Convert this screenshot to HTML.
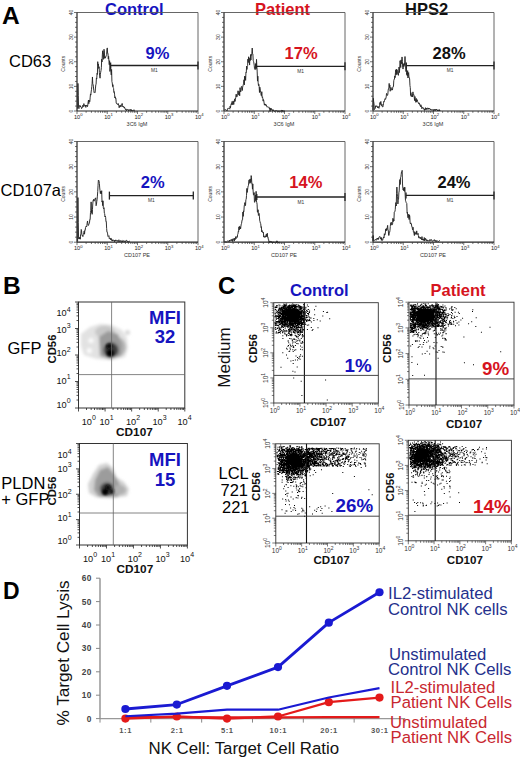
<!DOCTYPE html><html><head><meta charset="utf-8"><title>Figure</title><style>html,body{margin:0;padding:0;background:#fff;width:520px;height:758px;overflow:hidden}svg{display:block}</style></head><body><svg width="520" height="758" viewBox="0 0 520 758" font-family='"Liberation Sans", sans-serif'><defs><filter id="blur3" x="-50%" y="-50%" width="200%" height="200%"><feGaussianBlur stdDeviation="1.0"/></filter><filter id="blur15" x="-50%" y="-50%" width="200%" height="200%"><feGaussianBlur stdDeviation="1.5"/></filter></defs><rect width="520" height="758" fill="#fff"/><text x="2" y="24" font-size="24.5" font-weight="bold" fill="#000">A</text><text x="105" y="15" font-size="16.5" font-weight="bold" fill="#1614bf">Control</text><text x="255" y="15" font-size="16.5" font-weight="bold" fill="#d6141e">Patient</text><text x="405" y="15" font-size="16.5" font-weight="bold" fill="#111">HPS2</text><text x="9" y="66.5" font-size="16.5" fill="#000">CD63</text><text x="0.5" y="196" font-size="16.5" fill="#000">CD107a</text><line x1="77" y1="12.5" x2="198" y2="12.5" stroke="#555" stroke-width="0.9"/><line x1="198" y1="12.5" x2="198" y2="111" stroke="#555" stroke-width="0.9"/><line x1="77" y1="12.5" x2="77" y2="111" stroke="#222" stroke-width="1.2"/><line x1="77" y1="111" x2="198" y2="111" stroke="#222" stroke-width="1.2"/><path d="M74 111H77 M75 106.08H77 M75 101.15H77 M75 96.22H77 M75 91.3H77 M74 86.38H77 M75 81.45H77 M75 76.53H77 M75 71.6H77 M75 66.67H77 M74 61.75H77 M75 56.83H77 M75 51.9H77 M75 46.97H77 M75 42.05H77 M74 37.12H77 M75 32.2H77 M75 27.28H77 M75 22.35H77 M75 17.42H77 M74 12.5H77 M77 111v3 M86.11 111v1.8 M91.43 111v1.8 M95.21 111v1.8 M98.14 111v1.8 M100.54 111v1.8 M102.56 111v1.8 M104.32 111v1.8 M105.87 111v1.8 M107.25 111v3 M116.36 111v1.8 M121.68 111v1.8 M125.46 111v1.8 M128.39 111v1.8 M130.79 111v1.8 M132.81 111v1.8 M134.57 111v1.8 M136.12 111v1.8 M137.5 111v3 M146.61 111v1.8 M151.93 111v1.8 M155.71 111v1.8 M158.64 111v1.8 M161.04 111v1.8 M163.06 111v1.8 M164.82 111v1.8 M166.37 111v1.8 M167.75 111v3 M176.86 111v1.8 M182.18 111v1.8 M185.96 111v1.8 M188.89 111v1.8 M191.29 111v1.8 M193.31 111v1.8 M195.07 111v1.8 M196.62 111v1.8 M198 111v3" stroke="#333" stroke-width="0.7" fill="none"/><text x="71" y="111" font-size="5" fill="#333" text-anchor="middle" transform="rotate(-90 71 111)" dy="1.7">0</text><text x="71" y="86.38" font-size="5" fill="#333" text-anchor="middle" transform="rotate(-90 71 86.38)" dy="1.7">10</text><text x="71" y="61.75" font-size="5" fill="#333" text-anchor="middle" transform="rotate(-90 71 61.75)" dy="1.7">20</text><text x="71" y="37.12" font-size="5" fill="#333" text-anchor="middle" transform="rotate(-90 71 37.12)" dy="1.7">30</text><text x="71" y="12.5" font-size="5" fill="#333" text-anchor="middle" transform="rotate(-90 71 12.5)" dy="1.7">40</text><text x="74" y="119.2" font-size="5.6" fill="#222">10<tspan dy="-2.8" font-size="4.2">0</tspan></text><text x="104.25" y="119.2" font-size="5.6" fill="#222">10<tspan dy="-2.8" font-size="4.2">1</tspan></text><text x="134.5" y="119.2" font-size="5.6" fill="#222">10<tspan dy="-2.8" font-size="4.2">2</tspan></text><text x="164.75" y="119.2" font-size="5.6" fill="#222">10<tspan dy="-2.8" font-size="4.2">3</tspan></text><text x="195" y="119.2" font-size="5.6" fill="#222">10<tspan dy="-2.8" font-size="4.2">4</tspan></text><text x="137" y="125.5" font-size="5.5" fill="#333" text-anchor="middle">3C6 IgM</text><text x="65" y="63.75" font-size="5" fill="#333" text-anchor="middle" transform="rotate(-90 65 63.75)">Counts</text><polyline points="77.6,108.71 77.93,83.41 78.26,95.57 78.59,107.92 78.92,108.67 79.25,107.31 79.58,106.48 79.91,105.23 80.24,107.05 80.57,106.07 80.9,106.89 81.23,107.15 81.56,108.68 81.89,108.27 82.22,107.92 82.55,106.14 82.88,105.23 83.21,106.46 83.54,106.71 83.87,103.6 84.2,105.55 84.53,105.35 84.86,106.27 85.19,106.12 85.52,105.08 85.85,107.41 86.18,105.24 86.51,106 86.84,105.32 87.17,105.23 87.5,106.63 87.83,104.89 88.16,101.82 88.49,100 88.82,103.71 89.15,100.15 89.48,101.52 89.81,101.9 90.14,97.86 90.47,93.95 90.8,95.09 91.13,91.99 91.46,89.74 91.79,86.7 92.12,83.41 92.45,76.97 92.78,83.88 93.11,84.54 93.44,86.92 93.77,90.42 94.1,92.4 94.43,93.01 94.76,92.61 95.09,92.6 95.42,88.94 95.75,84.93 96.08,84.11 96.41,77.98 96.74,78.81 97.07,73.33 97.4,74.43 97.73,61.68 98.06,65.34 98.39,63.97 98.72,68.45 99.05,66.76 99.38,72.65 99.71,75.94 100.04,78.2 100.37,74.17 100.7,72.2 101.03,70.55 101.36,67.72 101.69,59.24 102.02,61.98 102.35,54.81 102.68,50.76 103.01,55.37 103.34,59.35 103.67,52.08 104,49.26 104.33,50.51 104.66,58.36 104.99,56.62 105.32,58.12 105.65,57.26 105.98,56.4 106.31,55.61 106.64,54.49 106.97,49.03 107.3,47.92 107.63,53.4 107.96,53.3 108.29,58.9 108.62,56.34 108.95,61.14 109.28,64.73 109.61,60.73 109.94,71.46 110.27,67.96 110.6,66.68 110.93,71.65 111.26,74.94 111.59,69.41 111.92,81.59 112.25,82.94 112.58,86.53 112.91,84.68 113.24,87.6 113.57,88.38 113.9,92.38 114.23,91.67 114.56,94.15 114.89,97.96 115.22,96.81 115.55,98.6 115.88,98.22 116.21,102.98 116.54,103.68 116.87,103.75 117.2,104.23 117.53,103.92 117.86,104.59 118.19,103.51 118.52,105 118.85,105.01 119.18,107.76 119.51,105.92 119.84,106.39 120.17,105.05 120.5,105.35 120.83,107.06 121.16,106.02 121.49,104.78 121.82,105.15 122.15,103.45 122.48,105.59 122.81,106.91 123.14,106.17 123.47,106.45 123.8,107.49 124.13,107.8 124.46,106.92 124.79,108.36 125.12,108.5 125.45,109.59 125.78,108.9 126.11,109.77 126.44,110.72 126.77,109.37 127.1,109.39 127.43,109.89 127.76,109.98 128.09,109.39 128.42,110.35 128.75,111 129.08,110.06 129.41,109.9 129.74,109.66 130.07,110.27 130.4,109.54 130.73,109.53 131.06,111 131.39,109.62 131.72,110.88 132.05,111 132.38,110.57 132.71,110.58 133.04,111 133.37,110.28 133.7,110.15 134.03,109.76 134.36,110.49 134.69,111" fill="none" stroke="#262626" stroke-width="0.95" stroke-linejoin="miter"/><line x1="110.6" y1="65.5" x2="198" y2="65.5" stroke="#222" stroke-width="1.3"/><line x1="198" y1="61.5" x2="198" y2="69.5" stroke="#222" stroke-width="1.3"/><line x1="110.6" y1="62.5" x2="110.6" y2="68.5" stroke="#222" stroke-width="1.3"/><text x="154.3" y="72" font-size="4.8" fill="#333" text-anchor="middle">M1</text><text x="145.5" y="59" font-size="16.5" font-weight="bold" fill="#1614bf">9%</text><line x1="224" y1="12.5" x2="345" y2="12.5" stroke="#555" stroke-width="0.9"/><line x1="345" y1="12.5" x2="345" y2="111" stroke="#555" stroke-width="0.9"/><line x1="224" y1="12.5" x2="224" y2="111" stroke="#222" stroke-width="1.2"/><line x1="224" y1="111" x2="345" y2="111" stroke="#222" stroke-width="1.2"/><path d="M221 111H224 M222 106.08H224 M222 101.15H224 M222 96.22H224 M222 91.3H224 M221 86.38H224 M222 81.45H224 M222 76.53H224 M222 71.6H224 M222 66.67H224 M221 61.75H224 M222 56.83H224 M222 51.9H224 M222 46.97H224 M222 42.05H224 M221 37.12H224 M222 32.2H224 M222 27.28H224 M222 22.35H224 M222 17.42H224 M221 12.5H224 M224 111v3 M233.11 111v1.8 M238.43 111v1.8 M242.21 111v1.8 M245.14 111v1.8 M247.54 111v1.8 M249.56 111v1.8 M251.32 111v1.8 M252.87 111v1.8 M254.25 111v3 M263.36 111v1.8 M268.68 111v1.8 M272.46 111v1.8 M275.39 111v1.8 M277.79 111v1.8 M279.81 111v1.8 M281.57 111v1.8 M283.12 111v1.8 M284.5 111v3 M293.61 111v1.8 M298.93 111v1.8 M302.71 111v1.8 M305.64 111v1.8 M308.04 111v1.8 M310.06 111v1.8 M311.82 111v1.8 M313.37 111v1.8 M314.75 111v3 M323.86 111v1.8 M329.18 111v1.8 M332.96 111v1.8 M335.89 111v1.8 M338.29 111v1.8 M340.31 111v1.8 M342.07 111v1.8 M343.62 111v1.8 M345 111v3" stroke="#333" stroke-width="0.7" fill="none"/><text x="218" y="111" font-size="5" fill="#333" text-anchor="middle" transform="rotate(-90 218 111)" dy="1.7">0</text><text x="218" y="86.38" font-size="5" fill="#333" text-anchor="middle" transform="rotate(-90 218 86.38)" dy="1.7">10</text><text x="218" y="61.75" font-size="5" fill="#333" text-anchor="middle" transform="rotate(-90 218 61.75)" dy="1.7">20</text><text x="218" y="37.12" font-size="5" fill="#333" text-anchor="middle" transform="rotate(-90 218 37.12)" dy="1.7">30</text><text x="218" y="12.5" font-size="5" fill="#333" text-anchor="middle" transform="rotate(-90 218 12.5)" dy="1.7">40</text><text x="221" y="119.2" font-size="5.6" fill="#222">10<tspan dy="-2.8" font-size="4.2">0</tspan></text><text x="251.25" y="119.2" font-size="5.6" fill="#222">10<tspan dy="-2.8" font-size="4.2">1</tspan></text><text x="281.5" y="119.2" font-size="5.6" fill="#222">10<tspan dy="-2.8" font-size="4.2">2</tspan></text><text x="311.75" y="119.2" font-size="5.6" fill="#222">10<tspan dy="-2.8" font-size="4.2">3</tspan></text><text x="342" y="119.2" font-size="5.6" fill="#222">10<tspan dy="-2.8" font-size="4.2">4</tspan></text><text x="284" y="125.5" font-size="5.5" fill="#333" text-anchor="middle">3C6 IgM</text><text x="212" y="63.75" font-size="5" fill="#333" text-anchor="middle" transform="rotate(-90 212 63.75)">Counts</text><polyline points="224.5,109.53 224.83,109.56 225.16,109.84 225.49,109.57 225.82,109.45 226.15,110.08 226.48,110.47 226.81,110.15 227.14,110.77 227.47,109.77 227.8,108.46 228.13,107.99 228.46,108.27 228.79,108.41 229.12,108.2 229.45,108.78 229.78,109.18 230.11,106.16 230.44,107.83 230.77,105.47 231.1,104.19 231.43,103.4 231.76,104.72 232.09,101.46 232.42,104.09 232.75,104.72 233.08,100.95 233.41,101.44 233.74,104.52 234.07,100.88 234.4,101.45 234.73,98.83 235.06,101.43 235.39,99.22 235.72,97.78 236.05,94.12 236.38,94.33 236.71,97.06 237.04,96.57 237.37,96.09 237.7,95.31 238.03,90.78 238.36,94.73 238.69,94.2 239.02,91.26 239.35,91.7 239.68,95.77 240.01,87.71 240.34,89.52 240.67,91.95 241,90.68 241.33,86.66 241.66,86.3 241.99,87.5 242.32,90.51 242.65,87.15 242.98,85.89 243.31,84.54 243.64,83.87 243.97,79.76 244.3,84.93 244.63,76.2 244.96,78.86 245.29,76.42 245.62,80.42 245.95,72.21 246.28,72.67 246.61,66.13 246.94,69.46 247.27,66.17 247.6,65.64 247.93,59.09 248.26,62.56 248.59,56.79 248.92,59.78 249.25,59.54 249.58,65.05 249.91,57.89 250.24,60.55 250.57,54.58 250.9,60 251.23,54.53 251.56,55.3 251.89,53.19 252.22,48.05 252.55,53.78 252.88,53.95 253.21,60.37 253.54,61.46 253.87,62.9 254.2,65.14 254.53,68.61 254.86,69.41 255.19,69.51 255.52,66.18 255.85,63.86 256.18,68.09 256.51,59.33 256.84,66.44 257.17,71.06 257.5,81.11 257.83,76.15 258.16,82.69 258.49,85.61 258.82,84.32 259.15,86.24 259.48,92.51 259.81,87.13 260.14,88.79 260.47,92.06 260.8,92.18 261.13,95.57 261.46,95.67 261.79,91.68 262.12,97.25 262.45,96.82 262.78,98.22 263.11,101.1 263.44,99.55 263.77,100.66 264.1,103.04 264.43,105.16 264.76,103.83 265.09,104.65 265.42,105.05 265.75,104.05 266.08,106.01 266.41,105.31 266.74,106.61 267.07,107.11 267.4,106.79 267.73,106.71 268.06,107.31 268.39,107.28 268.72,106.91 269.05,107.26 269.38,108.81 269.71,107.9 270.04,111.5 270.37,108.46 270.7,109.88 271.03,108.13 271.36,109.49 271.69,109.06 272.02,110.07 272.35,111.01 272.68,110.31 273.01,109.52 273.34,110.77 273.67,110.05 274,110.73 274.33,111.5 274.66,111.37 274.99,111.43 275.32,111.21 275.65,110.99 275.98,110.38 276.31,110.81 276.64,110.78 276.97,111.27 277.3,111.4 277.63,111.19 277.96,110.68 278.29,111.5 278.62,111.5 278.95,110.91 279.28,111.08 279.61,111.26 279.94,111.04 280.27,110.96 280.6,111.2 280.93,111 281.26,111.08 281.59,110.36 281.92,110.36 282.25,111.5 282.58,110.39 282.91,111.19 283.24,111.13 283.57,111.09 283.9,110.72 284.23,111.41 284.56,111.14 284.89,110.86" fill="none" stroke="#262626" stroke-width="0.95" stroke-linejoin="miter"/><line x1="256" y1="66.3" x2="345" y2="66.3" stroke="#222" stroke-width="1.3"/><line x1="345" y1="62.3" x2="345" y2="70.3" stroke="#222" stroke-width="1.3"/><line x1="256" y1="63.3" x2="256" y2="69.3" stroke="#222" stroke-width="1.3"/><text x="300.5" y="72.8" font-size="4.8" fill="#333" text-anchor="middle">M1</text><text x="284.6" y="58.8" font-size="16.5" font-weight="bold" fill="#d6141e">17%</text><line x1="373" y1="12.5" x2="494" y2="12.5" stroke="#555" stroke-width="0.9"/><line x1="494" y1="12.5" x2="494" y2="111" stroke="#555" stroke-width="0.9"/><line x1="373" y1="12.5" x2="373" y2="111" stroke="#222" stroke-width="1.2"/><line x1="373" y1="111" x2="494" y2="111" stroke="#222" stroke-width="1.2"/><path d="M370 111H373 M371 106.08H373 M371 101.15H373 M371 96.22H373 M371 91.3H373 M370 86.38H373 M371 81.45H373 M371 76.53H373 M371 71.6H373 M371 66.67H373 M370 61.75H373 M371 56.83H373 M371 51.9H373 M371 46.97H373 M371 42.05H373 M370 37.12H373 M371 32.2H373 M371 27.28H373 M371 22.35H373 M371 17.42H373 M370 12.5H373 M373 111v3 M382.11 111v1.8 M387.43 111v1.8 M391.21 111v1.8 M394.14 111v1.8 M396.54 111v1.8 M398.56 111v1.8 M400.32 111v1.8 M401.87 111v1.8 M403.25 111v3 M412.36 111v1.8 M417.68 111v1.8 M421.46 111v1.8 M424.39 111v1.8 M426.79 111v1.8 M428.81 111v1.8 M430.57 111v1.8 M432.12 111v1.8 M433.5 111v3 M442.61 111v1.8 M447.93 111v1.8 M451.71 111v1.8 M454.64 111v1.8 M457.04 111v1.8 M459.06 111v1.8 M460.82 111v1.8 M462.37 111v1.8 M463.75 111v3 M472.86 111v1.8 M478.18 111v1.8 M481.96 111v1.8 M484.89 111v1.8 M487.29 111v1.8 M489.31 111v1.8 M491.07 111v1.8 M492.62 111v1.8 M494 111v3" stroke="#333" stroke-width="0.7" fill="none"/><text x="367" y="111" font-size="5" fill="#333" text-anchor="middle" transform="rotate(-90 367 111)" dy="1.7">0</text><text x="367" y="86.38" font-size="5" fill="#333" text-anchor="middle" transform="rotate(-90 367 86.38)" dy="1.7">10</text><text x="367" y="61.75" font-size="5" fill="#333" text-anchor="middle" transform="rotate(-90 367 61.75)" dy="1.7">20</text><text x="367" y="37.12" font-size="5" fill="#333" text-anchor="middle" transform="rotate(-90 367 37.12)" dy="1.7">30</text><text x="367" y="12.5" font-size="5" fill="#333" text-anchor="middle" transform="rotate(-90 367 12.5)" dy="1.7">40</text><text x="370" y="119.2" font-size="5.6" fill="#222">10<tspan dy="-2.8" font-size="4.2">0</tspan></text><text x="400.25" y="119.2" font-size="5.6" fill="#222">10<tspan dy="-2.8" font-size="4.2">1</tspan></text><text x="430.5" y="119.2" font-size="5.6" fill="#222">10<tspan dy="-2.8" font-size="4.2">2</tspan></text><text x="460.75" y="119.2" font-size="5.6" fill="#222">10<tspan dy="-2.8" font-size="4.2">3</tspan></text><text x="491" y="119.2" font-size="5.6" fill="#222">10<tspan dy="-2.8" font-size="4.2">4</tspan></text><text x="433" y="125.5" font-size="5.5" fill="#333" text-anchor="middle">3C6 IgM</text><text x="361" y="63.75" font-size="5" fill="#333" text-anchor="middle" transform="rotate(-90 361 63.75)">Counts</text><polyline points="373,109.88 373.33,98.3 373.66,101.53 373.99,103.64 374.32,109.67 374.65,109.23 374.98,108.72 375.31,108.3 375.64,105.82 375.97,106.74 376.3,105.72 376.63,106.29 376.96,106.36 377.29,106.22 377.62,107.82 377.95,107 378.28,106.54 378.61,107.92 378.94,108.33 379.27,106.45 379.6,106.71 379.93,102.53 380.26,104.52 380.59,101.89 380.92,101.44 381.25,104.52 381.58,105.61 381.91,104.23 382.24,106.28 382.57,107.02 382.9,106.94 383.23,105.42 383.56,103.28 383.89,101.13 384.22,101.62 384.55,100.3 384.88,99.05 385.21,98.51 385.54,99.37 385.87,98.31 386.2,96.91 386.53,93.46 386.86,94.41 387.19,94.67 387.52,95.41 387.85,94.11 388.18,90.19 388.51,88.52 388.84,88.55 389.17,83.43 389.5,87.41 389.83,85.1 390.16,91.25 390.49,88.3 390.82,87.34 391.15,87.72 391.48,89.27 391.81,90.25 392.14,89.13 392.47,89.93 392.8,87.12 393.13,86.47 393.46,86.6 393.79,80.65 394.12,79.22 394.45,79.25 394.78,75.91 395.11,77.62 395.44,72.7 395.77,69.81 396.1,75.07 396.43,69.19 396.76,73.7 397.09,69.73 397.42,73.38 397.75,74.25 398.08,73.83 398.41,75.37 398.74,70.8 399.07,67 399.4,72.6 399.73,67.96 400.06,60.74 400.39,63.47 400.72,67.53 401.05,59.91 401.38,63.75 401.71,61.69 402.04,56.95 402.37,61.38 402.7,67.61 403.03,69.07 403.36,67.26 403.69,63.74 404.02,66.43 404.35,63.36 404.68,64.57 405.01,56.5 405.34,65.18 405.67,66.03 406,71.59 406.33,67.41 406.66,74.58 406.99,73.12 407.32,75.82 407.65,70.64 407.98,78.03 408.31,73.94 408.64,72.55 408.97,77.5 409.3,77.54 409.63,78.93 409.96,85.64 410.29,87.54 410.62,95.45 410.95,92.6 411.28,96.74 411.61,96.24 411.94,94.7 412.27,94.43 412.6,96.99 412.93,91.89 413.26,94.9 413.59,94.77 413.92,94.6 414.25,97.65 414.58,100.58 414.91,96.48 415.24,98.48 415.57,101.21 415.9,102.38 416.23,98.38 416.56,101.88 416.89,100.55 417.22,99.71 417.55,101.36 417.88,102.07 418.21,102.66 418.54,103.51 418.87,102.78 419.2,104.06 419.53,103.48 419.86,105.3 420.19,105.43 420.52,106.68 420.85,104.72 421.18,105.49 421.51,105.93 421.84,108.71 422.17,107.65 422.5,107.5 422.83,107.16 423.16,108 423.49,109.06 423.82,108.78 424.15,108.99 424.48,110.36 424.81,108.86 425.14,109.79 425.47,107.7 425.8,109.38 426.13,109.05 426.46,108.13 426.79,109.61 427.12,108.65 427.45,107.85 427.78,108.62 428.11,109.37 428.44,107.98 428.77,108.9 429.1,108.2 429.43,109.09 429.76,108.68 430.09,108.85 430.42,110.03 430.75,109.3 431.08,109.9 431.41,109.91 431.74,109.8 432.07,109.56 432.4,110 432.73,109.64 433.06,110.77 433.39,110.79 433.72,110.95 434.05,109.04 434.38,110.05 434.71,110.02 435.04,110.79 435.37,110.54 435.7,109.31 436.03,110.11 436.36,109.09 436.69,109.78 437.02,109.62 437.35,109.8 437.68,111 438.01,109.88 438.34,110.09 438.67,110.34 439,110.97 439.33,109.58 439.66,111 439.99,110.18" fill="none" stroke="#262626" stroke-width="0.95" stroke-linejoin="miter"/><line x1="406.3" y1="65.6" x2="494" y2="65.6" stroke="#222" stroke-width="1.3"/><line x1="494" y1="61.599999999999994" x2="494" y2="69.6" stroke="#222" stroke-width="1.3"/><line x1="406.3" y1="62.599999999999994" x2="406.3" y2="68.6" stroke="#222" stroke-width="1.3"/><text x="450.15" y="72.1" font-size="4.8" fill="#333" text-anchor="middle">M1</text><text x="432.6" y="58.8" font-size="16.5" font-weight="bold" fill="#111">28%</text><line x1="77" y1="141.5" x2="198" y2="141.5" stroke="#555" stroke-width="0.9"/><line x1="198" y1="141.5" x2="198" y2="242.2" stroke="#555" stroke-width="0.9"/><line x1="77" y1="141.5" x2="77" y2="242.2" stroke="#222" stroke-width="1.2"/><line x1="77" y1="242.2" x2="198" y2="242.2" stroke="#222" stroke-width="1.2"/><path d="M74 242.2H77 M75 237.16H77 M75 232.13H77 M75 227.09H77 M75 222.06H77 M74 217.02H77 M75 211.99H77 M75 206.95H77 M75 201.92H77 M75 196.88H77 M74 191.85H77 M75 186.81H77 M75 181.78H77 M75 176.75H77 M75 171.71H77 M74 166.68H77 M75 161.64H77 M75 156.6H77 M75 151.57H77 M75 146.53H77 M74 141.5H77 M77 242.2v3 M86.11 242.2v1.8 M91.43 242.2v1.8 M95.21 242.2v1.8 M98.14 242.2v1.8 M100.54 242.2v1.8 M102.56 242.2v1.8 M104.32 242.2v1.8 M105.87 242.2v1.8 M107.25 242.2v3 M116.36 242.2v1.8 M121.68 242.2v1.8 M125.46 242.2v1.8 M128.39 242.2v1.8 M130.79 242.2v1.8 M132.81 242.2v1.8 M134.57 242.2v1.8 M136.12 242.2v1.8 M137.5 242.2v3 M146.61 242.2v1.8 M151.93 242.2v1.8 M155.71 242.2v1.8 M158.64 242.2v1.8 M161.04 242.2v1.8 M163.06 242.2v1.8 M164.82 242.2v1.8 M166.37 242.2v1.8 M167.75 242.2v3 M176.86 242.2v1.8 M182.18 242.2v1.8 M185.96 242.2v1.8 M188.89 242.2v1.8 M191.29 242.2v1.8 M193.31 242.2v1.8 M195.07 242.2v1.8 M196.62 242.2v1.8 M198 242.2v3" stroke="#333" stroke-width="0.7" fill="none"/><text x="71" y="242.2" font-size="5" fill="#333" text-anchor="middle" transform="rotate(-90 71 242.2)" dy="1.7">0</text><text x="71" y="217.02" font-size="5" fill="#333" text-anchor="middle" transform="rotate(-90 71 217.02)" dy="1.7">10</text><text x="71" y="191.85" font-size="5" fill="#333" text-anchor="middle" transform="rotate(-90 71 191.85)" dy="1.7">20</text><text x="71" y="166.68" font-size="5" fill="#333" text-anchor="middle" transform="rotate(-90 71 166.68)" dy="1.7">30</text><text x="71" y="141.5" font-size="5" fill="#333" text-anchor="middle" transform="rotate(-90 71 141.5)" dy="1.7">40</text><text x="74" y="250.4" font-size="5.6" fill="#222">10<tspan dy="-2.8" font-size="4.2">0</tspan></text><text x="104.25" y="250.4" font-size="5.6" fill="#222">10<tspan dy="-2.8" font-size="4.2">1</tspan></text><text x="134.5" y="250.4" font-size="5.6" fill="#222">10<tspan dy="-2.8" font-size="4.2">2</tspan></text><text x="164.75" y="250.4" font-size="5.6" fill="#222">10<tspan dy="-2.8" font-size="4.2">3</tspan></text><text x="195" y="250.4" font-size="5.6" fill="#222">10<tspan dy="-2.8" font-size="4.2">4</tspan></text><text x="137" y="256.7" font-size="5.5" fill="#333" text-anchor="middle">CD107 PE</text><text x="65" y="193.85" font-size="5" fill="#333" text-anchor="middle" transform="rotate(-90 65 193.85)">Counts</text><polyline points="77.6,241.39 77.93,197.58 78.26,222.62 78.59,238.04 78.92,239.05 79.25,237.78 79.58,238.89 79.91,237.04 80.24,239.22 80.57,234.39 80.9,233.88 81.23,229.44 81.56,230.72 81.89,234.92 82.22,235.77 82.55,235.48 82.88,236.62 83.21,234.73 83.54,234.21 83.87,232.59 84.2,231.06 84.53,234.21 84.86,230.01 85.19,230.2 85.52,227.64 85.85,226.98 86.18,226.08 86.51,226.88 86.84,226.1 87.17,223.12 87.5,220.98 87.83,223.19 88.16,225.28 88.49,225.41 88.82,224.38 89.15,223.73 89.48,222.91 89.81,219.53 90.14,219.62 90.47,212.65 90.8,210.56 91.13,201.88 91.46,212.64 91.79,209.88 92.12,214.32 92.45,209.76 92.78,203.96 93.11,200.35 93.44,200.78 93.77,199.2 94.1,201.2 94.43,200.4 94.76,199.88 95.09,198.39 95.42,198.66 95.75,197.82 96.08,205.7 96.41,204.63 96.74,201.71 97.07,199.77 97.4,196.13 97.73,191.39 98.06,185.33 98.39,180.02 98.72,180.36 99.05,181.12 99.38,183.46 99.71,187.98 100.04,190.74 100.37,193.6 100.7,191.11 101.03,192.23 101.36,193.92 101.69,190.69 102.02,202.06 102.35,200.88 102.68,205.63 103.01,200.82 103.34,207.67 103.67,208.71 104,207.7 104.33,213.23 104.66,213.51 104.99,216.97 105.32,216.07 105.65,217.51 105.98,221.74 106.31,221.55 106.64,228.48 106.97,232.15 107.3,232.18 107.63,233.89 107.96,236.37 108.29,236 108.62,236.22 108.95,235.71 109.28,238.5 109.61,238 109.94,238.7 110.27,239.32 110.6,239.72 110.93,237.98 111.26,239.96 111.59,239.43 111.92,240.72 112.25,239.96 112.58,241.02 112.91,239.71 113.24,240.2 113.57,240.16 113.9,240.67 114.23,240.29 114.56,241.64 114.89,240.19 115.22,241.05 115.55,240.07 115.88,240.2 116.21,240.51 116.54,240.2 116.87,241.04 117.2,240.68 117.53,240.54 117.86,241.42 118.19,241.83 118.52,240.63 118.85,239.75 119.18,240.82 119.51,240.85 119.84,241.79 120.17,240.8 120.5,240.6 120.83,241.32 121.16,241.76 121.49,240.73 121.82,241.19 122.15,241.05 122.48,242 122.81,240.52 123.14,240.74 123.47,240.87 123.8,241.52 124.13,240.77 124.46,241.36 124.79,241.5 125.12,242 125.45,240.98 125.78,240.96 126.11,240.85 126.44,240.18 126.77,240.44 127.1,241.51 127.43,241.31 127.76,242 128.09,241.93 128.42,241.78 128.75,242 129.08,241.16 129.41,241.16 129.74,241.15" fill="none" stroke="#262626" stroke-width="0.95" stroke-linejoin="miter"/><line x1="109.4" y1="195.6" x2="193.3" y2="195.6" stroke="#222" stroke-width="1.3"/><line x1="193.3" y1="191.6" x2="193.3" y2="199.6" stroke="#222" stroke-width="1.3"/><line x1="109.4" y1="191.6" x2="109.4" y2="199.6" stroke="#222" stroke-width="1.3"/><text x="151.35" y="202.1" font-size="4.8" fill="#333" text-anchor="middle">M1</text><text x="140.8" y="188" font-size="16.5" font-weight="bold" fill="#1614bf">2%</text><line x1="224" y1="141.5" x2="345" y2="141.5" stroke="#555" stroke-width="0.9"/><line x1="345" y1="141.5" x2="345" y2="242.2" stroke="#555" stroke-width="0.9"/><line x1="224" y1="141.5" x2="224" y2="242.2" stroke="#222" stroke-width="1.2"/><line x1="224" y1="242.2" x2="345" y2="242.2" stroke="#222" stroke-width="1.2"/><path d="M221 242.2H224 M222 237.16H224 M222 232.13H224 M222 227.09H224 M222 222.06H224 M221 217.02H224 M222 211.99H224 M222 206.95H224 M222 201.92H224 M222 196.88H224 M221 191.85H224 M222 186.81H224 M222 181.78H224 M222 176.75H224 M222 171.71H224 M221 166.68H224 M222 161.64H224 M222 156.6H224 M222 151.57H224 M222 146.53H224 M221 141.5H224 M224 242.2v3 M233.11 242.2v1.8 M238.43 242.2v1.8 M242.21 242.2v1.8 M245.14 242.2v1.8 M247.54 242.2v1.8 M249.56 242.2v1.8 M251.32 242.2v1.8 M252.87 242.2v1.8 M254.25 242.2v3 M263.36 242.2v1.8 M268.68 242.2v1.8 M272.46 242.2v1.8 M275.39 242.2v1.8 M277.79 242.2v1.8 M279.81 242.2v1.8 M281.57 242.2v1.8 M283.12 242.2v1.8 M284.5 242.2v3 M293.61 242.2v1.8 M298.93 242.2v1.8 M302.71 242.2v1.8 M305.64 242.2v1.8 M308.04 242.2v1.8 M310.06 242.2v1.8 M311.82 242.2v1.8 M313.37 242.2v1.8 M314.75 242.2v3 M323.86 242.2v1.8 M329.18 242.2v1.8 M332.96 242.2v1.8 M335.89 242.2v1.8 M338.29 242.2v1.8 M340.31 242.2v1.8 M342.07 242.2v1.8 M343.62 242.2v1.8 M345 242.2v3" stroke="#333" stroke-width="0.7" fill="none"/><text x="218" y="242.2" font-size="5" fill="#333" text-anchor="middle" transform="rotate(-90 218 242.2)" dy="1.7">0</text><text x="218" y="217.02" font-size="5" fill="#333" text-anchor="middle" transform="rotate(-90 218 217.02)" dy="1.7">10</text><text x="218" y="191.85" font-size="5" fill="#333" text-anchor="middle" transform="rotate(-90 218 191.85)" dy="1.7">20</text><text x="218" y="166.68" font-size="5" fill="#333" text-anchor="middle" transform="rotate(-90 218 166.68)" dy="1.7">30</text><text x="218" y="141.5" font-size="5" fill="#333" text-anchor="middle" transform="rotate(-90 218 141.5)" dy="1.7">40</text><text x="221" y="250.4" font-size="5.6" fill="#222">10<tspan dy="-2.8" font-size="4.2">0</tspan></text><text x="251.25" y="250.4" font-size="5.6" fill="#222">10<tspan dy="-2.8" font-size="4.2">1</tspan></text><text x="281.5" y="250.4" font-size="5.6" fill="#222">10<tspan dy="-2.8" font-size="4.2">2</tspan></text><text x="311.75" y="250.4" font-size="5.6" fill="#222">10<tspan dy="-2.8" font-size="4.2">3</tspan></text><text x="342" y="250.4" font-size="5.6" fill="#222">10<tspan dy="-2.8" font-size="4.2">4</tspan></text><text x="284" y="256.7" font-size="5.5" fill="#333" text-anchor="middle">CD107 PE</text><text x="212" y="193.85" font-size="5" fill="#333" text-anchor="middle" transform="rotate(-90 212 193.85)">Counts</text><polyline points="224.75,241.47 225.08,241.78 225.41,241.63 225.74,242.06 226.07,242.23 226.4,241.75 226.73,241.84 227.06,241.55 227.39,241.24 227.72,241.01 228.05,241.22 228.38,241.53 228.71,241.3 229.04,241.48 229.37,240.03 229.7,241.45 230.03,240.3 230.36,240.01 230.69,240.39 231.02,239.8 231.35,240.73 231.68,239.37 232.01,239.25 232.34,239.09 232.67,241.5 233,239.66 233.33,238.82 233.66,239.37 233.99,238.55 234.32,241.13 234.65,238.25 234.98,239.5 235.31,239.45 235.64,236.68 235.97,238.41 236.3,238.42 236.63,237.74 236.96,236.53 237.29,237.27 237.62,234.52 237.95,233.86 238.28,231.53 238.61,231.93 238.94,226.84 239.27,229.86 239.6,226.33 239.93,226.3 240.26,226.91 240.59,228.91 240.92,226.29 241.25,224.04 241.58,223.38 241.91,221.03 242.24,219.58 242.57,219.69 242.9,211.97 243.23,216.37 243.56,210.86 243.89,211.52 244.22,205.96 244.55,204.32 244.88,202.58 245.21,205.8 245.54,205.39 245.87,199.73 246.2,199.22 246.53,195.39 246.86,188.44 247.19,192.44 247.52,190.15 247.85,187.69 248.18,185.76 248.51,185.53 248.84,180.18 249.17,180.31 249.5,179.75 249.83,183.41 250.16,178.95 250.49,182.59 250.82,182.25 251.15,175.6 251.48,177.3 251.81,183.71 252.14,183.44 252.47,189.17 252.8,183.9 253.13,191.09 253.46,194.62 253.79,195.19 254.12,192.58 254.45,202.18 254.78,202.32 255.11,200.57 255.44,194.98 255.77,200.71 256.1,191.34 256.43,200.9 256.76,202.54 257.09,204.17 257.42,211.98 257.75,212.38 258.08,209.72 258.41,215.46 258.74,214.52 259.07,213.39 259.4,216.14 259.73,220.76 260.06,221.7 260.39,223.3 260.72,223.5 261.05,227.46 261.38,226.68 261.71,231.82 262.04,230.49 262.37,232.2 262.7,232.41 263.03,232.41 263.36,231.97 263.69,237.1 264.02,235.82 264.35,236.4 264.68,237.41 265.01,236.81 265.34,237.1 265.67,235.89 266,236.15 266.33,234.07 266.66,236.82 266.99,234.81 267.32,233.22 267.65,237.11 267.98,237.02 268.31,239.54 268.64,239.43 268.97,242.09 269.3,242.75 269.63,241.33 269.96,242.1 270.29,241.91 270.62,242.12 270.95,241.13 271.28,241.42 271.61,242.37 271.94,242.05 272.27,242.75 272.6,241.84 272.93,242.3 273.26,242.75 273.59,241.94 273.92,241.84 274.25,242.21 274.58,242.15 274.91,242.62 275.24,242.22 275.57,241.83 275.9,242.17 276.23,242.75 276.56,242.68 276.89,240.81 277.22,241.99 277.55,241.66 277.88,242.38 278.21,242.01 278.54,242.75 278.87,242.56 279.2,242.5 279.53,242.23 279.86,241.97" fill="none" stroke="#262626" stroke-width="0.95" stroke-linejoin="miter"/><line x1="256.8" y1="197.0" x2="345" y2="197.0" stroke="#222" stroke-width="1.3"/><line x1="345" y1="193.0" x2="345" y2="201.0" stroke="#222" stroke-width="1.3"/><line x1="256.8" y1="194.0" x2="256.8" y2="200.0" stroke="#222" stroke-width="1.3"/><text x="300.9" y="203.5" font-size="4.8" fill="#333" text-anchor="middle">M1</text><text x="289.3" y="187.6" font-size="16.5" font-weight="bold" fill="#d6141e">14%</text><line x1="373" y1="141.5" x2="494" y2="141.5" stroke="#555" stroke-width="0.9"/><line x1="494" y1="141.5" x2="494" y2="242.2" stroke="#555" stroke-width="0.9"/><line x1="373" y1="141.5" x2="373" y2="242.2" stroke="#222" stroke-width="1.2"/><line x1="373" y1="242.2" x2="494" y2="242.2" stroke="#222" stroke-width="1.2"/><path d="M370 242.2H373 M371 237.16H373 M371 232.13H373 M371 227.09H373 M371 222.06H373 M370 217.02H373 M371 211.99H373 M371 206.95H373 M371 201.92H373 M371 196.88H373 M370 191.85H373 M371 186.81H373 M371 181.78H373 M371 176.75H373 M371 171.71H373 M370 166.68H373 M371 161.64H373 M371 156.6H373 M371 151.57H373 M371 146.53H373 M370 141.5H373 M373 242.2v3 M382.11 242.2v1.8 M387.43 242.2v1.8 M391.21 242.2v1.8 M394.14 242.2v1.8 M396.54 242.2v1.8 M398.56 242.2v1.8 M400.32 242.2v1.8 M401.87 242.2v1.8 M403.25 242.2v3 M412.36 242.2v1.8 M417.68 242.2v1.8 M421.46 242.2v1.8 M424.39 242.2v1.8 M426.79 242.2v1.8 M428.81 242.2v1.8 M430.57 242.2v1.8 M432.12 242.2v1.8 M433.5 242.2v3 M442.61 242.2v1.8 M447.93 242.2v1.8 M451.71 242.2v1.8 M454.64 242.2v1.8 M457.04 242.2v1.8 M459.06 242.2v1.8 M460.82 242.2v1.8 M462.37 242.2v1.8 M463.75 242.2v3 M472.86 242.2v1.8 M478.18 242.2v1.8 M481.96 242.2v1.8 M484.89 242.2v1.8 M487.29 242.2v1.8 M489.31 242.2v1.8 M491.07 242.2v1.8 M492.62 242.2v1.8 M494 242.2v3" stroke="#333" stroke-width="0.7" fill="none"/><text x="367" y="242.2" font-size="5" fill="#333" text-anchor="middle" transform="rotate(-90 367 242.2)" dy="1.7">0</text><text x="367" y="217.02" font-size="5" fill="#333" text-anchor="middle" transform="rotate(-90 367 217.02)" dy="1.7">10</text><text x="367" y="191.85" font-size="5" fill="#333" text-anchor="middle" transform="rotate(-90 367 191.85)" dy="1.7">20</text><text x="367" y="166.68" font-size="5" fill="#333" text-anchor="middle" transform="rotate(-90 367 166.68)" dy="1.7">30</text><text x="367" y="141.5" font-size="5" fill="#333" text-anchor="middle" transform="rotate(-90 367 141.5)" dy="1.7">40</text><text x="370" y="250.4" font-size="5.6" fill="#222">10<tspan dy="-2.8" font-size="4.2">0</tspan></text><text x="400.25" y="250.4" font-size="5.6" fill="#222">10<tspan dy="-2.8" font-size="4.2">1</tspan></text><text x="430.5" y="250.4" font-size="5.6" fill="#222">10<tspan dy="-2.8" font-size="4.2">2</tspan></text><text x="460.75" y="250.4" font-size="5.6" fill="#222">10<tspan dy="-2.8" font-size="4.2">3</tspan></text><text x="491" y="250.4" font-size="5.6" fill="#222">10<tspan dy="-2.8" font-size="4.2">4</tspan></text><text x="433" y="256.7" font-size="5.5" fill="#333" text-anchor="middle">CD107 PE</text><text x="361" y="193.85" font-size="5" fill="#333" text-anchor="middle" transform="rotate(-90 361 193.85)">Counts</text><polyline points="372.8,240.86 373.13,235.46 373.46,239.18 373.79,240.87 374.12,240.12 374.45,239.91 374.78,240.27 375.11,239.82 375.44,239.79 375.77,239.21 376.1,239.97 376.43,240.24 376.76,239.92 377.09,238.17 377.42,239.18 377.75,238.01 378.08,238.84 378.41,239.44 378.74,237.55 379.07,237.33 379.4,236.61 379.73,236.68 380.06,236.55 380.39,238.93 380.72,238.25 381.05,237.52 381.38,240.37 381.71,237.75 382.04,240.26 382.37,240.32 382.7,240.19 383.03,238.58 383.36,238.3 383.69,236.9 384.02,237.81 384.35,233.72 384.68,235.14 385.01,234.93 385.34,233 385.67,229.19 386,230.98 386.33,228.45 386.66,230.26 386.99,229.35 387.32,227.12 387.65,225.36 387.98,230.43 388.31,230.35 388.64,235.31 388.97,235.53 389.3,232.26 389.63,232.36 389.96,230.52 390.29,226.43 390.62,223.09 390.95,223.06 391.28,222.19 391.61,224.94 391.94,224.86 392.27,224.83 392.6,224.06 392.93,218.29 393.26,221.62 393.59,219.36 393.92,220.98 394.25,212.19 394.58,211.72 394.91,211.67 395.24,209.65 395.57,204.57 395.9,202.55 396.23,206.01 396.56,193.71 396.89,187.08 397.22,193.74 397.55,196.69 397.88,203.96 398.21,200.61 398.54,199.38 398.87,192.83 399.2,190.88 399.53,183.88 399.86,179.58 400.19,184.47 400.52,177.39 400.85,176.82 401.18,174.45 401.51,171.96 401.84,171.5 402.17,170.37 402.5,183.97 402.83,188.23 403.16,190.03 403.49,188.4 403.82,190.82 404.15,187.28 404.48,191.33 404.81,187.25 405.14,193.97 405.47,200.26 405.8,201.45 406.13,202.45 406.46,203.13 406.79,203.52 407.12,213.23 407.45,212.2 407.78,217.69 408.11,217.92 408.44,217.57 408.77,214.14 409.1,219.53 409.43,215.01 409.76,216.01 410.09,222.33 410.42,223.89 410.75,222.82 411.08,224.2 411.41,223.88 411.74,226.57 412.07,226.59 412.4,228.66 412.73,229.86 413.06,227.23 413.39,231.9 413.72,231.87 414.05,233.75 414.38,235.52 414.71,231.62 415.04,234.34 415.37,234.17 415.7,233.16 416.03,232.41 416.36,234.41 416.69,230.88 417.02,233.64 417.35,234.1 417.68,234.54 418.01,233.22 418.34,235.39 418.67,237.7 419,238.13 419.33,236.85 419.66,236.95 419.99,237.81 420.32,238.7 420.65,237.32 420.98,238.17 421.31,239.06 421.64,239.75 421.97,236.61 422.3,239.99 422.63,239.07 422.96,240.18 423.29,239.14 423.62,239.88 423.95,240.63 424.28,237.52 424.61,240.8 424.94,240.29 425.27,238.73 425.6,238.25 425.93,240.18 426.26,239.56 426.59,240.83 426.92,240.38 427.25,240.09 427.58,241.11 427.91,240.37 428.24,240.85 428.57,240.77 428.9,240.67 429.23,240.81 429.56,241.07 429.89,239.52 430.22,240.42 430.55,240.45 430.88,240.41 431.21,239.41 431.54,240.44 431.87,240.63 432.2,240.86 432.53,241.34 432.86,240.38 433.19,240.31 433.52,240.38 433.85,240.51 434.18,240.42 434.51,239.7 434.84,241.05 435.17,241.26 435.5,241.41 435.83,240.17 436.16,240.79 436.49,241.5 436.82,240.82 437.15,241.03 437.48,240.84 437.81,241.34 438.14,241.4 438.47,241.5 438.8,241.24 439.13,241.13 439.46,240.47 439.79,240.8" fill="none" stroke="#262626" stroke-width="0.95" stroke-linejoin="miter"/><line x1="406.0" y1="195.4" x2="494" y2="195.4" stroke="#222" stroke-width="1.3"/><line x1="494" y1="191.4" x2="494" y2="199.4" stroke="#222" stroke-width="1.3"/><line x1="406.0" y1="192.4" x2="406.0" y2="198.4" stroke="#222" stroke-width="1.3"/><text x="450" y="201.9" font-size="4.8" fill="#333" text-anchor="middle">M1</text><text x="437.5" y="187.6" font-size="16.5" font-weight="bold" fill="#111">24%</text><text x="3" y="294" font-size="24.5" font-weight="bold" fill="#000">B</text><text x="7.5" y="354.2" font-size="16.5" fill="#000">GFP</text><text x="1.3" y="489" font-size="16.5" fill="#000">PLDN</text><text x="1.3" y="505" font-size="16.5" fill="#000">+ GFP</text><g filter="url(#blur15)"><path d="M81 334 L90 327 L100 324 L112 325 L122 330 L127 338 L128 348 L125 357 L112 360 L97 359 L84 355 L81 346 Z" fill="#e2e2e2"/><ellipse cx="91" cy="340.5" rx="2.6" ry="2.6" fill="#fbfbfb"/><ellipse cx="89.3" cy="350.7" rx="2.6" ry="2.6" fill="#fbfbfb"/><ellipse cx="105" cy="332" rx="10" ry="6.5" fill="#c8c8c8"/><ellipse cx="117" cy="347" rx="9" ry="10" fill="#b4b4b4"/><path d="M99 337 L108 331 L118 334 L122 345 L121 356 L110 359 L100 356 Z" fill="#9a9a9a"/><ellipse cx="111" cy="350" rx="7.5" ry="7.5" fill="#3a3a3a"/><ellipse cx="127.5" cy="332.4" rx="2.5" ry="2.5" fill="#d8d8d8"/></g><g filter="url(#blur3)"><ellipse cx="110.3" cy="353" rx="3.4" ry="3.2" fill="#000"/><ellipse cx="109.2" cy="346.2" rx="3" ry="2.6" fill="#0a0a0a"/></g><rect x="78.5" y="302" width="106.3" height="106" fill="none" stroke="#333" stroke-width="1"/><line x1="111.6" y1="302" x2="111.6" y2="408" stroke="#666" stroke-width="0.8"/><line x1="78.5" y1="374.6" x2="184.8" y2="374.6" stroke="#666" stroke-width="0.8"/><path d="M78.5 408v3.5 M86.5 408v2 M91.18 408v2 M94.5 408v2 M97.08 408v2 M99.18 408v2 M100.96 408v2 M102.5 408v2 M103.86 408v2 M105.08 408v3.5 M113.07 408v2 M117.75 408v2 M121.07 408v2 M123.65 408v2 M125.75 408v2 M127.53 408v2 M129.07 408v2 M130.43 408v2 M131.65 408v3.5 M139.65 408v2 M144.33 408v2 M147.65 408v2 M150.23 408v2 M152.33 408v2 M154.11 408v2 M155.65 408v2 M157.01 408v2 M158.23 408v3.5 M166.22 408v2 M170.9 408v2 M174.22 408v2 M176.8 408v2 M178.9 408v2 M180.68 408v2 M182.22 408v2 M183.58 408v2 M184.8 408v3.5 M78.5 408h-3.5 M78.5 400.02h-2 M78.5 395.36h-2 M78.5 392.05h-2 M78.5 389.48h-2 M78.5 387.38h-2 M78.5 385.6h-2 M78.5 384.07h-2 M78.5 382.71h-2 M78.5 381.5h-3.5 M78.5 373.52h-2 M78.5 368.86h-2 M78.5 365.55h-2 M78.5 362.98h-2 M78.5 360.88h-2 M78.5 359.1h-2 M78.5 357.57h-2 M78.5 356.21h-2 M78.5 355h-3.5 M78.5 347.02h-2 M78.5 342.36h-2 M78.5 339.05h-2 M78.5 336.48h-2 M78.5 334.38h-2 M78.5 332.6h-2 M78.5 331.07h-2 M78.5 329.71h-2 M78.5 328.5h-3.5 M78.5 320.52h-2 M78.5 315.86h-2 M78.5 312.55h-2 M78.5 309.98h-2 M78.5 307.88h-2 M78.5 306.1h-2 M78.5 304.57h-2 M78.5 303.21h-2 M78.5 302h-3.5" stroke="#222" stroke-width="0.8" fill="none"/><text x="56.5" y="407.8" font-size="9.2" fill="#111">10<tspan dy="-4.8" font-size="7">0</tspan></text><text x="56.5" y="384.1" font-size="9.2" fill="#111">10<tspan dy="-4.8" font-size="7">1</tspan></text><text x="56.5" y="356.3" font-size="9.2" fill="#111">10<tspan dy="-4.8" font-size="7">2</tspan></text><text x="56.5" y="332.7" font-size="9.2" fill="#111">10<tspan dy="-4.8" font-size="7">3</tspan></text><text x="56.5" y="316.3" font-size="9.2" fill="#111">10<tspan dy="-4.8" font-size="7">4</tspan></text><text x="81.7" y="425" font-size="9.2" fill="#111">10<tspan dy="-4.8" font-size="7">0</tspan></text><text x="99.5" y="425" font-size="9.2" fill="#111">10<tspan dy="-4.8" font-size="7">1</tspan></text><text x="126" y="425" font-size="9.2" fill="#111">10<tspan dy="-4.8" font-size="7">2</tspan></text><text x="152.5" y="425" font-size="9.2" fill="#111">10<tspan dy="-4.8" font-size="7">3</tspan></text><text x="177.5" y="425" font-size="9.2" fill="#111">10<tspan dy="-4.8" font-size="7">4</tspan></text><text x="134.45" y="436.2" font-size="11.8" font-weight="bold" fill="#111" text-anchor="middle">CD107</text><text x="55.5" y="349" font-size="11.3" font-weight="bold" fill="#111" text-anchor="middle" transform="rotate(-90 55.5 349)">CD56</text><text x="165" y="323.5" font-size="18.5" font-weight="bold" fill="#1614bf" text-anchor="middle">MFI</text><text x="165" y="343.0" font-size="18.5" font-weight="bold" fill="#1614bf" text-anchor="middle">32</text><g filter="url(#blur15)"><path d="M99 465 L107 463 L113 468 L116 477 L124 482 L129 489 L127 496 L112 498 L96 497 L89 493 L88 484 L93 474 Z" fill="#d2d2d2"/><path d="M95 480 L100 470 L108 467 L114 474 L119 483 L123 491 L117 497 L99 497 L94 490 Z" fill="#9c9c9c"/><ellipse cx="119" cy="490" rx="7" ry="5" fill="#b0b0b0"/><ellipse cx="107" cy="489" rx="7" ry="6.5" fill="#404040"/></g><g filter="url(#blur3)"><ellipse cx="105.1" cy="492" rx="3" ry="3" fill="#000"/><ellipse cx="107.8" cy="487.5" rx="2.6" ry="2.6" fill="#0a0a0a"/><ellipse cx="111.6" cy="491.4" rx="2.5" ry="2.5" fill="#1a1a1a"/></g><rect x="79.5" y="443.5" width="107.9" height="101.5" fill="none" stroke="#333" stroke-width="1"/><line x1="113.3" y1="443.5" x2="113.3" y2="545" stroke="#666" stroke-width="0.8"/><line x1="79.5" y1="513" x2="187.4" y2="513" stroke="#666" stroke-width="0.8"/><path d="M79.5 545v3.5 M87.62 545v2 M92.37 545v2 M95.74 545v2 M98.35 545v2 M100.49 545v2 M102.3 545v2 M103.86 545v2 M105.24 545v2 M106.47 545v3.5 M114.6 545v2 M119.35 545v2 M122.72 545v2 M125.33 545v2 M127.47 545v2 M129.27 545v2 M130.84 545v2 M132.22 545v2 M133.45 545v3.5 M141.57 545v2 M146.32 545v2 M149.69 545v2 M152.3 545v2 M154.44 545v2 M156.25 545v2 M157.81 545v2 M159.19 545v2 M160.43 545v3.5 M168.55 545v2 M173.3 545v2 M176.67 545v2 M179.28 545v2 M181.42 545v2 M183.22 545v2 M184.79 545v2 M186.17 545v2 M187.4 545v3.5 M79.5 545h-3.5 M79.5 537.36h-2 M79.5 532.89h-2 M79.5 529.72h-2 M79.5 527.26h-2 M79.5 525.25h-2 M79.5 523.56h-2 M79.5 522.08h-2 M79.5 520.79h-2 M79.5 519.62h-3.5 M79.5 511.99h-2 M79.5 507.52h-2 M79.5 504.35h-2 M79.5 501.89h-2 M79.5 499.88h-2 M79.5 498.18h-2 M79.5 496.71h-2 M79.5 495.41h-2 M79.5 494.25h-3.5 M79.5 486.61h-2 M79.5 482.14h-2 M79.5 478.97h-2 M79.5 476.51h-2 M79.5 474.5h-2 M79.5 472.81h-2 M79.5 471.33h-2 M79.5 470.04h-2 M79.5 468.88h-3.5 M79.5 461.24h-2 M79.5 456.77h-2 M79.5 453.6h-2 M79.5 451.14h-2 M79.5 449.13h-2 M79.5 447.43h-2 M79.5 445.96h-2 M79.5 444.66h-2 M79.5 443.5h-3.5" stroke="#222" stroke-width="0.8" fill="none"/><text x="57.5" y="544.3" font-size="9.2" fill="#111">10<tspan dy="-4.8" font-size="7">0</tspan></text><text x="57.5" y="521.3" font-size="9.2" fill="#111">10<tspan dy="-4.8" font-size="7">1</tspan></text><text x="57.5" y="498.3" font-size="9.2" fill="#111">10<tspan dy="-4.8" font-size="7">2</tspan></text><text x="57.5" y="472.1" font-size="9.2" fill="#111">10<tspan dy="-4.8" font-size="7">3</tspan></text><text x="57.5" y="458.3" font-size="9.2" fill="#111">10<tspan dy="-4.8" font-size="7">4</tspan></text><text x="83" y="562" font-size="9.2" fill="#111">10<tspan dy="-4.8" font-size="7">0</tspan></text><text x="101" y="562" font-size="9.2" fill="#111">10<tspan dy="-4.8" font-size="7">1</tspan></text><text x="127.8" y="562" font-size="9.2" fill="#111">10<tspan dy="-4.8" font-size="7">2</tspan></text><text x="155.5" y="562" font-size="9.2" fill="#111">10<tspan dy="-4.8" font-size="7">3</tspan></text><text x="180" y="562" font-size="9.2" fill="#111">10<tspan dy="-4.8" font-size="7">4</tspan></text><text x="134.85" y="573.2" font-size="11.8" font-weight="bold" fill="#111" text-anchor="middle">CD107</text><text x="55.5" y="491" font-size="11.3" font-weight="bold" fill="#111" text-anchor="middle" transform="rotate(-90 55.5 491)">CD56</text><text x="165" y="466" font-size="18.5" font-weight="bold" fill="#1614bf" text-anchor="middle">MFI</text><text x="165" y="485.5" font-size="18.5" font-weight="bold" fill="#1614bf" text-anchor="middle">15</text><text x="218" y="293.5" font-size="24" font-weight="bold" fill="#000">C</text><text x="290" y="295.5" font-size="16.5" font-weight="bold" fill="#1614bf">Control</text><text x="430.5" y="296" font-size="16.5" font-weight="bold" fill="#d6141e">Patient</text><text x="230" y="357.5" font-size="17" fill="#111" text-anchor="middle" transform="rotate(-90 230 357.5)">Medium</text><text x="218.5" y="479" font-size="16.5" fill="#000">LCL</text><text x="220.5" y="496.3" font-size="16.5" fill="#000">721</text><text x="222" y="512.6" font-size="16.5" fill="#000">221</text><ellipse cx="293.5" cy="315.5" rx="6.5" ry="7" fill="#000"/><ellipse cx="289" cy="312" rx="4" ry="4" fill="#000"/><path d="M283.8 305.8h1v1h-1zM292.0 321.0h1v1h-1zM294.2 309.9h1v1h-1zM281.6 305.6h1v1h-1zM284.3 314.3h1v1h-1zM301.4 319.4h1v1h-1zM282.5 313.7h1v1h-1zM283.9 312.3h1v1h-1zM301.9 318.2h1v1h-1zM294.7 308.3h1v1h-1zM289.1 305.2h1v1h-1zM292.3 316.8h1v1h-1zM295.6 315.6h1v1h-1zM287.1 322.3h1v1h-1zM284.0 313.3h1v1h-1zM298.3 320.7h1v1h-1zM295.7 305.4h1v1h-1zM292.3 305.5h1v1h-1zM299.0 317.0h1v1h-1zM293.1 309.5h1v1h-1zM302.6 306.3h1v1h-1zM285.5 307.6h1v1h-1zM293.2 312.5h1v1h-1zM291.6 311.7h1v1h-1zM288.8 316.3h1v1h-1zM294.0 322.8h1v1h-1zM286.2 312.3h1v1h-1zM298.6 308.7h1v1h-1zM300.1 316.6h1v1h-1zM283.8 305.0h1v1h-1zM291.3 312.7h1v1h-1zM287.1 311.3h1v1h-1zM282.8 312.7h1v1h-1zM300.7 306.0h1v1h-1zM290.5 316.1h1v1h-1zM284.2 317.5h1v1h-1zM295.8 320.0h1v1h-1zM285.4 324.1h1v1h-1zM300.8 312.1h1v1h-1zM285.8 318.1h1v1h-1zM281.7 313.8h1v1h-1zM285.4 309.3h1v1h-1zM288.6 322.8h1v1h-1zM291.3 319.9h1v1h-1zM300.9 323.9h1v1h-1zM296.3 321.4h1v1h-1zM288.5 323.3h1v1h-1zM281.4 307.6h1v1h-1zM284.5 305.3h1v1h-1zM302.9 309.0h1v1h-1zM291.1 313.2h1v1h-1zM296.2 318.8h1v1h-1zM282.2 313.8h1v1h-1zM281.7 315.3h1v1h-1zM299.6 320.2h1v1h-1zM293.9 306.4h1v1h-1zM287.8 318.6h1v1h-1zM288.0 306.0h1v1h-1zM283.0 310.0h1v1h-1zM284.8 319.4h1v1h-1zM281.5 318.7h1v1h-1zM299.5 313.1h1v1h-1zM291.3 310.9h1v1h-1zM283.8 321.6h1v1h-1zM297.3 310.5h1v1h-1zM285.3 305.6h1v1h-1zM282.4 309.9h1v1h-1zM294.2 305.4h1v1h-1zM300.7 321.2h1v1h-1zM281.6 307.4h1v1h-1zM298.7 324.5h1v1h-1zM285.2 309.3h1v1h-1zM283.0 311.1h1v1h-1zM281.4 316.7h1v1h-1zM287.4 311.2h1v1h-1zM297.0 312.6h1v1h-1zM291.8 307.1h1v1h-1zM299.8 312.8h1v1h-1zM285.8 305.5h1v1h-1zM287.9 309.5h1v1h-1zM286.7 323.2h1v1h-1zM302.5 310.6h1v1h-1zM301.7 310.4h1v1h-1zM288.5 318.6h1v1h-1zM290.6 322.7h1v1h-1zM287.9 310.9h1v1h-1zM297.4 312.5h1v1h-1zM281.9 319.3h1v1h-1zM282.5 320.8h1v1h-1zM289.9 317.3h1v1h-1zM286.4 308.6h1v1h-1zM299.6 308.6h1v1h-1zM297.3 320.2h1v1h-1zM293.0 319.1h1v1h-1zM295.6 322.9h1v1h-1zM296.2 320.6h1v1h-1zM298.2 313.4h1v1h-1zM301.4 307.7h1v1h-1zM284.3 322.8h1v1h-1zM294.8 318.9h1v1h-1zM284.2 316.5h1v1h-1zM290.7 318.6h1v1h-1zM298.3 312.7h1v1h-1zM300.7 311.9h1v1h-1zM297.7 316.5h1v1h-1zM281.8 314.7h1v1h-1zM288.9 319.2h1v1h-1zM284.6 323.7h1v1h-1zM303.0 321.9h1v1h-1zM284.2 312.7h1v1h-1zM286.4 312.4h1v1h-1zM288.9 323.5h1v1h-1zM282.3 312.9h1v1h-1zM300.1 321.0h1v1h-1zM295.0 306.9h1v1h-1zM284.5 314.0h1v1h-1zM292.0 315.3h1v1h-1zM282.7 321.2h1v1h-1zM294.4 322.6h1v1h-1zM286.1 308.1h1v1h-1zM281.9 317.3h1v1h-1zM283.5 317.6h1v1h-1zM293.2 308.0h1v1h-1zM295.0 321.7h1v1h-1zM288.1 316.1h1v1h-1zM295.2 324.2h1v1h-1zM288.7 308.7h1v1h-1zM283.9 315.5h1v1h-1zM287.9 311.5h1v1h-1zM289.7 317.8h1v1h-1zM301.1 317.2h1v1h-1zM283.5 315.2h1v1h-1zM282.9 311.5h1v1h-1zM293.4 315.1h1v1h-1zM302.2 312.4h1v1h-1zM301.0 322.8h1v1h-1zM296.4 314.2h1v1h-1zM282.5 314.5h1v1h-1zM298.7 310.2h1v1h-1zM296.0 310.1h1v1h-1zM284.2 324.1h1v1h-1zM291.2 311.3h1v1h-1zM282.1 322.4h1v1h-1zM298.6 316.9h1v1h-1zM296.8 324.6h1v1h-1zM298.7 308.3h1v1h-1zM297.7 323.8h1v1h-1zM286.9 320.4h1v1h-1zM298.4 316.4h1v1h-1zM286.5 319.2h1v1h-1zM284.0 319.4h1v1h-1zM289.6 314.0h1v1h-1zM292.0 317.7h1v1h-1zM287.3 309.6h1v1h-1zM294.3 305.4h1v1h-1zM294.3 318.5h1v1h-1zM286.3 314.5h1v1h-1zM294.7 323.1h1v1h-1zM288.9 310.3h1v1h-1zM297.2 321.4h1v1h-1zM287.4 324.7h1v1h-1zM298.6 323.0h1v1h-1zM290.1 324.3h1v1h-1zM293.2 308.2h1v1h-1zM295.8 308.3h1v1h-1zM292.4 309.6h1v1h-1zM286.7 312.2h1v1h-1zM302.5 307.3h1v1h-1zM283.1 308.0h1v1h-1zM288.1 305.4h1v1h-1zM293.1 323.7h1v1h-1zM281.6 312.2h1v1h-1zM284.4 317.5h1v1h-1zM298.6 314.1h1v1h-1zM298.2 319.9h1v1h-1zM295.0 321.1h1v1h-1zM300.8 312.7h1v1h-1zM297.6 315.7h1v1h-1zM287.6 306.9h1v1h-1zM295.2 310.7h1v1h-1zM288.5 309.5h1v1h-1zM297.5 311.2h1v1h-1zM289.5 311.5h1v1h-1zM284.4 316.5h1v1h-1zM300.3 311.7h1v1h-1zM296.2 311.5h1v1h-1zM297.4 321.6h1v1h-1zM293.3 305.2h1v1h-1zM298.2 305.1h1v1h-1zM290.9 306.1h1v1h-1zM293.4 322.3h1v1h-1zM282.4 317.7h1v1h-1zM293.2 319.6h1v1h-1zM298.9 324.2h1v1h-1zM296.5 309.4h1v1h-1zM298.7 323.4h1v1h-1zM291.9 309.9h1v1h-1zM300.4 315.4h1v1h-1zM283.4 318.6h1v1h-1zM300.3 320.9h1v1h-1zM289.2 310.0h1v1h-1zM283.0 314.5h1v1h-1zM294.6 305.9h1v1h-1zM291.0 310.8h1v1h-1zM290.4 324.6h1v1h-1zM299.7 323.1h1v1h-1zM284.0 316.6h1v1h-1zM294.6 320.7h1v1h-1zM290.1 323.0h1v1h-1zM292.6 311.6h1v1h-1zM292.0 324.6h1v1h-1zM284.0 314.0h1v1h-1zM292.3 308.2h1v1h-1zM300.0 315.6h1v1h-1zM284.8 316.9h1v1h-1zM281.3 318.9h1v1h-1zM282.5 318.4h1v1h-1zM291.1 305.8h1v1h-1zM302.4 317.8h1v1h-1zM282.0 323.4h1v1h-1zM302.8 318.4h1v1h-1zM292.8 324.5h1v1h-1zM283.6 315.2h1v1h-1zM290.2 321.2h1v1h-1zM285.6 307.8h1v1h-1zM296.7 322.9h1v1h-1zM292.9 313.7h1v1h-1zM287.3 322.5h1v1h-1zM286.6 311.4h1v1h-1zM300.1 317.5h1v1h-1zM297.9 321.9h1v1h-1zM290.6 319.2h1v1h-1zM289.9 317.4h1v1h-1zM297.2 324.4h1v1h-1zM302.4 306.8h1v1h-1zM282.8 307.0h1v1h-1zM284.5 316.0h1v1h-1zM289.0 324.1h1v1h-1zM292.2 318.7h1v1h-1zM282.6 311.2h1v1h-1zM282.2 307.2h1v1h-1zM285.8 314.0h1v1h-1zM289.5 314.6h1v1h-1zM297.3 314.4h1v1h-1zM294.4 317.4h1v1h-1zM281.6 310.5h1v1h-1zM282.0 322.6h1v1h-1zM290.9 310.8h1v1h-1zM300.2 307.1h1v1h-1zM301.1 312.0h1v1h-1zM289.0 323.7h1v1h-1zM300.5 308.2h1v1h-1zM301.4 310.6h1v1h-1zM289.9 323.5h1v1h-1zM297.4 312.0h1v1h-1zM289.0 321.9h1v1h-1zM284.4 305.9h1v1h-1zM293.7 322.8h1v1h-1zM282.9 309.7h1v1h-1zM295.6 308.6h1v1h-1zM298.8 319.8h1v1h-1zM301.1 324.8h1v1h-1zM290.9 324.2h1v1h-1zM283.6 320.0h1v1h-1zM300.9 323.3h1v1h-1zM300.1 324.7h1v1h-1zM302.3 316.1h1v1h-1zM294.1 307.9h1v1h-1zM295.8 322.0h1v1h-1zM289.2 312.9h1v1h-1zM285.0 311.3h1v1h-1zM287.4 315.0h1v1h-1zM296.9 305.7h1v1h-1zM288.1 305.4h1v1h-1zM296.2 310.3h1v1h-1zM292.0 316.9h1v1h-1zM290.9 320.0h1v1h-1zM302.3 324.1h1v1h-1zM284.7 321.4h1v1h-1zM291.7 323.8h1v1h-1zM284.5 317.7h1v1h-1zM301.6 319.7h1v1h-1zM291.7 316.7h1v1h-1zM288.3 306.6h1v1h-1zM284.7 306.2h1v1h-1zM294.1 320.2h1v1h-1zM289.8 309.0h1v1h-1zM283.8 320.8h1v1h-1zM281.7 314.3h1v1h-1zM289.6 305.1h1v1h-1zM293.8 316.2h1v1h-1zM292.4 313.9h1v1h-1zM300.8 306.5h1v1h-1zM301.1 310.2h1v1h-1zM301.6 311.1h1v1h-1zM298.6 311.9h1v1h-1zM291.5 319.1h1v1h-1zM292.5 308.3h1v1h-1zM289.7 313.9h1v1h-1zM289.8 317.1h1v1h-1zM297.1 315.9h1v1h-1zM302.1 331.2h1v1h-1zM286.9 322.1h1v1h-1zM298.4 314.9h1v1h-1zM280.3 319.8h1v1h-1zM293.6 323.4h1v1h-1zM281.2 317.6h1v1h-1zM295.1 305.0h1v1h-1zM280.4 316.0h1v1h-1zM274.9 315.7h1v1h-1zM294.6 328.2h1v1h-1zM306.9 304.4h1v1h-1zM288.1 324.7h1v1h-1zM297.4 314.5h1v1h-1zM292.7 321.1h1v1h-1zM289.9 313.7h1v1h-1zM296.0 316.6h1v1h-1zM302.7 322.3h1v1h-1zM284.0 316.0h1v1h-1zM295.7 321.8h1v1h-1zM294.2 315.0h1v1h-1zM282.7 313.1h1v1h-1zM302.5 314.2h1v1h-1zM304.7 312.5h1v1h-1zM285.8 314.8h1v1h-1zM303.3 323.7h1v1h-1zM292.4 308.5h1v1h-1zM290.9 305.6h1v1h-1zM301.8 315.5h1v1h-1zM293.5 325.7h1v1h-1zM294.1 321.9h1v1h-1zM301.9 323.5h1v1h-1zM300.4 323.1h1v1h-1zM297.8 311.2h1v1h-1zM282.9 316.3h1v1h-1zM299.3 312.0h1v1h-1zM286.0 319.3h1v1h-1zM293.0 306.3h1v1h-1zM290.8 307.8h1v1h-1zM283.7 316.9h1v1h-1zM302.6 322.6h1v1h-1zM285.4 331.2h1v1h-1zM291.2 324.2h1v1h-1zM290.8 306.6h1v1h-1zM282.8 316.6h1v1h-1zM291.8 322.1h1v1h-1zM290.6 306.0h1v1h-1zM295.4 312.6h1v1h-1zM295.1 313.0h1v1h-1zM289.0 316.0h1v1h-1zM293.6 314.7h1v1h-1zM289.6 318.9h1v1h-1zM295.0 322.1h1v1h-1zM291.3 316.2h1v1h-1zM287.7 320.3h1v1h-1zM291.8 327.8h1v1h-1zM294.4 309.7h1v1h-1zM306.7 309.6h1v1h-1zM288.8 318.9h1v1h-1zM294.0 327.0h1v1h-1zM301.5 316.9h1v1h-1zM278.5 322.4h1v1h-1zM280.7 314.1h1v1h-1zM284.3 321.4h1v1h-1zM291.3 312.2h1v1h-1zM307.9 320.0h1v1h-1zM294.5 318.3h1v1h-1zM299.9 318.3h1v1h-1zM290.6 324.2h1v1h-1zM276.0 322.4h1v1h-1zM277.0 312.4h1v1h-1zM298.6 321.3h1v1h-1zM293.2 305.8h1v1h-1zM283.6 322.0h1v1h-1zM299.3 332.5h1v1h-1zM282.0 319.2h1v1h-1zM299.4 319.1h1v1h-1zM301.4 316.5h1v1h-1zM287.0 321.1h1v1h-1zM284.8 313.4h1v1h-1zM297.5 320.2h1v1h-1zM284.9 314.5h1v1h-1zM297.6 313.6h1v1h-1zM284.2 316.9h1v1h-1zM297.2 315.8h1v1h-1zM292.6 305.8h1v1h-1zM289.2 328.7h1v1h-1zM286.2 317.1h1v1h-1zM293.5 306.1h1v1h-1zM279.7 322.7h1v1h-1zM290.2 316.1h1v1h-1zM289.4 317.5h1v1h-1zM296.4 320.5h1v1h-1zM283.9 310.9h1v1h-1zM290.0 315.7h1v1h-1zM284.6 317.7h1v1h-1zM301.0 322.3h1v1h-1zM302.8 311.7h1v1h-1zM290.8 314.7h1v1h-1zM286.2 318.6h1v1h-1zM292.1 314.4h1v1h-1zM287.5 314.8h1v1h-1zM290.0 317.8h1v1h-1zM302.1 310.3h1v1h-1zM294.5 325.8h1v1h-1zM292.9 310.7h1v1h-1zM294.2 316.5h1v1h-1zM291.6 314.3h1v1h-1zM297.5 312.0h1v1h-1zM297.7 319.5h1v1h-1zM289.6 322.3h1v1h-1zM292.7 325.0h1v1h-1zM307.7 319.7h1v1h-1zM294.7 313.5h1v1h-1zM290.8 321.4h1v1h-1zM305.3 307.6h1v1h-1zM292.1 316.5h1v1h-1zM284.9 319.4h1v1h-1zM296.4 319.6h1v1h-1zM286.2 309.3h1v1h-1zM288.8 307.2h1v1h-1zM294.1 326.2h1v1h-1zM291.2 313.1h1v1h-1zM287.0 306.3h1v1h-1zM288.4 308.7h1v1h-1zM288.1 316.2h1v1h-1zM299.6 323.2h1v1h-1zM287.3 316.1h1v1h-1zM288.3 323.3h1v1h-1zM305.2 317.5h1v1h-1zM288.4 318.9h1v1h-1zM301.7 322.0h1v1h-1zM300.6 313.8h1v1h-1zM291.0 317.8h1v1h-1zM282.8 313.7h1v1h-1zM294.9 312.2h1v1h-1zM296.4 320.0h1v1h-1zM298.3 311.1h1v1h-1zM292.5 316.5h1v1h-1zM299.8 311.3h1v1h-1zM301.0 315.5h1v1h-1zM285.1 312.8h1v1h-1zM301.3 322.6h1v1h-1zM293.1 316.5h1v1h-1zM288.3 316.4h1v1h-1zM289.9 325.8h1v1h-1zM298.4 309.2h1v1h-1zM292.5 315.8h1v1h-1zM291.1 318.5h1v1h-1zM290.9 319.7h1v1h-1zM288.7 317.4h1v1h-1zM282.5 310.6h1v1h-1zM297.6 326.3h1v1h-1zM285.9 317.6h1v1h-1zM289.6 314.2h1v1h-1zM288.1 309.0h1v1h-1zM287.3 318.3h1v1h-1zM296.8 312.8h1v1h-1zM294.5 313.0h1v1h-1zM287.6 317.0h1v1h-1zM285.9 317.0h1v1h-1zM288.9 310.8h1v1h-1zM298.3 323.2h1v1h-1zM292.8 309.7h1v1h-1zM293.5 309.0h1v1h-1zM289.9 317.5h1v1h-1zM290.3 316.4h1v1h-1zM293.4 316.1h1v1h-1zM280.0 313.2h1v1h-1zM302.5 315.9h1v1h-1zM286.9 312.3h1v1h-1zM288.3 305.7h1v1h-1zM300.7 320.0h1v1h-1zM293.4 309.6h1v1h-1zM292.3 314.3h1v1h-1zM288.2 320.0h1v1h-1zM281.9 315.8h1v1h-1zM293.2 332.1h1v1h-1zM299.8 307.2h1v1h-1zM286.2 311.1h1v1h-1zM300.9 316.1h1v1h-1zM284.7 323.7h1v1h-1zM287.2 314.1h1v1h-1zM295.3 307.0h1v1h-1zM292.0 322.5h1v1h-1zM296.5 310.1h1v1h-1zM287.2 314.4h1v1h-1zM285.3 320.9h1v1h-1zM279.9 311.6h1v1h-1zM284.2 312.9h1v1h-1zM285.0 318.5h1v1h-1zM282.7 314.3h1v1h-1zM294.0 317.3h1v1h-1zM287.7 309.9h1v1h-1zM279.1 314.8h1v1h-1zM308.1 309.0h1v1h-1zM286.6 306.2h1v1h-1zM283.8 326.1h1v1h-1zM300.1 318.3h1v1h-1zM299.6 321.0h1v1h-1zM284.5 309.7h1v1h-1zM282.4 315.4h1v1h-1zM285.5 314.3h1v1h-1zM299.3 307.0h1v1h-1zM290.0 318.8h1v1h-1zM286.7 311.2h1v1h-1zM291.8 314.3h1v1h-1zM299.8 306.4h1v1h-1zM283.0 321.5h1v1h-1zM289.5 320.1h1v1h-1zM283.0 317.9h1v1h-1zM306.1 310.1h1v1h-1zM303.8 312.3h1v1h-1zM298.2 322.9h1v1h-1zM291.1 313.9h1v1h-1zM296.3 317.1h1v1h-1zM278.3 316.4h1v1h-1zM293.8 308.8h1v1h-1zM283.3 324.7h1v1h-1zM283.4 303.6h1v1h-1zM287.4 316.9h1v1h-1zM289.7 315.0h1v1h-1zM295.7 305.8h1v1h-1zM296.6 317.5h1v1h-1zM293.7 318.6h1v1h-1zM285.9 315.8h1v1h-1zM296.4 310.6h1v1h-1zM291.2 318.2h1v1h-1zM299.7 322.2h1v1h-1zM286.0 316.9h1v1h-1zM288.9 320.7h1v1h-1zM306.0 320.1h1v1h-1zM295.0 323.9h1v1h-1zM290.7 311.6h1v1h-1zM297.7 312.4h1v1h-1zM295.3 318.6h1v1h-1zM295.0 318.6h1v1h-1zM288.7 324.6h1v1h-1zM292.5 322.4h1v1h-1zM293.3 316.6h1v1h-1zM287.8 316.9h1v1h-1zM284.7 313.9h1v1h-1zM292.9 313.4h1v1h-1zM298.3 312.8h1v1h-1zM296.2 321.0h1v1h-1zM295.2 312.7h1v1h-1zM295.3 313.4h1v1h-1zM308.8 316.5h1v1h-1zM293.7 312.5h1v1h-1zM298.8 314.2h1v1h-1zM292.3 317.9h1v1h-1zM293.7 313.8h1v1h-1zM298.8 316.8h1v1h-1zM303.0 317.9h1v1h-1zM294.0 304.6h1v1h-1zM294.4 330.1h1v1h-1zM292.6 316.7h1v1h-1zM284.2 316.9h1v1h-1zM299.3 305.2h1v1h-1zM290.4 319.7h1v1h-1zM280.8 318.4h1v1h-1zM291.1 313.9h1v1h-1zM280.8 317.6h1v1h-1zM285.5 323.8h1v1h-1zM292.1 314.2h1v1h-1zM286.0 310.8h1v1h-1zM299.0 324.3h1v1h-1zM282.5 317.9h1v1h-1zM293.7 315.3h1v1h-1zM295.7 330.2h1v1h-1zM301.5 317.3h1v1h-1zM298.0 315.3h1v1h-1zM293.6 318.0h1v1h-1zM292.6 314.0h1v1h-1zM291.7 317.7h1v1h-1zM299.5 317.3h1v1h-1zM287.8 312.4h1v1h-1zM295.4 314.8h1v1h-1zM291.5 318.2h1v1h-1zM293.6 318.6h1v1h-1zM290.4 319.8h1v1h-1zM305.9 321.0h1v1h-1zM287.8 317.8h1v1h-1zM293.7 319.4h1v1h-1zM293.9 314.0h1v1h-1zM296.0 314.7h1v1h-1zM295.0 322.5h1v1h-1zM294.8 304.4h1v1h-1zM298.5 318.5h1v1h-1zM282.3 335.2h1v1h-1zM292.1 305.1h1v1h-1zM284.1 325.2h1v1h-1zM293.6 305.6h1v1h-1zM284.4 318.3h1v1h-1zM285.8 325.8h1v1h-1zM291.7 325.0h1v1h-1zM301.2 310.6h1v1h-1zM295.8 308.2h1v1h-1zM294.0 307.3h1v1h-1zM301.2 320.2h1v1h-1zM285.9 313.6h1v1h-1zM278.5 315.9h1v1h-1zM289.3 317.4h1v1h-1zM290.3 318.3h1v1h-1zM300.1 319.0h1v1h-1zM306.0 316.6h1v1h-1zM283.4 306.2h1v1h-1zM308.2 324.5h1v1h-1zM297.5 323.2h1v1h-1zM294.5 312.2h1v1h-1zM307.9 314.6h1v1h-1zM292.6 312.6h1v1h-1zM289.0 313.5h1v1h-1zM293.0 315.6h1v1h-1zM283.2 314.1h1v1h-1zM295.2 309.2h1v1h-1zM291.4 320.8h1v1h-1zM294.2 312.3h1v1h-1zM294.4 323.8h1v1h-1zM285.2 314.8h1v1h-1zM300.6 311.5h1v1h-1zM285.5 318.3h1v1h-1zM297.9 321.1h1v1h-1zM281.7 310.2h1v1h-1zM294.5 314.0h1v1h-1zM286.8 324.3h1v1h-1zM292.4 309.7h1v1h-1zM287.9 310.6h1v1h-1zM277.9 316.7h1v1h-1zM284.9 308.4h1v1h-1zM296.2 305.7h1v1h-1zM282.5 318.0h1v1h-1zM278.3 319.7h1v1h-1zM286.4 319.3h1v1h-1zM290.7 318.1h1v1h-1zM288.0 308.3h1v1h-1zM286.8 319.8h1v1h-1zM297.6 322.6h1v1h-1zM298.4 311.5h1v1h-1zM296.9 321.4h1v1h-1zM286.0 313.5h1v1h-1zM292.6 316.9h1v1h-1zM290.8 317.9h1v1h-1zM282.8 306.8h1v1h-1zM297.8 324.5h1v1h-1zM292.7 310.6h1v1h-1zM288.9 315.1h1v1h-1zM301.3 312.8h1v1h-1zM297.1 318.5h1v1h-1zM297.7 318.3h1v1h-1zM299.9 315.9h1v1h-1zM296.8 324.2h1v1h-1zM283.9 317.4h1v1h-1zM289.6 313.3h1v1h-1zM287.1 314.1h1v1h-1zM292.3 314.0h1v1h-1zM294.7 310.5h1v1h-1zM301.5 310.6h1v1h-1zM300.5 319.3h1v1h-1zM297.9 322.0h1v1h-1zM290.9 327.1h1v1h-1zM298.0 322.6h1v1h-1zM295.5 311.5h1v1h-1zM291.0 317.3h1v1h-1zM300.9 307.6h1v1h-1zM295.3 320.1h1v1h-1zM287.2 317.9h1v1h-1zM300.3 312.1h1v1h-1zM290.4 315.1h1v1h-1zM295.9 314.2h1v1h-1zM282.2 311.9h1v1h-1zM292.0 323.7h1v1h-1zM285.9 334.4h1v1h-1zM285.8 320.7h1v1h-1zM279.7 322.1h1v1h-1zM306.0 316.7h1v1h-1zM291.1 313.7h1v1h-1zM293.6 328.9h1v1h-1zM299.3 313.6h1v1h-1zM291.3 318.1h1v1h-1zM295.4 315.0h1v1h-1zM283.2 319.3h1v1h-1zM293.3 315.5h1v1h-1zM289.4 319.3h1v1h-1zM295.3 308.2h1v1h-1zM293.2 315.2h1v1h-1zM283.1 324.0h1v1h-1zM280.0 309.6h1v1h-1zM285.5 311.8h1v1h-1zM296.8 324.0h1v1h-1zM294.8 318.2h1v1h-1zM294.7 322.2h1v1h-1zM274.6 316.6h1v1h-1zM288.0 308.1h1v1h-1zM289.9 307.4h1v1h-1zM288.1 318.2h1v1h-1zM294.3 322.9h1v1h-1zM290.9 306.8h1v1h-1zM284.3 309.1h1v1h-1zM286.3 312.2h1v1h-1zM293.0 315.0h1v1h-1zM292.5 307.7h1v1h-1zM291.5 329.3h1v1h-1zM306.8 319.3h1v1h-1zM290.3 313.6h1v1h-1zM292.8 312.6h1v1h-1zM285.5 329.7h1v1h-1zM289.7 329.2h1v1h-1zM295.4 312.8h1v1h-1zM295.7 317.8h1v1h-1zM291.0 323.3h1v1h-1zM294.6 308.6h1v1h-1zM292.4 312.2h1v1h-1zM279.8 323.8h1v1h-1zM307.0 313.1h1v1h-1zM297.4 307.6h1v1h-1zM291.6 311.1h1v1h-1zM280.7 319.8h1v1h-1zM283.7 310.7h1v1h-1zM300.8 307.8h1v1h-1zM289.9 326.3h1v1h-1zM297.6 316.7h1v1h-1zM292.9 312.2h1v1h-1zM296.9 316.5h1v1h-1zM291.1 318.3h1v1h-1zM307.6 316.3h1v1h-1zM285.3 304.7h1v1h-1zM283.1 317.4h1v1h-1zM293.8 314.3h1v1h-1zM301.3 320.7h1v1h-1zM291.6 307.4h1v1h-1zM298.8 321.9h1v1h-1zM288.5 312.6h1v1h-1zM284.3 305.3h1v1h-1zM301.1 323.6h1v1h-1zM302.2 312.4h1v1h-1zM302.0 317.8h1v1h-1zM289.2 314.6h1v1h-1zM284.5 322.1h1v1h-1zM284.4 322.2h1v1h-1zM290.5 322.3h1v1h-1zM295.8 319.8h1v1h-1zM295.3 305.8h1v1h-1zM282.7 305.4h1v1h-1zM293.3 316.7h1v1h-1zM292.1 309.7h1v1h-1zM292.6 318.3h1v1h-1zM291.8 316.5h1v1h-1zM290.7 307.0h1v1h-1zM295.9 309.2h1v1h-1zM292.8 308.6h1v1h-1zM293.5 310.1h1v1h-1zM287.5 314.2h1v1h-1zM294.6 319.6h1v1h-1zM291.2 323.6h1v1h-1zM278.3 309.6h1v1h-1zM295.1 312.1h1v1h-1zM290.3 324.9h1v1h-1zM298.0 320.9h1v1h-1zM290.9 316.9h1v1h-1zM293.4 309.4h1v1h-1zM291.9 316.4h1v1h-1zM289.1 311.9h1v1h-1zM280.3 327.5h1v1h-1zM304.0 316.0h1v1h-1zM281.7 317.2h1v1h-1zM289.8 308.8h1v1h-1zM296.2 309.2h1v1h-1zM294.5 311.4h1v1h-1zM295.7 311.7h1v1h-1zM297.0 314.1h1v1h-1zM300.2 317.7h1v1h-1zM293.9 316.9h1v1h-1zM310.9 321.5h1v1h-1zM285.4 307.3h1v1h-1zM293.5 316.8h1v1h-1zM289.7 316.9h1v1h-1zM288.5 325.1h1v1h-1zM293.9 314.2h1v1h-1zM301.5 317.5h1v1h-1zM287.4 310.5h1v1h-1zM287.4 318.0h1v1h-1zM296.7 317.9h1v1h-1zM295.5 311.7h1v1h-1zM304.7 312.8h1v1h-1zM298.7 315.3h1v1h-1zM293.5 319.0h1v1h-1zM289.9 308.5h1v1h-1zM293.4 320.8h1v1h-1zM290.9 313.5h1v1h-1zM283.1 327.0h1v1h-1zM292.1 324.3h1v1h-1zM290.9 313.0h1v1h-1zM290.5 311.7h1v1h-1zM289.2 330.4h1v1h-1zM303.0 319.3h1v1h-1zM296.5 318.9h1v1h-1zM298.1 312.9h1v1h-1zM288.1 314.7h1v1h-1zM285.4 320.4h1v1h-1zM290.2 319.2h1v1h-1zM293.6 310.5h1v1h-1zM289.8 323.0h1v1h-1zM290.8 317.4h1v1h-1zM298.2 309.7h1v1h-1zM293.9 321.5h1v1h-1zM285.6 314.4h1v1h-1zM289.2 320.2h1v1h-1zM287.7 312.1h1v1h-1zM293.2 317.7h1v1h-1zM284.4 305.6h1v1h-1zM290.8 317.7h1v1h-1zM296.5 306.3h1v1h-1zM292.2 316.5h1v1h-1zM288.0 315.1h1v1h-1zM292.8 319.9h1v1h-1zM295.1 318.4h1v1h-1zM297.4 322.7h1v1h-1zM291.1 309.0h1v1h-1zM283.4 325.0h1v1h-1zM301.3 325.2h1v1h-1zM293.9 308.2h1v1h-1zM294.6 310.7h1v1h-1zM294.0 312.0h1v1h-1zM285.3 315.3h1v1h-1zM289.9 316.6h1v1h-1zM298.7 319.1h1v1h-1zM292.4 313.9h1v1h-1zM290.4 321.2h1v1h-1zM294.3 313.4h1v1h-1zM300.4 322.4h1v1h-1zM296.6 318.7h1v1h-1zM308.2 313.5h1v1h-1zM301.3 322.6h1v1h-1zM300.8 320.4h1v1h-1zM298.1 312.4h1v1h-1zM283.0 305.7h1v1h-1zM297.5 312.2h1v1h-1zM295.9 319.2h1v1h-1zM288.6 314.0h1v1h-1zM295.8 326.1h1v1h-1zM294.7 317.1h1v1h-1zM289.0 316.6h1v1h-1zM291.2 317.9h1v1h-1zM290.3 310.1h1v1h-1zM293.5 314.7h1v1h-1zM289.2 311.5h1v1h-1zM279.5 304.7h1v1h-1zM290.2 319.9h1v1h-1zM281.0 312.8h1v1h-1zM288.9 314.7h1v1h-1zM295.4 306.5h1v1h-1zM292.1 311.9h1v1h-1zM291.3 320.2h1v1h-1zM292.4 316.1h1v1h-1zM302.2 312.3h1v1h-1zM284.8 324.7h1v1h-1zM297.8 315.1h1v1h-1zM282.2 313.3h1v1h-1zM289.0 322.4h1v1h-1zM293.1 305.0h1v1h-1zM286.5 318.8h1v1h-1zM293.3 308.7h1v1h-1zM296.7 310.7h1v1h-1zM284.2 311.3h1v1h-1zM291.5 316.2h1v1h-1zM289.6 316.1h1v1h-1zM279.4 317.3h1v1h-1zM290.8 316.7h1v1h-1zM286.8 323.9h1v1h-1zM300.7 325.7h1v1h-1zM286.3 319.8h1v1h-1zM303.0 320.0h1v1h-1zM288.5 313.2h1v1h-1zM304.6 308.8h1v1h-1zM295.5 319.0h1v1h-1zM295.0 315.7h1v1h-1zM297.2 320.7h1v1h-1zM297.9 304.4h1v1h-1zM301.1 331.7h1v1h-1zM303.3 307.8h1v1h-1zM289.7 315.7h1v1h-1zM283.9 321.5h1v1h-1zM274.6 307.1h1v1h-1zM289.5 312.1h1v1h-1zM294.5 306.8h1v1h-1zM292.7 303.8h1v1h-1zM289.7 316.1h1v1h-1zM287.8 317.3h1v1h-1zM290.2 313.6h1v1h-1zM294.5 323.1h1v1h-1zM280.5 323.9h1v1h-1zM296.7 315.4h1v1h-1zM282.5 314.2h1v1h-1zM291.0 313.8h1v1h-1zM287.9 312.8h1v1h-1zM289.6 323.4h1v1h-1zM285.2 316.9h1v1h-1zM284.5 313.5h1v1h-1zM290.5 314.1h1v1h-1zM284.9 318.8h1v1h-1zM308.0 313.1h1v1h-1zM289.3 317.4h1v1h-1zM287.7 315.3h1v1h-1zM288.4 323.7h1v1h-1zM285.0 322.5h1v1h-1zM276.0 306.9h1v1h-1zM290.3 314.5h1v1h-1zM294.0 319.8h1v1h-1zM282.2 312.8h1v1h-1zM292.0 320.4h1v1h-1zM284.1 317.5h1v1h-1zM291.7 319.1h1v1h-1zM294.3 315.1h1v1h-1zM295.1 317.3h1v1h-1zM294.8 318.7h1v1h-1zM287.4 306.6h1v1h-1zM297.7 310.0h1v1h-1zM289.0 309.4h1v1h-1zM294.2 325.7h1v1h-1zM296.5 317.3h1v1h-1zM290.0 317.8h1v1h-1zM283.6 316.6h1v1h-1zM295.9 312.4h1v1h-1zM284.7 311.0h1v1h-1zM286.2 320.6h1v1h-1zM284.8 313.3h1v1h-1zM297.4 325.1h1v1h-1zM290.9 316.7h1v1h-1zM277.3 316.1h1v1h-1zM296.7 314.2h1v1h-1zM305.4 315.1h1v1h-1zM303.6 315.7h1v1h-1zM288.2 324.7h1v1h-1zM292.4 329.6h1v1h-1zM295.2 308.6h1v1h-1zM297.7 317.1h1v1h-1zM292.2 319.8h1v1h-1zM284.8 310.1h1v1h-1zM296.8 311.7h1v1h-1zM295.9 312.8h1v1h-1zM289.5 319.5h1v1h-1zM293.7 315.3h1v1h-1zM291.9 315.0h1v1h-1zM295.3 316.0h1v1h-1zM297.1 317.0h1v1h-1zM295.4 329.5h1v1h-1zM291.2 316.6h1v1h-1zM283.2 320.6h1v1h-1zM295.9 312.4h1v1h-1zM301.0 317.7h1v1h-1zM304.8 313.7h1v1h-1zM291.7 314.7h1v1h-1zM291.7 310.1h1v1h-1zM301.3 310.6h1v1h-1zM301.3 318.3h1v1h-1zM294.1 320.1h1v1h-1zM296.6 318.3h1v1h-1zM287.0 311.5h1v1h-1zM295.7 317.5h1v1h-1zM291.0 321.3h1v1h-1zM291.1 315.4h1v1h-1zM288.9 317.2h1v1h-1zM278.2 322.6h1v1h-1zM286.5 313.1h1v1h-1zM294.1 321.4h1v1h-1zM291.5 313.0h1v1h-1zM289.3 318.9h1v1h-1zM294.7 313.2h1v1h-1zM296.4 317.4h1v1h-1zM297.4 324.4h1v1h-1zM286.7 311.7h1v1h-1zM292.0 311.9h1v1h-1zM289.7 313.7h1v1h-1zM286.2 317.4h1v1h-1zM282.2 332.2h1v1h-1zM291.3 312.2h1v1h-1zM286.2 303.4h1v1h-1zM305.9 311.7h1v1h-1zM291.3 306.1h1v1h-1zM290.4 312.3h1v1h-1zM289.3 315.8h1v1h-1zM304.1 309.9h1v1h-1zM285.8 311.6h1v1h-1zM290.8 304.4h1v1h-1zM286.9 316.8h1v1h-1zM291.1 311.2h1v1h-1zM291.7 322.2h1v1h-1zM299.0 322.0h1v1h-1zM282.7 310.5h1v1h-1zM291.8 313.5h1v1h-1zM302.4 316.0h1v1h-1zM288.6 320.3h1v1h-1zM290.7 305.6h1v1h-1zM286.1 315.3h1v1h-1zM274.9 326.9h1v1h-1zM291.2 315.2h1v1h-1zM299.5 317.0h1v1h-1zM288.8 315.7h1v1h-1zM279.9 308.6h1v1h-1zM293.6 321.4h1v1h-1zM292.4 317.3h1v1h-1zM298.4 316.7h1v1h-1zM297.8 320.1h1v1h-1zM290.1 320.5h1v1h-1zM294.5 304.3h1v1h-1zM280.2 318.6h1v1h-1zM299.1 312.2h1v1h-1zM293.1 316.7h1v1h-1zM298.9 311.5h1v1h-1zM298.8 310.6h1v1h-1zM290.0 321.5h1v1h-1zM290.9 315.7h1v1h-1zM286.2 314.1h1v1h-1zM278.5 314.1h1v1h-1zM291.0 316.3h1v1h-1zM292.9 315.7h1v1h-1zM296.5 310.6h1v1h-1zM292.5 314.4h1v1h-1zM294.8 320.3h1v1h-1zM286.9 324.0h1v1h-1zM280.4 310.2h1v1h-1zM296.9 327.5h1v1h-1zM295.9 316.4h1v1h-1zM291.2 318.8h1v1h-1zM289.2 312.7h1v1h-1zM290.1 312.3h1v1h-1zM291.0 324.5h1v1h-1zM288.6 314.6h1v1h-1zM278.8 315.3h1v1h-1zM297.0 322.9h1v1h-1zM282.2 326.3h1v1h-1zM289.7 306.9h1v1h-1zM289.9 314.8h1v1h-1zM293.6 315.9h1v1h-1zM281.4 326.9h1v1h-1zM299.7 330.8h1v1h-1zM296.2 315.7h1v1h-1zM296.9 318.3h1v1h-1zM300.1 321.2h1v1h-1zM286.7 322.9h1v1h-1zM294.1 321.2h1v1h-1zM300.5 311.8h1v1h-1zM288.5 307.8h1v1h-1zM291.3 317.4h1v1h-1zM293.8 320.8h1v1h-1zM287.6 305.2h1v1h-1zM287.8 315.9h1v1h-1zM287.7 319.5h1v1h-1zM302.2 322.4h1v1h-1zM281.1 320.8h1v1h-1zM306.4 315.0h1v1h-1zM285.7 324.7h1v1h-1zM296.0 317.9h1v1h-1zM303.1 314.8h1v1h-1zM288.5 317.0h1v1h-1zM284.0 321.9h1v1h-1zM298.8 317.4h1v1h-1zM292.4 316.5h1v1h-1zM284.0 307.6h1v1h-1zM285.0 319.2h1v1h-1zM289.5 316.5h1v1h-1zM298.3 327.4h1v1h-1zM290.1 316.2h1v1h-1zM296.3 315.8h1v1h-1zM302.7 312.6h1v1h-1zM300.3 320.7h1v1h-1zM301.3 315.1h1v1h-1zM300.0 312.1h1v1h-1zM281.5 326.0h1v1h-1zM299.9 327.1h1v1h-1zM294.1 313.6h1v1h-1zM291.2 310.2h1v1h-1zM284.9 323.2h1v1h-1zM281.7 311.3h1v1h-1zM284.8 333.4h1v1h-1zM291.9 315.6h1v1h-1zM284.4 322.2h1v1h-1zM286.7 308.6h1v1h-1zM288.0 316.2h1v1h-1zM296.3 323.0h1v1h-1zM290.1 319.0h1v1h-1zM291.1 313.2h1v1h-1zM300.6 331.2h1v1h-1zM289.9 320.9h1v1h-1zM295.9 315.0h1v1h-1zM285.1 312.8h1v1h-1zM294.1 314.8h1v1h-1zM292.8 324.6h1v1h-1zM293.1 311.8h1v1h-1zM289.0 316.6h1v1h-1zM285.3 311.5h1v1h-1zM290.1 324.0h1v1h-1zM289.0 315.4h1v1h-1zM298.7 321.6h1v1h-1zM297.9 319.8h1v1h-1zM284.2 312.9h1v1h-1zM296.1 320.6h1v1h-1zM288.9 322.1h1v1h-1zM295.0 309.5h1v1h-1zM288.9 320.7h1v1h-1zM282.4 337.9h1v1h-1zM298.6 314.6h1v1h-1zM294.9 320.3h1v1h-1zM284.0 308.4h1v1h-1zM279.7 319.2h1v1h-1zM288.5 312.9h1v1h-1zM284.3 321.1h1v1h-1zM289.6 316.1h1v1h-1zM296.0 309.3h1v1h-1zM301.5 323.1h1v1h-1zM289.7 315.1h1v1h-1zM301.0 310.3h1v1h-1zM299.6 316.8h1v1h-1zM289.2 310.6h1v1h-1zM281.2 318.8h1v1h-1zM297.5 316.1h1v1h-1zM296.0 314.2h1v1h-1zM307.3 320.5h1v1h-1zM301.3 308.7h1v1h-1zM297.1 322.3h1v1h-1zM303.0 304.3h1v1h-1zM285.2 326.2h1v1h-1zM293.3 317.5h1v1h-1zM290.2 314.8h1v1h-1zM303.4 312.0h1v1h-1zM295.7 319.7h1v1h-1zM300.9 315.4h1v1h-1zM286.1 322.7h1v1h-1zM297.1 313.8h1v1h-1zM288.9 315.0h1v1h-1zM293.7 319.0h1v1h-1zM296.2 322.9h1v1h-1zM293.3 315.5h1v1h-1zM285.9 317.4h1v1h-1zM301.2 316.7h1v1h-1zM294.7 320.9h1v1h-1zM292.0 325.5h1v1h-1zM296.7 310.8h1v1h-1zM288.6 315.6h1v1h-1zM304.4 316.2h1v1h-1zM293.6 320.0h1v1h-1zM294.5 325.5h1v1h-1zM294.4 316.3h1v1h-1zM286.2 317.7h1v1h-1zM284.5 323.3h1v1h-1zM293.5 308.9h1v1h-1zM294.4 311.8h1v1h-1zM300.9 313.7h1v1h-1zM295.1 316.4h1v1h-1zM285.0 317.8h1v1h-1zM295.5 313.3h1v1h-1zM297.5 327.1h1v1h-1zM298.6 312.1h1v1h-1zM294.3 315.2h1v1h-1zM284.2 323.0h1v1h-1zM299.7 321.1h1v1h-1zM287.4 316.3h1v1h-1zM295.9 318.7h1v1h-1zM281.9 321.4h1v1h-1zM297.1 316.3h1v1h-1zM287.0 320.3h1v1h-1zM299.2 310.8h1v1h-1zM303.6 316.8h1v1h-1zM299.7 306.4h1v1h-1zM284.5 311.0h1v1h-1zM286.0 309.4h1v1h-1zM286.5 324.0h1v1h-1zM296.4 313.5h1v1h-1zM294.4 318.2h1v1h-1zM293.1 310.7h1v1h-1zM294.1 315.1h1v1h-1zM295.9 314.6h1v1h-1zM296.3 311.1h1v1h-1zM303.1 321.5h1v1h-1zM291.7 306.2h1v1h-1zM293.4 320.1h1v1h-1zM280.0 332.5h1v1h-1zM283.5 311.3h1v1h-1zM287.6 316.5h1v1h-1zM284.4 306.8h1v1h-1zM293.5 316.1h1v1h-1zM298.8 305.7h1v1h-1zM289.2 320.0h1v1h-1zM288.9 313.2h1v1h-1zM288.7 304.9h1v1h-1zM292.9 308.3h1v1h-1zM288.5 306.5h1v1h-1zM294.8 314.4h1v1h-1zM294.0 321.3h1v1h-1zM294.3 313.7h1v1h-1zM297.0 308.9h1v1h-1zM292.2 310.9h1v1h-1zM293.0 316.7h1v1h-1zM291.7 319.5h1v1h-1zM297.2 318.4h1v1h-1zM289.0 323.1h1v1h-1zM289.0 305.9h1v1h-1zM286.7 314.6h1v1h-1zM292.1 323.1h1v1h-1zM288.1 305.8h1v1h-1zM289.2 304.5h1v1h-1zM299.9 309.0h1v1h-1zM291.1 309.2h1v1h-1zM299.4 314.9h1v1h-1zM293.7 312.6h1v1h-1zM297.6 312.7h1v1h-1zM288.0 312.8h1v1h-1zM292.9 314.6h1v1h-1zM309.1 310.5h1v1h-1zM297.4 317.7h1v1h-1zM298.5 315.7h1v1h-1zM293.5 309.5h1v1h-1zM297.6 326.9h1v1h-1zM284.4 308.0h1v1h-1zM286.4 320.2h1v1h-1zM294.8 311.2h1v1h-1zM297.3 318.0h1v1h-1zM289.3 319.0h1v1h-1zM290.7 321.0h1v1h-1zM289.6 324.5h1v1h-1zM290.7 310.6h1v1h-1zM284.1 333.3h1v1h-1zM282.6 318.3h1v1h-1zM291.4 310.9h1v1h-1zM280.6 307.5h1v1h-1zM285.6 330.2h1v1h-1zM287.6 326.0h1v1h-1zM285.1 315.8h1v1h-1zM293.5 320.6h1v1h-1zM289.0 324.0h1v1h-1zM291.4 316.5h1v1h-1zM285.3 313.3h1v1h-1zM287.1 315.7h1v1h-1zM295.2 321.1h1v1h-1zM294.2 316.1h1v1h-1zM288.8 308.4h1v1h-1zM294.2 320.6h1v1h-1zM293.1 305.4h1v1h-1zM292.9 311.4h1v1h-1zM302.2 323.6h1v1h-1zM289.2 317.4h1v1h-1zM294.6 317.4h1v1h-1zM294.6 316.6h1v1h-1zM290.3 322.3h1v1h-1zM284.2 315.6h1v1h-1zM296.3 304.0h1v1h-1zM293.5 317.5h1v1h-1zM291.9 303.4h1v1h-1zM291.9 325.7h1v1h-1zM286.0 322.3h1v1h-1zM293.7 313.1h1v1h-1zM280.0 315.5h1v1h-1zM291.6 316.5h1v1h-1zM282.0 322.1h1v1h-1zM289.4 311.2h1v1h-1zM296.4 310.5h1v1h-1zM290.0 312.1h1v1h-1zM288.6 316.8h1v1h-1zM295.0 317.6h1v1h-1zM289.9 313.5h1v1h-1zM289.0 320.6h1v1h-1zM289.1 309.7h1v1h-1zM301.5 315.5h1v1h-1zM296.0 311.7h1v1h-1zM294.8 309.8h1v1h-1zM283.9 323.5h1v1h-1zM295.7 314.0h1v1h-1zM283.2 309.8h1v1h-1zM294.8 316.2h1v1h-1zM284.4 309.8h1v1h-1zM304.3 319.6h1v1h-1zM280.7 321.1h1v1h-1zM299.6 322.2h1v1h-1zM296.8 309.4h1v1h-1zM280.1 315.0h1v1h-1zM290.0 327.2h1v1h-1zM301.0 314.6h1v1h-1zM299.0 323.7h1v1h-1zM280.8 325.3h1v1h-1zM288.2 307.5h1v1h-1zM284.0 323.4h1v1h-1zM284.9 320.6h1v1h-1zM287.4 321.3h1v1h-1zM303.6 326.3h1v1h-1zM292.5 318.8h1v1h-1zM290.1 316.4h1v1h-1zM289.4 319.7h1v1h-1zM295.9 313.8h1v1h-1zM296.1 319.0h1v1h-1zM285.6 303.6h1v1h-1zM301.1 326.6h1v1h-1zM284.5 312.7h1v1h-1zM289.8 319.3h1v1h-1zM294.5 317.9h1v1h-1zM302.7 316.6h1v1h-1zM289.3 316.6h1v1h-1zM293.4 316.3h1v1h-1zM300.0 305.9h1v1h-1zM295.6 312.6h1v1h-1zM298.9 323.3h1v1h-1zM298.3 309.7h1v1h-1zM293.3 309.5h1v1h-1zM295.7 328.9h1v1h-1zM297.5 323.3h1v1h-1zM291.4 325.5h1v1h-1zM302.0 315.9h1v1h-1zM278.7 317.6h1v1h-1zM285.6 320.6h1v1h-1zM301.0 319.4h1v1h-1zM294.4 315.4h1v1h-1zM287.4 307.0h1v1h-1zM294.0 311.4h1v1h-1zM298.6 306.7h1v1h-1zM287.9 325.5h1v1h-1zM296.6 313.4h1v1h-1zM290.8 314.8h1v1h-1zM290.8 317.6h1v1h-1zM291.1 316.0h1v1h-1zM298.8 319.1h1v1h-1zM284.3 312.0h1v1h-1zM289.2 306.5h1v1h-1zM295.9 326.5h1v1h-1zM283.7 311.5h1v1h-1zM281.3 312.9h1v1h-1zM295.3 310.9h1v1h-1zM291.6 312.4h1v1h-1zM290.6 315.9h1v1h-1zM292.5 320.3h1v1h-1zM285.3 309.3h1v1h-1zM310.5 317.5h1v1h-1zM285.2 311.6h1v1h-1zM288.8 323.1h1v1h-1zM282.3 308.2h1v1h-1zM288.9 316.3h1v1h-1zM301.5 320.1h1v1h-1zM291.7 307.4h1v1h-1zM295.5 316.4h1v1h-1zM288.4 316.6h1v1h-1zM303.4 310.8h1v1h-1zM292.7 314.4h1v1h-1zM283.5 321.7h1v1h-1zM296.6 317.2h1v1h-1zM289.2 313.2h1v1h-1zM295.5 314.4h1v1h-1zM292.5 318.4h1v1h-1zM293.3 323.4h1v1h-1zM292.5 320.5h1v1h-1zM285.7 320.1h1v1h-1zM281.8 325.2h1v1h-1zM297.9 306.3h1v1h-1zM290.7 306.9h1v1h-1zM288.6 320.7h1v1h-1zM283.3 315.3h1v1h-1zM300.7 320.2h1v1h-1zM286.5 307.1h1v1h-1zM289.1 311.6h1v1h-1zM282.0 314.0h1v1h-1zM288.1 320.0h1v1h-1zM289.2 306.4h1v1h-1zM290.1 317.5h1v1h-1zM291.1 319.8h1v1h-1zM287.5 316.4h1v1h-1zM287.8 316.5h1v1h-1zM291.5 323.1h1v1h-1zM293.7 316.9h1v1h-1zM290.6 315.4h1v1h-1zM302.9 313.5h1v1h-1zM292.9 319.5h1v1h-1zM292.6 313.8h1v1h-1zM287.3 319.5h1v1h-1zM298.2 316.1h1v1h-1zM284.9 322.4h1v1h-1zM281.0 310.8h1v1h-1zM285.2 316.0h1v1h-1zM295.6 317.6h1v1h-1zM284.1 318.0h1v1h-1zM300.0 322.4h1v1h-1zM291.4 317.9h1v1h-1zM281.7 321.0h1v1h-1zM290.1 327.3h1v1h-1zM303.1 320.6h1v1h-1zM285.9 309.2h1v1h-1zM283.0 306.9h1v1h-1zM294.9 319.6h1v1h-1zM300.0 313.3h1v1h-1zM298.1 317.3h1v1h-1zM289.4 314.5h1v1h-1zM292.8 323.4h1v1h-1zM293.6 322.7h1v1h-1zM299.2 308.7h1v1h-1zM305.5 317.2h1v1h-1zM290.8 313.7h1v1h-1zM300.0 307.6h1v1h-1zM289.3 319.4h1v1h-1zM295.4 314.7h1v1h-1zM285.5 318.2h1v1h-1zM286.6 330.4h1v1h-1zM294.2 323.5h1v1h-1zM285.7 322.2h1v1h-1zM297.3 313.1h1v1h-1zM288.0 308.4h1v1h-1zM292.0 323.0h1v1h-1zM291.0 313.7h1v1h-1zM289.4 315.8h1v1h-1zM292.4 313.3h1v1h-1zM298.5 316.1h1v1h-1zM311.7 330.0h1v1h-1zM283.8 313.6h1v1h-1zM293.5 313.8h1v1h-1zM290.4 316.7h1v1h-1zM285.6 317.2h1v1h-1zM293.4 308.3h1v1h-1zM285.8 304.8h1v1h-1zM291.0 312.0h1v1h-1zM299.6 314.2h1v1h-1zM278.4 310.7h1v1h-1zM293.1 309.4h1v1h-1zM294.4 309.8h1v1h-1zM285.3 313.1h1v1h-1zM294.9 314.7h1v1h-1zM293.8 305.6h1v1h-1zM289.3 312.1h1v1h-1zM299.4 317.5h1v1h-1zM283.0 314.6h1v1h-1zM295.7 307.2h1v1h-1zM290.0 313.2h1v1h-1zM284.7 315.2h1v1h-1zM290.4 320.0h1v1h-1zM289.3 305.6h1v1h-1zM296.9 319.5h1v1h-1zM281.8 312.6h1v1h-1zM290.3 316.6h1v1h-1zM288.6 319.4h1v1h-1zM301.8 310.1h1v1h-1zM284.3 310.5h1v1h-1zM298.4 314.6h1v1h-1zM280.1 319.7h1v1h-1zM293.8 312.0h1v1h-1zM290.6 306.8h1v1h-1zM294.0 311.1h1v1h-1zM286.9 317.6h1v1h-1zM278.8 322.2h1v1h-1zM281.5 312.2h1v1h-1zM300.0 313.3h1v1h-1zM292.9 314.2h1v1h-1zM285.9 314.5h1v1h-1zM297.3 309.6h1v1h-1zM286.6 312.6h1v1h-1zM286.7 316.5h1v1h-1zM283.6 315.9h1v1h-1zM299.1 315.4h1v1h-1zM304.2 309.2h1v1h-1zM285.2 312.0h1v1h-1zM293.3 311.0h1v1h-1zM297.8 321.5h1v1h-1zM305.2 323.9h1v1h-1zM275.8 317.3h1v1h-1zM292.3 324.8h1v1h-1zM295.6 313.5h1v1h-1zM281.8 313.5h1v1h-1zM294.1 307.5h1v1h-1zM292.7 316.6h1v1h-1zM296.1 312.5h1v1h-1zM287.6 315.8h1v1h-1zM294.1 318.2h1v1h-1zM287.5 313.8h1v1h-1zM295.3 308.6h1v1h-1zM292.4 315.0h1v1h-1zM288.9 314.8h1v1h-1zM282.2 315.4h1v1h-1zM302.1 319.3h1v1h-1zM298.6 314.0h1v1h-1zM297.1 313.7h1v1h-1zM287.1 325.6h1v1h-1zM289.1 321.7h1v1h-1zM302.2 314.8h1v1h-1zM296.2 309.8h1v1h-1zM285.8 312.7h1v1h-1zM291.7 317.6h1v1h-1zM292.3 320.3h1v1h-1zM290.1 329.7h1v1h-1zM285.3 313.9h1v1h-1zM299.6 316.3h1v1h-1zM295.2 313.3h1v1h-1zM290.1 315.9h1v1h-1zM281.2 313.1h1v1h-1zM287.6 309.1h1v1h-1zM291.4 321.5h1v1h-1zM297.1 316.2h1v1h-1zM289.0 323.1h1v1h-1zM298.6 312.5h1v1h-1zM292.4 317.0h1v1h-1zM286.6 319.4h1v1h-1zM283.8 307.6h1v1h-1zM281.8 319.9h1v1h-1zM290.5 316.1h1v1h-1zM293.6 304.6h1v1h-1zM300.5 311.1h1v1h-1zM291.4 309.3h1v1h-1zM284.0 312.7h1v1h-1zM306.8 324.7h1v1h-1zM293.5 312.1h1v1h-1zM289.8 327.6h1v1h-1zM289.8 314.1h1v1h-1zM282.7 311.2h1v1h-1zM295.6 324.9h1v1h-1zM294.0 321.2h1v1h-1zM301.9 323.8h1v1h-1zM298.7 327.1h1v1h-1zM297.2 321.9h1v1h-1zM299.7 322.9h1v1h-1zM289.7 305.4h1v1h-1zM288.7 310.7h1v1h-1zM291.2 318.3h1v1h-1zM283.5 316.9h1v1h-1zM290.6 319.9h1v1h-1zM289.4 312.9h1v1h-1zM295.9 322.3h1v1h-1zM291.5 327.7h1v1h-1zM279.2 319.2h1v1h-1zM291.8 320.7h1v1h-1zM300.8 318.7h1v1h-1zM279.7 321.3h1v1h-1zM286.7 317.0h1v1h-1zM291.7 312.8h1v1h-1zM283.0 316.9h1v1h-1zM288.1 316.4h1v1h-1zM292.0 306.7h1v1h-1zM283.1 317.2h1v1h-1zM293.6 315.9h1v1h-1zM294.3 317.0h1v1h-1zM283.4 312.5h1v1h-1zM291.8 318.6h1v1h-1zM298.7 319.5h1v1h-1zM290.5 311.6h1v1h-1zM294.5 317.7h1v1h-1zM295.9 320.4h1v1h-1zM290.2 320.2h1v1h-1zM298.1 310.3h1v1h-1zM294.2 309.7h1v1h-1zM285.3 315.9h1v1h-1zM295.1 309.5h1v1h-1zM297.4 330.5h1v1h-1zM297.0 310.9h1v1h-1zM287.6 310.9h1v1h-1zM294.7 319.5h1v1h-1zM300.7 312.8h1v1h-1zM299.5 314.7h1v1h-1zM300.2 309.7h1v1h-1zM291.6 312.4h1v1h-1zM296.1 305.9h1v1h-1zM289.9 310.1h1v1h-1zM298.7 314.5h1v1h-1zM291.2 314.9h1v1h-1zM288.2 308.8h1v1h-1zM291.7 311.1h1v1h-1zM291.4 310.3h1v1h-1zM294.3 316.1h1v1h-1zM294.9 314.4h1v1h-1zM284.3 307.9h1v1h-1zM287.6 319.0h1v1h-1zM294.2 311.1h1v1h-1zM295.0 317.5h1v1h-1zM278.6 328.1h1v1h-1zM279.8 315.2h1v1h-1zM283.8 331.5h1v1h-1zM278.1 310.2h1v1h-1zM275.7 318.3h1v1h-1zM284.5 318.6h1v1h-1zM281.0 308.1h1v1h-1zM275.5 332.6h1v1h-1zM274.7 309.2h1v1h-1zM278.2 317.9h1v1h-1zM276.7 306.5h1v1h-1zM278.0 312.1h1v1h-1zM277.0 328.1h1v1h-1zM284.0 323.7h1v1h-1zM282.9 314.6h1v1h-1zM281.4 322.8h1v1h-1zM275.0 308.9h1v1h-1zM282.7 323.1h1v1h-1zM278.4 329.8h1v1h-1zM283.6 304.4h1v1h-1zM274.6 312.7h1v1h-1zM275.6 311.4h1v1h-1zM275.4 306.6h1v1h-1zM283.0 330.5h1v1h-1zM284.5 324.0h1v1h-1zM282.2 321.8h1v1h-1zM277.4 321.8h1v1h-1zM274.6 323.5h1v1h-1zM284.6 312.3h1v1h-1zM275.9 309.8h1v1h-1zM282.9 306.2h1v1h-1zM279.2 308.5h1v1h-1zM277.7 309.8h1v1h-1zM278.5 327.1h1v1h-1zM274.8 313.3h1v1h-1zM275.3 315.2h1v1h-1zM283.5 325.4h1v1h-1zM279.0 332.1h1v1h-1zM281.4 307.0h1v1h-1zM277.7 321.0h1v1h-1zM279.3 316.1h1v1h-1zM282.7 309.3h1v1h-1zM281.1 313.9h1v1h-1zM278.4 326.7h1v1h-1zM279.1 311.8h1v1h-1zM284.8 320.2h1v1h-1zM278.4 304.5h1v1h-1zM275.4 328.9h1v1h-1zM275.2 329.0h1v1h-1zM274.6 328.2h1v1h-1zM282.4 316.6h1v1h-1zM279.0 316.4h1v1h-1zM280.0 323.5h1v1h-1zM277.3 332.6h1v1h-1zM278.3 318.5h1v1h-1zM279.0 312.6h1v1h-1zM283.1 317.8h1v1h-1zM275.0 320.6h1v1h-1zM276.0 322.3h1v1h-1zM275.9 331.3h1v1h-1zM279.1 320.8h1v1h-1zM279.2 327.8h1v1h-1zM281.5 317.7h1v1h-1zM284.9 317.1h1v1h-1zM284.1 330.3h1v1h-1zM276.6 312.3h1v1h-1zM278.5 312.8h1v1h-1zM279.8 319.9h1v1h-1zM282.7 307.2h1v1h-1zM279.6 308.8h1v1h-1zM275.8 319.0h1v1h-1zM274.6 322.6h1v1h-1zM277.7 332.4h1v1h-1zM280.7 307.3h1v1h-1zM276.0 305.2h1v1h-1zM279.0 324.0h1v1h-1zM278.2 330.0h1v1h-1zM284.6 306.7h1v1h-1zM281.7 312.6h1v1h-1zM284.7 323.8h1v1h-1zM279.7 322.6h1v1h-1zM279.4 329.2h1v1h-1zM284.8 323.2h1v1h-1zM278.5 331.5h1v1h-1zM280.1 312.5h1v1h-1zM275.9 321.1h1v1h-1zM277.2 315.4h1v1h-1zM276.7 324.9h1v1h-1zM278.8 328.5h1v1h-1zM283.8 320.8h1v1h-1zM276.3 324.8h1v1h-1zM274.5 315.9h1v1h-1zM280.2 328.9h1v1h-1zM278.0 315.2h1v1h-1zM274.5 322.1h1v1h-1zM282.4 321.3h1v1h-1zM284.3 318.9h1v1h-1zM282.2 330.6h1v1h-1zM282.8 324.4h1v1h-1zM282.3 321.1h1v1h-1zM284.8 324.7h1v1h-1zM275.5 324.6h1v1h-1zM283.6 313.6h1v1h-1zM281.7 313.2h1v1h-1zM284.4 321.7h1v1h-1zM283.3 308.0h1v1h-1zM280.1 327.5h1v1h-1zM281.2 326.3h1v1h-1zM276.7 322.6h1v1h-1zM277.7 313.7h1v1h-1zM275.6 332.4h1v1h-1zM278.4 325.5h1v1h-1zM283.1 329.0h1v1h-1zM277.8 324.9h1v1h-1zM283.7 320.2h1v1h-1zM276.2 312.2h1v1h-1zM281.1 309.2h1v1h-1zM276.6 327.7h1v1h-1zM281.0 322.0h1v1h-1zM282.6 310.9h1v1h-1zM283.7 310.1h1v1h-1zM282.4 318.1h1v1h-1zM275.6 322.4h1v1h-1zM281.5 326.1h1v1h-1zM277.2 317.9h1v1h-1zM279.6 311.3h1v1h-1zM275.6 323.6h1v1h-1zM278.9 307.8h1v1h-1zM281.2 309.0h1v1h-1zM275.3 314.8h1v1h-1zM280.5 320.3h1v1h-1zM283.7 304.6h1v1h-1zM279.8 307.9h1v1h-1zM277.6 324.5h1v1h-1zM276.3 315.9h1v1h-1zM279.1 317.0h1v1h-1zM278.3 317.7h1v1h-1zM281.6 309.1h1v1h-1zM282.1 332.0h1v1h-1zM281.7 330.8h1v1h-1zM282.3 322.4h1v1h-1zM282.7 306.7h1v1h-1zM282.0 323.9h1v1h-1zM276.8 327.5h1v1h-1zM280.4 313.7h1v1h-1zM278.3 308.4h1v1h-1zM274.8 325.1h1v1h-1zM280.9 322.4h1v1h-1zM275.6 315.4h1v1h-1zM281.5 312.6h1v1h-1zM279.9 330.9h1v1h-1zM274.8 306.5h1v1h-1zM278.6 313.0h1v1h-1zM280.0 317.9h1v1h-1zM276.7 321.1h1v1h-1zM284.2 311.4h1v1h-1zM284.5 321.2h1v1h-1zM275.1 307.3h1v1h-1zM281.9 319.4h1v1h-1zM278.7 306.5h1v1h-1zM283.2 315.3h1v1h-1zM284.3 324.7h1v1h-1zM279.5 309.8h1v1h-1zM281.0 308.4h1v1h-1zM278.0 332.0h1v1h-1zM281.3 316.4h1v1h-1zM284.9 305.7h1v1h-1zM277.7 316.3h1v1h-1zM284.7 327.7h1v1h-1zM281.6 326.1h1v1h-1zM280.4 323.5h1v1h-1zM278.4 320.6h1v1h-1zM284.2 305.7h1v1h-1zM275.3 322.9h1v1h-1zM276.6 315.2h1v1h-1zM283.1 312.2h1v1h-1zM276.9 311.0h1v1h-1zM275.9 332.6h1v1h-1zM278.6 321.3h1v1h-1zM282.1 325.7h1v1h-1zM284.5 307.2h1v1h-1zM276.7 305.1h1v1h-1zM282.2 309.3h1v1h-1zM284.0 320.0h1v1h-1zM280.8 330.0h1v1h-1zM280.5 306.8h1v1h-1zM280.1 318.4h1v1h-1zM280.9 323.1h1v1h-1zM277.1 316.1h1v1h-1zM283.8 306.1h1v1h-1zM276.4 306.8h1v1h-1zM284.4 304.3h1v1h-1zM284.5 313.3h1v1h-1zM288.7 325.2h1v1h-1zM302.1 327.8h1v1h-1zM296.7 366.5h1v1h-1zM287.7 326.6h1v1h-1zM297.3 329.0h1v1h-1zM294.6 327.6h1v1h-1zM300.1 332.4h1v1h-1zM289.2 337.9h1v1h-1zM291.9 340.5h1v1h-1zM294.3 330.5h1v1h-1zM294.7 332.5h1v1h-1zM288.4 330.8h1v1h-1zM300.1 328.9h1v1h-1zM288.7 325.2h1v1h-1zM293.9 332.0h1v1h-1zM295.7 336.0h1v1h-1zM293.5 330.4h1v1h-1zM291.8 339.6h1v1h-1zM298.3 326.0h1v1h-1zM294.9 341.7h1v1h-1zM297.6 343.2h1v1h-1zM299.0 330.3h1v1h-1zM301.7 334.8h1v1h-1zM294.4 332.8h1v1h-1zM293.1 330.7h1v1h-1zM301.6 346.8h1v1h-1zM302.4 335.6h1v1h-1zM300.8 327.5h1v1h-1zM289.5 347.4h1v1h-1zM301.4 395.0h1v1h-1zM297.0 356.9h1v1h-1zM294.9 359.4h1v1h-1zM288.2 342.2h1v1h-1zM288.8 331.5h1v1h-1zM300.7 380.7h1v1h-1zM290.9 331.5h1v1h-1zM294.1 349.8h1v1h-1zM293.3 325.1h1v1h-1zM292.6 346.6h1v1h-1zM293.2 377.4h1v1h-1zM290.8 331.7h1v1h-1zM301.3 342.8h1v1h-1zM294.7 328.0h1v1h-1zM291.0 328.6h1v1h-1zM289.6 334.3h1v1h-1zM299.6 358.7h1v1h-1zM299.4 339.5h1v1h-1zM300.0 345.6h1v1h-1zM296.1 336.5h1v1h-1zM291.6 334.4h1v1h-1zM289.6 343.7h1v1h-1zM292.3 326.1h1v1h-1zM287.5 340.5h1v1h-1zM290.7 329.6h1v1h-1zM291.9 327.1h1v1h-1zM288.0 344.9h1v1h-1zM288.6 325.5h1v1h-1zM288.0 328.9h1v1h-1zM292.6 331.4h1v1h-1zM301.8 336.5h1v1h-1zM302.3 342.0h1v1h-1zM287.8 332.9h1v1h-1zM296.1 327.9h1v1h-1zM286.1 347.7h1v1h-1zM297.3 326.7h1v1h-1zM296.6 325.1h1v1h-1zM294.7 335.1h1v1h-1zM290.7 335.2h1v1h-1zM293.9 325.9h1v1h-1zM286.7 348.7h1v1h-1zM297.1 359.5h1v1h-1zM299.2 327.1h1v1h-1zM287.5 327.2h1v1h-1zM303.0 335.4h1v1h-1zM289.0 333.2h1v1h-1zM301.6 342.8h1v1h-1zM302.6 329.7h1v1h-1zM293.2 326.4h1v1h-1zM300.3 329.4h1v1h-1zM295.5 355.6h1v1h-1zM290.6 346.1h1v1h-1zM297.7 326.2h1v1h-1zM292.1 344.7h1v1h-1zM288.6 351.0h1v1h-1zM299.1 326.9h1v1h-1zM289.2 329.6h1v1h-1zM301.9 341.1h1v1h-1zM289.4 329.7h1v1h-1zM291.5 334.4h1v1h-1zM299.6 355.7h1v1h-1zM300.2 330.5h1v1h-1zM292.8 328.2h1v1h-1zM296.4 326.5h1v1h-1zM302.0 334.1h1v1h-1zM290.9 328.8h1v1h-1zM290.6 338.2h1v1h-1zM287.8 335.0h1v1h-1zM297.7 334.2h1v1h-1zM297.7 329.3h1v1h-1zM288.1 330.2h1v1h-1zM298.2 329.2h1v1h-1zM290.9 333.5h1v1h-1zM294.7 334.8h1v1h-1zM295.5 331.3h1v1h-1zM295.9 326.9h1v1h-1zM295.4 326.3h1v1h-1zM292.8 338.5h1v1h-1zM297.9 331.0h1v1h-1zM289.6 331.3h1v1h-1zM300.8 338.1h1v1h-1zM292.6 360.1h1v1h-1zM299.1 334.9h1v1h-1zM296.3 328.2h1v1h-1zM293.7 339.0h1v1h-1zM294.1 329.2h1v1h-1zM294.9 345.0h1v1h-1zM293.1 345.7h1v1h-1zM295.5 339.3h1v1h-1zM294.1 338.6h1v1h-1zM300.3 342.6h1v1h-1zM290.4 335.1h1v1h-1zM298.8 356.6h1v1h-1zM293.0 331.6h1v1h-1zM300.5 325.7h1v1h-1zM300.1 354.3h1v1h-1zM287.3 327.3h1v1h-1zM301.8 332.1h1v1h-1zM299.8 334.0h1v1h-1zM297.1 327.2h1v1h-1zM289.3 326.5h1v1h-1zM300.2 329.6h1v1h-1zM296.1 335.7h1v1h-1zM289.9 334.1h1v1h-1zM296.9 336.4h1v1h-1zM288.0 340.6h1v1h-1zM297.9 336.3h1v1h-1zM289.3 350.6h1v1h-1zM291.2 333.7h1v1h-1zM286.4 333.9h1v1h-1zM292.3 349.3h1v1h-1zM296.3 340.8h1v1h-1zM297.2 329.4h1v1h-1zM293.1 328.4h1v1h-1zM290.8 329.6h1v1h-1zM287.6 325.6h1v1h-1zM292.1 342.4h1v1h-1zM299.3 340.6h1v1h-1zM301.9 326.5h1v1h-1zM301.7 329.8h1v1h-1zM287.4 345.8h1v1h-1zM288.2 330.5h1v1h-1zM292.3 325.4h1v1h-1zM295.5 330.8h1v1h-1zM286.9 325.9h1v1h-1zM287.5 325.8h1v1h-1zM300.0 348.7h1v1h-1zM302.9 329.0h1v1h-1zM293.4 341.6h1v1h-1zM299.5 331.2h1v1h-1zM297.9 330.8h1v1h-1zM299.1 330.1h1v1h-1zM293.2 347.1h1v1h-1zM301.8 349.3h1v1h-1zM288.1 332.3h1v1h-1zM290.5 334.0h1v1h-1zM296.8 332.3h1v1h-1zM290.2 345.1h1v1h-1zM300.3 331.8h1v1h-1zM300.0 328.4h1v1h-1zM299.4 330.5h1v1h-1zM300.9 327.4h1v1h-1zM296.8 331.5h1v1h-1zM289.1 328.2h1v1h-1zM291.6 329.2h1v1h-1zM286.1 335.5h1v1h-1zM292.7 363.1h1v1h-1zM296.8 332.6h1v1h-1zM297.8 338.2h1v1h-1zM298.1 332.0h1v1h-1zM290.4 360.4h1v1h-1zM301.7 329.1h1v1h-1zM295.3 349.2h1v1h-1zM289.5 334.8h1v1h-1zM301.9 355.8h1v1h-1zM297.4 340.1h1v1h-1zM297.6 333.7h1v1h-1zM296.3 343.1h1v1h-1zM286.0 354.5h1v1h-1zM295.4 330.1h1v1h-1zM298.3 334.3h1v1h-1zM297.3 331.7h1v1h-1zM289.7 327.7h1v1h-1zM294.1 329.1h1v1h-1zM298.3 358.0h1v1h-1zM301.3 331.2h1v1h-1zM289.9 348.8h1v1h-1zM295.7 335.4h1v1h-1zM287.2 357.8h1v1h-1zM289.0 328.6h1v1h-1zM292.4 370.8h1v1h-1zM319.7 320.6h1v1h-1zM307.7 305.9h1v1h-1zM322.3 315.4h1v1h-1zM314.0 309.2h1v1h-1zM309.0 312.1h1v1h-1zM315.4 305.7h1v1h-1zM304.9 322.4h1v1h-1zM305.1 311.3h1v1h-1zM308.9 319.1h1v1h-1zM312.4 329.0h1v1h-1zM322.9 310.9h1v1h-1zM326.3 312.1h1v1h-1zM308.5 311.4h1v1h-1zM305.4 306.7h1v1h-1zM316.8 319.2h1v1h-1zM305.3 318.8h1v1h-1zM313.4 320.0h1v1h-1zM306.9 329.1h1v1h-1zM305.2 319.4h1v1h-1zM309.7 320.2h1v1h-1zM317.5 327.3h1v1h-1zM310.8 326.9h1v1h-1zM313.3 318.1h1v1h-1zM309.0 320.1h1v1h-1zM314.2 314.2h1v1h-1zM309.4 317.4h1v1h-1zM306.6 317.1h1v1h-1zM329.2 318.3h1v1h-1zM306.9 310.9h1v1h-1zM309.1 320.0h1v1h-1zM325.1 379.6h1v1h-1zM327.1 311.7h1v1h-1zM326.8 399.5h1v1h-1zM280.5 366.7h1v1h-1zM292.7 351.1h1v1h-1zM282.3 352.3h1v1h-1zM294.5 371.4h1v1h-1z" fill="#000"/><rect x="273.8" y="302.7" width="104.5" height="100.3" fill="none" stroke="#333" stroke-width="0.9"/><line x1="304.4" y1="302.7" x2="304.4" y2="403" stroke="#111" stroke-width="1.1"/><line x1="273.8" y1="375.4" x2="378.3" y2="375.4" stroke="#333" stroke-width="0.9"/><path d="M273.8 403v3.5 M281.66 403v2 M286.26 403v2 M289.53 403v2 M292.06 403v2 M294.13 403v2 M295.88 403v2 M297.39 403v2 M298.73 403v2 M299.93 403v3.5 M307.79 403v2 M312.39 403v2 M315.65 403v2 M318.19 403v2 M320.25 403v2 M322 403v2 M323.52 403v2 M324.85 403v2 M326.05 403v3.5 M333.91 403v2 M338.51 403v2 M341.78 403v2 M344.31 403v2 M346.38 403v2 M348.13 403v2 M349.64 403v2 M350.98 403v2 M352.18 403v3.5 M360.04 403v2 M364.64 403v2 M367.9 403v2 M370.44 403v2 M372.5 403v2 M374.25 403v2 M375.77 403v2 M377.1 403v2 M378.3 403v3.5 M273.8 403h-3.5 M273.8 395.45h-2 M273.8 391.04h-2 M273.8 387.9h-2 M273.8 385.47h-2 M273.8 383.49h-2 M273.8 381.81h-2 M273.8 380.36h-2 M273.8 379.07h-2 M273.8 377.93h-3.5 M273.8 370.38h-2 M273.8 365.96h-2 M273.8 362.83h-2 M273.8 360.4h-2 M273.8 358.41h-2 M273.8 356.73h-2 M273.8 355.28h-2 M273.8 354h-2 M273.8 352.85h-3.5 M273.8 345.3h-2 M273.8 340.89h-2 M273.8 337.75h-2 M273.8 335.32h-2 M273.8 333.34h-2 M273.8 331.66h-2 M273.8 330.21h-2 M273.8 328.92h-2 M273.8 327.77h-3.5 M273.8 320.23h-2 M273.8 315.81h-2 M273.8 312.68h-2 M273.8 310.25h-2 M273.8 308.26h-2 M273.8 306.58h-2 M273.8 305.13h-2 M273.8 303.85h-2 M273.8 302.7h-3.5" stroke="#222" stroke-width="0.6" fill="none"/><text x="268.3" y="403" font-size="6.5" fill="#333" text-anchor="middle" transform="rotate(-90 268.3 403)">10<tspan dy="-3" font-size="5">0</tspan></text><text x="268.3" y="377.93" font-size="6.5" fill="#333" text-anchor="middle" transform="rotate(-90 268.3 377.93)">10<tspan dy="-3" font-size="5">1</tspan></text><text x="268.3" y="352.85" font-size="6.5" fill="#333" text-anchor="middle" transform="rotate(-90 268.3 352.85)">10<tspan dy="-3" font-size="5">2</tspan></text><text x="268.3" y="327.77" font-size="6.5" fill="#333" text-anchor="middle" transform="rotate(-90 268.3 327.77)">10<tspan dy="-3" font-size="5">3</tspan></text><text x="268.3" y="302.7" font-size="6.5" fill="#333" text-anchor="middle" transform="rotate(-90 268.3 302.7)">10<tspan dy="-3" font-size="5">4</tspan></text><text x="269.8" y="413" font-size="6.5" fill="#333">10<tspan dy="-3" font-size="5">0</tspan></text><text x="295.93" y="413" font-size="6.5" fill="#333">10<tspan dy="-3" font-size="5">1</tspan></text><text x="322.05" y="413" font-size="6.5" fill="#333">10<tspan dy="-3" font-size="5">2</tspan></text><text x="348.18" y="413" font-size="6.5" fill="#333">10<tspan dy="-3" font-size="5">3</tspan></text><text x="374.3" y="413" font-size="6.5" fill="#333">10<tspan dy="-3" font-size="5">4</tspan></text><text x="344.5" y="371.8" font-size="18.8" font-weight="bold" fill="#1614bf">1%</text><text x="310.2" y="426.3" font-size="11.6" font-weight="bold" fill="#111">CD107</text><text x="256.5" y="348.5" font-size="11.3" font-weight="bold" fill="#111" text-anchor="middle" transform="rotate(-90 256.5 348.5)">CD56</text><ellipse cx="425.5" cy="315.5" rx="9" ry="7" fill="#000"/><path d="M418.5 321.0h1v1h-1zM436.6 306.2h1v1h-1zM416.9 318.1h1v1h-1zM416.7 307.9h1v1h-1zM421.1 313.2h1v1h-1zM418.0 325.2h1v1h-1zM429.4 310.8h1v1h-1zM415.0 307.2h1v1h-1zM435.3 324.5h1v1h-1zM434.3 309.5h1v1h-1zM412.1 317.4h1v1h-1zM426.1 310.5h1v1h-1zM414.8 324.8h1v1h-1zM418.7 320.8h1v1h-1zM422.8 321.8h1v1h-1zM423.8 307.1h1v1h-1zM424.2 312.6h1v1h-1zM436.1 323.0h1v1h-1zM418.7 311.2h1v1h-1zM416.9 307.3h1v1h-1zM429.4 323.0h1v1h-1zM436.6 310.7h1v1h-1zM436.0 317.4h1v1h-1zM434.9 309.0h1v1h-1zM413.7 307.5h1v1h-1zM436.4 315.3h1v1h-1zM428.9 318.4h1v1h-1zM434.7 321.2h1v1h-1zM422.6 324.6h1v1h-1zM417.7 315.9h1v1h-1zM432.6 319.4h1v1h-1zM429.2 311.6h1v1h-1zM432.2 323.7h1v1h-1zM417.2 312.2h1v1h-1zM415.5 305.8h1v1h-1zM431.9 309.4h1v1h-1zM412.5 308.0h1v1h-1zM436.6 318.4h1v1h-1zM415.5 308.3h1v1h-1zM427.6 314.6h1v1h-1zM422.9 311.9h1v1h-1zM420.4 321.7h1v1h-1zM416.4 311.1h1v1h-1zM432.3 310.0h1v1h-1zM435.8 311.1h1v1h-1zM431.0 309.0h1v1h-1zM427.6 318.8h1v1h-1zM430.5 316.0h1v1h-1zM425.9 319.6h1v1h-1zM426.5 307.4h1v1h-1zM435.6 321.8h1v1h-1zM419.3 316.4h1v1h-1zM417.8 325.5h1v1h-1zM436.6 325.8h1v1h-1zM436.5 305.3h1v1h-1zM424.4 317.6h1v1h-1zM432.8 310.3h1v1h-1zM431.3 319.6h1v1h-1zM436.7 307.9h1v1h-1zM414.1 316.9h1v1h-1zM435.4 321.0h1v1h-1zM425.0 317.0h1v1h-1zM423.7 311.3h1v1h-1zM429.9 320.6h1v1h-1zM428.0 324.6h1v1h-1zM423.3 310.8h1v1h-1zM419.6 307.3h1v1h-1zM435.9 313.3h1v1h-1zM433.3 313.6h1v1h-1zM414.7 313.2h1v1h-1zM422.5 324.9h1v1h-1zM431.8 310.1h1v1h-1zM434.9 306.2h1v1h-1zM437.0 305.3h1v1h-1zM418.3 315.1h1v1h-1zM435.2 310.7h1v1h-1zM430.1 315.3h1v1h-1zM413.8 319.5h1v1h-1zM417.5 311.8h1v1h-1zM416.9 307.7h1v1h-1zM414.0 324.2h1v1h-1zM429.9 308.9h1v1h-1zM420.1 311.5h1v1h-1zM430.0 305.5h1v1h-1zM414.1 317.8h1v1h-1zM434.7 310.0h1v1h-1zM430.1 320.7h1v1h-1zM432.3 314.0h1v1h-1zM427.8 322.4h1v1h-1zM423.9 312.0h1v1h-1zM417.0 321.4h1v1h-1zM436.5 306.5h1v1h-1zM415.8 312.4h1v1h-1zM425.6 311.8h1v1h-1zM415.2 313.6h1v1h-1zM414.8 309.6h1v1h-1zM430.1 311.2h1v1h-1zM435.1 325.4h1v1h-1zM424.0 306.7h1v1h-1zM432.7 315.4h1v1h-1zM434.3 324.0h1v1h-1zM425.9 314.7h1v1h-1zM432.2 314.4h1v1h-1zM419.6 316.0h1v1h-1zM415.9 307.8h1v1h-1zM416.9 309.2h1v1h-1zM412.2 319.7h1v1h-1zM413.9 317.6h1v1h-1zM431.5 309.8h1v1h-1zM435.5 315.1h1v1h-1zM413.5 325.7h1v1h-1zM430.7 309.3h1v1h-1zM432.2 321.8h1v1h-1zM429.7 324.7h1v1h-1zM425.0 316.4h1v1h-1zM424.6 308.4h1v1h-1zM430.1 314.9h1v1h-1zM418.4 321.5h1v1h-1zM431.6 318.9h1v1h-1zM417.0 322.7h1v1h-1zM412.9 315.6h1v1h-1zM436.3 305.1h1v1h-1zM414.4 305.7h1v1h-1zM417.1 321.8h1v1h-1zM413.5 316.3h1v1h-1zM412.3 324.1h1v1h-1zM415.2 322.8h1v1h-1zM436.0 318.5h1v1h-1zM430.1 317.5h1v1h-1zM422.5 321.3h1v1h-1zM412.2 308.6h1v1h-1zM433.5 312.8h1v1h-1zM424.6 318.5h1v1h-1zM434.2 316.0h1v1h-1zM425.1 308.5h1v1h-1zM414.0 311.8h1v1h-1zM413.9 307.9h1v1h-1zM432.5 322.5h1v1h-1zM417.8 308.8h1v1h-1zM415.9 318.6h1v1h-1zM422.6 308.6h1v1h-1zM418.8 307.7h1v1h-1zM419.2 305.9h1v1h-1zM432.6 312.6h1v1h-1zM424.2 322.6h1v1h-1zM437.9 324.1h1v1h-1zM414.6 316.3h1v1h-1zM419.7 323.1h1v1h-1zM434.9 318.7h1v1h-1zM423.3 325.1h1v1h-1zM432.0 309.4h1v1h-1zM423.3 310.4h1v1h-1zM422.6 310.7h1v1h-1zM435.0 322.2h1v1h-1zM420.2 324.7h1v1h-1zM426.2 321.3h1v1h-1zM426.7 325.2h1v1h-1zM413.1 305.1h1v1h-1zM414.6 308.4h1v1h-1zM418.1 308.2h1v1h-1zM412.1 311.9h1v1h-1zM429.8 312.7h1v1h-1zM427.0 313.4h1v1h-1zM420.9 308.3h1v1h-1zM422.9 316.0h1v1h-1zM413.1 318.8h1v1h-1zM422.4 322.1h1v1h-1zM433.9 308.2h1v1h-1zM413.0 325.7h1v1h-1zM429.0 310.4h1v1h-1zM430.0 313.8h1v1h-1zM417.7 323.9h1v1h-1zM419.7 308.1h1v1h-1zM416.7 313.9h1v1h-1zM426.7 312.4h1v1h-1zM421.6 306.9h1v1h-1zM415.4 305.9h1v1h-1zM419.5 309.4h1v1h-1zM418.4 315.8h1v1h-1zM437.7 306.0h1v1h-1zM427.9 309.2h1v1h-1zM424.4 324.8h1v1h-1zM424.7 315.2h1v1h-1zM427.0 310.8h1v1h-1zM437.5 325.6h1v1h-1zM422.0 320.0h1v1h-1zM413.5 312.3h1v1h-1zM416.8 322.8h1v1h-1zM412.2 305.8h1v1h-1zM417.2 311.7h1v1h-1zM427.7 325.0h1v1h-1zM418.7 316.1h1v1h-1zM433.7 307.0h1v1h-1zM436.7 306.8h1v1h-1zM415.2 324.8h1v1h-1zM433.0 313.0h1v1h-1zM429.2 323.6h1v1h-1zM437.8 310.3h1v1h-1zM416.9 317.3h1v1h-1zM431.9 310.0h1v1h-1zM420.6 322.8h1v1h-1zM417.2 321.7h1v1h-1zM418.7 325.4h1v1h-1zM436.4 315.3h1v1h-1zM424.5 321.0h1v1h-1zM423.3 306.9h1v1h-1zM434.7 317.9h1v1h-1zM434.3 320.6h1v1h-1zM435.3 320.7h1v1h-1zM412.6 310.8h1v1h-1zM437.9 305.4h1v1h-1zM429.8 317.9h1v1h-1zM435.5 320.9h1v1h-1zM432.9 316.3h1v1h-1zM435.4 308.8h1v1h-1zM435.0 313.5h1v1h-1zM428.8 309.7h1v1h-1zM415.3 323.4h1v1h-1zM429.7 319.3h1v1h-1zM412.9 317.8h1v1h-1zM421.1 320.1h1v1h-1zM419.4 325.7h1v1h-1zM419.7 325.2h1v1h-1zM433.0 305.3h1v1h-1zM434.9 306.0h1v1h-1zM435.4 325.9h1v1h-1zM428.1 312.8h1v1h-1zM432.1 320.4h1v1h-1zM415.3 313.0h1v1h-1zM421.0 321.7h1v1h-1zM432.5 320.8h1v1h-1zM423.8 311.2h1v1h-1zM424.9 320.2h1v1h-1zM432.4 305.5h1v1h-1zM417.8 306.0h1v1h-1zM434.5 315.8h1v1h-1zM431.2 324.3h1v1h-1zM414.0 325.9h1v1h-1zM423.0 306.0h1v1h-1zM435.8 311.9h1v1h-1zM419.0 307.8h1v1h-1zM412.3 323.6h1v1h-1zM416.4 313.3h1v1h-1zM426.1 311.6h1v1h-1zM414.6 314.2h1v1h-1zM413.4 313.1h1v1h-1zM415.6 316.0h1v1h-1zM433.4 306.7h1v1h-1zM437.2 307.0h1v1h-1zM415.5 310.6h1v1h-1zM426.5 307.6h1v1h-1zM429.7 325.3h1v1h-1zM413.8 308.2h1v1h-1zM434.9 323.7h1v1h-1zM431.4 311.3h1v1h-1zM429.7 325.8h1v1h-1zM424.5 308.1h1v1h-1zM432.5 317.1h1v1h-1zM433.4 319.8h1v1h-1zM419.4 305.6h1v1h-1zM418.2 316.5h1v1h-1zM437.6 315.5h1v1h-1zM424.6 321.9h1v1h-1zM422.7 312.7h1v1h-1zM436.3 315.4h1v1h-1zM430.8 305.5h1v1h-1zM431.4 319.5h1v1h-1zM432.9 325.3h1v1h-1zM433.7 321.4h1v1h-1zM429.8 321.8h1v1h-1zM437.9 320.8h1v1h-1zM432.6 309.8h1v1h-1zM433.5 324.8h1v1h-1zM433.6 306.7h1v1h-1zM413.2 315.0h1v1h-1zM437.7 322.2h1v1h-1zM431.9 320.4h1v1h-1zM414.2 310.1h1v1h-1zM430.7 311.2h1v1h-1zM430.4 316.4h1v1h-1zM425.0 313.0h1v1h-1zM419.9 308.0h1v1h-1zM426.0 310.8h1v1h-1zM416.2 320.6h1v1h-1zM422.2 314.6h1v1h-1zM428.2 315.7h1v1h-1zM430.6 307.5h1v1h-1zM426.1 305.5h1v1h-1zM435.1 324.1h1v1h-1zM435.2 322.7h1v1h-1zM435.7 315.3h1v1h-1zM427.4 318.7h1v1h-1zM418.5 319.1h1v1h-1zM413.2 314.4h1v1h-1zM427.1 307.1h1v1h-1zM425.4 305.5h1v1h-1zM412.0 320.6h1v1h-1zM415.7 322.2h1v1h-1zM437.2 306.4h1v1h-1zM431.5 322.1h1v1h-1zM435.5 305.4h1v1h-1zM420.4 323.5h1v1h-1zM423.2 315.6h1v1h-1zM427.2 315.4h1v1h-1zM422.5 325.9h1v1h-1zM412.8 320.5h1v1h-1zM424.2 316.1h1v1h-1zM429.3 322.8h1v1h-1zM421.3 314.4h1v1h-1zM436.0 311.0h1v1h-1zM436.3 321.9h1v1h-1zM412.8 322.2h1v1h-1zM422.8 317.9h1v1h-1zM427.7 310.8h1v1h-1zM422.6 325.7h1v1h-1zM437.4 322.0h1v1h-1zM419.8 308.5h1v1h-1zM435.3 318.7h1v1h-1zM421.0 317.2h1v1h-1zM435.1 305.9h1v1h-1zM414.6 319.3h1v1h-1zM434.1 306.8h1v1h-1zM433.9 319.2h1v1h-1zM426.7 318.4h1v1h-1zM419.9 323.5h1v1h-1zM422.1 311.1h1v1h-1zM415.3 317.1h1v1h-1zM419.3 320.3h1v1h-1zM425.4 306.0h1v1h-1zM425.6 309.1h1v1h-1zM424.2 317.6h1v1h-1zM434.7 323.0h1v1h-1zM417.6 313.9h1v1h-1zM432.4 325.1h1v1h-1zM434.4 325.9h1v1h-1zM421.2 313.3h1v1h-1zM413.5 312.7h1v1h-1zM433.3 318.8h1v1h-1zM431.0 318.7h1v1h-1zM424.6 324.2h1v1h-1zM436.1 309.2h1v1h-1zM418.8 324.4h1v1h-1zM430.9 314.9h1v1h-1zM428.9 311.3h1v1h-1zM422.1 313.1h1v1h-1zM432.2 309.5h1v1h-1zM414.8 311.2h1v1h-1zM420.0 321.1h1v1h-1zM424.8 312.6h1v1h-1zM437.1 323.7h1v1h-1zM419.4 311.8h1v1h-1zM425.9 314.0h1v1h-1zM423.4 315.6h1v1h-1zM419.2 316.9h1v1h-1zM435.4 321.6h1v1h-1zM435.3 310.4h1v1h-1zM422.1 315.4h1v1h-1zM430.5 315.8h1v1h-1zM435.5 307.2h1v1h-1zM427.6 322.3h1v1h-1zM426.4 325.4h1v1h-1zM429.5 315.3h1v1h-1zM411.3 304.9h1v1h-1zM413.2 310.5h1v1h-1zM429.8 320.9h1v1h-1zM427.7 303.2h1v1h-1zM437.0 303.4h1v1h-1zM421.2 312.2h1v1h-1zM434.7 318.0h1v1h-1zM434.4 320.2h1v1h-1zM442.1 321.3h1v1h-1zM422.4 311.7h1v1h-1zM427.8 309.4h1v1h-1zM427.7 309.3h1v1h-1zM417.0 319.8h1v1h-1zM420.6 317.7h1v1h-1zM414.4 310.8h1v1h-1zM445.0 316.5h1v1h-1zM424.9 316.5h1v1h-1zM425.4 322.8h1v1h-1zM420.2 312.0h1v1h-1zM425.7 319.0h1v1h-1zM432.1 311.0h1v1h-1zM422.6 317.9h1v1h-1zM425.2 315.1h1v1h-1zM443.9 316.9h1v1h-1zM433.3 315.3h1v1h-1zM427.5 324.3h1v1h-1zM421.9 311.3h1v1h-1zM425.2 310.0h1v1h-1zM419.1 312.2h1v1h-1zM427.7 318.3h1v1h-1zM419.7 319.8h1v1h-1zM419.2 315.3h1v1h-1zM421.9 311.8h1v1h-1zM416.2 313.3h1v1h-1zM426.9 311.7h1v1h-1zM446.6 318.6h1v1h-1zM419.9 315.7h1v1h-1zM411.1 317.1h1v1h-1zM433.3 316.2h1v1h-1zM424.2 316.2h1v1h-1zM441.9 322.4h1v1h-1zM428.3 313.0h1v1h-1zM432.9 318.2h1v1h-1zM418.4 318.4h1v1h-1zM411.4 311.6h1v1h-1zM423.3 325.1h1v1h-1zM430.5 317.0h1v1h-1zM417.5 309.2h1v1h-1zM411.3 321.2h1v1h-1zM419.7 318.9h1v1h-1zM420.9 319.7h1v1h-1zM421.9 314.5h1v1h-1zM424.3 313.6h1v1h-1zM444.9 316.5h1v1h-1zM424.8 307.9h1v1h-1zM420.3 316.5h1v1h-1zM415.3 316.0h1v1h-1zM431.3 320.7h1v1h-1zM411.1 314.4h1v1h-1zM436.8 319.0h1v1h-1zM424.4 307.5h1v1h-1zM411.7 311.2h1v1h-1zM426.0 320.0h1v1h-1zM423.5 323.8h1v1h-1zM434.8 320.6h1v1h-1zM411.7 307.0h1v1h-1zM426.1 309.6h1v1h-1zM424.3 312.0h1v1h-1zM432.2 322.5h1v1h-1zM414.8 312.1h1v1h-1zM417.8 316.8h1v1h-1zM441.1 318.1h1v1h-1zM429.1 318.1h1v1h-1zM411.9 314.7h1v1h-1zM427.1 317.4h1v1h-1zM417.7 320.3h1v1h-1zM418.5 316.4h1v1h-1zM414.0 315.2h1v1h-1zM432.7 320.0h1v1h-1zM419.8 324.1h1v1h-1zM426.0 329.5h1v1h-1zM425.0 309.1h1v1h-1zM411.5 317.1h1v1h-1zM418.0 316.2h1v1h-1zM430.8 309.3h1v1h-1zM411.1 313.9h1v1h-1zM426.4 311.7h1v1h-1zM423.5 310.0h1v1h-1zM429.8 312.1h1v1h-1zM430.2 319.1h1v1h-1zM431.3 309.7h1v1h-1zM424.9 312.5h1v1h-1zM426.6 314.7h1v1h-1zM418.4 309.8h1v1h-1zM419.8 308.5h1v1h-1zM432.0 306.4h1v1h-1zM419.3 311.1h1v1h-1zM433.1 323.3h1v1h-1zM432.9 305.8h1v1h-1zM417.7 320.1h1v1h-1zM429.2 310.1h1v1h-1zM417.6 310.0h1v1h-1zM427.3 319.7h1v1h-1zM417.9 318.5h1v1h-1zM427.3 319.0h1v1h-1zM425.9 315.3h1v1h-1zM415.7 320.2h1v1h-1zM441.9 311.7h1v1h-1zM432.7 317.3h1v1h-1zM410.9 320.8h1v1h-1zM427.5 315.1h1v1h-1zM420.9 310.5h1v1h-1zM441.9 324.8h1v1h-1zM424.1 314.1h1v1h-1zM427.9 309.8h1v1h-1zM423.1 318.9h1v1h-1zM430.0 322.6h1v1h-1zM420.1 318.6h1v1h-1zM417.0 308.6h1v1h-1zM420.4 315.7h1v1h-1zM421.0 317.1h1v1h-1zM429.9 319.0h1v1h-1zM425.4 307.3h1v1h-1zM420.9 308.2h1v1h-1zM421.2 316.5h1v1h-1zM416.9 315.5h1v1h-1zM425.8 318.0h1v1h-1zM422.8 307.7h1v1h-1zM434.7 308.9h1v1h-1zM421.6 312.0h1v1h-1zM419.1 324.0h1v1h-1zM425.1 314.2h1v1h-1zM416.8 320.9h1v1h-1zM430.5 316.6h1v1h-1zM419.3 320.6h1v1h-1zM441.3 323.4h1v1h-1zM429.3 311.4h1v1h-1zM423.8 326.9h1v1h-1zM419.5 310.8h1v1h-1zM422.5 323.9h1v1h-1zM426.8 315.1h1v1h-1zM432.3 307.9h1v1h-1zM429.6 328.2h1v1h-1zM421.1 317.8h1v1h-1zM429.9 308.8h1v1h-1zM430.1 318.5h1v1h-1zM423.6 309.6h1v1h-1zM427.7 316.6h1v1h-1zM433.5 309.3h1v1h-1zM421.5 319.4h1v1h-1zM424.8 311.5h1v1h-1zM426.0 314.7h1v1h-1zM411.1 316.1h1v1h-1zM425.8 314.5h1v1h-1zM423.7 311.4h1v1h-1zM410.2 318.9h1v1h-1zM440.0 316.8h1v1h-1zM425.6 313.5h1v1h-1zM436.2 315.7h1v1h-1zM421.6 324.2h1v1h-1zM437.8 322.5h1v1h-1zM429.6 314.2h1v1h-1zM419.0 319.2h1v1h-1zM427.1 319.1h1v1h-1zM438.1 319.2h1v1h-1zM445.1 316.2h1v1h-1zM429.2 318.8h1v1h-1zM421.0 314.1h1v1h-1zM417.5 320.0h1v1h-1zM430.7 319.1h1v1h-1zM434.2 319.9h1v1h-1zM426.1 319.9h1v1h-1zM424.0 319.3h1v1h-1zM431.9 311.6h1v1h-1zM429.1 309.3h1v1h-1zM428.3 316.9h1v1h-1zM412.0 313.8h1v1h-1zM422.2 320.2h1v1h-1zM441.0 312.3h1v1h-1zM424.9 313.3h1v1h-1zM445.6 308.3h1v1h-1zM428.3 315.3h1v1h-1zM422.6 313.7h1v1h-1zM427.4 322.5h1v1h-1zM430.1 316.3h1v1h-1zM418.9 323.9h1v1h-1zM427.1 311.6h1v1h-1zM421.5 306.8h1v1h-1zM437.4 322.1h1v1h-1zM421.2 318.8h1v1h-1zM426.0 325.0h1v1h-1zM412.3 312.2h1v1h-1zM413.4 306.1h1v1h-1zM424.2 325.1h1v1h-1zM417.2 317.8h1v1h-1zM422.5 312.9h1v1h-1zM427.0 328.6h1v1h-1zM429.8 316.7h1v1h-1zM413.0 311.7h1v1h-1zM423.4 318.6h1v1h-1zM430.6 313.5h1v1h-1zM419.3 311.7h1v1h-1zM413.9 318.8h1v1h-1zM419.1 316.7h1v1h-1zM438.8 315.4h1v1h-1zM425.2 315.9h1v1h-1zM438.2 308.8h1v1h-1zM422.4 320.6h1v1h-1zM435.1 327.4h1v1h-1zM412.7 318.1h1v1h-1zM422.9 323.8h1v1h-1zM425.8 327.8h1v1h-1zM439.9 315.2h1v1h-1zM429.0 312.6h1v1h-1zM434.5 311.0h1v1h-1zM421.4 313.8h1v1h-1zM421.5 320.9h1v1h-1zM435.8 315.6h1v1h-1zM437.2 323.2h1v1h-1zM435.5 312.8h1v1h-1zM435.2 325.9h1v1h-1zM420.6 314.6h1v1h-1zM443.4 316.0h1v1h-1zM426.5 316.8h1v1h-1zM435.9 315.1h1v1h-1zM431.4 315.8h1v1h-1zM410.1 319.8h1v1h-1zM411.4 318.9h1v1h-1zM424.6 311.9h1v1h-1zM434.6 311.9h1v1h-1zM423.0 308.3h1v1h-1zM432.2 320.4h1v1h-1zM414.6 311.5h1v1h-1zM419.8 318.8h1v1h-1zM417.4 316.9h1v1h-1zM425.3 317.0h1v1h-1zM415.3 315.0h1v1h-1zM424.2 319.5h1v1h-1zM430.1 319.1h1v1h-1zM421.1 325.7h1v1h-1zM417.4 315.0h1v1h-1zM421.2 314.2h1v1h-1zM414.7 309.5h1v1h-1zM416.2 328.7h1v1h-1zM431.9 312.3h1v1h-1zM427.9 321.0h1v1h-1zM412.8 320.7h1v1h-1zM422.6 309.4h1v1h-1zM428.9 312.7h1v1h-1zM431.9 320.5h1v1h-1zM430.5 316.2h1v1h-1zM433.4 309.0h1v1h-1zM424.7 317.0h1v1h-1zM424.9 324.8h1v1h-1zM423.0 318.2h1v1h-1zM434.4 319.3h1v1h-1zM432.3 323.5h1v1h-1zM440.2 328.5h1v1h-1zM434.6 316.4h1v1h-1zM418.2 312.7h1v1h-1zM412.5 315.7h1v1h-1zM413.2 313.4h1v1h-1zM417.4 308.3h1v1h-1zM430.3 315.2h1v1h-1zM413.1 310.6h1v1h-1zM423.5 315.3h1v1h-1zM431.6 310.0h1v1h-1zM439.2 318.0h1v1h-1zM424.7 312.5h1v1h-1zM420.2 311.1h1v1h-1zM422.3 312.5h1v1h-1zM413.5 310.8h1v1h-1zM419.2 319.0h1v1h-1zM435.8 312.8h1v1h-1zM442.7 310.2h1v1h-1zM435.7 320.2h1v1h-1zM427.4 308.6h1v1h-1zM422.8 316.6h1v1h-1zM426.9 309.6h1v1h-1zM429.7 312.4h1v1h-1zM431.5 308.8h1v1h-1zM423.6 311.9h1v1h-1zM424.9 323.7h1v1h-1zM410.3 308.8h1v1h-1zM431.5 326.7h1v1h-1zM431.5 320.0h1v1h-1zM419.8 312.4h1v1h-1zM427.7 321.5h1v1h-1zM439.0 316.4h1v1h-1zM417.4 327.0h1v1h-1zM424.4 312.8h1v1h-1zM437.3 322.4h1v1h-1zM428.8 311.9h1v1h-1zM422.9 323.4h1v1h-1zM421.0 313.2h1v1h-1zM425.0 308.8h1v1h-1zM418.0 307.4h1v1h-1zM433.5 311.9h1v1h-1zM417.4 324.1h1v1h-1zM429.7 307.6h1v1h-1zM432.9 310.8h1v1h-1zM435.3 314.5h1v1h-1zM426.1 315.4h1v1h-1zM425.4 316.5h1v1h-1zM428.2 324.4h1v1h-1zM426.2 314.0h1v1h-1zM434.9 306.8h1v1h-1zM424.7 319.5h1v1h-1zM442.0 312.8h1v1h-1zM449.5 313.9h1v1h-1zM420.1 316.0h1v1h-1zM429.1 324.4h1v1h-1zM415.8 322.4h1v1h-1zM432.0 315.6h1v1h-1zM429.2 313.3h1v1h-1zM423.8 317.9h1v1h-1zM416.7 310.9h1v1h-1zM425.8 305.1h1v1h-1zM442.7 311.5h1v1h-1zM439.2 321.0h1v1h-1zM428.8 311.4h1v1h-1zM420.3 312.4h1v1h-1zM425.3 323.8h1v1h-1zM418.6 323.8h1v1h-1zM413.9 324.0h1v1h-1zM417.3 310.9h1v1h-1zM430.6 318.3h1v1h-1zM428.0 323.3h1v1h-1zM426.9 321.4h1v1h-1zM415.9 313.3h1v1h-1zM413.3 314.2h1v1h-1zM434.0 311.1h1v1h-1zM422.2 312.4h1v1h-1zM435.4 317.6h1v1h-1zM418.9 317.6h1v1h-1zM433.6 310.4h1v1h-1zM427.4 319.3h1v1h-1zM421.6 316.6h1v1h-1zM421.6 322.9h1v1h-1zM441.7 312.4h1v1h-1zM433.2 316.8h1v1h-1zM426.7 319.9h1v1h-1zM412.0 318.8h1v1h-1zM440.0 320.5h1v1h-1zM437.2 315.7h1v1h-1zM421.8 315.7h1v1h-1zM429.2 315.2h1v1h-1zM433.6 310.0h1v1h-1zM429.3 315.1h1v1h-1zM427.5 319.1h1v1h-1zM432.3 313.5h1v1h-1zM427.8 310.3h1v1h-1zM416.9 313.9h1v1h-1zM419.2 317.4h1v1h-1zM423.6 324.7h1v1h-1zM432.8 312.6h1v1h-1zM425.3 303.2h1v1h-1zM419.3 321.5h1v1h-1zM428.1 315.6h1v1h-1zM414.5 319.1h1v1h-1zM442.8 315.0h1v1h-1zM427.6 315.4h1v1h-1zM416.6 304.5h1v1h-1zM426.4 318.8h1v1h-1zM434.2 309.2h1v1h-1zM429.6 319.2h1v1h-1zM442.4 304.5h1v1h-1zM412.8 322.2h1v1h-1zM438.6 314.4h1v1h-1zM432.5 316.0h1v1h-1zM439.7 315.9h1v1h-1zM414.7 315.9h1v1h-1zM412.9 308.9h1v1h-1zM421.7 328.1h1v1h-1zM410.8 312.4h1v1h-1zM434.9 318.8h1v1h-1zM420.9 318.1h1v1h-1zM429.3 315.1h1v1h-1zM456.5 322.4h1v1h-1zM427.9 311.8h1v1h-1zM422.4 317.8h1v1h-1zM423.6 314.9h1v1h-1zM428.7 316.8h1v1h-1zM422.6 309.6h1v1h-1zM431.0 318.9h1v1h-1zM426.9 318.4h1v1h-1zM432.9 317.0h1v1h-1zM426.4 317.1h1v1h-1zM424.4 313.0h1v1h-1zM417.1 311.8h1v1h-1zM413.3 314.0h1v1h-1zM422.7 317.5h1v1h-1zM421.8 308.4h1v1h-1zM427.5 314.8h1v1h-1zM424.5 324.3h1v1h-1zM421.8 319.5h1v1h-1zM444.4 310.0h1v1h-1zM427.8 322.5h1v1h-1zM435.5 305.8h1v1h-1zM416.3 314.3h1v1h-1zM433.7 321.8h1v1h-1zM435.1 319.3h1v1h-1zM429.0 317.5h1v1h-1zM417.5 309.6h1v1h-1zM435.8 306.1h1v1h-1zM418.9 318.5h1v1h-1zM411.8 317.0h1v1h-1zM411.2 325.1h1v1h-1zM425.6 312.1h1v1h-1zM420.9 309.1h1v1h-1zM432.0 312.2h1v1h-1zM430.8 304.9h1v1h-1zM436.8 313.2h1v1h-1zM428.0 314.9h1v1h-1zM426.1 314.2h1v1h-1zM425.2 325.5h1v1h-1zM418.3 325.9h1v1h-1zM418.0 313.3h1v1h-1zM418.8 312.0h1v1h-1zM427.1 322.5h1v1h-1zM417.8 321.4h1v1h-1zM424.3 308.1h1v1h-1zM434.3 311.0h1v1h-1zM417.5 307.9h1v1h-1zM416.5 312.0h1v1h-1zM424.9 308.0h1v1h-1zM412.2 319.6h1v1h-1zM419.2 318.0h1v1h-1zM444.5 305.4h1v1h-1zM413.2 311.6h1v1h-1zM424.1 311.9h1v1h-1zM426.6 323.3h1v1h-1zM422.3 311.6h1v1h-1zM414.5 320.3h1v1h-1zM433.3 324.6h1v1h-1zM416.5 318.4h1v1h-1zM422.7 316.0h1v1h-1zM419.3 320.5h1v1h-1zM434.6 307.5h1v1h-1zM421.9 313.3h1v1h-1zM440.8 305.9h1v1h-1zM424.4 319.6h1v1h-1zM437.6 304.1h1v1h-1zM428.0 315.9h1v1h-1zM422.2 306.4h1v1h-1zM421.8 311.1h1v1h-1zM433.0 310.7h1v1h-1zM419.6 315.9h1v1h-1zM423.9 318.6h1v1h-1zM417.4 322.1h1v1h-1zM428.8 315.7h1v1h-1zM429.6 309.1h1v1h-1zM413.9 322.7h1v1h-1zM428.2 308.4h1v1h-1zM422.1 315.6h1v1h-1zM416.2 312.0h1v1h-1zM429.9 316.7h1v1h-1zM433.1 309.0h1v1h-1zM427.6 315.0h1v1h-1zM448.1 315.0h1v1h-1zM427.3 321.7h1v1h-1zM417.9 322.1h1v1h-1zM411.7 320.1h1v1h-1zM437.1 315.9h1v1h-1zM420.3 325.6h1v1h-1zM421.2 321.3h1v1h-1zM417.4 308.3h1v1h-1zM417.5 317.4h1v1h-1zM421.4 318.4h1v1h-1zM428.5 310.8h1v1h-1zM429.2 317.1h1v1h-1zM427.6 313.8h1v1h-1zM432.7 310.5h1v1h-1zM420.5 316.0h1v1h-1zM415.9 312.1h1v1h-1zM424.3 308.6h1v1h-1zM432.1 304.9h1v1h-1zM429.2 322.3h1v1h-1zM429.4 313.7h1v1h-1zM415.6 316.2h1v1h-1zM420.6 321.3h1v1h-1zM425.1 321.1h1v1h-1zM416.2 313.9h1v1h-1zM415.5 317.6h1v1h-1zM423.1 321.3h1v1h-1zM426.1 323.9h1v1h-1zM419.2 311.1h1v1h-1zM433.7 317.4h1v1h-1zM443.8 309.3h1v1h-1zM429.8 310.4h1v1h-1zM423.3 315.1h1v1h-1zM422.1 314.3h1v1h-1zM438.7 309.2h1v1h-1zM427.5 310.3h1v1h-1zM430.1 315.0h1v1h-1zM426.8 307.1h1v1h-1zM420.1 316.4h1v1h-1zM437.9 308.5h1v1h-1zM422.9 323.6h1v1h-1zM426.2 316.4h1v1h-1zM443.4 313.2h1v1h-1zM431.4 321.8h1v1h-1zM424.1 318.3h1v1h-1zM418.1 319.7h1v1h-1zM419.7 316.0h1v1h-1zM410.3 319.0h1v1h-1zM428.9 314.8h1v1h-1zM417.4 318.9h1v1h-1zM428.5 313.6h1v1h-1zM428.8 313.6h1v1h-1zM441.3 316.3h1v1h-1zM426.8 316.0h1v1h-1zM427.5 315.1h1v1h-1zM429.2 310.9h1v1h-1zM419.7 313.9h1v1h-1zM422.9 320.9h1v1h-1zM427.8 316.2h1v1h-1zM434.9 317.4h1v1h-1zM431.4 312.4h1v1h-1zM422.8 323.5h1v1h-1zM435.6 314.2h1v1h-1zM422.0 318.6h1v1h-1zM412.2 315.3h1v1h-1zM438.6 322.4h1v1h-1zM425.5 306.3h1v1h-1zM421.4 303.4h1v1h-1zM415.1 313.4h1v1h-1zM439.8 310.7h1v1h-1zM425.0 311.0h1v1h-1zM444.5 313.7h1v1h-1zM425.8 319.0h1v1h-1zM435.2 307.3h1v1h-1zM425.9 318.3h1v1h-1zM421.7 322.5h1v1h-1zM422.0 324.7h1v1h-1zM423.4 308.8h1v1h-1zM415.3 313.2h1v1h-1zM415.1 326.5h1v1h-1zM428.7 309.5h1v1h-1zM436.3 322.0h1v1h-1zM427.0 317.6h1v1h-1zM426.1 318.7h1v1h-1zM417.9 305.7h1v1h-1zM435.4 307.2h1v1h-1zM434.7 310.3h1v1h-1zM415.8 319.1h1v1h-1zM426.4 320.2h1v1h-1zM422.9 310.8h1v1h-1zM413.0 317.2h1v1h-1zM439.5 316.3h1v1h-1zM435.9 309.8h1v1h-1zM428.5 309.0h1v1h-1zM437.9 304.0h1v1h-1zM421.5 308.6h1v1h-1zM428.2 310.4h1v1h-1zM437.3 322.3h1v1h-1zM423.3 320.0h1v1h-1zM428.4 313.9h1v1h-1zM417.5 316.9h1v1h-1zM431.3 310.1h1v1h-1zM417.4 316.4h1v1h-1zM419.0 318.2h1v1h-1zM425.1 310.3h1v1h-1zM437.6 321.9h1v1h-1zM421.3 321.0h1v1h-1zM418.5 319.6h1v1h-1zM424.7 303.9h1v1h-1zM435.3 315.1h1v1h-1zM412.5 318.6h1v1h-1zM424.1 309.8h1v1h-1zM436.7 311.9h1v1h-1zM425.2 319.9h1v1h-1zM423.1 327.0h1v1h-1zM432.7 319.7h1v1h-1zM415.1 316.4h1v1h-1zM442.9 312.1h1v1h-1zM429.5 308.7h1v1h-1zM422.1 310.1h1v1h-1zM426.1 317.3h1v1h-1zM424.8 312.2h1v1h-1zM422.8 323.0h1v1h-1zM414.8 307.3h1v1h-1zM423.1 308.4h1v1h-1zM410.5 314.9h1v1h-1zM436.9 316.5h1v1h-1zM415.5 315.9h1v1h-1zM418.8 309.0h1v1h-1zM418.3 311.0h1v1h-1zM431.2 320.9h1v1h-1zM423.3 313.2h1v1h-1zM437.2 312.6h1v1h-1zM421.1 319.2h1v1h-1zM426.3 317.8h1v1h-1zM424.5 315.6h1v1h-1zM422.1 325.3h1v1h-1zM434.5 307.6h1v1h-1zM435.5 317.7h1v1h-1zM436.2 312.0h1v1h-1zM413.2 321.4h1v1h-1zM428.0 309.9h1v1h-1zM415.4 319.4h1v1h-1zM415.2 313.2h1v1h-1zM409.6 330.3h1v1h-1zM417.0 316.9h1v1h-1zM430.1 328.4h1v1h-1zM436.8 311.6h1v1h-1zM439.8 312.0h1v1h-1zM417.3 317.6h1v1h-1zM419.7 305.6h1v1h-1zM427.0 310.1h1v1h-1zM426.2 324.3h1v1h-1zM426.8 322.0h1v1h-1zM410.1 314.3h1v1h-1zM423.4 322.1h1v1h-1zM429.9 318.2h1v1h-1zM427.2 318.3h1v1h-1zM424.0 310.0h1v1h-1zM418.8 321.2h1v1h-1zM424.2 312.3h1v1h-1zM438.6 324.2h1v1h-1zM429.3 309.6h1v1h-1zM433.9 330.1h1v1h-1zM439.1 311.7h1v1h-1zM415.7 307.7h1v1h-1zM430.7 309.0h1v1h-1zM428.9 317.8h1v1h-1zM436.2 317.2h1v1h-1zM422.9 311.6h1v1h-1zM423.1 320.0h1v1h-1zM419.3 326.9h1v1h-1zM426.4 316.3h1v1h-1zM422.5 320.1h1v1h-1zM423.5 320.8h1v1h-1zM427.6 320.6h1v1h-1zM421.6 305.6h1v1h-1zM416.9 324.5h1v1h-1zM421.3 315.5h1v1h-1zM420.1 316.6h1v1h-1zM428.4 322.8h1v1h-1zM421.8 320.5h1v1h-1zM429.7 325.6h1v1h-1zM424.2 318.1h1v1h-1zM416.7 323.8h1v1h-1zM422.6 322.2h1v1h-1zM440.5 309.0h1v1h-1zM412.0 315.6h1v1h-1zM414.8 311.7h1v1h-1zM424.1 315.5h1v1h-1zM420.7 307.1h1v1h-1zM432.9 315.1h1v1h-1zM429.3 314.0h1v1h-1zM427.8 318.6h1v1h-1zM421.8 325.4h1v1h-1zM423.3 313.7h1v1h-1zM448.0 314.5h1v1h-1zM426.6 322.9h1v1h-1zM436.1 321.4h1v1h-1zM414.0 306.5h1v1h-1zM426.7 315.6h1v1h-1zM427.7 306.8h1v1h-1zM426.0 310.6h1v1h-1zM421.1 314.5h1v1h-1zM437.0 313.7h1v1h-1zM429.4 316.5h1v1h-1zM418.0 317.2h1v1h-1zM432.1 324.5h1v1h-1zM429.6 309.1h1v1h-1zM427.6 323.2h1v1h-1zM419.4 317.2h1v1h-1zM416.0 308.5h1v1h-1zM410.5 309.6h1v1h-1zM422.7 315.6h1v1h-1zM439.4 315.8h1v1h-1zM432.0 317.3h1v1h-1zM428.1 306.4h1v1h-1zM432.5 313.3h1v1h-1zM419.6 327.3h1v1h-1zM429.1 305.2h1v1h-1zM420.4 315.4h1v1h-1zM420.5 316.9h1v1h-1zM424.0 311.8h1v1h-1zM423.1 316.0h1v1h-1zM429.5 314.5h1v1h-1zM419.2 310.2h1v1h-1zM432.4 314.9h1v1h-1zM422.4 313.3h1v1h-1zM431.9 317.1h1v1h-1zM425.5 319.1h1v1h-1zM431.7 309.9h1v1h-1zM428.4 314.5h1v1h-1zM419.3 309.0h1v1h-1zM426.0 313.0h1v1h-1zM413.4 315.8h1v1h-1zM424.8 319.2h1v1h-1zM427.6 310.5h1v1h-1zM422.1 318.7h1v1h-1zM423.0 314.5h1v1h-1zM432.8 313.6h1v1h-1zM434.7 313.7h1v1h-1zM436.5 311.6h1v1h-1zM419.6 317.1h1v1h-1zM420.8 307.9h1v1h-1zM431.1 317.7h1v1h-1zM432.0 312.0h1v1h-1zM441.2 312.2h1v1h-1zM434.2 316.9h1v1h-1zM413.9 319.2h1v1h-1zM434.3 319.6h1v1h-1zM420.9 324.1h1v1h-1zM423.5 324.7h1v1h-1zM416.2 314.4h1v1h-1zM417.6 312.6h1v1h-1zM421.3 323.5h1v1h-1zM425.3 317.8h1v1h-1zM415.2 314.8h1v1h-1zM424.0 315.7h1v1h-1zM418.6 320.5h1v1h-1zM420.1 320.2h1v1h-1zM417.1 303.3h1v1h-1zM419.3 311.1h1v1h-1zM438.2 312.4h1v1h-1zM410.9 309.7h1v1h-1zM413.4 322.1h1v1h-1zM424.0 322.7h1v1h-1zM420.4 314.9h1v1h-1zM415.7 323.9h1v1h-1zM428.0 314.0h1v1h-1zM414.6 323.8h1v1h-1zM424.5 320.5h1v1h-1zM432.6 317.3h1v1h-1zM429.4 319.2h1v1h-1zM422.1 313.4h1v1h-1zM424.6 322.8h1v1h-1zM426.0 314.2h1v1h-1zM429.7 319.6h1v1h-1zM416.4 311.8h1v1h-1zM435.3 312.0h1v1h-1zM430.9 317.2h1v1h-1zM440.4 317.4h1v1h-1zM431.7 323.9h1v1h-1zM433.3 315.5h1v1h-1zM420.8 318.7h1v1h-1zM440.4 328.0h1v1h-1zM427.8 317.4h1v1h-1zM420.7 310.0h1v1h-1zM430.5 308.0h1v1h-1zM425.3 314.0h1v1h-1zM428.0 316.5h1v1h-1zM418.4 309.2h1v1h-1zM429.0 309.1h1v1h-1zM437.5 310.2h1v1h-1zM426.6 315.4h1v1h-1zM428.3 318.9h1v1h-1zM418.6 311.3h1v1h-1zM428.7 310.6h1v1h-1zM421.1 322.6h1v1h-1zM413.0 325.4h1v1h-1zM421.0 318.4h1v1h-1zM422.5 311.9h1v1h-1zM429.3 311.8h1v1h-1zM432.6 319.2h1v1h-1zM422.8 305.2h1v1h-1zM421.4 305.9h1v1h-1zM430.0 320.4h1v1h-1zM416.8 306.7h1v1h-1zM421.6 310.5h1v1h-1zM422.5 326.8h1v1h-1zM423.1 312.1h1v1h-1zM419.4 322.7h1v1h-1zM438.4 313.3h1v1h-1zM432.7 308.7h1v1h-1zM423.1 317.5h1v1h-1zM412.3 314.4h1v1h-1zM420.2 319.8h1v1h-1zM429.5 306.6h1v1h-1zM445.7 316.4h1v1h-1zM423.9 319.8h1v1h-1zM424.1 316.8h1v1h-1zM429.9 309.6h1v1h-1zM412.4 322.9h1v1h-1zM425.1 320.5h1v1h-1zM424.5 320.6h1v1h-1zM430.6 318.9h1v1h-1zM415.9 317.4h1v1h-1zM429.9 312.1h1v1h-1zM434.7 305.1h1v1h-1zM427.1 306.3h1v1h-1zM419.9 314.4h1v1h-1zM419.7 320.1h1v1h-1zM428.9 309.8h1v1h-1zM437.4 326.0h1v1h-1zM433.4 305.5h1v1h-1zM434.8 319.0h1v1h-1zM420.6 303.9h1v1h-1zM420.9 317.0h1v1h-1zM411.5 324.6h1v1h-1zM418.9 313.2h1v1h-1zM414.9 307.9h1v1h-1zM422.5 308.5h1v1h-1zM430.3 318.8h1v1h-1zM423.6 320.0h1v1h-1zM421.8 317.3h1v1h-1zM430.5 312.1h1v1h-1zM437.5 308.7h1v1h-1zM433.8 310.1h1v1h-1zM410.2 308.9h1v1h-1zM439.5 305.7h1v1h-1zM420.9 321.0h1v1h-1zM412.3 322.2h1v1h-1zM421.6 322.4h1v1h-1zM433.2 324.8h1v1h-1zM435.8 304.2h1v1h-1zM426.5 316.1h1v1h-1zM429.4 313.2h1v1h-1zM413.0 308.3h1v1h-1zM419.9 317.3h1v1h-1zM415.0 312.2h1v1h-1zM434.7 318.6h1v1h-1zM418.0 317.1h1v1h-1zM427.8 309.8h1v1h-1zM419.0 314.7h1v1h-1zM410.5 311.6h1v1h-1zM432.2 316.6h1v1h-1zM434.8 314.3h1v1h-1zM437.5 309.0h1v1h-1zM419.9 317.1h1v1h-1zM425.0 313.3h1v1h-1zM430.6 313.7h1v1h-1zM427.5 315.3h1v1h-1zM426.4 327.4h1v1h-1zM444.6 316.8h1v1h-1zM421.1 313.5h1v1h-1zM432.2 310.9h1v1h-1zM420.1 305.0h1v1h-1zM436.8 314.5h1v1h-1zM422.4 314.7h1v1h-1zM416.2 311.5h1v1h-1zM431.1 318.9h1v1h-1zM425.1 317.0h1v1h-1zM421.4 318.5h1v1h-1zM422.8 313.3h1v1h-1zM419.4 323.4h1v1h-1zM429.1 318.2h1v1h-1zM427.5 311.2h1v1h-1zM438.9 314.9h1v1h-1zM418.9 320.6h1v1h-1zM436.9 311.2h1v1h-1zM429.4 322.2h1v1h-1zM412.6 312.5h1v1h-1zM437.5 304.5h1v1h-1zM429.0 312.0h1v1h-1zM427.1 314.0h1v1h-1zM421.6 321.0h1v1h-1zM422.4 314.8h1v1h-1zM418.2 309.9h1v1h-1zM434.9 315.2h1v1h-1zM430.2 311.4h1v1h-1zM424.3 314.8h1v1h-1zM423.8 327.3h1v1h-1zM419.4 310.4h1v1h-1zM437.4 317.0h1v1h-1zM424.8 312.8h1v1h-1zM434.4 317.2h1v1h-1zM412.5 309.9h1v1h-1zM411.9 311.6h1v1h-1zM436.9 304.9h1v1h-1zM417.7 321.8h1v1h-1zM423.6 315.0h1v1h-1zM429.4 316.1h1v1h-1zM433.2 307.2h1v1h-1zM430.8 323.2h1v1h-1zM430.1 321.0h1v1h-1zM439.3 312.6h1v1h-1zM427.6 316.3h1v1h-1zM433.2 313.1h1v1h-1zM425.8 320.1h1v1h-1zM441.7 315.8h1v1h-1zM423.3 316.2h1v1h-1zM426.1 308.9h1v1h-1zM427.1 310.5h1v1h-1zM441.1 308.7h1v1h-1zM422.2 320.1h1v1h-1zM415.5 317.2h1v1h-1zM426.4 321.0h1v1h-1zM441.2 319.6h1v1h-1zM422.4 318.7h1v1h-1zM436.2 308.4h1v1h-1zM429.6 313.9h1v1h-1zM430.8 322.7h1v1h-1zM418.0 317.1h1v1h-1zM425.8 309.7h1v1h-1zM418.2 310.4h1v1h-1zM425.2 312.7h1v1h-1zM419.1 313.9h1v1h-1zM434.5 316.0h1v1h-1zM420.4 315.4h1v1h-1zM422.9 318.0h1v1h-1zM416.4 319.0h1v1h-1zM445.7 309.6h1v1h-1zM421.4 327.1h1v1h-1zM410.9 314.2h1v1h-1zM424.5 311.7h1v1h-1zM422.6 321.7h1v1h-1zM420.3 323.4h1v1h-1zM422.0 318.3h1v1h-1zM420.5 323.0h1v1h-1zM432.6 314.7h1v1h-1zM414.3 314.8h1v1h-1zM426.4 309.4h1v1h-1zM431.8 321.6h1v1h-1zM416.9 316.8h1v1h-1zM444.0 325.1h1v1h-1zM425.1 314.0h1v1h-1zM423.7 322.3h1v1h-1zM419.8 316.5h1v1h-1zM431.3 325.6h1v1h-1zM410.9 316.1h1v1h-1zM429.6 324.1h1v1h-1zM443.6 310.3h1v1h-1zM427.6 313.7h1v1h-1zM431.9 313.1h1v1h-1zM416.9 322.0h1v1h-1zM431.5 304.2h1v1h-1zM418.2 309.5h1v1h-1zM421.1 317.3h1v1h-1zM424.9 315.7h1v1h-1zM441.3 315.8h1v1h-1zM419.9 318.4h1v1h-1zM426.1 319.7h1v1h-1zM431.7 323.3h1v1h-1zM430.8 310.7h1v1h-1zM427.1 323.0h1v1h-1zM437.0 311.5h1v1h-1zM432.8 308.4h1v1h-1zM432.5 315.3h1v1h-1zM421.6 315.0h1v1h-1zM412.8 317.2h1v1h-1zM439.2 309.1h1v1h-1zM417.9 314.9h1v1h-1zM436.4 312.1h1v1h-1zM435.5 321.5h1v1h-1zM415.4 315.7h1v1h-1zM419.9 311.9h1v1h-1zM429.1 309.5h1v1h-1zM433.8 315.2h1v1h-1zM417.3 326.3h1v1h-1zM423.0 305.6h1v1h-1zM416.6 311.5h1v1h-1zM415.0 322.2h1v1h-1zM426.2 321.0h1v1h-1zM421.3 314.1h1v1h-1zM428.8 312.9h1v1h-1zM422.0 310.3h1v1h-1zM421.9 313.7h1v1h-1zM413.9 318.3h1v1h-1zM431.5 317.4h1v1h-1zM427.9 307.0h1v1h-1zM427.9 314.3h1v1h-1zM424.7 311.7h1v1h-1zM428.3 322.3h1v1h-1zM438.9 307.7h1v1h-1zM426.8 308.9h1v1h-1zM427.3 307.8h1v1h-1zM421.4 335.6h1v1h-1zM430.9 325.4h1v1h-1zM423.2 314.3h1v1h-1zM419.1 321.1h1v1h-1zM435.0 305.8h1v1h-1zM423.9 314.3h1v1h-1zM417.8 328.7h1v1h-1zM419.2 314.7h1v1h-1zM420.8 308.1h1v1h-1zM416.0 312.0h1v1h-1zM437.7 312.2h1v1h-1zM430.4 314.6h1v1h-1zM413.6 314.7h1v1h-1zM435.4 312.7h1v1h-1zM422.1 307.0h1v1h-1zM427.5 315.3h1v1h-1zM422.0 315.3h1v1h-1zM428.9 306.4h1v1h-1zM428.6 318.7h1v1h-1zM431.8 314.5h1v1h-1zM432.4 325.4h1v1h-1zM420.8 311.8h1v1h-1zM424.7 310.5h1v1h-1zM423.1 325.8h1v1h-1zM412.4 322.3h1v1h-1zM421.5 318.8h1v1h-1zM423.0 320.6h1v1h-1zM417.1 322.4h1v1h-1zM430.7 315.0h1v1h-1zM418.0 315.6h1v1h-1zM422.8 321.8h1v1h-1zM424.3 319.1h1v1h-1zM428.6 307.2h1v1h-1zM430.6 319.8h1v1h-1zM433.4 315.0h1v1h-1zM425.4 322.8h1v1h-1zM426.2 317.2h1v1h-1zM423.4 319.7h1v1h-1zM426.3 310.7h1v1h-1zM423.6 311.5h1v1h-1zM431.1 309.9h1v1h-1zM430.7 318.3h1v1h-1zM412.9 311.1h1v1h-1zM428.4 329.0h1v1h-1zM420.2 322.1h1v1h-1zM411.5 331.0h1v1h-1zM432.8 313.2h1v1h-1zM437.5 312.4h1v1h-1zM414.9 315.0h1v1h-1zM416.5 321.3h1v1h-1zM418.8 312.9h1v1h-1zM417.8 329.2h1v1h-1zM423.5 312.5h1v1h-1zM414.9 325.6h1v1h-1zM424.4 311.8h1v1h-1zM421.1 312.7h1v1h-1zM433.4 319.6h1v1h-1zM423.6 317.3h1v1h-1zM432.1 315.4h1v1h-1zM437.3 314.6h1v1h-1zM428.9 318.8h1v1h-1zM430.0 313.9h1v1h-1zM420.3 327.8h1v1h-1zM424.5 321.6h1v1h-1zM444.0 319.9h1v1h-1zM436.2 311.3h1v1h-1zM424.8 333.3h1v1h-1zM421.1 318.6h1v1h-1zM423.1 312.9h1v1h-1zM433.8 311.3h1v1h-1zM426.6 312.7h1v1h-1zM413.1 304.5h1v1h-1zM436.6 307.6h1v1h-1zM412.2 323.7h1v1h-1zM432.2 313.9h1v1h-1zM421.9 311.0h1v1h-1zM424.6 325.6h1v1h-1zM438.6 311.9h1v1h-1zM424.4 327.6h1v1h-1zM430.3 314.1h1v1h-1zM427.8 318.0h1v1h-1zM414.6 313.6h1v1h-1zM424.1 312.5h1v1h-1zM432.9 317.0h1v1h-1zM427.5 323.7h1v1h-1zM426.2 316.4h1v1h-1zM418.4 310.0h1v1h-1zM437.8 305.7h1v1h-1zM419.8 322.8h1v1h-1zM440.0 311.7h1v1h-1zM426.2 309.6h1v1h-1zM430.6 318.6h1v1h-1zM412.5 318.7h1v1h-1zM425.6 319.3h1v1h-1zM416.5 312.3h1v1h-1zM425.4 304.8h1v1h-1zM435.0 319.1h1v1h-1zM427.7 315.6h1v1h-1zM426.9 315.5h1v1h-1zM433.1 310.6h1v1h-1zM414.5 318.9h1v1h-1zM425.7 316.2h1v1h-1zM419.6 317.5h1v1h-1zM434.3 322.9h1v1h-1zM418.8 314.4h1v1h-1zM438.8 313.8h1v1h-1zM442.4 313.9h1v1h-1zM423.6 313.4h1v1h-1zM411.3 321.3h1v1h-1zM435.6 320.1h1v1h-1zM417.6 312.2h1v1h-1zM430.4 308.4h1v1h-1zM427.7 318.0h1v1h-1zM417.1 315.6h1v1h-1zM412.0 316.3h1v1h-1zM434.7 323.9h1v1h-1zM419.9 314.1h1v1h-1zM427.4 321.8h1v1h-1zM437.3 317.1h1v1h-1zM424.8 320.3h1v1h-1zM422.5 311.3h1v1h-1zM416.3 314.9h1v1h-1zM429.1 317.1h1v1h-1zM418.0 314.4h1v1h-1zM410.6 315.7h1v1h-1zM420.0 313.7h1v1h-1zM419.7 325.8h1v1h-1zM422.9 320.0h1v1h-1zM432.0 315.9h1v1h-1zM430.0 308.8h1v1h-1zM442.5 311.7h1v1h-1zM434.8 306.7h1v1h-1zM427.3 318.8h1v1h-1zM427.0 317.8h1v1h-1zM435.6 324.9h1v1h-1zM422.8 305.6h1v1h-1zM437.5 307.9h1v1h-1zM417.2 312.8h1v1h-1zM427.4 319.5h1v1h-1zM432.3 318.1h1v1h-1zM439.8 309.2h1v1h-1zM424.8 315.5h1v1h-1zM442.1 319.8h1v1h-1zM422.1 306.8h1v1h-1zM409.7 318.5h1v1h-1zM424.2 320.6h1v1h-1zM437.1 321.5h1v1h-1zM422.2 321.4h1v1h-1zM439.4 313.4h1v1h-1zM423.4 302.9h1v1h-1zM441.6 307.1h1v1h-1zM445.1 313.7h1v1h-1zM424.6 315.3h1v1h-1zM414.8 316.9h1v1h-1zM427.9 323.2h1v1h-1zM423.2 306.0h1v1h-1zM422.5 316.6h1v1h-1zM430.6 319.0h1v1h-1zM433.5 322.7h1v1h-1zM422.2 328.0h1v1h-1zM435.9 321.3h1v1h-1zM409.9 309.1h1v1h-1zM415.8 318.7h1v1h-1zM413.1 310.3h1v1h-1zM429.3 317.7h1v1h-1zM433.0 311.7h1v1h-1zM421.3 312.2h1v1h-1zM419.4 316.9h1v1h-1zM414.5 311.7h1v1h-1zM431.0 315.8h1v1h-1zM435.0 315.0h1v1h-1zM420.1 318.4h1v1h-1zM423.4 311.9h1v1h-1zM421.5 308.6h1v1h-1zM424.8 305.0h1v1h-1zM429.1 318.0h1v1h-1zM420.3 309.2h1v1h-1zM432.1 304.4h1v1h-1zM417.0 319.3h1v1h-1zM436.2 315.5h1v1h-1zM437.4 319.9h1v1h-1zM416.8 315.5h1v1h-1zM418.1 322.7h1v1h-1zM436.6 317.6h1v1h-1zM410.7 314.9h1v1h-1zM415.8 321.1h1v1h-1zM410.8 308.9h1v1h-1zM425.3 315.1h1v1h-1zM428.2 316.1h1v1h-1zM429.3 313.6h1v1h-1zM427.5 317.3h1v1h-1zM412.7 313.1h1v1h-1zM435.4 305.7h1v1h-1zM424.5 326.6h1v1h-1zM421.6 315.3h1v1h-1zM440.1 313.8h1v1h-1zM426.1 307.2h1v1h-1zM428.1 315.6h1v1h-1zM432.4 314.2h1v1h-1zM442.8 307.2h1v1h-1zM424.9 322.2h1v1h-1zM431.1 320.9h1v1h-1zM416.4 319.9h1v1h-1zM443.1 311.1h1v1h-1zM442.5 320.0h1v1h-1zM423.6 318.5h1v1h-1zM417.1 321.4h1v1h-1zM412.9 318.8h1v1h-1zM414.4 324.1h1v1h-1zM419.9 313.7h1v1h-1zM409.7 313.7h1v1h-1zM424.0 313.8h1v1h-1zM423.4 313.1h1v1h-1zM414.0 328.2h1v1h-1zM413.5 316.7h1v1h-1zM414.6 323.1h1v1h-1zM420.6 317.2h1v1h-1zM423.0 315.2h1v1h-1zM429.9 321.2h1v1h-1zM421.8 319.7h1v1h-1zM425.2 323.2h1v1h-1zM427.7 316.4h1v1h-1zM432.4 316.8h1v1h-1zM421.3 313.5h1v1h-1zM435.8 319.8h1v1h-1zM445.1 321.3h1v1h-1zM428.9 322.0h1v1h-1zM438.6 313.5h1v1h-1zM433.6 316.0h1v1h-1zM429.0 311.0h1v1h-1zM423.2 318.1h1v1h-1zM427.4 319.8h1v1h-1zM443.2 316.5h1v1h-1zM425.8 315.2h1v1h-1zM418.4 318.0h1v1h-1zM420.9 317.3h1v1h-1zM432.1 318.4h1v1h-1zM419.6 311.6h1v1h-1zM433.3 310.8h1v1h-1zM431.7 312.8h1v1h-1zM427.3 310.4h1v1h-1zM439.8 317.3h1v1h-1zM413.9 327.0h1v1h-1zM420.5 316.1h1v1h-1zM423.8 306.2h1v1h-1zM428.7 311.0h1v1h-1zM413.5 309.8h1v1h-1zM420.3 318.3h1v1h-1zM436.6 316.8h1v1h-1zM421.7 325.6h1v1h-1zM433.2 316.1h1v1h-1zM423.1 314.6h1v1h-1zM418.5 322.7h1v1h-1zM429.6 310.0h1v1h-1zM436.5 315.4h1v1h-1zM424.6 322.0h1v1h-1zM413.5 316.9h1v1h-1zM418.2 317.9h1v1h-1zM421.0 310.2h1v1h-1zM422.6 306.7h1v1h-1zM416.7 313.7h1v1h-1zM430.9 321.2h1v1h-1zM415.6 312.3h1v1h-1zM433.5 309.3h1v1h-1zM415.6 306.6h1v1h-1zM416.3 326.3h1v1h-1zM434.7 306.5h1v1h-1zM431.1 311.9h1v1h-1zM421.9 308.8h1v1h-1zM438.9 315.1h1v1h-1zM447.2 316.5h1v1h-1zM450.2 323.6h1v1h-1zM449.0 308.4h1v1h-1zM450.6 307.7h1v1h-1zM440.5 326.0h1v1h-1zM456.5 316.1h1v1h-1zM437.7 306.5h1v1h-1zM458.4 324.4h1v1h-1zM472.0 311.1h1v1h-1zM472.3 309.3h1v1h-1zM439.8 315.8h1v1h-1zM442.7 323.7h1v1h-1zM441.5 317.8h1v1h-1zM443.4 323.2h1v1h-1zM462.1 317.8h1v1h-1zM450.6 324.1h1v1h-1zM441.1 313.7h1v1h-1zM447.5 313.1h1v1h-1zM452.0 313.3h1v1h-1zM438.6 307.2h1v1h-1zM441.5 308.7h1v1h-1zM441.8 313.0h1v1h-1zM438.1 311.3h1v1h-1zM450.9 311.9h1v1h-1zM442.0 309.1h1v1h-1zM438.8 307.3h1v1h-1zM442.2 318.5h1v1h-1zM438.3 312.2h1v1h-1zM444.5 311.7h1v1h-1zM455.0 325.2h1v1h-1zM454.4 316.9h1v1h-1zM439.6 310.4h1v1h-1zM438.2 317.0h1v1h-1zM445.1 324.4h1v1h-1zM439.3 308.0h1v1h-1zM437.3 306.9h1v1h-1zM445.7 322.2h1v1h-1zM443.3 306.4h1v1h-1zM440.4 320.3h1v1h-1zM439.9 316.1h1v1h-1zM451.0 317.0h1v1h-1zM440.7 314.8h1v1h-1zM450.7 317.6h1v1h-1zM439.2 322.8h1v1h-1zM451.3 314.9h1v1h-1zM440.7 322.3h1v1h-1zM440.8 314.8h1v1h-1zM451.3 308.8h1v1h-1zM453.1 320.8h1v1h-1zM444.3 318.4h1v1h-1zM451.5 323.8h1v1h-1zM437.6 314.6h1v1h-1zM446.7 317.3h1v1h-1zM437.0 311.3h1v1h-1zM440.1 314.1h1v1h-1zM452.4 317.9h1v1h-1zM443.9 317.9h1v1h-1zM450.6 321.7h1v1h-1zM453.8 315.7h1v1h-1zM475.3 326.0h1v1h-1zM438.5 318.2h1v1h-1zM444.4 317.3h1v1h-1zM438.1 311.7h1v1h-1zM442.1 309.7h1v1h-1zM444.5 314.3h1v1h-1zM442.3 309.7h1v1h-1zM458.8 313.1h1v1h-1zM438.0 324.8h1v1h-1zM443.3 319.1h1v1h-1zM445.3 309.6h1v1h-1zM446.0 320.0h1v1h-1zM440.3 320.5h1v1h-1zM441.6 306.0h1v1h-1zM451.5 306.1h1v1h-1zM438.8 314.6h1v1h-1zM443.8 312.3h1v1h-1zM438.2 322.6h1v1h-1zM454.3 306.9h1v1h-1zM439.6 306.5h1v1h-1zM447.4 323.4h1v1h-1zM452.0 309.8h1v1h-1zM455.4 320.1h1v1h-1zM445.7 314.0h1v1h-1zM475.7 317.2h1v1h-1zM441.0 322.2h1v1h-1zM439.7 316.4h1v1h-1zM438.7 324.4h1v1h-1zM445.4 313.2h1v1h-1zM452.6 309.3h1v1h-1zM453.1 321.5h1v1h-1zM441.3 307.0h1v1h-1zM440.0 325.8h1v1h-1zM442.8 307.4h1v1h-1zM448.3 323.9h1v1h-1zM439.9 321.3h1v1h-1zM444.0 319.9h1v1h-1zM438.1 325.9h1v1h-1zM445.4 320.4h1v1h-1zM451.2 306.7h1v1h-1zM442.6 322.5h1v1h-1zM440.3 311.4h1v1h-1zM437.2 320.2h1v1h-1zM456.7 322.7h1v1h-1zM439.4 321.8h1v1h-1zM445.2 322.1h1v1h-1zM439.8 321.9h1v1h-1zM437.2 325.1h1v1h-1zM442.6 323.6h1v1h-1zM443.2 320.7h1v1h-1zM441.6 323.6h1v1h-1zM440.5 315.4h1v1h-1zM468.1 323.2h1v1h-1zM453.2 323.8h1v1h-1zM449.2 321.7h1v1h-1zM446.7 314.9h1v1h-1zM441.6 316.6h1v1h-1zM447.9 325.5h1v1h-1zM439.0 314.2h1v1h-1zM449.0 320.7h1v1h-1zM440.8 315.8h1v1h-1zM437.8 322.3h1v1h-1zM443.1 318.6h1v1h-1zM451.4 306.4h1v1h-1zM451.0 311.9h1v1h-1zM445.4 307.0h1v1h-1zM442.6 321.5h1v1h-1zM445.8 322.0h1v1h-1zM441.2 322.8h1v1h-1zM457.9 311.8h1v1h-1zM451.9 313.2h1v1h-1zM451.1 315.4h1v1h-1zM450.7 322.9h1v1h-1zM449.6 322.0h1v1h-1zM443.9 320.9h1v1h-1zM442.5 319.5h1v1h-1zM449.8 320.1h1v1h-1zM445.4 315.4h1v1h-1zM444.8 316.6h1v1h-1zM439.7 307.7h1v1h-1zM437.9 316.9h1v1h-1zM454.6 311.8h1v1h-1zM448.9 322.7h1v1h-1zM441.2 325.1h1v1h-1zM458.4 321.4h1v1h-1zM438.3 317.3h1v1h-1zM438.4 310.6h1v1h-1zM460.4 319.5h1v1h-1zM437.4 317.0h1v1h-1zM438.1 325.2h1v1h-1zM437.0 323.3h1v1h-1zM455.7 308.2h1v1h-1zM471.2 321.2h1v1h-1zM454.0 317.3h1v1h-1zM439.3 325.3h1v1h-1zM438.3 307.6h1v1h-1zM443.0 316.1h1v1h-1zM451.4 309.7h1v1h-1zM442.3 312.4h1v1h-1zM442.9 314.2h1v1h-1zM441.5 329.3h1v1h-1zM414.4 328.6h1v1h-1zM445.3 327.7h1v1h-1zM417.3 333.3h1v1h-1zM422.5 333.0h1v1h-1zM433.8 333.3h1v1h-1zM421.4 325.1h1v1h-1zM419.4 337.2h1v1h-1zM445.8 333.3h1v1h-1zM414.6 333.8h1v1h-1zM412.2 375.0h1v1h-1zM427.6 331.6h1v1h-1zM417.0 363.7h1v1h-1zM426.6 350.7h1v1h-1zM424.9 330.5h1v1h-1zM411.5 356.2h1v1h-1zM427.9 325.6h1v1h-1zM424.5 326.1h1v1h-1zM438.2 332.8h1v1h-1zM411.4 362.1h1v1h-1zM427.2 325.9h1v1h-1zM434.1 325.9h1v1h-1zM434.5 329.5h1v1h-1zM441.6 325.7h1v1h-1zM421.8 333.7h1v1h-1zM423.5 332.7h1v1h-1zM435.7 351.6h1v1h-1zM427.0 336.9h1v1h-1zM427.7 333.3h1v1h-1zM429.1 353.4h1v1h-1zM436.9 325.8h1v1h-1zM420.5 330.1h1v1h-1zM442.4 346.7h1v1h-1zM429.8 325.5h1v1h-1zM428.1 334.4h1v1h-1zM444.7 339.4h1v1h-1zM438.7 334.1h1v1h-1zM433.4 348.2h1v1h-1zM423.4 329.5h1v1h-1zM445.7 327.2h1v1h-1zM433.5 342.1h1v1h-1zM420.3 337.8h1v1h-1zM437.0 326.0h1v1h-1zM418.1 328.6h1v1h-1zM417.4 336.2h1v1h-1zM412.0 327.3h1v1h-1zM415.2 340.9h1v1h-1zM428.8 329.2h1v1h-1zM423.3 326.7h1v1h-1zM410.2 345.4h1v1h-1zM434.6 345.5h1v1h-1zM437.6 357.7h1v1h-1zM425.0 327.3h1v1h-1zM437.9 325.7h1v1h-1zM410.2 327.3h1v1h-1zM436.4 342.3h1v1h-1zM443.7 351.8h1v1h-1zM442.4 351.5h1v1h-1zM442.1 346.6h1v1h-1zM437.2 351.7h1v1h-1zM417.5 334.1h1v1h-1zM442.4 330.0h1v1h-1zM445.4 333.2h1v1h-1zM416.6 340.7h1v1h-1zM443.6 337.7h1v1h-1zM425.0 327.5h1v1h-1zM421.7 329.0h1v1h-1zM427.9 340.5h1v1h-1zM423.9 332.6h1v1h-1zM444.9 338.4h1v1h-1zM418.6 346.0h1v1h-1zM417.7 347.0h1v1h-1zM440.4 329.9h1v1h-1zM425.5 332.5h1v1h-1zM442.3 334.6h1v1h-1zM434.6 326.9h1v1h-1zM421.8 353.5h1v1h-1zM444.3 331.2h1v1h-1zM440.5 326.0h1v1h-1zM428.1 327.3h1v1h-1zM424.3 333.3h1v1h-1zM436.0 332.5h1v1h-1zM410.2 325.2h1v1h-1zM413.9 325.7h1v1h-1zM417.4 333.8h1v1h-1zM444.6 339.6h1v1h-1zM443.0 331.5h1v1h-1zM417.7 334.9h1v1h-1zM419.6 344.1h1v1h-1zM412.7 325.3h1v1h-1zM416.0 330.4h1v1h-1zM434.8 337.0h1v1h-1zM424.6 353.0h1v1h-1zM445.4 329.5h1v1h-1zM440.0 332.4h1v1h-1zM415.9 332.0h1v1h-1zM422.9 328.4h1v1h-1zM426.3 326.5h1v1h-1zM436.5 334.8h1v1h-1zM419.9 328.2h1v1h-1zM431.5 327.1h1v1h-1zM429.4 345.8h1v1h-1zM445.9 339.6h1v1h-1zM422.0 325.0h1v1h-1zM422.7 344.1h1v1h-1zM425.3 330.4h1v1h-1zM432.6 347.3h1v1h-1zM423.5 326.0h1v1h-1zM444.4 327.7h1v1h-1zM424.7 332.0h1v1h-1zM412.4 335.5h1v1h-1zM425.6 330.7h1v1h-1zM415.3 328.4h1v1h-1zM411.0 329.4h1v1h-1zM425.3 326.9h1v1h-1zM413.5 334.3h1v1h-1zM410.5 329.8h1v1h-1zM443.7 329.7h1v1h-1zM432.9 326.2h1v1h-1zM439.4 325.7h1v1h-1zM413.5 325.8h1v1h-1zM434.2 325.7h1v1h-1zM428.4 327.4h1v1h-1zM442.2 327.5h1v1h-1zM436.8 333.9h1v1h-1zM414.9 340.2h1v1h-1zM414.5 330.8h1v1h-1zM440.7 345.9h1v1h-1zM443.1 326.8h1v1h-1zM424.0 340.0h1v1h-1zM436.9 325.1h1v1h-1zM442.7 326.0h1v1h-1zM441.6 329.0h1v1h-1zM432.2 325.6h1v1h-1zM425.4 325.3h1v1h-1zM442.9 325.2h1v1h-1zM413.4 327.9h1v1h-1zM435.3 327.5h1v1h-1zM420.7 327.6h1v1h-1zM413.7 329.9h1v1h-1zM442.2 332.2h1v1h-1zM426.2 341.8h1v1h-1zM410.1 326.2h1v1h-1zM432.8 330.6h1v1h-1zM442.1 337.8h1v1h-1zM444.8 338.1h1v1h-1zM412.1 328.4h1v1h-1zM435.6 333.6h1v1h-1zM429.2 347.4h1v1h-1zM421.5 326.4h1v1h-1zM416.3 334.1h1v1h-1zM434.7 328.3h1v1h-1zM442.6 332.3h1v1h-1zM416.5 340.0h1v1h-1zM418.8 340.4h1v1h-1zM438.5 349.9h1v1h-1zM423.2 342.0h1v1h-1zM421.5 346.6h1v1h-1zM420.2 335.2h1v1h-1zM423.0 337.7h1v1h-1zM442.8 326.0h1v1h-1zM444.3 328.5h1v1h-1zM428.6 325.9h1v1h-1zM441.4 335.5h1v1h-1zM414.0 326.9h1v1h-1zM418.3 331.9h1v1h-1zM410.8 331.4h1v1h-1zM427.3 327.5h1v1h-1zM424.0 374.8h1v1h-1zM411.9 344.0h1v1h-1zM500.2 351.3h1v1h-1zM489.5 326.7h1v1h-1zM473.0 364.3h1v1h-1zM463.9 362.2h1v1h-1zM463.4 336.5h1v1h-1zM480.9 331.7h1v1h-1zM410.9 306.3h1v1h-1zM413.6 309.9h1v1h-1zM412.5 318.7h1v1h-1zM414.3 315.1h1v1h-1zM411.8 308.8h1v1h-1zM413.6 312.9h1v1h-1zM412.7 308.6h1v1h-1zM412.5 326.5h1v1h-1zM413.3 305.1h1v1h-1zM413.8 311.1h1v1h-1zM413.2 312.4h1v1h-1zM414.9 327.0h1v1h-1zM413.0 331.9h1v1h-1zM409.7 311.7h1v1h-1zM411.0 308.2h1v1h-1zM413.0 327.9h1v1h-1zM410.4 327.8h1v1h-1zM413.5 310.2h1v1h-1zM411.4 309.2h1v1h-1zM414.1 325.4h1v1h-1zM410.4 329.0h1v1h-1zM410.0 305.2h1v1h-1zM414.8 304.1h1v1h-1zM412.7 324.3h1v1h-1zM412.2 314.2h1v1h-1zM412.2 312.1h1v1h-1zM410.9 323.4h1v1h-1zM412.7 330.9h1v1h-1zM412.4 331.6h1v1h-1zM411.5 311.7h1v1h-1zM411.3 326.6h1v1h-1zM411.2 307.5h1v1h-1zM412.3 320.4h1v1h-1zM410.7 305.8h1v1h-1zM411.1 305.4h1v1h-1zM414.0 317.0h1v1h-1zM413.7 319.6h1v1h-1zM410.3 313.9h1v1h-1zM410.2 311.5h1v1h-1zM410.2 311.4h1v1h-1zM409.7 312.7h1v1h-1zM409.6 316.0h1v1h-1zM410.8 330.9h1v1h-1zM414.7 324.9h1v1h-1zM409.9 311.5h1v1h-1zM413.3 319.8h1v1h-1zM411.5 311.4h1v1h-1zM409.8 331.9h1v1h-1zM412.2 307.4h1v1h-1zM412.3 315.1h1v1h-1zM412.6 309.3h1v1h-1zM412.2 310.3h1v1h-1zM410.8 323.1h1v1h-1zM415.0 305.6h1v1h-1zM412.2 328.1h1v1h-1zM413.9 317.9h1v1h-1zM412.1 320.5h1v1h-1zM414.3 328.3h1v1h-1zM413.0 316.5h1v1h-1zM410.1 322.8h1v1h-1zM414.1 326.3h1v1h-1zM414.8 313.9h1v1h-1zM412.8 326.5h1v1h-1zM410.5 327.7h1v1h-1zM412.7 324.9h1v1h-1zM413.5 317.9h1v1h-1zM414.8 313.5h1v1h-1zM410.2 311.4h1v1h-1zM410.4 327.3h1v1h-1zM410.1 315.2h1v1h-1zM409.8 326.9h1v1h-1zM412.0 306.8h1v1h-1zM414.5 310.5h1v1h-1zM410.2 313.2h1v1h-1zM411.0 325.2h1v1h-1zM414.4 318.8h1v1h-1zM414.6 318.5h1v1h-1zM413.1 315.7h1v1h-1zM410.5 331.4h1v1h-1zM412.8 307.9h1v1h-1zM413.4 322.3h1v1h-1zM410.5 304.3h1v1h-1zM411.1 307.5h1v1h-1zM409.7 308.8h1v1h-1zM412.7 331.0h1v1h-1zM412.1 305.7h1v1h-1zM412.4 327.1h1v1h-1zM413.9 306.6h1v1h-1zM414.8 326.3h1v1h-1zM414.9 329.9h1v1h-1zM411.8 328.9h1v1h-1zM414.6 314.5h1v1h-1zM412.5 323.2h1v1h-1zM411.8 309.1h1v1h-1zM413.7 311.4h1v1h-1zM412.9 325.7h1v1h-1zM410.6 331.6h1v1h-1zM413.3 306.3h1v1h-1zM413.0 323.7h1v1h-1zM411.0 327.1h1v1h-1zM414.0 325.4h1v1h-1zM413.7 325.8h1v1h-1zM413.2 314.5h1v1h-1zM410.8 312.9h1v1h-1zM412.4 316.6h1v1h-1zM412.1 321.5h1v1h-1zM410.6 313.4h1v1h-1zM412.5 313.8h1v1h-1zM410.3 314.9h1v1h-1zM414.0 308.8h1v1h-1zM410.8 309.2h1v1h-1zM413.1 324.2h1v1h-1zM413.7 314.1h1v1h-1zM410.0 317.7h1v1h-1zM412.8 324.3h1v1h-1zM412.7 330.0h1v1h-1zM413.3 331.9h1v1h-1zM411.5 331.8h1v1h-1zM409.9 323.6h1v1h-1zM412.3 319.0h1v1h-1zM414.4 324.7h1v1h-1zM414.4 330.2h1v1h-1zM411.9 317.5h1v1h-1zM414.9 312.5h1v1h-1zM412.6 304.4h1v1h-1zM414.9 316.6h1v1h-1zM412.6 315.6h1v1h-1zM414.4 304.1h1v1h-1zM411.5 319.8h1v1h-1zM412.0 331.1h1v1h-1zM412.3 331.7h1v1h-1zM409.9 317.1h1v1h-1zM411.9 314.9h1v1h-1zM410.0 324.7h1v1h-1zM413.2 325.4h1v1h-1zM411.2 328.3h1v1h-1zM413.1 330.9h1v1h-1zM411.3 329.4h1v1h-1zM410.9 327.1h1v1h-1zM414.4 312.2h1v1h-1zM413.2 307.8h1v1h-1zM410.5 330.4h1v1h-1zM412.3 329.7h1v1h-1zM413.5 315.5h1v1h-1zM411.6 314.4h1v1h-1zM411.0 327.6h1v1h-1zM414.1 324.8h1v1h-1z" fill="#000"/><rect x="409" y="302.2" width="105" height="102.8" fill="none" stroke="#333" stroke-width="0.9"/><line x1="436" y1="302.2" x2="436" y2="405" stroke="#111" stroke-width="1.1"/><line x1="409" y1="378.9" x2="514" y2="378.9" stroke="#333" stroke-width="0.9"/><path d="M409 405v3.5 M416.9 405v2 M421.52 405v2 M424.8 405v2 M427.35 405v2 M429.43 405v2 M431.18 405v2 M432.71 405v2 M434.05 405v2 M435.25 405v3.5 M443.15 405v2 M447.77 405v2 M451.05 405v2 M453.6 405v2 M455.68 405v2 M457.43 405v2 M458.96 405v2 M460.3 405v2 M461.5 405v3.5 M469.4 405v2 M474.02 405v2 M477.3 405v2 M479.85 405v2 M481.93 405v2 M483.68 405v2 M485.21 405v2 M486.55 405v2 M487.75 405v3.5 M495.65 405v2 M500.27 405v2 M503.55 405v2 M506.1 405v2 M508.18 405v2 M509.93 405v2 M511.46 405v2 M512.8 405v2 M514 405v3.5 M409 405h-3.5 M409 397.26h-2 M409 392.74h-2 M409 389.53h-2 M409 387.04h-2 M409 385h-2 M409 383.28h-2 M409 381.79h-2 M409 380.48h-2 M409 379.3h-3.5 M409 371.56h-2 M409 367.04h-2 M409 363.83h-2 M409 361.34h-2 M409 359.3h-2 M409 357.58h-2 M409 356.09h-2 M409 354.78h-2 M409 353.6h-3.5 M409 345.86h-2 M409 341.34h-2 M409 338.13h-2 M409 335.64h-2 M409 333.6h-2 M409 331.88h-2 M409 330.39h-2 M409 329.08h-2 M409 327.9h-3.5 M409 320.16h-2 M409 315.64h-2 M409 312.43h-2 M409 309.94h-2 M409 307.9h-2 M409 306.18h-2 M409 304.69h-2 M409 303.38h-2 M409 302.2h-3.5" stroke="#222" stroke-width="0.6" fill="none"/><text x="403.5" y="405" font-size="6.5" fill="#333" text-anchor="middle" transform="rotate(-90 403.5 405)">10<tspan dy="-3" font-size="5">0</tspan></text><text x="403.5" y="379.3" font-size="6.5" fill="#333" text-anchor="middle" transform="rotate(-90 403.5 379.3)">10<tspan dy="-3" font-size="5">1</tspan></text><text x="403.5" y="353.6" font-size="6.5" fill="#333" text-anchor="middle" transform="rotate(-90 403.5 353.6)">10<tspan dy="-3" font-size="5">2</tspan></text><text x="403.5" y="327.9" font-size="6.5" fill="#333" text-anchor="middle" transform="rotate(-90 403.5 327.9)">10<tspan dy="-3" font-size="5">3</tspan></text><text x="403.5" y="302.2" font-size="6.5" fill="#333" text-anchor="middle" transform="rotate(-90 403.5 302.2)">10<tspan dy="-3" font-size="5">4</tspan></text><text x="405" y="414.5" font-size="6.5" fill="#333">10<tspan dy="-3" font-size="5">0</tspan></text><text x="431.25" y="414.5" font-size="6.5" fill="#333">10<tspan dy="-3" font-size="5">1</tspan></text><text x="457.5" y="414.5" font-size="6.5" fill="#333">10<tspan dy="-3" font-size="5">2</tspan></text><text x="483.75" y="414.5" font-size="6.5" fill="#333">10<tspan dy="-3" font-size="5">3</tspan></text><text x="510" y="414.5" font-size="6.5" fill="#333">10<tspan dy="-3" font-size="5">4</tspan></text><text x="482" y="375.4" font-size="18.8" font-weight="bold" fill="#d6141e">9%</text><text x="446" y="428.4" font-size="11.6" font-weight="bold" fill="#111">CD107</text><text x="390.5" y="348.5" font-size="11.3" font-weight="bold" fill="#111" text-anchor="middle" transform="rotate(-90 390.5 348.5)">CD56</text><ellipse cx="294" cy="459" rx="6.5" ry="6" fill="#000"/><path d="M304.9 457.7h1v1h-1zM304.7 453.6h1v1h-1zM303.3 467.5h1v1h-1zM286.8 450.2h1v1h-1zM281.3 463.5h1v1h-1zM307.4 462.3h1v1h-1zM297.4 461.3h1v1h-1zM279.1 452.9h1v1h-1zM306.3 464.4h1v1h-1zM308.5 466.1h1v1h-1zM287.6 462.4h1v1h-1zM303.4 462.7h1v1h-1zM281.5 461.9h1v1h-1zM292.1 459.1h1v1h-1zM303.5 462.6h1v1h-1zM291.3 461.1h1v1h-1zM294.5 455.5h1v1h-1zM282.5 469.2h1v1h-1zM303.4 456.9h1v1h-1zM293.9 451.0h1v1h-1zM286.4 463.8h1v1h-1zM302.3 469.5h1v1h-1zM308.4 451.3h1v1h-1zM295.2 449.2h1v1h-1zM301.1 456.3h1v1h-1zM308.8 455.2h1v1h-1zM279.9 452.3h1v1h-1zM297.0 455.3h1v1h-1zM308.0 458.9h1v1h-1zM282.5 453.9h1v1h-1zM285.7 461.5h1v1h-1zM295.5 458.5h1v1h-1zM300.7 458.2h1v1h-1zM295.6 451.2h1v1h-1zM295.4 467.0h1v1h-1zM280.5 463.7h1v1h-1zM301.2 462.1h1v1h-1zM288.6 456.1h1v1h-1zM281.2 472.9h1v1h-1zM307.8 466.4h1v1h-1zM298.8 468.9h1v1h-1zM292.7 462.2h1v1h-1zM301.0 463.6h1v1h-1zM293.3 465.4h1v1h-1zM282.7 455.4h1v1h-1zM297.1 454.8h1v1h-1zM301.4 467.3h1v1h-1zM301.3 456.2h1v1h-1zM295.5 449.2h1v1h-1zM306.9 459.8h1v1h-1zM307.4 469.6h1v1h-1zM305.2 458.9h1v1h-1zM290.1 462.3h1v1h-1zM287.0 470.6h1v1h-1zM294.9 452.2h1v1h-1zM298.6 453.0h1v1h-1zM283.8 448.9h1v1h-1zM295.8 457.2h1v1h-1zM292.2 451.7h1v1h-1zM279.0 462.5h1v1h-1zM291.6 456.7h1v1h-1zM291.0 450.7h1v1h-1zM307.9 466.3h1v1h-1zM280.6 467.0h1v1h-1zM306.9 470.8h1v1h-1zM306.2 457.2h1v1h-1zM297.0 461.8h1v1h-1zM284.6 464.2h1v1h-1zM302.7 470.0h1v1h-1zM283.8 471.6h1v1h-1zM288.6 456.7h1v1h-1zM299.0 453.8h1v1h-1zM291.8 455.3h1v1h-1zM292.8 454.9h1v1h-1zM288.1 467.5h1v1h-1zM280.1 463.7h1v1h-1zM289.8 451.4h1v1h-1zM303.8 463.8h1v1h-1zM303.9 464.7h1v1h-1zM281.4 460.6h1v1h-1zM295.6 466.5h1v1h-1zM289.6 450.2h1v1h-1zM291.0 465.4h1v1h-1zM308.6 449.9h1v1h-1zM303.3 469.5h1v1h-1zM294.2 461.6h1v1h-1zM294.2 469.1h1v1h-1zM306.5 452.1h1v1h-1zM290.3 453.4h1v1h-1zM302.5 469.0h1v1h-1zM300.9 450.7h1v1h-1zM301.1 456.4h1v1h-1zM292.7 467.6h1v1h-1zM299.6 469.4h1v1h-1zM304.1 451.9h1v1h-1zM287.9 450.1h1v1h-1zM301.9 463.9h1v1h-1zM293.5 453.9h1v1h-1zM295.0 455.7h1v1h-1zM292.9 449.8h1v1h-1zM290.2 457.2h1v1h-1zM301.6 468.4h1v1h-1zM290.8 462.6h1v1h-1zM284.4 449.2h1v1h-1zM302.6 450.3h1v1h-1zM291.0 470.3h1v1h-1zM296.4 464.0h1v1h-1zM308.5 452.8h1v1h-1zM298.4 463.7h1v1h-1zM294.7 468.0h1v1h-1zM287.5 468.7h1v1h-1zM300.3 464.4h1v1h-1zM307.8 452.0h1v1h-1zM300.2 469.3h1v1h-1zM302.1 465.0h1v1h-1zM288.5 468.7h1v1h-1zM288.4 460.1h1v1h-1zM289.7 469.8h1v1h-1zM293.4 468.2h1v1h-1zM305.8 456.6h1v1h-1zM293.0 452.3h1v1h-1zM284.3 463.7h1v1h-1zM295.0 453.5h1v1h-1zM286.8 456.9h1v1h-1zM298.1 454.1h1v1h-1zM289.2 458.1h1v1h-1zM307.5 457.1h1v1h-1zM292.1 465.7h1v1h-1zM296.5 463.4h1v1h-1zM296.5 452.7h1v1h-1zM291.4 464.5h1v1h-1zM308.3 467.0h1v1h-1zM280.3 459.6h1v1h-1zM301.3 449.4h1v1h-1zM286.9 467.9h1v1h-1zM280.8 466.2h1v1h-1zM284.4 450.1h1v1h-1zM301.5 455.3h1v1h-1zM306.3 467.1h1v1h-1zM302.3 464.0h1v1h-1zM287.5 452.0h1v1h-1zM293.9 456.9h1v1h-1zM282.6 449.6h1v1h-1zM291.6 470.4h1v1h-1zM286.7 467.7h1v1h-1zM279.9 454.6h1v1h-1zM287.7 458.7h1v1h-1zM306.9 466.7h1v1h-1zM294.9 461.5h1v1h-1zM287.2 450.9h1v1h-1zM282.4 467.7h1v1h-1zM305.9 466.0h1v1h-1zM281.7 449.0h1v1h-1zM280.1 469.5h1v1h-1zM282.4 460.2h1v1h-1zM301.6 462.8h1v1h-1zM307.0 465.1h1v1h-1zM281.9 470.3h1v1h-1zM298.1 460.7h1v1h-1zM298.6 454.7h1v1h-1zM294.8 458.4h1v1h-1zM279.1 469.9h1v1h-1zM299.8 464.0h1v1h-1zM291.9 461.9h1v1h-1zM307.0 462.0h1v1h-1zM308.9 460.5h1v1h-1zM298.1 471.4h1v1h-1zM282.5 471.8h1v1h-1zM288.5 456.9h1v1h-1zM297.9 448.6h1v1h-1zM305.1 452.4h1v1h-1zM291.6 454.7h1v1h-1zM289.8 458.6h1v1h-1zM297.2 465.1h1v1h-1zM304.7 464.8h1v1h-1zM284.9 460.2h1v1h-1zM296.9 471.2h1v1h-1zM297.5 451.1h1v1h-1zM293.3 458.6h1v1h-1zM289.8 468.3h1v1h-1zM307.4 465.2h1v1h-1zM303.5 461.8h1v1h-1zM283.7 465.5h1v1h-1zM279.0 448.7h1v1h-1zM286.7 465.9h1v1h-1zM291.7 461.1h1v1h-1zM283.9 469.3h1v1h-1zM289.1 452.8h1v1h-1zM299.4 458.3h1v1h-1zM301.2 472.3h1v1h-1zM303.6 456.2h1v1h-1zM303.4 465.3h1v1h-1zM288.7 471.0h1v1h-1zM295.0 461.7h1v1h-1zM301.1 461.1h1v1h-1zM297.4 461.2h1v1h-1zM296.4 454.7h1v1h-1zM303.4 461.1h1v1h-1zM307.4 466.1h1v1h-1zM305.9 460.7h1v1h-1zM287.1 456.4h1v1h-1zM282.6 458.2h1v1h-1zM287.7 450.8h1v1h-1zM303.0 448.6h1v1h-1zM288.5 471.3h1v1h-1zM301.3 457.8h1v1h-1zM296.8 466.2h1v1h-1zM308.8 464.8h1v1h-1zM282.6 455.2h1v1h-1zM303.9 456.0h1v1h-1zM280.4 464.4h1v1h-1zM298.2 460.6h1v1h-1zM295.1 464.5h1v1h-1zM286.3 462.6h1v1h-1zM286.9 460.0h1v1h-1zM290.6 464.0h1v1h-1zM293.5 459.6h1v1h-1zM283.7 450.0h1v1h-1zM292.2 461.5h1v1h-1zM281.7 471.7h1v1h-1zM294.0 466.7h1v1h-1zM295.2 455.0h1v1h-1zM290.6 460.9h1v1h-1zM293.8 451.0h1v1h-1zM296.1 465.0h1v1h-1zM294.6 457.7h1v1h-1zM284.4 462.9h1v1h-1zM285.6 472.3h1v1h-1zM287.0 463.4h1v1h-1zM309.0 468.1h1v1h-1zM294.0 448.6h1v1h-1zM300.2 456.3h1v1h-1zM285.1 462.7h1v1h-1zM294.6 453.1h1v1h-1zM292.1 461.9h1v1h-1zM285.1 456.9h1v1h-1zM285.6 460.0h1v1h-1zM286.2 450.6h1v1h-1zM301.2 466.1h1v1h-1zM301.3 454.8h1v1h-1zM305.0 456.6h1v1h-1zM289.1 452.5h1v1h-1zM294.6 454.6h1v1h-1zM300.8 452.1h1v1h-1zM295.8 472.8h1v1h-1zM304.8 468.3h1v1h-1zM279.7 466.9h1v1h-1zM299.9 450.6h1v1h-1zM282.9 454.7h1v1h-1zM294.5 471.0h1v1h-1zM290.8 470.4h1v1h-1zM292.6 452.9h1v1h-1zM302.0 463.0h1v1h-1zM281.7 465.0h1v1h-1zM280.5 458.7h1v1h-1zM307.1 456.6h1v1h-1zM293.6 454.8h1v1h-1zM291.3 465.9h1v1h-1zM283.6 456.5h1v1h-1zM294.1 466.2h1v1h-1zM299.0 449.1h1v1h-1zM305.8 461.6h1v1h-1zM290.7 470.1h1v1h-1zM282.9 451.6h1v1h-1zM301.7 448.6h1v1h-1zM288.1 466.3h1v1h-1zM300.4 453.2h1v1h-1zM303.0 462.3h1v1h-1zM307.9 448.7h1v1h-1zM284.1 460.6h1v1h-1zM286.9 458.6h1v1h-1zM290.6 448.9h1v1h-1zM303.5 455.7h1v1h-1zM292.1 459.6h1v1h-1zM292.0 461.1h1v1h-1zM304.2 456.3h1v1h-1zM282.6 464.6h1v1h-1zM282.3 466.8h1v1h-1zM281.7 451.1h1v1h-1zM294.3 470.9h1v1h-1zM285.3 457.3h1v1h-1zM289.8 463.3h1v1h-1zM293.8 471.0h1v1h-1zM294.9 465.3h1v1h-1zM290.8 458.9h1v1h-1zM283.1 467.0h1v1h-1zM303.5 456.5h1v1h-1zM305.0 449.2h1v1h-1zM295.9 465.0h1v1h-1zM287.7 458.0h1v1h-1zM309.0 469.3h1v1h-1zM282.6 449.2h1v1h-1zM305.4 466.1h1v1h-1zM297.8 459.5h1v1h-1zM286.8 449.4h1v1h-1zM296.7 458.4h1v1h-1zM295.6 468.3h1v1h-1zM279.3 470.2h1v1h-1zM293.0 464.1h1v1h-1zM302.3 465.9h1v1h-1zM298.1 470.2h1v1h-1zM282.9 471.5h1v1h-1zM285.3 461.1h1v1h-1zM299.9 449.3h1v1h-1zM279.8 464.5h1v1h-1zM299.7 449.7h1v1h-1zM295.0 450.1h1v1h-1zM290.5 460.8h1v1h-1zM291.6 463.4h1v1h-1zM293.4 450.8h1v1h-1zM282.0 464.3h1v1h-1zM306.8 466.7h1v1h-1zM291.6 471.1h1v1h-1zM298.9 459.5h1v1h-1zM282.1 472.2h1v1h-1zM305.4 453.5h1v1h-1zM299.9 462.5h1v1h-1zM286.6 454.3h1v1h-1zM306.1 457.4h1v1h-1zM305.3 454.7h1v1h-1zM292.9 472.7h1v1h-1zM287.4 471.8h1v1h-1zM303.8 462.5h1v1h-1zM279.1 450.4h1v1h-1zM307.5 453.8h1v1h-1zM307.9 452.6h1v1h-1zM281.4 455.7h1v1h-1zM307.3 459.4h1v1h-1zM287.5 458.1h1v1h-1zM303.4 459.5h1v1h-1zM304.9 468.1h1v1h-1zM284.3 458.9h1v1h-1zM289.3 461.2h1v1h-1zM307.7 460.2h1v1h-1zM302.5 454.8h1v1h-1zM300.1 463.0h1v1h-1zM286.0 452.7h1v1h-1zM301.0 451.1h1v1h-1zM280.2 462.7h1v1h-1zM286.9 465.5h1v1h-1zM286.5 451.1h1v1h-1zM280.7 460.7h1v1h-1zM293.1 451.4h1v1h-1zM280.0 456.8h1v1h-1zM308.5 464.6h1v1h-1zM293.6 464.8h1v1h-1zM302.2 458.8h1v1h-1zM294.9 468.8h1v1h-1zM282.7 469.5h1v1h-1zM292.5 453.5h1v1h-1zM279.2 471.5h1v1h-1zM288.0 454.4h1v1h-1zM298.1 470.9h1v1h-1zM284.4 463.2h1v1h-1zM306.5 471.6h1v1h-1zM298.0 456.7h1v1h-1zM279.8 469.1h1v1h-1zM291.9 456.9h1v1h-1zM305.9 465.6h1v1h-1zM286.7 466.7h1v1h-1zM282.6 468.7h1v1h-1zM287.3 463.9h1v1h-1zM293.5 459.2h1v1h-1zM290.8 448.5h1v1h-1zM286.3 466.2h1v1h-1zM293.0 462.6h1v1h-1zM293.5 451.2h1v1h-1zM300.0 465.5h1v1h-1zM308.9 457.8h1v1h-1zM298.0 464.6h1v1h-1zM281.4 459.6h1v1h-1zM283.5 468.0h1v1h-1zM288.0 466.3h1v1h-1zM307.2 470.2h1v1h-1zM280.9 470.1h1v1h-1zM298.5 448.5h1v1h-1zM291.2 463.5h1v1h-1zM286.4 472.6h1v1h-1zM298.3 449.0h1v1h-1zM301.7 467.1h1v1h-1zM302.1 455.3h1v1h-1zM285.5 462.2h1v1h-1zM284.8 450.5h1v1h-1zM284.7 464.4h1v1h-1zM285.7 469.4h1v1h-1zM285.5 466.8h1v1h-1zM294.7 465.9h1v1h-1zM288.5 470.3h1v1h-1zM297.6 462.4h1v1h-1zM308.1 453.9h1v1h-1zM302.8 461.4h1v1h-1zM281.7 468.6h1v1h-1zM307.3 456.1h1v1h-1zM290.6 458.6h1v1h-1zM284.3 468.5h1v1h-1zM286.3 449.9h1v1h-1zM280.7 449.8h1v1h-1zM287.5 456.9h1v1h-1zM293.1 469.3h1v1h-1zM282.2 451.3h1v1h-1zM308.0 461.9h1v1h-1zM291.8 465.0h1v1h-1zM295.1 449.8h1v1h-1zM288.5 469.2h1v1h-1zM306.1 467.7h1v1h-1zM304.7 449.1h1v1h-1zM293.5 459.9h1v1h-1zM279.0 458.7h1v1h-1zM298.8 466.7h1v1h-1zM289.1 449.2h1v1h-1zM283.2 456.9h1v1h-1zM292.9 449.7h1v1h-1zM300.9 461.1h1v1h-1zM298.8 450.2h1v1h-1zM281.9 468.2h1v1h-1zM306.4 456.5h1v1h-1zM293.4 448.6h1v1h-1zM306.2 455.8h1v1h-1zM291.6 461.6h1v1h-1zM306.2 453.6h1v1h-1zM304.3 451.9h1v1h-1zM280.1 467.5h1v1h-1zM305.6 462.4h1v1h-1zM299.4 449.3h1v1h-1zM296.4 465.4h1v1h-1zM279.1 450.5h1v1h-1zM298.0 467.9h1v1h-1zM298.3 468.7h1v1h-1zM305.0 455.3h1v1h-1zM290.8 448.7h1v1h-1zM280.9 461.7h1v1h-1zM301.1 462.2h1v1h-1zM290.0 456.4h1v1h-1zM288.8 458.1h1v1h-1zM299.2 449.1h1v1h-1zM280.2 471.7h1v1h-1zM279.9 450.9h1v1h-1zM308.2 459.6h1v1h-1zM305.1 454.7h1v1h-1zM303.0 463.6h1v1h-1zM293.5 454.0h1v1h-1zM290.7 449.9h1v1h-1zM284.5 460.9h1v1h-1zM280.0 454.6h1v1h-1zM302.8 464.5h1v1h-1zM286.6 455.6h1v1h-1zM301.5 470.5h1v1h-1zM280.8 462.6h1v1h-1zM286.3 460.7h1v1h-1zM291.9 460.2h1v1h-1zM289.5 467.8h1v1h-1zM297.2 452.4h1v1h-1zM291.6 448.4h1v1h-1zM286.7 455.3h1v1h-1zM292.8 455.9h1v1h-1zM294.4 463.1h1v1h-1zM314.6 461.0h1v1h-1zM303.5 468.3h1v1h-1zM295.3 458.8h1v1h-1zM283.0 463.1h1v1h-1zM292.6 463.5h1v1h-1zM291.7 466.9h1v1h-1zM298.1 452.2h1v1h-1zM309.9 458.0h1v1h-1zM279.2 455.0h1v1h-1zM293.1 452.2h1v1h-1zM281.4 454.4h1v1h-1zM300.2 470.4h1v1h-1zM302.2 466.9h1v1h-1zM296.5 450.2h1v1h-1zM282.8 472.0h1v1h-1zM292.6 468.5h1v1h-1zM303.1 461.4h1v1h-1zM286.4 459.5h1v1h-1zM289.5 459.2h1v1h-1zM295.9 459.9h1v1h-1zM297.7 464.4h1v1h-1zM294.6 458.3h1v1h-1zM296.5 466.6h1v1h-1zM295.5 457.9h1v1h-1zM289.6 455.6h1v1h-1zM293.4 459.1h1v1h-1zM296.1 462.2h1v1h-1zM285.8 462.8h1v1h-1zM295.5 459.9h1v1h-1zM294.7 450.1h1v1h-1zM297.5 451.2h1v1h-1zM296.6 448.8h1v1h-1zM286.1 458.2h1v1h-1zM284.6 464.5h1v1h-1zM295.9 460.2h1v1h-1zM292.9 459.7h1v1h-1zM294.8 456.8h1v1h-1zM289.8 457.8h1v1h-1zM284.4 455.6h1v1h-1zM296.0 467.0h1v1h-1zM293.0 451.9h1v1h-1zM298.6 454.2h1v1h-1zM302.2 463.2h1v1h-1zM302.2 457.6h1v1h-1zM301.4 464.3h1v1h-1zM286.8 457.0h1v1h-1zM278.2 462.8h1v1h-1zM289.4 461.5h1v1h-1zM284.9 451.6h1v1h-1zM284.1 463.7h1v1h-1zM298.9 468.3h1v1h-1zM281.9 455.7h1v1h-1zM300.8 459.2h1v1h-1zM302.2 464.2h1v1h-1zM313.9 470.1h1v1h-1zM301.7 462.4h1v1h-1zM309.7 475.3h1v1h-1zM289.1 457.5h1v1h-1zM288.8 472.7h1v1h-1zM301.3 455.3h1v1h-1zM284.1 460.0h1v1h-1zM302.5 454.2h1v1h-1zM291.9 466.6h1v1h-1zM279.2 464.3h1v1h-1zM307.8 448.8h1v1h-1zM312.7 474.2h1v1h-1zM282.9 458.2h1v1h-1zM287.6 449.3h1v1h-1zM295.5 454.3h1v1h-1zM294.0 457.1h1v1h-1zM282.1 470.4h1v1h-1zM294.8 463.0h1v1h-1zM295.3 460.4h1v1h-1zM297.4 453.9h1v1h-1zM281.9 464.5h1v1h-1zM289.4 448.7h1v1h-1zM293.2 467.4h1v1h-1zM300.0 466.5h1v1h-1zM295.2 457.1h1v1h-1zM291.4 450.3h1v1h-1zM290.8 456.1h1v1h-1zM304.9 459.3h1v1h-1zM287.8 473.2h1v1h-1zM296.2 471.2h1v1h-1zM277.7 455.9h1v1h-1zM306.7 455.1h1v1h-1zM297.4 451.2h1v1h-1zM280.8 462.6h1v1h-1zM298.5 456.5h1v1h-1zM304.4 464.7h1v1h-1zM300.1 460.5h1v1h-1zM294.5 456.6h1v1h-1zM300.3 453.6h1v1h-1zM288.4 449.7h1v1h-1zM292.1 463.9h1v1h-1zM291.3 451.5h1v1h-1zM294.5 464.7h1v1h-1zM286.1 449.3h1v1h-1zM293.0 460.2h1v1h-1zM285.9 456.2h1v1h-1zM292.3 466.0h1v1h-1zM296.7 460.1h1v1h-1zM294.3 459.6h1v1h-1zM302.2 465.7h1v1h-1zM291.3 455.8h1v1h-1zM288.2 464.2h1v1h-1zM297.7 476.1h1v1h-1zM303.6 461.6h1v1h-1zM286.7 454.1h1v1h-1zM282.1 459.9h1v1h-1zM289.1 454.9h1v1h-1zM293.4 458.0h1v1h-1zM286.2 471.0h1v1h-1zM295.2 453.8h1v1h-1zM287.5 452.2h1v1h-1zM300.6 463.5h1v1h-1zM285.0 457.5h1v1h-1zM287.1 459.1h1v1h-1zM294.5 456.1h1v1h-1zM299.0 461.8h1v1h-1zM300.8 469.8h1v1h-1zM288.7 464.4h1v1h-1zM294.0 457.5h1v1h-1zM297.9 457.9h1v1h-1zM304.6 454.3h1v1h-1zM287.2 454.5h1v1h-1zM284.5 466.3h1v1h-1zM297.5 463.7h1v1h-1zM292.0 463.3h1v1h-1zM304.0 463.5h1v1h-1zM294.1 456.2h1v1h-1zM296.3 460.2h1v1h-1zM288.0 463.6h1v1h-1zM296.0 470.7h1v1h-1zM303.0 462.0h1v1h-1zM292.0 460.8h1v1h-1zM284.9 455.2h1v1h-1zM300.5 467.0h1v1h-1zM291.5 458.7h1v1h-1zM294.3 462.0h1v1h-1zM288.5 462.9h1v1h-1zM300.9 455.3h1v1h-1zM288.3 462.3h1v1h-1zM290.2 467.7h1v1h-1zM293.9 454.7h1v1h-1zM292.3 457.0h1v1h-1zM277.0 455.1h1v1h-1zM297.4 461.0h1v1h-1zM285.1 473.9h1v1h-1zM295.8 462.5h1v1h-1zM290.9 468.4h1v1h-1zM292.9 462.0h1v1h-1zM288.3 457.7h1v1h-1zM285.9 460.5h1v1h-1zM294.9 461.9h1v1h-1zM295.5 459.2h1v1h-1zM301.4 460.0h1v1h-1zM297.9 461.0h1v1h-1zM288.6 456.3h1v1h-1zM302.6 470.2h1v1h-1zM310.4 463.2h1v1h-1zM299.2 459.6h1v1h-1zM292.4 456.7h1v1h-1zM286.6 462.8h1v1h-1zM294.5 455.4h1v1h-1zM283.0 452.3h1v1h-1zM299.8 458.0h1v1h-1zM291.0 468.4h1v1h-1zM289.5 459.1h1v1h-1zM295.7 461.5h1v1h-1zM284.5 454.2h1v1h-1zM280.7 463.7h1v1h-1zM290.5 456.8h1v1h-1zM302.9 456.7h1v1h-1zM287.4 455.3h1v1h-1zM300.3 459.5h1v1h-1zM280.0 453.5h1v1h-1zM293.3 457.7h1v1h-1zM297.6 459.1h1v1h-1zM307.2 454.1h1v1h-1zM280.6 447.7h1v1h-1zM293.3 463.1h1v1h-1zM287.0 452.3h1v1h-1zM296.1 447.7h1v1h-1zM289.6 460.3h1v1h-1zM294.5 460.0h1v1h-1zM288.1 467.4h1v1h-1zM289.6 468.5h1v1h-1zM296.8 446.1h1v1h-1zM304.9 456.6h1v1h-1zM295.3 462.0h1v1h-1zM294.7 451.6h1v1h-1zM290.3 467.6h1v1h-1zM305.6 462.5h1v1h-1zM279.2 455.9h1v1h-1zM278.8 456.9h1v1h-1zM287.9 462.3h1v1h-1zM297.1 473.8h1v1h-1zM300.8 472.6h1v1h-1zM298.0 451.0h1v1h-1zM299.4 464.1h1v1h-1zM295.0 450.8h1v1h-1zM290.2 459.4h1v1h-1zM285.8 453.9h1v1h-1zM297.1 458.4h1v1h-1zM286.7 457.4h1v1h-1zM296.9 462.6h1v1h-1zM299.3 455.4h1v1h-1zM289.1 464.7h1v1h-1zM290.4 459.5h1v1h-1zM289.6 454.3h1v1h-1zM298.9 469.6h1v1h-1zM294.9 462.4h1v1h-1zM288.8 458.9h1v1h-1zM295.7 460.8h1v1h-1zM305.0 464.8h1v1h-1zM295.9 459.4h1v1h-1zM294.7 456.3h1v1h-1zM290.8 459.3h1v1h-1zM286.8 456.7h1v1h-1zM293.8 456.8h1v1h-1zM294.3 470.6h1v1h-1zM291.5 465.3h1v1h-1zM302.6 468.8h1v1h-1zM292.0 457.0h1v1h-1zM292.6 448.9h1v1h-1zM295.2 457.8h1v1h-1zM297.7 463.6h1v1h-1zM280.4 457.0h1v1h-1zM295.7 461.4h1v1h-1zM303.1 454.1h1v1h-1zM285.5 463.4h1v1h-1zM296.7 457.4h1v1h-1zM290.0 460.2h1v1h-1zM286.4 464.5h1v1h-1zM295.8 455.5h1v1h-1zM293.0 453.4h1v1h-1zM278.3 455.0h1v1h-1zM289.4 463.9h1v1h-1zM299.8 458.1h1v1h-1zM289.4 467.0h1v1h-1zM288.3 463.6h1v1h-1zM291.0 467.3h1v1h-1zM290.5 461.4h1v1h-1zM299.3 467.9h1v1h-1zM287.5 464.9h1v1h-1zM285.1 447.8h1v1h-1zM297.0 469.4h1v1h-1zM301.2 465.8h1v1h-1zM299.0 457.6h1v1h-1zM300.1 452.5h1v1h-1zM289.0 448.3h1v1h-1zM282.9 461.2h1v1h-1zM288.6 454.8h1v1h-1zM293.7 452.8h1v1h-1zM281.2 453.9h1v1h-1zM291.6 449.8h1v1h-1zM298.2 466.3h1v1h-1zM288.7 454.6h1v1h-1zM308.6 460.1h1v1h-1zM299.4 461.3h1v1h-1zM284.8 462.7h1v1h-1zM285.4 459.2h1v1h-1zM288.6 465.6h1v1h-1zM299.1 456.4h1v1h-1zM297.3 474.0h1v1h-1zM289.7 450.0h1v1h-1zM295.1 464.8h1v1h-1zM299.8 474.4h1v1h-1zM297.7 454.1h1v1h-1zM281.9 469.5h1v1h-1zM285.8 473.5h1v1h-1zM287.1 457.3h1v1h-1zM281.0 470.2h1v1h-1zM300.2 456.6h1v1h-1zM289.1 462.3h1v1h-1zM289.0 458.9h1v1h-1zM287.7 454.0h1v1h-1zM296.1 453.2h1v1h-1zM298.1 456.6h1v1h-1zM298.9 450.6h1v1h-1zM303.0 461.5h1v1h-1zM287.0 461.1h1v1h-1zM305.9 467.4h1v1h-1zM312.3 463.0h1v1h-1zM289.9 459.2h1v1h-1zM291.2 458.2h1v1h-1zM298.4 476.2h1v1h-1zM303.1 450.3h1v1h-1zM291.9 451.7h1v1h-1zM287.9 474.8h1v1h-1zM309.3 467.3h1v1h-1zM290.2 461.5h1v1h-1zM297.9 466.8h1v1h-1zM301.3 450.9h1v1h-1zM306.6 458.3h1v1h-1zM307.1 465.0h1v1h-1zM317.0 464.7h1v1h-1zM289.8 467.6h1v1h-1zM286.6 462.0h1v1h-1zM283.1 458.1h1v1h-1zM306.7 456.5h1v1h-1zM290.7 464.5h1v1h-1zM281.4 460.4h1v1h-1zM278.6 463.6h1v1h-1zM294.9 469.6h1v1h-1zM290.7 468.5h1v1h-1zM296.3 452.4h1v1h-1zM287.5 468.1h1v1h-1zM288.4 454.3h1v1h-1zM297.4 450.0h1v1h-1zM292.4 474.3h1v1h-1zM298.3 462.5h1v1h-1zM293.0 456.8h1v1h-1zM291.8 457.9h1v1h-1zM296.6 466.5h1v1h-1zM291.5 473.7h1v1h-1zM295.3 469.3h1v1h-1zM297.3 459.3h1v1h-1zM290.1 453.2h1v1h-1zM293.1 460.0h1v1h-1zM294.7 467.3h1v1h-1zM299.0 464.0h1v1h-1zM295.7 452.2h1v1h-1zM295.8 461.6h1v1h-1zM297.4 464.8h1v1h-1zM291.6 454.8h1v1h-1zM296.6 466.5h1v1h-1zM288.4 470.3h1v1h-1zM280.3 466.7h1v1h-1zM297.0 455.3h1v1h-1zM279.3 459.0h1v1h-1zM292.8 460.3h1v1h-1zM305.4 458.5h1v1h-1zM299.3 466.4h1v1h-1zM286.3 461.4h1v1h-1zM299.4 460.8h1v1h-1zM295.7 462.9h1v1h-1zM287.7 457.9h1v1h-1zM293.2 452.1h1v1h-1zM289.9 461.5h1v1h-1zM291.6 458.6h1v1h-1zM296.4 465.1h1v1h-1zM282.3 462.2h1v1h-1zM300.2 459.1h1v1h-1zM308.9 467.8h1v1h-1zM292.7 460.6h1v1h-1zM286.7 452.5h1v1h-1zM290.9 470.8h1v1h-1zM303.1 468.2h1v1h-1zM290.2 460.6h1v1h-1zM297.5 450.6h1v1h-1zM311.0 454.2h1v1h-1zM288.6 467.0h1v1h-1zM294.7 460.2h1v1h-1zM289.7 458.4h1v1h-1zM291.2 463.6h1v1h-1zM294.9 456.9h1v1h-1zM288.4 457.4h1v1h-1zM297.4 468.5h1v1h-1zM295.3 464.1h1v1h-1zM302.7 465.6h1v1h-1zM299.1 464.6h1v1h-1zM296.9 467.5h1v1h-1zM305.2 466.1h1v1h-1zM292.6 455.6h1v1h-1zM298.8 459.5h1v1h-1zM289.3 471.4h1v1h-1zM304.8 461.9h1v1h-1zM288.7 471.9h1v1h-1zM301.4 458.8h1v1h-1zM288.8 451.9h1v1h-1zM295.8 461.4h1v1h-1zM286.3 457.6h1v1h-1zM288.5 456.4h1v1h-1zM287.2 456.0h1v1h-1zM297.6 447.8h1v1h-1zM298.3 464.2h1v1h-1zM300.0 459.8h1v1h-1zM297.4 454.8h1v1h-1zM292.9 450.3h1v1h-1zM299.4 465.0h1v1h-1zM306.1 460.9h1v1h-1zM291.7 465.1h1v1h-1zM289.0 463.1h1v1h-1zM298.8 465.5h1v1h-1zM309.8 460.5h1v1h-1zM294.0 451.3h1v1h-1zM292.2 461.7h1v1h-1zM287.2 466.4h1v1h-1zM289.3 451.6h1v1h-1zM287.7 457.8h1v1h-1zM287.5 469.9h1v1h-1zM302.6 452.7h1v1h-1zM304.2 469.2h1v1h-1zM295.5 454.6h1v1h-1zM295.6 450.0h1v1h-1zM300.9 457.2h1v1h-1zM295.0 456.5h1v1h-1zM295.7 466.4h1v1h-1zM299.3 446.9h1v1h-1zM294.6 454.2h1v1h-1zM304.5 454.2h1v1h-1zM319.1 453.2h1v1h-1zM294.9 460.6h1v1h-1zM297.0 456.4h1v1h-1zM288.8 459.8h1v1h-1zM291.6 458.2h1v1h-1zM295.6 466.7h1v1h-1zM298.1 455.6h1v1h-1zM293.6 460.0h1v1h-1zM286.1 465.2h1v1h-1zM297.9 463.1h1v1h-1zM291.0 459.9h1v1h-1zM298.0 465.1h1v1h-1zM293.4 462.6h1v1h-1zM294.0 462.8h1v1h-1zM294.4 460.5h1v1h-1zM279.2 466.4h1v1h-1zM304.2 467.0h1v1h-1zM288.2 456.5h1v1h-1zM297.7 463.8h1v1h-1zM299.1 463.1h1v1h-1zM290.8 464.7h1v1h-1zM284.9 455.8h1v1h-1zM299.3 452.8h1v1h-1zM287.9 459.2h1v1h-1zM294.4 467.5h1v1h-1zM298.4 454.1h1v1h-1zM291.4 466.8h1v1h-1zM282.2 460.8h1v1h-1zM289.9 461.8h1v1h-1zM298.6 461.9h1v1h-1zM288.8 458.4h1v1h-1zM301.4 459.1h1v1h-1zM283.4 464.7h1v1h-1zM287.7 470.4h1v1h-1zM281.7 461.8h1v1h-1zM287.7 463.4h1v1h-1zM306.0 455.3h1v1h-1zM298.9 459.9h1v1h-1zM292.6 467.5h1v1h-1zM289.9 467.7h1v1h-1zM303.1 458.9h1v1h-1zM293.6 460.3h1v1h-1zM287.1 457.9h1v1h-1zM306.1 455.2h1v1h-1zM284.7 463.9h1v1h-1zM295.9 457.9h1v1h-1zM299.3 470.2h1v1h-1zM301.6 446.6h1v1h-1zM309.1 449.0h1v1h-1zM300.7 452.2h1v1h-1zM289.2 460.5h1v1h-1zM303.0 459.0h1v1h-1zM296.6 455.0h1v1h-1zM286.3 461.2h1v1h-1zM288.3 449.6h1v1h-1zM278.2 469.0h1v1h-1zM297.5 460.9h1v1h-1zM298.5 455.3h1v1h-1zM297.9 458.3h1v1h-1zM288.1 470.3h1v1h-1zM293.8 457.8h1v1h-1zM303.1 452.7h1v1h-1zM293.1 458.9h1v1h-1zM288.6 455.0h1v1h-1zM293.9 467.3h1v1h-1zM303.7 460.9h1v1h-1zM294.4 466.9h1v1h-1zM311.3 457.2h1v1h-1zM312.3 454.5h1v1h-1zM299.5 466.1h1v1h-1zM282.0 458.9h1v1h-1zM292.2 455.3h1v1h-1zM303.7 459.3h1v1h-1zM290.0 466.5h1v1h-1zM289.0 455.9h1v1h-1zM294.3 472.5h1v1h-1zM314.2 463.3h1v1h-1zM290.6 452.3h1v1h-1zM279.6 453.0h1v1h-1zM296.3 459.6h1v1h-1zM297.1 457.8h1v1h-1zM299.7 457.6h1v1h-1zM294.7 459.1h1v1h-1zM296.7 461.7h1v1h-1zM290.6 458.4h1v1h-1zM301.3 456.6h1v1h-1zM293.9 447.9h1v1h-1zM298.0 470.6h1v1h-1zM288.6 460.8h1v1h-1zM304.5 463.6h1v1h-1zM295.9 461.2h1v1h-1zM290.9 468.2h1v1h-1zM294.4 460.2h1v1h-1zM285.8 468.0h1v1h-1zM289.6 456.4h1v1h-1zM300.3 458.5h1v1h-1zM298.6 463.5h1v1h-1zM300.3 463.8h1v1h-1zM299.4 467.7h1v1h-1zM292.0 456.3h1v1h-1zM294.8 463.0h1v1h-1zM308.2 456.7h1v1h-1zM293.2 450.9h1v1h-1zM282.5 466.3h1v1h-1zM293.9 459.6h1v1h-1zM290.9 453.7h1v1h-1zM293.2 455.1h1v1h-1zM294.1 463.4h1v1h-1zM286.2 460.0h1v1h-1zM297.0 459.3h1v1h-1zM292.6 464.2h1v1h-1zM298.3 459.8h1v1h-1zM288.6 448.4h1v1h-1zM286.4 465.3h1v1h-1zM290.6 456.9h1v1h-1zM306.1 457.6h1v1h-1zM280.2 444.5h1v1h-1zM293.3 460.2h1v1h-1zM302.3 456.9h1v1h-1zM290.7 459.9h1v1h-1zM296.6 461.7h1v1h-1zM296.4 465.6h1v1h-1zM309.5 468.4h1v1h-1zM292.7 467.7h1v1h-1zM295.4 453.6h1v1h-1zM287.9 454.9h1v1h-1zM295.8 460.7h1v1h-1zM288.0 469.0h1v1h-1zM292.7 467.2h1v1h-1zM296.4 456.7h1v1h-1zM297.8 452.3h1v1h-1zM286.8 461.9h1v1h-1zM286.9 458.8h1v1h-1zM302.3 464.4h1v1h-1zM289.6 465.2h1v1h-1zM294.9 462.1h1v1h-1zM291.5 454.4h1v1h-1zM281.8 452.3h1v1h-1zM292.8 458.3h1v1h-1zM292.7 463.2h1v1h-1zM306.8 459.7h1v1h-1zM279.4 464.6h1v1h-1zM289.6 457.5h1v1h-1zM298.2 467.1h1v1h-1zM289.6 462.3h1v1h-1zM277.5 458.1h1v1h-1zM298.2 455.5h1v1h-1zM294.8 459.3h1v1h-1zM287.2 460.7h1v1h-1zM286.1 470.3h1v1h-1zM288.5 460.8h1v1h-1zM295.0 464.5h1v1h-1zM292.2 447.0h1v1h-1zM288.6 466.5h1v1h-1zM296.1 459.7h1v1h-1zM301.3 454.3h1v1h-1zM289.0 445.6h1v1h-1zM305.2 454.7h1v1h-1zM293.7 470.6h1v1h-1zM298.0 465.5h1v1h-1zM296.6 465.3h1v1h-1zM297.2 457.1h1v1h-1zM295.2 464.1h1v1h-1zM276.6 464.1h1v1h-1zM286.3 462.3h1v1h-1zM300.0 454.2h1v1h-1zM285.6 456.3h1v1h-1zM294.2 458.2h1v1h-1zM281.7 479.6h1v1h-1zM288.8 447.4h1v1h-1zM304.8 470.7h1v1h-1zM295.1 469.1h1v1h-1zM286.9 461.5h1v1h-1zM288.5 465.4h1v1h-1zM280.6 462.5h1v1h-1zM296.7 463.7h1v1h-1zM291.4 456.3h1v1h-1zM298.6 447.4h1v1h-1zM299.1 477.4h1v1h-1zM290.9 471.4h1v1h-1zM286.0 451.1h1v1h-1zM284.1 467.4h1v1h-1zM290.1 457.5h1v1h-1zM293.2 463.1h1v1h-1zM303.3 453.4h1v1h-1zM285.9 453.2h1v1h-1zM296.4 472.1h1v1h-1zM285.2 457.1h1v1h-1zM288.7 459.5h1v1h-1zM298.7 464.6h1v1h-1zM296.8 469.6h1v1h-1zM289.0 457.0h1v1h-1zM288.1 464.1h1v1h-1zM301.1 465.0h1v1h-1zM291.6 456.2h1v1h-1zM290.6 456.3h1v1h-1zM285.0 464.0h1v1h-1zM311.6 459.3h1v1h-1zM306.7 470.2h1v1h-1zM296.9 448.5h1v1h-1zM309.6 463.4h1v1h-1zM296.7 459.1h1v1h-1zM290.6 451.1h1v1h-1zM297.2 459.4h1v1h-1zM303.8 450.9h1v1h-1zM285.0 457.9h1v1h-1zM302.6 467.1h1v1h-1zM302.2 455.5h1v1h-1zM304.6 464.0h1v1h-1zM297.1 462.0h1v1h-1zM301.8 456.9h1v1h-1zM280.7 458.3h1v1h-1zM293.2 461.5h1v1h-1zM301.3 462.2h1v1h-1zM297.8 456.8h1v1h-1zM295.7 459.1h1v1h-1zM284.4 465.1h1v1h-1zM292.4 453.7h1v1h-1zM280.8 452.5h1v1h-1zM291.9 462.1h1v1h-1zM296.2 463.1h1v1h-1zM289.9 445.2h1v1h-1zM297.3 460.8h1v1h-1zM293.8 469.0h1v1h-1zM300.4 465.5h1v1h-1zM291.2 457.8h1v1h-1zM281.8 462.5h1v1h-1zM284.4 449.6h1v1h-1zM288.1 464.2h1v1h-1zM293.8 462.0h1v1h-1zM294.5 465.7h1v1h-1zM288.3 459.1h1v1h-1zM294.7 464.4h1v1h-1zM289.0 457.3h1v1h-1zM298.7 467.1h1v1h-1zM284.0 463.1h1v1h-1zM302.6 448.6h1v1h-1zM296.1 449.5h1v1h-1zM291.0 463.6h1v1h-1zM286.0 466.5h1v1h-1zM298.2 468.4h1v1h-1zM289.6 456.9h1v1h-1zM299.0 461.5h1v1h-1zM307.9 458.2h1v1h-1zM295.5 456.0h1v1h-1zM296.1 458.7h1v1h-1zM298.4 468.2h1v1h-1zM290.4 457.3h1v1h-1zM308.9 471.8h1v1h-1zM292.9 451.8h1v1h-1zM299.8 458.1h1v1h-1zM297.2 463.7h1v1h-1zM290.4 463.6h1v1h-1zM305.0 461.1h1v1h-1zM297.6 449.5h1v1h-1zM290.0 458.6h1v1h-1zM290.1 469.4h1v1h-1zM280.7 464.6h1v1h-1zM287.1 463.7h1v1h-1zM301.3 463.1h1v1h-1zM301.5 459.7h1v1h-1zM288.2 460.1h1v1h-1zM299.9 456.6h1v1h-1zM302.5 469.1h1v1h-1zM301.0 463.2h1v1h-1zM304.6 462.8h1v1h-1zM281.1 461.3h1v1h-1zM296.8 458.7h1v1h-1zM288.2 451.0h1v1h-1zM300.3 460.1h1v1h-1zM289.8 455.9h1v1h-1zM296.0 456.7h1v1h-1zM301.8 461.5h1v1h-1zM283.5 468.8h1v1h-1zM290.4 453.6h1v1h-1zM289.9 460.3h1v1h-1zM294.9 470.6h1v1h-1zM283.4 452.2h1v1h-1zM300.9 463.7h1v1h-1zM309.4 457.4h1v1h-1zM292.8 465.1h1v1h-1zM298.8 470.5h1v1h-1zM285.8 466.7h1v1h-1zM299.7 462.4h1v1h-1zM296.9 472.7h1v1h-1zM304.6 454.5h1v1h-1zM295.3 459.6h1v1h-1zM292.7 461.0h1v1h-1zM291.0 471.2h1v1h-1zM295.3 467.7h1v1h-1zM278.6 458.0h1v1h-1zM305.5 451.1h1v1h-1zM278.2 467.9h1v1h-1zM282.5 462.1h1v1h-1zM294.8 458.7h1v1h-1zM301.3 466.0h1v1h-1zM298.3 472.0h1v1h-1zM305.4 462.7h1v1h-1zM290.9 469.7h1v1h-1zM289.3 448.8h1v1h-1zM298.3 466.1h1v1h-1zM285.7 475.7h1v1h-1zM295.7 468.4h1v1h-1zM297.9 456.7h1v1h-1zM296.3 453.2h1v1h-1zM278.8 463.0h1v1h-1zM292.3 455.0h1v1h-1zM278.7 457.1h1v1h-1zM300.4 449.2h1v1h-1zM290.7 454.0h1v1h-1zM301.4 464.1h1v1h-1zM303.8 455.4h1v1h-1zM283.9 454.9h1v1h-1zM300.8 451.7h1v1h-1zM296.9 459.3h1v1h-1zM305.2 462.5h1v1h-1zM284.5 460.9h1v1h-1zM288.1 460.2h1v1h-1zM280.2 454.0h1v1h-1zM294.9 459.4h1v1h-1zM288.6 453.0h1v1h-1zM295.4 467.4h1v1h-1zM296.5 472.5h1v1h-1zM300.2 466.1h1v1h-1zM284.0 471.5h1v1h-1zM299.4 461.7h1v1h-1zM299.3 458.4h1v1h-1zM286.5 446.9h1v1h-1zM289.3 456.0h1v1h-1zM283.0 457.3h1v1h-1zM303.0 470.3h1v1h-1zM303.9 454.0h1v1h-1zM287.5 460.6h1v1h-1zM293.0 464.3h1v1h-1zM296.8 460.6h1v1h-1zM299.0 460.1h1v1h-1zM293.3 467.0h1v1h-1zM306.1 454.6h1v1h-1zM286.8 460.4h1v1h-1zM300.2 461.7h1v1h-1zM294.5 470.6h1v1h-1zM296.0 469.1h1v1h-1zM288.3 463.9h1v1h-1zM280.9 465.8h1v1h-1zM289.9 446.6h1v1h-1zM297.3 462.1h1v1h-1zM287.5 456.7h1v1h-1zM281.1 450.2h1v1h-1zM292.5 464.4h1v1h-1zM293.6 457.5h1v1h-1zM286.3 455.6h1v1h-1zM292.9 448.8h1v1h-1zM296.8 461.1h1v1h-1zM295.3 468.0h1v1h-1zM300.6 461.1h1v1h-1zM302.6 464.8h1v1h-1zM293.5 466.4h1v1h-1zM287.7 459.9h1v1h-1zM280.7 457.5h1v1h-1zM301.2 456.0h1v1h-1zM296.3 458.0h1v1h-1zM301.3 456.4h1v1h-1zM287.6 460.4h1v1h-1zM294.7 456.8h1v1h-1zM287.7 467.1h1v1h-1zM287.0 454.2h1v1h-1zM282.9 470.3h1v1h-1zM292.0 456.9h1v1h-1zM297.3 456.9h1v1h-1zM299.5 464.3h1v1h-1zM295.5 455.2h1v1h-1zM291.6 447.8h1v1h-1zM308.8 465.3h1v1h-1zM305.3 469.2h1v1h-1zM301.3 447.4h1v1h-1zM294.9 463.3h1v1h-1zM303.2 456.3h1v1h-1zM288.1 458.5h1v1h-1zM284.2 470.1h1v1h-1zM298.4 451.1h1v1h-1zM295.0 456.5h1v1h-1zM301.6 468.0h1v1h-1zM287.9 461.5h1v1h-1zM295.9 462.9h1v1h-1zM286.0 455.6h1v1h-1zM291.2 454.7h1v1h-1zM297.2 454.9h1v1h-1zM293.2 461.3h1v1h-1zM286.7 457.1h1v1h-1zM282.9 462.7h1v1h-1zM290.9 476.9h1v1h-1zM286.9 448.4h1v1h-1zM283.0 461.6h1v1h-1zM294.4 459.2h1v1h-1zM286.9 453.0h1v1h-1zM303.3 461.0h1v1h-1zM309.2 454.0h1v1h-1zM302.1 451.0h1v1h-1zM314.6 459.8h1v1h-1zM284.7 470.0h1v1h-1zM280.9 458.4h1v1h-1zM292.7 462.5h1v1h-1zM280.6 455.5h1v1h-1zM294.9 454.9h1v1h-1zM300.4 450.3h1v1h-1zM299.6 459.6h1v1h-1zM301.1 462.8h1v1h-1zM292.2 448.4h1v1h-1zM293.3 447.3h1v1h-1zM295.6 462.9h1v1h-1zM293.4 455.2h1v1h-1zM300.7 449.3h1v1h-1zM290.8 463.8h1v1h-1zM293.5 458.1h1v1h-1zM288.6 456.8h1v1h-1zM301.0 459.4h1v1h-1zM294.7 455.2h1v1h-1zM294.8 477.8h1v1h-1zM290.1 445.5h1v1h-1zM280.5 456.2h1v1h-1zM290.4 463.2h1v1h-1zM277.6 462.0h1v1h-1zM293.3 451.8h1v1h-1zM284.5 457.3h1v1h-1zM303.3 458.9h1v1h-1zM289.0 468.4h1v1h-1zM293.2 470.1h1v1h-1zM290.1 470.3h1v1h-1zM285.2 460.9h1v1h-1zM282.2 468.7h1v1h-1zM288.9 458.4h1v1h-1zM278.5 457.9h1v1h-1zM302.1 464.5h1v1h-1zM284.0 462.2h1v1h-1zM289.2 456.6h1v1h-1zM293.5 454.0h1v1h-1zM292.5 453.8h1v1h-1zM302.4 469.1h1v1h-1zM293.2 458.4h1v1h-1zM290.0 460.8h1v1h-1zM292.8 469.6h1v1h-1zM305.1 470.1h1v1h-1zM299.5 465.8h1v1h-1zM279.1 463.0h1v1h-1zM292.2 457.2h1v1h-1zM286.9 460.5h1v1h-1zM293.8 461.8h1v1h-1zM298.4 464.6h1v1h-1zM293.8 456.2h1v1h-1zM298.2 465.4h1v1h-1zM306.3 466.8h1v1h-1zM280.7 462.5h1v1h-1zM293.4 451.2h1v1h-1zM294.2 448.1h1v1h-1zM297.1 464.6h1v1h-1zM294.5 448.9h1v1h-1zM300.6 461.3h1v1h-1zM293.6 478.5h1v1h-1zM297.0 459.2h1v1h-1zM282.2 451.3h1v1h-1zM295.2 465.8h1v1h-1zM284.8 457.2h1v1h-1zM298.1 459.5h1v1h-1zM307.0 448.9h1v1h-1zM293.4 455.8h1v1h-1zM297.1 468.8h1v1h-1zM299.4 458.3h1v1h-1zM304.2 455.4h1v1h-1zM299.8 459.7h1v1h-1zM303.1 461.2h1v1h-1zM290.0 466.1h1v1h-1zM293.4 464.2h1v1h-1zM283.1 466.1h1v1h-1zM310.5 451.6h1v1h-1zM285.2 457.6h1v1h-1zM300.9 447.4h1v1h-1zM295.2 469.7h1v1h-1zM294.9 456.0h1v1h-1zM285.3 457.4h1v1h-1zM293.8 471.5h1v1h-1zM294.7 465.5h1v1h-1zM297.1 457.8h1v1h-1zM291.6 458.2h1v1h-1zM295.9 457.2h1v1h-1zM286.9 465.4h1v1h-1zM303.1 479.3h1v1h-1zM289.2 450.9h1v1h-1zM321.0 469.3h1v1h-1zM291.8 468.0h1v1h-1zM289.3 456.9h1v1h-1zM295.5 462.0h1v1h-1zM293.2 461.7h1v1h-1zM302.3 455.3h1v1h-1zM303.3 456.0h1v1h-1zM289.6 469.4h1v1h-1zM289.3 463.0h1v1h-1zM288.7 457.6h1v1h-1zM297.9 454.4h1v1h-1zM301.7 459.5h1v1h-1zM299.3 460.5h1v1h-1zM293.3 465.5h1v1h-1zM294.7 470.2h1v1h-1zM299.4 460.5h1v1h-1zM303.7 454.4h1v1h-1zM294.2 462.7h1v1h-1zM303.2 461.3h1v1h-1zM292.0 456.7h1v1h-1zM295.9 464.9h1v1h-1zM302.9 459.7h1v1h-1zM288.0 462.5h1v1h-1zM281.6 460.3h1v1h-1zM286.2 463.2h1v1h-1zM293.4 464.1h1v1h-1zM286.7 453.9h1v1h-1zM293.5 466.2h1v1h-1zM304.6 460.5h1v1h-1zM291.8 449.5h1v1h-1zM304.3 458.2h1v1h-1zM300.9 468.3h1v1h-1zM286.5 469.6h1v1h-1zM301.6 456.3h1v1h-1zM300.8 462.2h1v1h-1zM301.7 452.1h1v1h-1zM296.0 463.4h1v1h-1zM296.4 445.9h1v1h-1zM290.3 449.3h1v1h-1zM287.9 463.0h1v1h-1zM294.0 463.5h1v1h-1zM299.7 456.1h1v1h-1zM290.0 463.5h1v1h-1zM306.6 470.4h1v1h-1zM291.2 459.4h1v1h-1zM297.0 464.2h1v1h-1zM284.5 455.1h1v1h-1zM306.2 451.9h1v1h-1zM300.0 471.8h1v1h-1zM304.3 461.2h1v1h-1zM285.7 456.2h1v1h-1zM305.5 449.1h1v1h-1zM298.3 464.2h1v1h-1zM290.2 466.0h1v1h-1zM291.8 469.3h1v1h-1zM283.6 458.9h1v1h-1zM293.5 466.2h1v1h-1zM301.5 460.6h1v1h-1zM288.5 454.4h1v1h-1zM297.7 460.0h1v1h-1zM285.9 456.5h1v1h-1zM293.5 456.2h1v1h-1zM305.8 465.9h1v1h-1zM303.8 460.6h1v1h-1zM289.8 455.4h1v1h-1zM304.2 459.3h1v1h-1zM302.5 459.3h1v1h-1zM297.5 459.5h1v1h-1zM292.0 461.4h1v1h-1zM302.0 455.4h1v1h-1zM293.9 469.4h1v1h-1zM291.6 452.9h1v1h-1zM302.4 456.4h1v1h-1zM289.4 451.3h1v1h-1zM299.6 457.7h1v1h-1zM305.6 456.8h1v1h-1zM289.4 461.7h1v1h-1zM295.7 450.7h1v1h-1zM298.4 461.7h1v1h-1zM281.2 449.5h1v1h-1zM290.7 468.5h1v1h-1zM290.2 456.8h1v1h-1zM290.3 468.3h1v1h-1zM287.8 470.3h1v1h-1zM303.9 452.9h1v1h-1zM287.4 473.5h1v1h-1zM293.4 460.7h1v1h-1zM298.6 446.0h1v1h-1zM305.9 461.9h1v1h-1zM282.2 461.7h1v1h-1zM284.4 471.7h1v1h-1zM286.2 448.0h1v1h-1zM301.1 459.6h1v1h-1zM293.1 456.8h1v1h-1zM295.2 453.8h1v1h-1zM305.6 460.0h1v1h-1zM291.7 471.7h1v1h-1zM295.4 459.7h1v1h-1zM308.9 466.1h1v1h-1zM300.0 455.3h1v1h-1zM289.6 451.3h1v1h-1zM289.3 457.0h1v1h-1zM302.5 472.2h1v1h-1zM285.6 469.0h1v1h-1zM287.6 465.3h1v1h-1zM300.2 458.0h1v1h-1zM304.2 462.5h1v1h-1zM306.8 464.2h1v1h-1zM286.9 450.1h1v1h-1zM298.1 458.2h1v1h-1zM287.9 451.2h1v1h-1zM316.3 461.6h1v1h-1zM306.0 456.9h1v1h-1zM299.7 457.8h1v1h-1zM287.4 466.5h1v1h-1zM285.0 454.8h1v1h-1zM302.7 465.2h1v1h-1zM293.3 459.9h1v1h-1zM288.4 467.3h1v1h-1zM299.9 454.5h1v1h-1zM299.6 467.9h1v1h-1zM289.2 459.9h1v1h-1zM291.2 456.5h1v1h-1zM311.1 455.2h1v1h-1zM287.2 446.8h1v1h-1zM302.1 466.5h1v1h-1zM289.2 454.9h1v1h-1zM288.1 467.9h1v1h-1zM286.7 475.4h1v1h-1zM293.6 449.2h1v1h-1zM294.4 461.8h1v1h-1zM300.1 455.2h1v1h-1zM289.0 460.6h1v1h-1zM297.6 462.8h1v1h-1zM290.3 451.6h1v1h-1zM289.0 466.7h1v1h-1zM299.3 458.6h1v1h-1zM297.9 470.7h1v1h-1zM283.1 460.0h1v1h-1zM295.6 461.2h1v1h-1zM280.7 460.1h1v1h-1zM286.4 478.6h1v1h-1zM306.5 456.8h1v1h-1zM292.9 466.3h1v1h-1zM298.8 460.5h1v1h-1zM303.8 465.7h1v1h-1zM307.2 467.9h1v1h-1zM307.1 470.0h1v1h-1zM288.5 461.6h1v1h-1zM293.8 463.1h1v1h-1zM295.0 467.4h1v1h-1zM288.5 451.0h1v1h-1zM297.1 472.6h1v1h-1zM292.5 452.7h1v1h-1zM289.5 461.5h1v1h-1zM285.3 467.8h1v1h-1zM289.7 456.7h1v1h-1zM293.8 456.7h1v1h-1zM291.6 470.1h1v1h-1zM302.5 469.9h1v1h-1zM300.1 450.7h1v1h-1zM284.3 459.7h1v1h-1zM301.0 462.7h1v1h-1zM294.2 469.7h1v1h-1zM299.7 462.9h1v1h-1zM289.1 466.3h1v1h-1zM300.7 463.1h1v1h-1zM288.6 465.5h1v1h-1zM301.6 477.5h1v1h-1zM293.8 464.6h1v1h-1zM292.1 463.5h1v1h-1zM284.1 450.3h1v1h-1zM281.9 453.4h1v1h-1zM300.5 451.0h1v1h-1zM285.6 459.8h1v1h-1zM285.2 458.0h1v1h-1zM297.0 455.2h1v1h-1zM294.1 464.6h1v1h-1zM298.4 449.9h1v1h-1zM284.2 461.3h1v1h-1zM278.1 459.0h1v1h-1zM287.2 454.6h1v1h-1zM301.5 454.1h1v1h-1zM293.7 456.7h1v1h-1zM297.3 465.2h1v1h-1zM297.9 466.1h1v1h-1zM295.2 450.0h1v1h-1zM295.3 460.4h1v1h-1zM292.4 455.5h1v1h-1zM295.6 466.3h1v1h-1zM296.4 468.1h1v1h-1zM289.1 465.8h1v1h-1zM298.5 463.6h1v1h-1zM294.0 464.6h1v1h-1zM293.4 448.5h1v1h-1zM292.8 463.1h1v1h-1zM300.6 462.1h1v1h-1zM292.9 459.0h1v1h-1zM302.9 455.3h1v1h-1zM286.5 452.1h1v1h-1zM298.3 454.6h1v1h-1zM282.5 456.0h1v1h-1zM290.2 459.4h1v1h-1zM290.6 461.5h1v1h-1zM286.2 470.6h1v1h-1zM293.8 470.8h1v1h-1zM298.1 463.4h1v1h-1zM280.3 460.7h1v1h-1zM293.0 460.4h1v1h-1zM295.4 466.0h1v1h-1zM298.5 467.1h1v1h-1zM296.6 450.0h1v1h-1zM285.9 465.3h1v1h-1zM301.4 457.1h1v1h-1zM287.5 460.2h1v1h-1zM297.7 457.9h1v1h-1zM295.4 462.6h1v1h-1zM289.6 453.6h1v1h-1zM287.2 460.5h1v1h-1zM292.4 450.4h1v1h-1zM304.7 466.9h1v1h-1zM298.7 465.7h1v1h-1zM289.6 457.7h1v1h-1zM299.4 459.5h1v1h-1zM306.4 456.1h1v1h-1zM310.1 464.8h1v1h-1zM281.2 463.8h1v1h-1zM299.4 457.4h1v1h-1zM300.2 459.0h1v1h-1zM288.0 461.9h1v1h-1zM280.1 455.3h1v1h-1zM303.4 462.1h1v1h-1zM290.5 463.6h1v1h-1zM281.9 476.2h1v1h-1zM286.0 462.6h1v1h-1zM299.5 456.0h1v1h-1zM310.3 468.6h1v1h-1zM301.0 462.6h1v1h-1zM287.6 457.7h1v1h-1zM303.5 466.0h1v1h-1zM280.0 456.8h1v1h-1zM301.4 469.9h1v1h-1zM300.9 465.5h1v1h-1zM307.4 458.5h1v1h-1zM301.4 460.4h1v1h-1zM302.6 474.1h1v1h-1zM294.9 458.8h1v1h-1zM291.6 458.1h1v1h-1zM294.3 465.2h1v1h-1zM308.5 461.8h1v1h-1zM289.9 459.5h1v1h-1zM293.7 465.0h1v1h-1zM290.7 447.6h1v1h-1zM299.2 461.2h1v1h-1zM297.8 469.9h1v1h-1zM309.4 469.4h1v1h-1zM310.5 455.7h1v1h-1zM302.7 460.6h1v1h-1zM300.9 465.8h1v1h-1zM293.2 458.9h1v1h-1zM283.1 463.9h1v1h-1zM295.5 463.7h1v1h-1zM294.5 449.0h1v1h-1zM285.7 465.3h1v1h-1zM295.9 460.8h1v1h-1zM301.5 459.6h1v1h-1zM287.6 458.5h1v1h-1zM300.9 446.3h1v1h-1zM297.3 459.7h1v1h-1zM290.2 466.7h1v1h-1zM295.1 469.1h1v1h-1zM299.9 461.5h1v1h-1zM292.9 459.3h1v1h-1zM293.8 457.9h1v1h-1zM304.1 468.8h1v1h-1zM298.4 474.1h1v1h-1zM298.3 460.7h1v1h-1zM299.5 462.1h1v1h-1zM305.5 470.5h1v1h-1zM287.2 451.7h1v1h-1zM281.8 455.1h1v1h-1zM288.2 450.3h1v1h-1zM293.2 461.8h1v1h-1zM286.7 475.5h1v1h-1zM281.5 467.1h1v1h-1zM306.6 449.8h1v1h-1zM291.1 451.7h1v1h-1zM288.1 463.8h1v1h-1zM301.0 449.1h1v1h-1zM282.5 462.3h1v1h-1zM304.1 454.6h1v1h-1zM298.4 463.2h1v1h-1zM295.8 463.8h1v1h-1zM292.6 462.2h1v1h-1zM301.4 453.2h1v1h-1zM289.9 454.6h1v1h-1zM297.0 458.9h1v1h-1zM290.4 456.1h1v1h-1zM291.8 466.8h1v1h-1zM306.0 467.6h1v1h-1zM302.6 461.3h1v1h-1zM287.1 465.9h1v1h-1zM287.6 469.9h1v1h-1zM294.5 453.9h1v1h-1zM293.2 457.5h1v1h-1zM297.9 472.6h1v1h-1zM291.3 459.0h1v1h-1zM286.3 456.6h1v1h-1zM300.4 460.4h1v1h-1zM292.5 463.2h1v1h-1zM299.3 450.4h1v1h-1zM287.3 460.2h1v1h-1zM305.6 466.4h1v1h-1zM296.2 457.3h1v1h-1zM296.1 456.9h1v1h-1zM297.0 466.2h1v1h-1zM282.2 454.8h1v1h-1zM299.5 451.8h1v1h-1zM290.2 458.8h1v1h-1zM285.6 464.5h1v1h-1zM297.1 458.0h1v1h-1zM288.8 455.0h1v1h-1zM305.9 462.3h1v1h-1zM277.4 470.9h1v1h-1zM296.4 459.2h1v1h-1zM289.6 476.1h1v1h-1zM296.0 453.2h1v1h-1zM310.4 456.2h1v1h-1zM299.3 460.5h1v1h-1zM282.8 465.0h1v1h-1zM305.2 457.9h1v1h-1zM286.1 464.2h1v1h-1zM289.8 458.0h1v1h-1zM287.2 463.1h1v1h-1zM295.1 463.6h1v1h-1zM293.3 461.0h1v1h-1zM306.5 461.3h1v1h-1zM296.8 458.4h1v1h-1zM299.4 455.5h1v1h-1zM293.0 479.3h1v1h-1zM302.7 454.3h1v1h-1zM286.2 469.2h1v1h-1zM283.2 467.1h1v1h-1zM301.0 460.4h1v1h-1zM299.9 460.0h1v1h-1zM294.6 455.5h1v1h-1zM311.3 461.6h1v1h-1zM287.4 453.0h1v1h-1zM305.1 460.3h1v1h-1zM305.9 473.4h1v1h-1zM284.8 468.1h1v1h-1zM298.5 451.4h1v1h-1zM300.3 461.4h1v1h-1zM293.3 457.8h1v1h-1zM293.3 451.4h1v1h-1zM293.9 467.7h1v1h-1zM287.7 448.7h1v1h-1zM283.8 463.5h1v1h-1zM300.3 472.5h1v1h-1zM296.0 470.8h1v1h-1zM294.6 452.4h1v1h-1zM298.3 458.9h1v1h-1zM288.2 459.3h1v1h-1zM289.4 460.1h1v1h-1zM300.5 466.5h1v1h-1zM294.3 464.8h1v1h-1zM298.0 472.2h1v1h-1zM302.5 456.6h1v1h-1zM307.6 463.4h1v1h-1zM287.4 468.8h1v1h-1zM290.0 464.0h1v1h-1zM283.4 448.8h1v1h-1zM289.0 461.6h1v1h-1zM298.1 462.2h1v1h-1zM290.2 461.2h1v1h-1zM310.8 454.7h1v1h-1zM291.0 465.6h1v1h-1zM280.7 461.3h1v1h-1zM287.5 455.5h1v1h-1zM310.1 463.9h1v1h-1zM287.5 460.0h1v1h-1zM293.7 457.2h1v1h-1zM288.0 456.3h1v1h-1zM285.9 453.7h1v1h-1zM364.6 463.8h1v1h-1zM315.3 463.1h1v1h-1zM362.0 454.6h1v1h-1zM315.5 457.0h1v1h-1zM330.9 447.9h1v1h-1zM313.9 457.7h1v1h-1zM315.4 452.4h1v1h-1zM337.2 465.3h1v1h-1zM345.0 460.9h1v1h-1zM336.5 450.1h1v1h-1zM306.2 464.2h1v1h-1zM338.4 459.5h1v1h-1zM342.0 461.4h1v1h-1zM334.8 450.7h1v1h-1zM345.5 458.1h1v1h-1zM348.8 454.1h1v1h-1zM351.2 450.5h1v1h-1zM314.2 451.5h1v1h-1zM364.0 451.8h1v1h-1zM319.5 460.9h1v1h-1zM328.1 456.3h1v1h-1zM354.0 462.0h1v1h-1zM343.9 461.4h1v1h-1zM330.4 460.6h1v1h-1zM317.2 456.0h1v1h-1zM312.8 453.4h1v1h-1zM309.1 449.3h1v1h-1zM342.8 466.0h1v1h-1zM358.9 462.8h1v1h-1zM319.0 456.7h1v1h-1zM313.2 457.4h1v1h-1zM318.4 465.1h1v1h-1zM325.8 452.0h1v1h-1zM337.6 461.6h1v1h-1zM342.2 448.1h1v1h-1zM350.1 458.3h1v1h-1zM355.4 466.0h1v1h-1zM333.5 456.7h1v1h-1zM322.9 449.9h1v1h-1zM307.5 461.8h1v1h-1zM354.0 464.0h1v1h-1zM306.5 455.9h1v1h-1zM346.7 455.9h1v1h-1zM314.5 464.4h1v1h-1zM311.3 452.6h1v1h-1zM312.9 451.1h1v1h-1zM316.3 465.6h1v1h-1zM320.3 464.0h1v1h-1zM365.9 449.5h1v1h-1zM351.7 451.5h1v1h-1zM364.4 462.6h1v1h-1zM311.4 452.8h1v1h-1zM315.3 456.1h1v1h-1zM314.2 454.4h1v1h-1zM311.9 462.4h1v1h-1zM325.2 452.8h1v1h-1zM335.7 460.1h1v1h-1zM311.8 461.2h1v1h-1zM349.3 452.3h1v1h-1zM333.3 461.0h1v1h-1zM311.1 452.5h1v1h-1zM328.5 465.5h1v1h-1zM306.5 465.0h1v1h-1zM319.3 453.9h1v1h-1zM323.6 448.8h1v1h-1zM336.3 447.5h1v1h-1zM326.5 456.4h1v1h-1zM334.1 457.6h1v1h-1zM362.8 455.2h1v1h-1zM338.0 447.7h1v1h-1zM332.0 463.7h1v1h-1zM309.3 463.2h1v1h-1zM354.3 464.1h1v1h-1zM324.6 453.0h1v1h-1zM322.6 456.3h1v1h-1zM337.8 459.6h1v1h-1zM313.7 464.4h1v1h-1zM308.0 461.5h1v1h-1zM334.7 448.7h1v1h-1zM312.7 452.8h1v1h-1zM307.7 460.4h1v1h-1zM326.5 463.5h1v1h-1zM363.2 454.1h1v1h-1zM340.8 448.2h1v1h-1zM314.2 455.5h1v1h-1zM356.4 457.3h1v1h-1zM338.6 463.7h1v1h-1zM346.1 449.4h1v1h-1zM345.5 453.7h1v1h-1zM341.7 450.4h1v1h-1zM326.3 452.3h1v1h-1zM337.4 457.6h1v1h-1zM330.5 462.8h1v1h-1zM315.6 461.9h1v1h-1zM322.4 463.6h1v1h-1zM325.9 463.0h1v1h-1zM315.3 459.3h1v1h-1zM348.2 460.7h1v1h-1zM330.9 448.4h1v1h-1zM319.2 458.6h1v1h-1zM331.1 452.8h1v1h-1zM339.6 456.1h1v1h-1zM306.4 452.8h1v1h-1zM346.7 449.7h1v1h-1zM328.2 457.8h1v1h-1zM321.2 452.1h1v1h-1zM306.6 457.0h1v1h-1zM326.2 457.3h1v1h-1zM330.3 451.1h1v1h-1zM343.2 449.6h1v1h-1zM350.9 453.4h1v1h-1zM317.0 457.5h1v1h-1zM311.7 459.0h1v1h-1zM308.8 453.8h1v1h-1zM309.1 459.2h1v1h-1zM315.8 455.3h1v1h-1zM347.5 449.2h1v1h-1zM340.1 449.4h1v1h-1zM323.9 456.3h1v1h-1zM324.5 450.3h1v1h-1zM312.2 457.0h1v1h-1zM330.0 460.2h1v1h-1zM345.2 449.5h1v1h-1zM317.4 456.1h1v1h-1zM306.1 461.0h1v1h-1zM341.4 455.4h1v1h-1zM315.0 458.2h1v1h-1zM313.9 451.7h1v1h-1zM307.5 451.6h1v1h-1zM324.1 451.0h1v1h-1zM361.1 457.5h1v1h-1zM318.5 463.7h1v1h-1zM339.3 465.3h1v1h-1zM322.9 452.8h1v1h-1zM307.5 464.9h1v1h-1zM352.6 464.2h1v1h-1zM340.9 462.3h1v1h-1zM341.3 449.0h1v1h-1zM361.4 459.3h1v1h-1zM321.0 461.3h1v1h-1zM306.9 464.1h1v1h-1zM310.3 456.1h1v1h-1zM321.0 450.6h1v1h-1zM321.9 459.5h1v1h-1zM316.0 452.6h1v1h-1zM314.3 458.5h1v1h-1zM318.6 453.3h1v1h-1zM310.5 451.1h1v1h-1zM344.7 448.0h1v1h-1zM365.2 465.3h1v1h-1zM314.8 454.6h1v1h-1zM322.5 454.9h1v1h-1zM309.9 462.3h1v1h-1zM326.7 449.4h1v1h-1zM313.7 456.7h1v1h-1zM314.9 455.7h1v1h-1zM362.8 458.9h1v1h-1zM362.5 452.7h1v1h-1zM314.6 448.5h1v1h-1zM312.8 455.6h1v1h-1zM365.8 454.6h1v1h-1zM313.8 465.2h1v1h-1zM306.9 451.5h1v1h-1zM314.3 461.8h1v1h-1zM320.9 453.5h1v1h-1zM307.2 455.8h1v1h-1zM316.9 451.1h1v1h-1zM311.3 464.4h1v1h-1zM324.9 448.9h1v1h-1zM334.3 462.1h1v1h-1zM311.1 453.7h1v1h-1zM345.3 457.1h1v1h-1zM313.6 455.6h1v1h-1zM363.7 453.4h1v1h-1zM310.4 455.1h1v1h-1zM355.7 449.5h1v1h-1zM336.1 452.9h1v1h-1zM310.9 454.6h1v1h-1zM317.4 459.1h1v1h-1zM313.1 449.4h1v1h-1zM341.1 454.8h1v1h-1zM324.7 448.4h1v1h-1zM350.9 464.8h1v1h-1zM350.6 449.4h1v1h-1zM313.2 463.9h1v1h-1zM339.4 460.5h1v1h-1zM312.6 460.0h1v1h-1zM315.2 458.3h1v1h-1zM317.9 453.9h1v1h-1zM326.7 465.4h1v1h-1zM311.7 449.3h1v1h-1zM306.5 465.4h1v1h-1zM323.3 458.5h1v1h-1zM326.1 465.8h1v1h-1zM308.3 448.0h1v1h-1zM311.0 456.1h1v1h-1zM307.1 452.5h1v1h-1zM312.5 455.8h1v1h-1zM365.2 453.3h1v1h-1zM332.8 464.9h1v1h-1zM346.3 455.8h1v1h-1zM316.3 453.7h1v1h-1zM323.2 465.5h1v1h-1zM340.7 449.2h1v1h-1zM352.1 452.4h1v1h-1zM320.4 456.2h1v1h-1zM329.9 461.4h1v1h-1zM309.9 457.4h1v1h-1zM333.7 463.3h1v1h-1zM307.4 458.7h1v1h-1zM310.9 457.4h1v1h-1zM314.4 449.1h1v1h-1zM321.4 448.5h1v1h-1zM364.4 449.0h1v1h-1zM335.0 460.4h1v1h-1zM321.1 454.1h1v1h-1zM325.7 465.6h1v1h-1zM311.7 450.9h1v1h-1zM362.8 448.8h1v1h-1zM325.8 447.9h1v1h-1zM323.2 456.7h1v1h-1zM320.3 455.2h1v1h-1zM321.8 450.7h1v1h-1zM323.7 465.4h1v1h-1zM333.6 455.5h1v1h-1zM332.3 462.7h1v1h-1zM326.6 450.5h1v1h-1zM309.7 452.3h1v1h-1zM311.1 454.3h1v1h-1zM337.2 460.6h1v1h-1zM306.2 451.8h1v1h-1zM332.1 456.4h1v1h-1zM319.6 460.4h1v1h-1zM307.4 458.7h1v1h-1zM345.4 453.2h1v1h-1zM325.8 452.8h1v1h-1zM337.6 450.5h1v1h-1zM313.6 463.5h1v1h-1zM353.7 453.6h1v1h-1zM347.9 456.0h1v1h-1zM353.3 455.4h1v1h-1zM311.1 448.0h1v1h-1zM365.1 450.5h1v1h-1zM345.0 454.5h1v1h-1zM342.9 458.0h1v1h-1zM318.8 450.9h1v1h-1zM320.9 455.5h1v1h-1zM316.6 452.3h1v1h-1zM319.3 451.6h1v1h-1zM317.3 460.1h1v1h-1zM312.6 457.0h1v1h-1zM311.8 452.4h1v1h-1zM308.0 456.0h1v1h-1zM323.0 464.4h1v1h-1zM346.3 452.4h1v1h-1zM316.4 450.3h1v1h-1zM310.4 459.9h1v1h-1zM312.5 460.5h1v1h-1zM317.8 449.9h1v1h-1zM335.8 454.6h1v1h-1zM314.0 461.7h1v1h-1zM312.9 456.2h1v1h-1zM321.5 447.7h1v1h-1zM323.7 458.2h1v1h-1zM320.9 450.9h1v1h-1zM316.9 448.3h1v1h-1zM336.3 459.4h1v1h-1zM313.7 462.3h1v1h-1zM327.0 449.7h1v1h-1zM328.0 458.5h1v1h-1zM315.7 465.0h1v1h-1zM320.7 459.1h1v1h-1zM328.8 463.8h1v1h-1zM308.9 456.3h1v1h-1zM335.9 464.5h1v1h-1zM326.2 455.9h1v1h-1zM319.8 465.3h1v1h-1zM328.2 450.0h1v1h-1zM339.4 459.7h1v1h-1zM344.5 462.5h1v1h-1zM327.6 458.9h1v1h-1zM307.8 463.9h1v1h-1zM357.5 464.4h1v1h-1zM308.8 465.3h1v1h-1zM307.6 456.0h1v1h-1zM319.9 453.8h1v1h-1zM307.9 456.3h1v1h-1zM324.3 458.0h1v1h-1zM344.6 460.5h1v1h-1zM315.3 455.5h1v1h-1zM320.0 462.0h1v1h-1zM314.1 453.4h1v1h-1zM311.4 464.7h1v1h-1zM311.2 457.1h1v1h-1zM318.3 453.8h1v1h-1zM324.8 451.7h1v1h-1zM355.6 450.9h1v1h-1zM358.9 448.4h1v1h-1zM315.1 464.8h1v1h-1zM310.1 452.4h1v1h-1zM315.8 447.8h1v1h-1zM306.5 461.1h1v1h-1zM310.5 451.8h1v1h-1zM353.5 448.5h1v1h-1zM335.4 460.0h1v1h-1zM364.9 458.4h1v1h-1zM355.2 461.9h1v1h-1zM329.5 447.9h1v1h-1zM326.1 455.5h1v1h-1zM316.0 461.4h1v1h-1zM332.1 454.4h1v1h-1zM346.8 457.5h1v1h-1zM320.3 456.0h1v1h-1zM356.3 456.9h1v1h-1zM334.3 463.9h1v1h-1zM306.1 454.0h1v1h-1zM319.1 456.0h1v1h-1zM345.3 456.6h1v1h-1zM335.0 448.5h1v1h-1zM349.9 465.9h1v1h-1zM342.8 452.6h1v1h-1zM313.4 459.5h1v1h-1zM317.6 458.4h1v1h-1zM349.0 459.3h1v1h-1zM307.2 457.3h1v1h-1zM338.8 463.5h1v1h-1zM320.4 455.2h1v1h-1zM331.3 453.3h1v1h-1zM336.9 453.5h1v1h-1zM309.0 448.9h1v1h-1zM340.3 455.6h1v1h-1zM319.6 451.3h1v1h-1zM316.9 453.2h1v1h-1zM330.3 448.4h1v1h-1zM309.7 460.7h1v1h-1zM330.5 463.6h1v1h-1zM307.3 464.3h1v1h-1zM309.2 447.8h1v1h-1zM321.1 459.0h1v1h-1zM363.2 448.0h1v1h-1zM316.0 460.4h1v1h-1zM320.1 459.8h1v1h-1zM325.2 453.6h1v1h-1zM311.6 447.6h1v1h-1zM339.9 459.6h1v1h-1zM365.8 448.1h1v1h-1zM309.8 455.3h1v1h-1zM337.2 464.1h1v1h-1zM332.2 465.7h1v1h-1zM315.3 455.3h1v1h-1zM337.8 462.7h1v1h-1zM331.1 448.0h1v1h-1zM315.5 455.6h1v1h-1zM308.5 460.4h1v1h-1zM321.8 457.6h1v1h-1zM314.2 455.4h1v1h-1zM348.1 459.4h1v1h-1zM317.2 454.5h1v1h-1zM315.7 461.0h1v1h-1zM308.9 461.4h1v1h-1zM333.0 449.5h1v1h-1zM341.6 459.0h1v1h-1zM335.6 464.6h1v1h-1zM329.0 463.8h1v1h-1zM335.0 454.3h1v1h-1zM334.3 450.5h1v1h-1zM343.0 458.5h1v1h-1zM337.7 462.7h1v1h-1zM307.5 463.1h1v1h-1zM334.4 455.0h1v1h-1zM312.0 448.2h1v1h-1zM347.7 461.3h1v1h-1zM319.7 459.1h1v1h-1zM356.4 460.2h1v1h-1zM312.0 453.5h1v1h-1zM306.5 449.3h1v1h-1zM341.4 454.3h1v1h-1zM312.2 448.1h1v1h-1zM307.9 463.3h1v1h-1zM311.1 459.0h1v1h-1zM315.8 461.8h1v1h-1zM308.9 451.9h1v1h-1zM313.6 464.5h1v1h-1zM329.6 453.9h1v1h-1zM306.4 461.1h1v1h-1zM343.9 454.1h1v1h-1zM313.6 456.3h1v1h-1zM307.1 451.2h1v1h-1zM308.2 459.7h1v1h-1zM336.8 461.3h1v1h-1zM329.7 454.7h1v1h-1zM325.0 448.6h1v1h-1zM322.6 461.8h1v1h-1zM317.5 463.2h1v1h-1zM311.6 456.5h1v1h-1zM313.5 448.0h1v1h-1zM351.2 448.1h1v1h-1zM323.3 464.5h1v1h-1zM315.5 454.6h1v1h-1zM313.6 450.1h1v1h-1zM314.2 463.8h1v1h-1zM321.9 453.9h1v1h-1zM309.8 454.9h1v1h-1zM335.0 464.5h1v1h-1zM311.5 448.2h1v1h-1zM361.1 450.7h1v1h-1zM312.7 450.5h1v1h-1zM332.3 457.9h1v1h-1zM312.6 448.3h1v1h-1zM333.0 451.3h1v1h-1zM322.7 450.0h1v1h-1zM334.1 452.5h1v1h-1zM307.8 463.9h1v1h-1zM312.9 452.0h1v1h-1zM330.1 448.6h1v1h-1zM329.2 452.5h1v1h-1zM307.9 458.7h1v1h-1zM310.6 448.2h1v1h-1zM339.8 463.6h1v1h-1zM328.4 464.6h1v1h-1zM327.1 464.1h1v1h-1zM321.0 450.4h1v1h-1zM329.8 460.4h1v1h-1zM322.8 451.2h1v1h-1zM313.0 462.6h1v1h-1zM354.1 455.5h1v1h-1zM311.8 453.1h1v1h-1zM324.1 465.3h1v1h-1zM306.5 461.8h1v1h-1zM326.2 451.1h1v1h-1zM318.9 454.9h1v1h-1zM306.5 461.7h1v1h-1zM312.1 454.9h1v1h-1zM313.0 451.0h1v1h-1zM307.4 447.7h1v1h-1zM313.2 463.1h1v1h-1zM310.6 456.0h1v1h-1zM318.6 458.4h1v1h-1zM312.5 461.5h1v1h-1zM312.8 452.0h1v1h-1zM332.7 461.0h1v1h-1zM337.1 453.7h1v1h-1zM333.3 448.4h1v1h-1zM323.7 447.8h1v1h-1zM324.1 449.0h1v1h-1zM313.9 460.8h1v1h-1zM307.7 453.0h1v1h-1zM319.0 448.0h1v1h-1zM317.0 462.6h1v1h-1zM319.6 452.6h1v1h-1zM365.2 456.3h1v1h-1zM324.8 454.7h1v1h-1zM306.0 449.8h1v1h-1zM328.6 459.7h1v1h-1zM316.4 458.2h1v1h-1zM332.8 465.4h1v1h-1zM335.7 460.2h1v1h-1zM330.8 448.0h1v1h-1zM327.8 450.0h1v1h-1zM354.9 464.9h1v1h-1zM310.2 464.8h1v1h-1zM336.6 451.3h1v1h-1zM344.9 459.1h1v1h-1zM331.2 454.5h1v1h-1zM354.2 459.5h1v1h-1zM342.3 458.2h1v1h-1zM318.5 450.1h1v1h-1zM363.7 455.4h1v1h-1zM337.2 451.8h1v1h-1zM330.2 458.6h1v1h-1zM318.3 458.9h1v1h-1zM311.5 463.8h1v1h-1zM317.5 458.7h1v1h-1zM317.1 464.8h1v1h-1zM307.7 452.9h1v1h-1zM315.2 451.2h1v1h-1zM337.0 459.4h1v1h-1zM315.9 457.1h1v1h-1zM324.4 457.1h1v1h-1zM307.5 453.0h1v1h-1zM315.7 456.3h1v1h-1zM309.8 459.3h1v1h-1zM330.4 450.1h1v1h-1zM349.8 463.9h1v1h-1zM307.9 459.3h1v1h-1zM332.3 457.6h1v1h-1zM332.7 453.4h1v1h-1zM310.8 464.2h1v1h-1zM324.4 451.5h1v1h-1zM331.1 463.3h1v1h-1zM337.1 465.9h1v1h-1zM338.8 457.6h1v1h-1zM317.6 458.2h1v1h-1zM307.2 460.5h1v1h-1zM316.4 458.4h1v1h-1zM306.1 450.1h1v1h-1zM317.4 457.8h1v1h-1zM306.9 456.7h1v1h-1zM314.9 458.5h1v1h-1zM308.7 457.1h1v1h-1zM307.9 456.7h1v1h-1zM306.7 463.5h1v1h-1zM336.2 450.8h1v1h-1zM365.6 450.0h1v1h-1zM315.8 453.5h1v1h-1zM314.6 461.6h1v1h-1zM313.0 463.2h1v1h-1zM314.0 465.2h1v1h-1zM339.9 447.8h1v1h-1zM333.0 449.2h1v1h-1zM306.7 452.8h1v1h-1zM309.3 456.7h1v1h-1zM318.8 455.7h1v1h-1zM329.9 453.6h1v1h-1zM346.5 451.7h1v1h-1zM328.7 448.3h1v1h-1zM318.7 449.8h1v1h-1zM307.1 456.3h1v1h-1zM319.1 449.4h1v1h-1zM310.3 459.2h1v1h-1zM328.7 452.2h1v1h-1zM309.9 453.9h1v1h-1zM315.2 455.6h1v1h-1zM314.4 464.2h1v1h-1zM332.1 459.0h1v1h-1zM343.2 462.7h1v1h-1zM316.4 447.8h1v1h-1zM339.8 447.7h1v1h-1zM309.7 448.6h1v1h-1zM359.5 457.1h1v1h-1zM320.7 457.1h1v1h-1zM316.2 448.6h1v1h-1zM318.1 448.0h1v1h-1zM318.6 453.5h1v1h-1zM343.3 454.1h1v1h-1zM350.3 448.2h1v1h-1zM325.6 450.9h1v1h-1zM333.5 451.4h1v1h-1zM311.9 449.2h1v1h-1zM324.2 461.7h1v1h-1zM336.0 453.9h1v1h-1zM351.2 461.5h1v1h-1zM343.8 452.7h1v1h-1zM331.9 463.1h1v1h-1zM334.4 463.6h1v1h-1zM327.5 450.1h1v1h-1zM308.4 451.5h1v1h-1zM347.6 459.0h1v1h-1zM335.5 449.8h1v1h-1zM359.1 448.7h1v1h-1zM346.6 456.8h1v1h-1zM312.8 466.0h1v1h-1zM333.6 460.5h1v1h-1zM328.9 456.7h1v1h-1zM321.0 453.3h1v1h-1zM316.9 448.5h1v1h-1zM336.2 464.8h1v1h-1zM353.9 463.2h1v1h-1zM315.4 465.4h1v1h-1zM315.4 462.5h1v1h-1zM332.8 455.1h1v1h-1zM322.6 460.4h1v1h-1zM341.7 447.9h1v1h-1zM341.2 462.2h1v1h-1zM308.6 456.4h1v1h-1zM339.8 455.7h1v1h-1zM347.5 454.8h1v1h-1zM308.5 465.1h1v1h-1zM360.3 464.0h1v1h-1zM325.7 464.6h1v1h-1zM337.6 453.4h1v1h-1zM320.4 447.8h1v1h-1zM363.8 458.2h1v1h-1zM329.1 454.6h1v1h-1zM341.8 455.3h1v1h-1zM351.5 448.2h1v1h-1zM365.1 465.7h1v1h-1zM327.5 453.5h1v1h-1zM340.9 465.1h1v1h-1zM342.3 452.5h1v1h-1zM360.0 463.0h1v1h-1zM327.0 464.9h1v1h-1zM358.8 451.9h1v1h-1zM322.9 464.7h1v1h-1zM331.8 465.0h1v1h-1zM321.9 464.1h1v1h-1zM340.1 465.5h1v1h-1zM317.5 456.6h1v1h-1zM313.0 457.6h1v1h-1zM324.2 459.6h1v1h-1zM317.8 448.0h1v1h-1zM306.1 455.3h1v1h-1zM332.6 465.4h1v1h-1zM350.5 456.9h1v1h-1zM320.2 462.6h1v1h-1zM312.2 461.8h1v1h-1zM308.9 454.9h1v1h-1zM311.8 452.4h1v1h-1zM317.3 454.7h1v1h-1zM309.4 461.0h1v1h-1zM309.2 457.5h1v1h-1zM306.8 464.3h1v1h-1zM343.7 464.0h1v1h-1zM322.4 453.1h1v1h-1zM316.3 452.0h1v1h-1zM322.6 462.7h1v1h-1zM318.8 448.9h1v1h-1zM338.4 450.7h1v1h-1zM306.8 454.2h1v1h-1zM307.9 456.2h1v1h-1zM337.0 457.4h1v1h-1zM315.6 462.9h1v1h-1zM333.6 455.5h1v1h-1zM320.2 453.9h1v1h-1zM332.6 457.1h1v1h-1zM308.4 457.7h1v1h-1zM309.7 455.9h1v1h-1zM313.9 452.4h1v1h-1zM355.4 455.6h1v1h-1zM311.8 459.8h1v1h-1zM313.0 452.0h1v1h-1zM312.9 457.9h1v1h-1zM308.5 465.7h1v1h-1zM316.5 448.9h1v1h-1zM306.1 464.0h1v1h-1zM332.6 452.7h1v1h-1zM343.0 453.1h1v1h-1zM308.0 447.9h1v1h-1zM309.6 460.1h1v1h-1zM315.0 461.3h1v1h-1zM308.0 450.4h1v1h-1zM318.3 456.4h1v1h-1zM306.4 455.3h1v1h-1zM325.3 458.5h1v1h-1zM312.5 465.5h1v1h-1zM318.4 461.7h1v1h-1zM316.4 464.6h1v1h-1zM338.6 453.9h1v1h-1zM325.7 457.6h1v1h-1zM349.9 465.5h1v1h-1zM334.3 448.3h1v1h-1zM348.9 465.5h1v1h-1zM321.2 456.9h1v1h-1zM308.4 451.3h1v1h-1zM360.2 452.5h1v1h-1zM347.1 450.8h1v1h-1zM317.9 452.9h1v1h-1zM358.5 454.0h1v1h-1zM321.8 462.7h1v1h-1zM313.9 452.1h1v1h-1zM328.8 455.0h1v1h-1zM316.1 450.8h1v1h-1zM332.7 447.9h1v1h-1zM337.6 463.6h1v1h-1zM306.2 459.1h1v1h-1zM306.5 455.5h1v1h-1zM317.7 450.3h1v1h-1zM325.5 464.7h1v1h-1zM321.8 454.0h1v1h-1zM352.6 456.9h1v1h-1zM322.2 458.7h1v1h-1zM311.4 463.6h1v1h-1zM321.1 456.6h1v1h-1zM332.0 452.2h1v1h-1zM326.2 448.1h1v1h-1zM314.9 455.9h1v1h-1zM346.1 458.0h1v1h-1zM333.1 455.4h1v1h-1zM353.9 447.6h1v1h-1zM354.9 451.5h1v1h-1zM319.6 461.9h1v1h-1zM314.6 463.0h1v1h-1zM325.0 463.7h1v1h-1zM319.9 465.0h1v1h-1zM330.3 463.0h1v1h-1zM321.8 449.1h1v1h-1zM326.3 455.9h1v1h-1zM321.1 457.6h1v1h-1zM312.2 447.8h1v1h-1zM322.7 459.6h1v1h-1zM332.0 447.9h1v1h-1zM315.1 458.5h1v1h-1zM314.3 457.8h1v1h-1zM348.1 457.1h1v1h-1zM342.3 453.6h1v1h-1zM326.1 448.3h1v1h-1zM311.9 455.6h1v1h-1zM311.4 464.2h1v1h-1zM307.1 450.6h1v1h-1zM309.4 452.4h1v1h-1zM307.0 462.4h1v1h-1zM336.9 460.2h1v1h-1zM319.8 448.0h1v1h-1zM310.0 455.9h1v1h-1zM363.8 451.2h1v1h-1zM316.3 463.0h1v1h-1zM314.4 458.8h1v1h-1zM320.1 457.0h1v1h-1zM356.9 455.5h1v1h-1zM365.2 459.4h1v1h-1zM307.4 463.1h1v1h-1zM306.5 465.8h1v1h-1zM348.7 455.8h1v1h-1zM313.9 462.8h1v1h-1zM319.0 464.6h1v1h-1zM345.6 450.3h1v1h-1zM310.0 453.4h1v1h-1zM313.7 459.5h1v1h-1zM316.0 461.6h1v1h-1zM334.8 462.5h1v1h-1zM314.0 452.2h1v1h-1zM337.9 458.8h1v1h-1zM331.3 453.6h1v1h-1zM325.3 462.8h1v1h-1zM344.7 457.8h1v1h-1zM364.8 463.3h1v1h-1zM320.8 453.1h1v1h-1zM306.6 460.7h1v1h-1zM307.1 448.9h1v1h-1zM323.1 464.2h1v1h-1zM306.7 450.0h1v1h-1zM309.1 465.2h1v1h-1zM314.4 462.8h1v1h-1zM333.3 456.4h1v1h-1zM313.7 454.0h1v1h-1zM318.2 452.6h1v1h-1zM332.3 454.5h1v1h-1zM324.4 462.2h1v1h-1zM325.8 459.0h1v1h-1zM345.5 456.5h1v1h-1zM307.6 460.6h1v1h-1zM346.5 458.4h1v1h-1zM310.4 461.5h1v1h-1zM338.2 455.8h1v1h-1zM339.5 454.1h1v1h-1zM337.4 457.0h1v1h-1zM313.3 448.3h1v1h-1zM346.3 457.2h1v1h-1zM329.6 450.6h1v1h-1zM317.8 464.1h1v1h-1zM308.1 462.6h1v1h-1zM314.9 450.8h1v1h-1zM317.0 455.4h1v1h-1zM317.3 449.0h1v1h-1zM309.2 453.2h1v1h-1zM363.8 453.4h1v1h-1zM320.3 465.3h1v1h-1zM339.3 452.5h1v1h-1zM308.1 463.2h1v1h-1zM316.8 453.7h1v1h-1zM326.0 450.9h1v1h-1zM313.7 463.2h1v1h-1zM307.6 447.7h1v1h-1zM362.1 454.4h1v1h-1zM335.7 465.2h1v1h-1zM323.3 461.5h1v1h-1zM311.1 460.6h1v1h-1zM307.9 465.1h1v1h-1zM311.9 452.9h1v1h-1zM318.0 448.9h1v1h-1zM331.2 453.7h1v1h-1zM325.5 448.5h1v1h-1zM330.5 463.9h1v1h-1zM330.6 461.7h1v1h-1zM356.2 448.0h1v1h-1zM342.4 459.1h1v1h-1zM338.5 463.1h1v1h-1zM320.2 459.0h1v1h-1zM339.6 465.1h1v1h-1zM333.8 453.0h1v1h-1zM347.2 463.9h1v1h-1zM363.8 462.5h1v1h-1zM337.6 462.0h1v1h-1zM311.1 453.6h1v1h-1zM356.2 453.5h1v1h-1zM358.0 462.6h1v1h-1zM318.3 465.5h1v1h-1zM311.9 461.1h1v1h-1zM341.2 448.7h1v1h-1zM319.8 465.4h1v1h-1zM309.9 458.0h1v1h-1zM343.7 454.0h1v1h-1zM317.6 465.2h1v1h-1zM315.6 458.8h1v1h-1zM313.0 453.1h1v1h-1zM318.0 463.1h1v1h-1zM309.0 455.5h1v1h-1zM307.2 458.6h1v1h-1zM338.9 452.3h1v1h-1zM313.0 458.9h1v1h-1zM363.6 455.2h1v1h-1zM335.4 452.2h1v1h-1zM350.0 462.0h1v1h-1zM312.7 455.4h1v1h-1zM315.6 448.5h1v1h-1zM321.6 465.4h1v1h-1zM329.5 450.1h1v1h-1zM320.4 453.2h1v1h-1zM339.0 452.6h1v1h-1zM314.1 459.0h1v1h-1zM292.9 477.3h1v1h-1zM304.2 498.0h1v1h-1zM293.4 473.8h1v1h-1zM301.5 496.8h1v1h-1zM286.3 470.4h1v1h-1zM290.7 476.8h1v1h-1zM305.5 487.2h1v1h-1zM296.4 489.4h1v1h-1zM294.5 477.0h1v1h-1zM285.3 490.5h1v1h-1zM302.6 491.1h1v1h-1zM304.9 483.2h1v1h-1zM285.3 470.4h1v1h-1zM298.6 489.3h1v1h-1zM291.7 491.5h1v1h-1zM304.3 473.1h1v1h-1zM305.6 477.7h1v1h-1zM302.0 473.7h1v1h-1zM297.0 492.0h1v1h-1zM287.5 474.4h1v1h-1zM290.8 478.9h1v1h-1zM299.8 476.6h1v1h-1zM285.9 477.2h1v1h-1zM287.6 481.9h1v1h-1zM296.7 471.3h1v1h-1zM300.8 470.8h1v1h-1zM287.6 475.2h1v1h-1zM290.3 482.0h1v1h-1zM291.8 472.8h1v1h-1zM289.0 477.0h1v1h-1zM301.7 473.1h1v1h-1zM292.6 471.6h1v1h-1zM298.0 490.3h1v1h-1zM295.7 497.3h1v1h-1zM295.3 473.1h1v1h-1zM296.3 485.2h1v1h-1zM290.5 496.6h1v1h-1zM293.3 485.8h1v1h-1zM292.7 498.4h1v1h-1zM293.7 470.5h1v1h-1zM298.2 472.0h1v1h-1zM294.0 505.1h1v1h-1zM289.3 474.0h1v1h-1zM295.0 472.1h1v1h-1zM305.9 491.3h1v1h-1zM288.2 475.4h1v1h-1zM289.9 479.6h1v1h-1zM294.0 474.2h1v1h-1zM286.1 479.0h1v1h-1zM299.2 487.9h1v1h-1zM290.8 472.9h1v1h-1zM285.6 484.1h1v1h-1zM288.4 479.8h1v1h-1zM297.4 494.9h1v1h-1zM288.9 476.2h1v1h-1zM285.6 473.2h1v1h-1zM294.5 472.9h1v1h-1zM299.7 485.3h1v1h-1zM297.7 474.0h1v1h-1zM286.3 493.3h1v1h-1zM292.6 481.2h1v1h-1zM286.5 473.0h1v1h-1zM303.1 480.8h1v1h-1zM306.0 471.1h1v1h-1zM286.5 476.4h1v1h-1zM301.7 477.0h1v1h-1zM286.7 477.7h1v1h-1zM295.2 481.5h1v1h-1zM301.0 497.7h1v1h-1zM299.6 473.4h1v1h-1zM287.2 472.1h1v1h-1zM305.6 473.9h1v1h-1zM299.9 482.6h1v1h-1zM300.8 470.3h1v1h-1zM304.3 474.8h1v1h-1zM288.2 477.6h1v1h-1zM301.5 511.3h1v1h-1zM287.8 477.0h1v1h-1zM305.9 471.9h1v1h-1zM301.2 482.1h1v1h-1zM302.3 471.3h1v1h-1zM297.8 476.0h1v1h-1zM294.4 476.6h1v1h-1zM292.2 475.4h1v1h-1zM287.5 492.8h1v1h-1zM288.0 478.6h1v1h-1zM295.8 487.5h1v1h-1zM302.3 486.2h1v1h-1zM299.7 483.2h1v1h-1zM291.6 478.2h1v1h-1zM298.7 470.7h1v1h-1zM286.9 480.1h1v1h-1zM286.6 481.3h1v1h-1zM303.7 481.7h1v1h-1zM294.7 472.4h1v1h-1zM299.3 491.0h1v1h-1zM305.2 474.7h1v1h-1zM287.2 470.5h1v1h-1zM286.0 471.3h1v1h-1zM304.7 473.5h1v1h-1zM295.9 485.9h1v1h-1zM289.8 477.1h1v1h-1zM300.5 473.7h1v1h-1zM287.9 499.4h1v1h-1zM292.1 481.7h1v1h-1zM288.6 470.7h1v1h-1zM300.7 485.7h1v1h-1zM288.9 504.2h1v1h-1zM305.8 471.8h1v1h-1zM292.2 472.6h1v1h-1zM285.8 484.2h1v1h-1zM285.2 475.9h1v1h-1zM304.1 515.7h1v1h-1zM288.4 470.6h1v1h-1zM297.8 486.3h1v1h-1zM292.0 470.7h1v1h-1zM295.1 510.1h1v1h-1zM305.0 471.8h1v1h-1zM296.6 478.6h1v1h-1zM302.3 508.8h1v1h-1zM293.1 473.1h1v1h-1zM297.4 497.6h1v1h-1zM290.9 475.1h1v1h-1zM288.9 472.9h1v1h-1zM297.7 476.7h1v1h-1zM291.2 481.9h1v1h-1zM289.7 478.2h1v1h-1zM294.6 478.9h1v1h-1zM302.3 484.3h1v1h-1zM298.5 491.3h1v1h-1zM304.2 483.5h1v1h-1zM305.1 470.8h1v1h-1zM298.4 475.0h1v1h-1zM296.7 473.7h1v1h-1zM296.5 477.1h1v1h-1zM302.6 470.1h1v1h-1zM289.3 472.3h1v1h-1zM286.7 473.4h1v1h-1zM295.6 472.0h1v1h-1zM291.1 479.9h1v1h-1zM288.0 471.8h1v1h-1zM296.5 474.6h1v1h-1zM295.7 484.3h1v1h-1zM293.2 473.9h1v1h-1zM296.4 474.8h1v1h-1zM295.8 473.6h1v1h-1zM286.8 495.6h1v1h-1zM291.7 471.2h1v1h-1zM301.5 475.5h1v1h-1zM290.8 474.3h1v1h-1zM293.6 476.4h1v1h-1zM305.5 475.6h1v1h-1zM295.7 496.9h1v1h-1zM295.8 472.0h1v1h-1zM286.7 478.9h1v1h-1zM290.5 470.4h1v1h-1zM290.4 485.3h1v1h-1zM294.3 479.1h1v1h-1zM293.7 472.1h1v1h-1zM298.0 472.5h1v1h-1zM290.1 507.6h1v1h-1zM287.6 487.0h1v1h-1zM286.4 510.4h1v1h-1zM300.9 477.5h1v1h-1zM298.0 495.2h1v1h-1zM292.5 470.2h1v1h-1zM292.5 509.4h1v1h-1zM295.2 477.1h1v1h-1zM288.7 472.8h1v1h-1zM304.8 475.6h1v1h-1zM286.5 470.8h1v1h-1zM297.4 470.6h1v1h-1zM288.7 500.7h1v1h-1zM288.9 470.4h1v1h-1zM286.1 471.2h1v1h-1zM292.7 480.9h1v1h-1zM290.0 482.0h1v1h-1zM285.9 471.4h1v1h-1zM287.1 471.5h1v1h-1zM300.4 471.0h1v1h-1zM309.2 506.2h1v1h-1zM297.3 513.8h1v1h-1zM320.2 506.3h1v1h-1zM317.8 507.0h1v1h-1zM324.6 505.4h1v1h-1zM290.7 511.0h1v1h-1zM294.6 508.2h1v1h-1zM304.7 512.6h1v1h-1zM312.0 513.5h1v1h-1zM302.3 510.1h1v1h-1zM298.6 513.2h1v1h-1zM321.4 508.0h1v1h-1zM293.5 507.0h1v1h-1zM303.4 510.6h1v1h-1zM316.5 508.5h1v1h-1zM320.3 509.9h1v1h-1zM314.2 509.7h1v1h-1zM301.3 507.8h1v1h-1zM321.7 512.8h1v1h-1zM284.6 512.7h1v1h-1zM332.2 493.0h1v1h-1zM371.7 494.3h1v1h-1zM357.5 504.7h1v1h-1zM342.3 472.1h1v1h-1zM353.9 476.1h1v1h-1zM368.4 489.3h1v1h-1zM315.9 511.0h1v1h-1zM360.7 467.1h1v1h-1zM331.4 511.0h1v1h-1zM368.9 506.7h1v1h-1zM315.2 471.9h1v1h-1zM328.4 507.5h1v1h-1zM281.6 481.8h1v1h-1zM283.2 488.2h1v1h-1zM285.5 510.5h1v1h-1zM282.2 498.5h1v1h-1zM285.6 500.5h1v1h-1zM284.0 485.8h1v1h-1zM285.0 503.9h1v1h-1zM285.0 494.0h1v1h-1zM281.5 509.3h1v1h-1zM285.2 499.0h1v1h-1zM283.9 453.0h1v1h-1zM280.9 448.0h1v1h-1zM283.2 463.5h1v1h-1zM279.0 450.1h1v1h-1zM276.6 454.9h1v1h-1zM276.9 471.0h1v1h-1zM276.4 452.0h1v1h-1zM277.6 473.1h1v1h-1zM280.6 466.4h1v1h-1zM278.7 465.2h1v1h-1zM279.9 468.2h1v1h-1zM279.2 450.1h1v1h-1zM279.1 455.4h1v1h-1zM282.3 459.1h1v1h-1zM283.5 449.6h1v1h-1zM281.1 465.3h1v1h-1zM282.1 449.6h1v1h-1zM279.9 453.3h1v1h-1zM279.3 468.1h1v1h-1zM282.0 464.8h1v1h-1zM283.0 470.6h1v1h-1zM283.7 464.0h1v1h-1zM282.1 448.4h1v1h-1zM280.7 446.3h1v1h-1zM283.2 459.8h1v1h-1zM278.4 465.4h1v1h-1zM281.0 464.4h1v1h-1zM282.3 456.5h1v1h-1zM279.9 466.2h1v1h-1zM277.2 473.6h1v1h-1zM278.3 458.1h1v1h-1zM282.2 450.5h1v1h-1zM279.9 464.3h1v1h-1zM282.3 463.9h1v1h-1zM279.0 471.9h1v1h-1zM279.4 446.0h1v1h-1zM281.5 448.8h1v1h-1zM280.7 462.2h1v1h-1zM281.1 447.1h1v1h-1zM279.4 468.2h1v1h-1zM281.2 457.0h1v1h-1zM280.7 449.4h1v1h-1zM281.6 457.1h1v1h-1zM277.1 448.8h1v1h-1zM279.7 461.4h1v1h-1zM278.8 449.2h1v1h-1zM279.0 465.0h1v1h-1zM279.7 456.7h1v1h-1zM283.1 453.9h1v1h-1zM281.6 454.7h1v1h-1zM276.6 452.1h1v1h-1zM278.7 450.0h1v1h-1zM278.8 469.4h1v1h-1zM279.1 459.0h1v1h-1zM278.3 454.0h1v1h-1zM277.6 455.8h1v1h-1zM278.0 471.0h1v1h-1zM278.2 449.8h1v1h-1zM283.1 470.1h1v1h-1zM280.1 460.7h1v1h-1zM280.5 470.2h1v1h-1zM281.1 465.7h1v1h-1zM277.7 467.2h1v1h-1zM283.7 446.1h1v1h-1zM283.3 452.4h1v1h-1zM282.0 446.6h1v1h-1zM280.3 460.0h1v1h-1zM280.9 462.0h1v1h-1zM276.8 455.9h1v1h-1zM276.6 456.2h1v1h-1zM283.0 446.2h1v1h-1zM278.3 466.8h1v1h-1zM279.9 461.3h1v1h-1zM277.9 458.8h1v1h-1zM277.7 450.9h1v1h-1zM279.0 460.0h1v1h-1zM278.3 473.9h1v1h-1zM277.4 468.6h1v1h-1zM283.7 466.4h1v1h-1zM279.4 446.3h1v1h-1zM279.2 447.3h1v1h-1zM276.5 453.4h1v1h-1zM283.8 454.0h1v1h-1zM283.4 465.5h1v1h-1zM278.3 460.0h1v1h-1zM277.1 456.4h1v1h-1zM282.4 467.4h1v1h-1zM284.0 453.4h1v1h-1zM278.1 473.5h1v1h-1zM281.7 455.8h1v1h-1zM281.1 454.8h1v1h-1zM282.8 449.1h1v1h-1zM281.1 469.5h1v1h-1zM277.5 446.8h1v1h-1zM281.6 469.5h1v1h-1zM281.4 469.8h1v1h-1zM284.0 472.0h1v1h-1z" fill="#000"/><rect x="275.8" y="443.8" width="103.4" height="99.2" fill="none" stroke="#333" stroke-width="0.9"/><line x1="306.5" y1="443.8" x2="306.5" y2="543" stroke="#111" stroke-width="1.1"/><line x1="275.8" y1="516.2" x2="379.2" y2="516.2" stroke="#333" stroke-width="0.9"/><path d="M275.8 543v3.5 M283.58 543v2 M288.13 543v2 M291.36 543v2 M293.87 543v2 M295.92 543v2 M297.65 543v2 M299.14 543v2 M300.47 543v2 M301.65 543v3.5 M309.43 543v2 M313.98 543v2 M317.21 543v2 M319.72 543v2 M321.77 543v2 M323.5 543v2 M324.99 543v2 M326.32 543v2 M327.5 543v3.5 M335.28 543v2 M339.83 543v2 M343.06 543v2 M345.57 543v2 M347.62 543v2 M349.35 543v2 M350.84 543v2 M352.17 543v2 M353.35 543v3.5 M361.13 543v2 M365.68 543v2 M368.91 543v2 M371.42 543v2 M373.47 543v2 M375.2 543v2 M376.69 543v2 M378.02 543v2 M379.2 543v3.5 M275.8 543h-3.5 M275.8 535.53h-2 M275.8 531.17h-2 M275.8 528.07h-2 M275.8 525.67h-2 M275.8 523.7h-2 M275.8 522.04h-2 M275.8 520.6h-2 M275.8 519.33h-2 M275.8 518.2h-3.5 M275.8 510.73h-2 M275.8 506.37h-2 M275.8 503.27h-2 M275.8 500.87h-2 M275.8 498.9h-2 M275.8 497.24h-2 M275.8 495.8h-2 M275.8 494.53h-2 M275.8 493.4h-3.5 M275.8 485.93h-2 M275.8 481.57h-2 M275.8 478.47h-2 M275.8 476.07h-2 M275.8 474.1h-2 M275.8 472.44h-2 M275.8 471h-2 M275.8 469.73h-2 M275.8 468.6h-3.5 M275.8 461.13h-2 M275.8 456.77h-2 M275.8 453.67h-2 M275.8 451.27h-2 M275.8 449.3h-2 M275.8 447.64h-2 M275.8 446.2h-2 M275.8 444.93h-2 M275.8 443.8h-3.5" stroke="#222" stroke-width="0.6" fill="none"/><text x="270.3" y="543" font-size="6.5" fill="#333" text-anchor="middle" transform="rotate(-90 270.3 543)">10<tspan dy="-3" font-size="5">0</tspan></text><text x="270.3" y="518.2" font-size="6.5" fill="#333" text-anchor="middle" transform="rotate(-90 270.3 518.2)">10<tspan dy="-3" font-size="5">1</tspan></text><text x="270.3" y="493.4" font-size="6.5" fill="#333" text-anchor="middle" transform="rotate(-90 270.3 493.4)">10<tspan dy="-3" font-size="5">2</tspan></text><text x="270.3" y="468.6" font-size="6.5" fill="#333" text-anchor="middle" transform="rotate(-90 270.3 468.6)">10<tspan dy="-3" font-size="5">3</tspan></text><text x="270.3" y="443.8" font-size="6.5" fill="#333" text-anchor="middle" transform="rotate(-90 270.3 443.8)">10<tspan dy="-3" font-size="5">4</tspan></text><text x="271.8" y="553" font-size="6.5" fill="#333">10<tspan dy="-3" font-size="5">0</tspan></text><text x="297.65" y="553" font-size="6.5" fill="#333">10<tspan dy="-3" font-size="5">1</tspan></text><text x="323.5" y="553" font-size="6.5" fill="#333">10<tspan dy="-3" font-size="5">2</tspan></text><text x="349.35" y="553" font-size="6.5" fill="#333">10<tspan dy="-3" font-size="5">3</tspan></text><text x="375.2" y="553" font-size="6.5" fill="#333">10<tspan dy="-3" font-size="5">4</tspan></text><text x="335.5" y="512.3" font-size="18.8" font-weight="bold" fill="#1614bf">26%</text><text x="313.5" y="563.8" font-size="11.6" font-weight="bold" fill="#111">CD107</text><text x="260" y="486.5" font-size="11.3" font-weight="bold" fill="#111" text-anchor="middle" transform="rotate(-90 260 486.5)">CD56</text><ellipse cx="422" cy="454" rx="7" ry="6" fill="#000"/><path d="M434.8 447.2h1v1h-1zM420.5 450.1h1v1h-1zM430.9 459.5h1v1h-1zM435.7 451.8h1v1h-1zM429.1 462.2h1v1h-1zM426.2 450.2h1v1h-1zM432.8 463.6h1v1h-1zM431.3 449.7h1v1h-1zM423.7 454.9h1v1h-1zM427.0 453.6h1v1h-1zM432.3 463.3h1v1h-1zM411.4 459.6h1v1h-1zM429.2 451.6h1v1h-1zM431.9 460.3h1v1h-1zM421.7 444.6h1v1h-1zM425.0 459.0h1v1h-1zM416.5 464.8h1v1h-1zM429.3 460.9h1v1h-1zM439.1 460.5h1v1h-1zM418.6 446.1h1v1h-1zM423.6 449.7h1v1h-1zM436.7 466.1h1v1h-1zM426.3 446.2h1v1h-1zM422.4 449.6h1v1h-1zM429.9 460.4h1v1h-1zM410.4 453.4h1v1h-1zM414.2 465.9h1v1h-1zM436.1 460.9h1v1h-1zM414.3 462.3h1v1h-1zM410.4 452.5h1v1h-1zM437.8 465.3h1v1h-1zM432.5 463.1h1v1h-1zM439.3 462.1h1v1h-1zM432.7 465.9h1v1h-1zM437.6 464.2h1v1h-1zM420.0 452.5h1v1h-1zM432.5 463.2h1v1h-1zM414.5 456.5h1v1h-1zM434.6 445.2h1v1h-1zM431.8 447.7h1v1h-1zM415.3 461.4h1v1h-1zM415.1 459.0h1v1h-1zM414.6 443.6h1v1h-1zM434.5 452.8h1v1h-1zM429.8 464.6h1v1h-1zM418.1 460.5h1v1h-1zM429.5 451.9h1v1h-1zM430.4 464.8h1v1h-1zM430.5 455.3h1v1h-1zM439.9 464.9h1v1h-1zM435.3 455.7h1v1h-1zM422.6 444.9h1v1h-1zM410.9 452.2h1v1h-1zM416.5 461.0h1v1h-1zM411.8 452.3h1v1h-1zM433.4 460.8h1v1h-1zM433.7 448.7h1v1h-1zM416.0 464.2h1v1h-1zM438.4 457.0h1v1h-1zM419.4 450.3h1v1h-1zM423.7 459.3h1v1h-1zM427.2 466.7h1v1h-1zM439.9 457.7h1v1h-1zM436.9 444.6h1v1h-1zM413.9 444.3h1v1h-1zM436.8 453.3h1v1h-1zM415.7 443.8h1v1h-1zM434.0 466.1h1v1h-1zM430.0 450.7h1v1h-1zM414.1 461.0h1v1h-1zM411.1 447.7h1v1h-1zM437.8 454.8h1v1h-1zM409.6 457.1h1v1h-1zM414.0 465.6h1v1h-1zM439.2 459.7h1v1h-1zM430.8 453.8h1v1h-1zM426.7 443.6h1v1h-1zM423.3 445.8h1v1h-1zM427.0 450.8h1v1h-1zM423.6 446.1h1v1h-1zM411.5 465.8h1v1h-1zM416.5 456.1h1v1h-1zM419.1 447.7h1v1h-1zM424.6 465.3h1v1h-1zM421.5 459.9h1v1h-1zM431.5 455.8h1v1h-1zM434.0 462.7h1v1h-1zM432.9 461.7h1v1h-1zM423.6 452.8h1v1h-1zM421.5 457.0h1v1h-1zM410.2 448.2h1v1h-1zM420.3 456.7h1v1h-1zM433.5 451.0h1v1h-1zM420.2 465.6h1v1h-1zM418.2 453.9h1v1h-1zM414.5 448.0h1v1h-1zM428.8 459.9h1v1h-1zM424.8 463.7h1v1h-1zM410.9 449.4h1v1h-1zM416.9 444.1h1v1h-1zM411.8 455.4h1v1h-1zM414.2 445.7h1v1h-1zM417.4 461.3h1v1h-1zM411.8 463.9h1v1h-1zM439.7 450.1h1v1h-1zM428.8 466.2h1v1h-1zM413.1 460.8h1v1h-1zM425.5 449.9h1v1h-1zM421.6 451.1h1v1h-1zM415.4 446.8h1v1h-1zM422.1 449.5h1v1h-1zM426.8 466.0h1v1h-1zM412.5 453.7h1v1h-1zM438.6 461.1h1v1h-1zM424.6 446.0h1v1h-1zM411.9 461.9h1v1h-1zM430.4 445.6h1v1h-1zM438.4 450.9h1v1h-1zM410.0 460.8h1v1h-1zM430.3 465.2h1v1h-1zM435.1 450.7h1v1h-1zM423.1 446.4h1v1h-1zM411.8 465.7h1v1h-1zM432.6 447.4h1v1h-1zM419.7 443.6h1v1h-1zM418.7 448.0h1v1h-1zM433.0 458.8h1v1h-1zM409.6 452.1h1v1h-1zM417.0 464.0h1v1h-1zM437.2 462.1h1v1h-1zM414.3 457.1h1v1h-1zM411.7 451.6h1v1h-1zM412.3 460.2h1v1h-1zM425.3 464.5h1v1h-1zM420.9 454.2h1v1h-1zM425.1 464.5h1v1h-1zM437.4 460.6h1v1h-1zM416.9 462.9h1v1h-1zM432.9 449.0h1v1h-1zM427.2 456.1h1v1h-1zM428.6 455.1h1v1h-1zM410.3 449.9h1v1h-1zM411.0 464.7h1v1h-1zM414.1 458.8h1v1h-1zM423.0 462.3h1v1h-1zM420.7 455.7h1v1h-1zM418.6 459.4h1v1h-1zM435.9 455.4h1v1h-1zM426.8 465.0h1v1h-1zM419.8 459.6h1v1h-1zM428.1 454.8h1v1h-1zM436.0 461.5h1v1h-1zM415.4 462.1h1v1h-1zM421.7 463.9h1v1h-1zM416.0 458.5h1v1h-1zM425.1 458.9h1v1h-1zM413.5 463.6h1v1h-1zM419.9 464.4h1v1h-1zM439.9 451.7h1v1h-1zM437.5 464.2h1v1h-1zM409.9 463.9h1v1h-1zM420.1 463.3h1v1h-1zM434.3 465.1h1v1h-1zM435.1 455.5h1v1h-1zM419.1 460.5h1v1h-1zM429.6 447.8h1v1h-1zM432.8 457.9h1v1h-1zM421.8 446.6h1v1h-1zM413.0 450.0h1v1h-1zM433.5 446.2h1v1h-1zM431.9 451.6h1v1h-1zM426.6 463.7h1v1h-1zM433.3 453.4h1v1h-1zM439.7 464.5h1v1h-1zM416.2 452.4h1v1h-1zM409.7 444.2h1v1h-1zM428.6 463.8h1v1h-1zM415.3 456.6h1v1h-1zM436.0 449.8h1v1h-1zM432.7 451.8h1v1h-1zM423.9 458.6h1v1h-1zM433.4 461.3h1v1h-1zM438.3 454.0h1v1h-1zM431.6 453.8h1v1h-1zM417.7 466.8h1v1h-1zM423.5 465.9h1v1h-1zM412.0 460.1h1v1h-1zM428.7 445.7h1v1h-1zM419.6 462.1h1v1h-1zM413.7 458.2h1v1h-1zM416.7 445.1h1v1h-1zM419.1 458.5h1v1h-1zM434.2 463.1h1v1h-1zM410.1 463.7h1v1h-1zM414.6 455.4h1v1h-1zM417.6 465.2h1v1h-1zM434.8 463.4h1v1h-1zM412.8 455.0h1v1h-1zM439.5 454.1h1v1h-1zM433.4 453.2h1v1h-1zM422.2 466.2h1v1h-1zM428.5 461.1h1v1h-1zM430.3 466.0h1v1h-1zM433.5 453.6h1v1h-1zM416.9 464.7h1v1h-1zM436.3 451.3h1v1h-1zM431.4 461.5h1v1h-1zM412.5 461.7h1v1h-1zM409.9 450.4h1v1h-1zM429.1 444.6h1v1h-1zM434.4 463.5h1v1h-1zM429.9 452.7h1v1h-1zM434.1 444.8h1v1h-1zM409.6 452.5h1v1h-1zM437.7 446.5h1v1h-1zM420.7 444.9h1v1h-1zM422.1 459.9h1v1h-1zM433.5 464.7h1v1h-1zM426.8 461.1h1v1h-1zM422.9 450.5h1v1h-1zM412.3 464.1h1v1h-1zM437.3 458.5h1v1h-1zM427.4 451.0h1v1h-1zM410.2 447.2h1v1h-1zM425.6 464.8h1v1h-1zM430.0 464.2h1v1h-1zM423.7 449.6h1v1h-1zM428.0 451.2h1v1h-1zM415.1 463.0h1v1h-1zM440.0 443.8h1v1h-1zM424.4 459.9h1v1h-1zM411.0 459.2h1v1h-1zM417.2 454.3h1v1h-1zM435.4 459.2h1v1h-1zM432.0 452.8h1v1h-1zM426.5 463.5h1v1h-1zM417.3 446.2h1v1h-1zM431.7 465.4h1v1h-1zM434.5 460.0h1v1h-1zM413.0 450.2h1v1h-1zM411.7 446.5h1v1h-1zM432.6 451.7h1v1h-1zM429.0 465.3h1v1h-1zM432.4 443.9h1v1h-1zM415.2 456.0h1v1h-1zM437.0 455.5h1v1h-1zM423.2 464.8h1v1h-1zM433.0 464.3h1v1h-1zM416.2 461.6h1v1h-1zM420.9 451.2h1v1h-1zM420.6 449.7h1v1h-1zM422.1 452.0h1v1h-1zM436.0 465.9h1v1h-1zM426.6 465.2h1v1h-1zM433.8 451.7h1v1h-1zM428.6 466.9h1v1h-1zM433.1 450.0h1v1h-1zM424.3 451.3h1v1h-1zM410.4 444.1h1v1h-1zM425.2 457.2h1v1h-1zM413.2 457.7h1v1h-1zM410.0 446.9h1v1h-1zM435.3 448.1h1v1h-1zM426.5 444.5h1v1h-1zM426.5 444.9h1v1h-1zM426.8 458.7h1v1h-1zM423.2 457.3h1v1h-1zM417.1 463.2h1v1h-1zM423.6 443.5h1v1h-1zM425.1 444.8h1v1h-1zM431.1 464.1h1v1h-1zM422.2 449.9h1v1h-1zM417.3 458.1h1v1h-1zM428.9 453.0h1v1h-1zM430.8 463.7h1v1h-1zM415.1 466.3h1v1h-1zM437.4 445.9h1v1h-1zM433.5 446.7h1v1h-1zM418.2 459.0h1v1h-1zM435.8 451.3h1v1h-1zM431.3 450.8h1v1h-1zM417.0 450.0h1v1h-1zM415.8 451.9h1v1h-1zM439.3 447.3h1v1h-1zM435.9 447.0h1v1h-1zM411.9 453.7h1v1h-1zM414.2 464.6h1v1h-1zM438.4 446.1h1v1h-1zM429.9 458.2h1v1h-1zM428.3 460.3h1v1h-1zM411.3 462.1h1v1h-1zM431.5 449.8h1v1h-1zM425.9 447.7h1v1h-1zM430.3 461.7h1v1h-1zM432.7 450.2h1v1h-1zM429.4 444.2h1v1h-1zM429.5 462.4h1v1h-1zM437.8 454.2h1v1h-1zM431.8 464.2h1v1h-1zM423.3 446.7h1v1h-1zM435.4 450.9h1v1h-1zM431.7 465.6h1v1h-1zM427.7 458.9h1v1h-1zM420.5 450.0h1v1h-1zM420.6 463.6h1v1h-1zM438.1 445.2h1v1h-1zM429.7 452.1h1v1h-1zM429.2 460.1h1v1h-1zM424.2 451.6h1v1h-1zM431.8 451.6h1v1h-1zM439.2 461.2h1v1h-1zM414.9 466.6h1v1h-1zM425.5 459.9h1v1h-1zM429.5 456.0h1v1h-1zM416.6 450.0h1v1h-1zM420.2 446.1h1v1h-1zM414.6 456.1h1v1h-1zM412.9 450.3h1v1h-1zM425.5 448.4h1v1h-1zM421.6 459.0h1v1h-1zM433.5 446.1h1v1h-1zM430.1 446.0h1v1h-1zM433.7 458.9h1v1h-1zM421.6 445.0h1v1h-1zM439.9 466.9h1v1h-1zM428.6 451.4h1v1h-1zM419.5 453.4h1v1h-1zM436.4 446.2h1v1h-1zM430.5 461.3h1v1h-1zM438.1 461.6h1v1h-1zM418.7 454.2h1v1h-1zM437.5 463.3h1v1h-1zM421.5 466.6h1v1h-1zM412.2 452.3h1v1h-1zM410.3 458.6h1v1h-1zM423.7 443.7h1v1h-1zM428.1 465.9h1v1h-1zM417.3 463.7h1v1h-1zM413.6 449.8h1v1h-1zM415.4 453.0h1v1h-1zM415.1 447.3h1v1h-1zM411.0 461.4h1v1h-1zM414.0 454.0h1v1h-1zM413.5 450.8h1v1h-1zM421.9 462.4h1v1h-1zM427.2 450.1h1v1h-1zM428.2 451.7h1v1h-1zM420.3 456.7h1v1h-1zM419.7 466.2h1v1h-1zM417.5 445.8h1v1h-1zM434.9 452.2h1v1h-1zM434.7 462.6h1v1h-1zM423.4 445.4h1v1h-1zM426.9 447.5h1v1h-1zM418.8 466.0h1v1h-1zM427.9 443.8h1v1h-1zM436.9 447.3h1v1h-1zM437.8 460.2h1v1h-1zM427.8 457.3h1v1h-1zM418.5 464.7h1v1h-1zM433.4 455.4h1v1h-1zM416.6 462.6h1v1h-1zM417.0 454.2h1v1h-1zM420.7 453.2h1v1h-1zM426.2 449.7h1v1h-1zM425.5 455.2h1v1h-1zM425.2 449.4h1v1h-1zM426.9 464.0h1v1h-1zM410.0 463.3h1v1h-1zM436.4 449.5h1v1h-1zM439.0 443.8h1v1h-1zM409.6 457.6h1v1h-1zM415.9 460.6h1v1h-1zM423.5 448.0h1v1h-1zM434.7 460.9h1v1h-1zM414.1 451.3h1v1h-1zM425.7 463.7h1v1h-1zM424.2 463.8h1v1h-1zM432.7 444.8h1v1h-1zM425.1 443.7h1v1h-1zM420.2 457.7h1v1h-1zM421.2 465.0h1v1h-1zM432.0 445.9h1v1h-1zM422.1 448.3h1v1h-1zM437.2 461.8h1v1h-1zM428.9 451.2h1v1h-1zM418.8 446.8h1v1h-1zM424.5 456.6h1v1h-1zM412.0 447.2h1v1h-1zM434.7 453.2h1v1h-1zM434.8 460.8h1v1h-1zM419.3 455.0h1v1h-1zM419.2 461.0h1v1h-1zM420.3 464.5h1v1h-1zM422.6 456.9h1v1h-1zM432.8 465.8h1v1h-1zM428.2 444.8h1v1h-1zM436.1 444.5h1v1h-1zM425.7 459.3h1v1h-1zM433.1 461.6h1v1h-1zM432.6 447.4h1v1h-1zM415.8 451.1h1v1h-1zM413.6 459.2h1v1h-1zM417.0 452.6h1v1h-1zM422.6 464.8h1v1h-1zM410.3 460.7h1v1h-1zM413.8 459.2h1v1h-1zM428.7 451.0h1v1h-1zM421.5 456.3h1v1h-1zM425.1 457.1h1v1h-1zM426.4 448.1h1v1h-1zM424.3 458.8h1v1h-1zM413.4 447.7h1v1h-1zM437.9 463.1h1v1h-1zM437.8 457.8h1v1h-1zM416.6 449.4h1v1h-1zM422.8 444.3h1v1h-1zM426.5 459.7h1v1h-1zM431.2 460.3h1v1h-1zM427.2 461.4h1v1h-1zM433.5 445.5h1v1h-1zM431.0 446.6h1v1h-1zM415.1 462.4h1v1h-1zM418.0 452.7h1v1h-1zM424.6 459.3h1v1h-1zM419.7 447.2h1v1h-1zM421.5 463.2h1v1h-1zM419.7 462.9h1v1h-1zM438.2 444.6h1v1h-1zM418.0 462.0h1v1h-1zM426.9 455.1h1v1h-1zM421.5 458.3h1v1h-1zM415.4 446.4h1v1h-1zM428.2 449.8h1v1h-1zM411.7 456.5h1v1h-1zM432.7 456.3h1v1h-1zM419.8 454.1h1v1h-1zM430.4 450.1h1v1h-1zM412.2 460.4h1v1h-1zM419.1 447.2h1v1h-1zM435.0 464.7h1v1h-1zM414.9 451.0h1v1h-1zM432.3 455.0h1v1h-1zM422.5 455.4h1v1h-1zM432.3 454.2h1v1h-1zM415.2 460.6h1v1h-1zM436.8 460.4h1v1h-1zM421.2 449.2h1v1h-1zM414.5 457.9h1v1h-1zM437.0 449.4h1v1h-1zM429.1 447.6h1v1h-1zM422.5 466.4h1v1h-1zM438.8 462.8h1v1h-1zM413.5 457.7h1v1h-1zM424.2 449.4h1v1h-1zM429.8 464.0h1v1h-1zM428.8 455.1h1v1h-1zM438.6 452.3h1v1h-1zM414.5 463.0h1v1h-1zM430.8 462.7h1v1h-1zM413.6 462.5h1v1h-1zM417.0 461.0h1v1h-1zM435.8 462.2h1v1h-1zM416.6 446.5h1v1h-1zM414.5 451.0h1v1h-1zM409.6 448.3h1v1h-1zM424.5 461.8h1v1h-1zM434.4 466.5h1v1h-1zM416.0 446.8h1v1h-1zM410.1 453.4h1v1h-1zM418.5 448.8h1v1h-1zM415.5 459.5h1v1h-1zM410.7 447.0h1v1h-1zM410.4 466.3h1v1h-1zM424.1 456.4h1v1h-1zM421.5 447.7h1v1h-1zM415.7 444.2h1v1h-1zM430.9 446.6h1v1h-1zM434.9 447.6h1v1h-1zM427.3 459.3h1v1h-1zM411.8 454.5h1v1h-1zM436.7 456.8h1v1h-1zM432.3 446.0h1v1h-1zM420.6 463.8h1v1h-1zM431.1 451.2h1v1h-1zM417.2 457.3h1v1h-1zM414.4 455.8h1v1h-1zM437.2 448.0h1v1h-1zM436.2 446.5h1v1h-1zM419.4 445.5h1v1h-1zM432.6 450.7h1v1h-1zM412.2 445.3h1v1h-1zM419.4 453.4h1v1h-1zM432.6 450.6h1v1h-1zM415.8 454.0h1v1h-1zM410.6 454.5h1v1h-1zM429.1 449.0h1v1h-1zM436.1 449.6h1v1h-1zM429.5 458.3h1v1h-1zM439.9 458.5h1v1h-1zM434.0 463.9h1v1h-1zM431.6 459.6h1v1h-1zM421.5 456.0h1v1h-1zM423.1 448.7h1v1h-1zM430.5 454.0h1v1h-1zM433.9 449.4h1v1h-1zM424.1 456.4h1v1h-1zM423.8 466.1h1v1h-1zM421.6 456.6h1v1h-1zM424.6 457.4h1v1h-1zM436.8 456.8h1v1h-1zM416.3 453.1h1v1h-1zM427.3 452.7h1v1h-1zM412.2 461.4h1v1h-1zM412.8 465.3h1v1h-1zM416.8 455.1h1v1h-1zM434.3 459.6h1v1h-1zM435.6 461.0h1v1h-1zM428.5 456.0h1v1h-1zM421.6 449.6h1v1h-1zM430.8 460.0h1v1h-1zM412.9 445.9h1v1h-1zM409.8 458.9h1v1h-1zM414.4 448.6h1v1h-1zM419.9 448.1h1v1h-1zM415.0 448.9h1v1h-1zM435.9 454.5h1v1h-1zM419.9 456.5h1v1h-1zM418.3 453.2h1v1h-1zM416.1 457.1h1v1h-1zM427.6 463.2h1v1h-1zM427.1 455.0h1v1h-1zM422.3 452.5h1v1h-1zM420.1 457.4h1v1h-1zM409.0 444.9h1v1h-1zM417.9 453.6h1v1h-1zM416.5 447.3h1v1h-1zM418.6 463.9h1v1h-1zM417.2 447.3h1v1h-1zM436.2 450.5h1v1h-1zM430.7 455.1h1v1h-1zM427.5 441.2h1v1h-1zM424.4 450.0h1v1h-1zM420.8 452.3h1v1h-1zM419.0 444.1h1v1h-1zM424.2 453.8h1v1h-1zM436.8 457.0h1v1h-1zM416.6 457.2h1v1h-1zM419.8 464.5h1v1h-1zM420.2 458.5h1v1h-1zM421.3 463.1h1v1h-1zM414.3 461.8h1v1h-1zM423.4 452.1h1v1h-1zM424.7 449.2h1v1h-1zM436.5 458.0h1v1h-1zM419.5 457.9h1v1h-1zM419.1 465.2h1v1h-1zM427.6 456.8h1v1h-1zM438.2 462.5h1v1h-1zM423.1 463.8h1v1h-1zM425.8 457.6h1v1h-1zM426.5 460.9h1v1h-1zM425.9 446.0h1v1h-1zM417.5 449.1h1v1h-1zM415.3 455.7h1v1h-1zM416.0 453.3h1v1h-1zM418.7 454.5h1v1h-1zM424.3 456.7h1v1h-1zM414.5 446.6h1v1h-1zM415.3 463.8h1v1h-1zM421.8 458.5h1v1h-1zM420.6 460.9h1v1h-1zM422.6 442.3h1v1h-1zM411.3 448.2h1v1h-1zM437.5 443.3h1v1h-1zM420.0 447.3h1v1h-1zM419.7 455.9h1v1h-1zM414.6 456.9h1v1h-1zM425.5 461.8h1v1h-1zM430.2 449.4h1v1h-1zM421.4 461.1h1v1h-1zM420.8 449.0h1v1h-1zM419.6 458.5h1v1h-1zM440.2 461.8h1v1h-1zM426.5 447.3h1v1h-1zM418.2 452.2h1v1h-1zM423.0 458.3h1v1h-1zM430.5 459.0h1v1h-1zM423.1 446.5h1v1h-1zM424.3 443.5h1v1h-1zM423.3 445.7h1v1h-1zM420.3 458.2h1v1h-1zM426.5 459.2h1v1h-1zM435.4 456.3h1v1h-1zM425.9 459.9h1v1h-1zM419.5 459.8h1v1h-1zM415.1 456.4h1v1h-1zM421.4 464.1h1v1h-1zM417.5 440.9h1v1h-1zM415.0 444.8h1v1h-1zM427.4 446.2h1v1h-1zM424.6 456.3h1v1h-1zM426.1 466.6h1v1h-1zM418.9 465.2h1v1h-1zM429.9 465.6h1v1h-1zM425.5 442.0h1v1h-1zM433.8 458.2h1v1h-1zM414.1 455.3h1v1h-1zM419.4 464.1h1v1h-1zM422.9 453.2h1v1h-1zM435.2 456.0h1v1h-1zM426.2 444.7h1v1h-1zM413.0 461.1h1v1h-1zM414.9 465.8h1v1h-1zM426.8 455.4h1v1h-1zM416.8 449.9h1v1h-1zM421.3 445.9h1v1h-1zM419.5 456.9h1v1h-1zM424.7 452.4h1v1h-1zM428.9 459.2h1v1h-1zM424.5 458.2h1v1h-1zM411.8 457.7h1v1h-1zM433.1 462.8h1v1h-1zM430.9 447.3h1v1h-1zM415.6 463.1h1v1h-1zM419.5 452.3h1v1h-1zM411.3 448.4h1v1h-1zM433.8 461.4h1v1h-1zM418.5 459.2h1v1h-1zM425.8 462.9h1v1h-1zM426.3 464.4h1v1h-1zM432.8 453.3h1v1h-1zM423.3 461.6h1v1h-1zM419.6 446.6h1v1h-1zM427.4 456.3h1v1h-1zM430.4 453.2h1v1h-1zM418.1 448.9h1v1h-1zM421.8 444.2h1v1h-1zM410.0 458.1h1v1h-1zM434.0 443.0h1v1h-1zM417.1 451.3h1v1h-1zM430.5 466.9h1v1h-1zM429.6 466.7h1v1h-1zM428.9 458.9h1v1h-1zM430.3 452.9h1v1h-1zM416.1 466.8h1v1h-1zM424.3 454.2h1v1h-1zM416.9 456.8h1v1h-1zM421.6 460.0h1v1h-1zM416.6 447.7h1v1h-1zM442.1 443.2h1v1h-1zM424.6 441.1h1v1h-1zM431.0 444.5h1v1h-1zM417.5 446.2h1v1h-1zM437.6 451.7h1v1h-1zM422.2 459.8h1v1h-1zM421.6 452.5h1v1h-1zM420.7 449.4h1v1h-1zM410.5 459.1h1v1h-1zM424.8 462.8h1v1h-1zM414.4 457.8h1v1h-1zM421.1 464.8h1v1h-1zM439.5 458.2h1v1h-1zM420.6 456.4h1v1h-1zM439.7 459.0h1v1h-1zM425.7 458.7h1v1h-1zM414.1 459.9h1v1h-1zM427.8 457.3h1v1h-1zM432.2 461.9h1v1h-1zM429.5 450.1h1v1h-1zM417.4 464.4h1v1h-1zM414.2 452.3h1v1h-1zM430.1 470.6h1v1h-1zM438.5 449.9h1v1h-1zM437.4 455.5h1v1h-1zM420.1 471.0h1v1h-1zM421.2 463.3h1v1h-1zM425.4 449.8h1v1h-1zM432.2 463.4h1v1h-1zM426.8 455.6h1v1h-1zM426.8 448.6h1v1h-1zM423.3 467.4h1v1h-1zM413.2 471.1h1v1h-1zM424.6 455.2h1v1h-1zM410.5 457.5h1v1h-1zM440.2 464.3h1v1h-1zM416.8 451.4h1v1h-1zM428.9 456.2h1v1h-1zM431.1 442.4h1v1h-1zM432.8 463.0h1v1h-1zM413.9 466.2h1v1h-1zM421.9 464.1h1v1h-1zM436.1 457.1h1v1h-1zM424.0 447.8h1v1h-1zM430.3 467.2h1v1h-1zM426.7 455.4h1v1h-1zM424.7 467.6h1v1h-1zM422.3 461.1h1v1h-1zM417.2 472.1h1v1h-1zM421.1 454.4h1v1h-1zM420.2 463.0h1v1h-1zM414.2 448.0h1v1h-1zM432.3 454.7h1v1h-1zM431.2 454.9h1v1h-1zM420.4 456.8h1v1h-1zM435.4 456.4h1v1h-1zM413.5 443.8h1v1h-1zM425.9 449.5h1v1h-1zM436.9 460.1h1v1h-1zM428.1 446.0h1v1h-1zM422.1 463.2h1v1h-1zM427.5 465.4h1v1h-1zM422.4 444.5h1v1h-1zM418.9 445.5h1v1h-1zM416.9 468.4h1v1h-1zM423.5 462.3h1v1h-1zM422.1 450.4h1v1h-1zM425.9 451.0h1v1h-1zM416.4 452.4h1v1h-1zM425.5 457.3h1v1h-1zM431.1 446.2h1v1h-1zM418.2 465.2h1v1h-1zM436.4 449.1h1v1h-1zM417.0 450.7h1v1h-1zM417.0 456.8h1v1h-1zM418.0 461.7h1v1h-1zM412.8 455.4h1v1h-1zM410.0 457.0h1v1h-1zM413.1 466.5h1v1h-1zM420.8 455.8h1v1h-1zM416.0 455.0h1v1h-1zM435.1 462.4h1v1h-1zM421.1 460.0h1v1h-1zM419.3 455.3h1v1h-1zM418.0 451.9h1v1h-1zM426.5 460.1h1v1h-1zM423.6 459.9h1v1h-1zM425.5 461.2h1v1h-1zM429.7 451.9h1v1h-1zM435.6 444.9h1v1h-1zM415.6 447.1h1v1h-1zM428.8 472.2h1v1h-1zM423.5 452.3h1v1h-1zM425.3 450.9h1v1h-1zM418.3 452.4h1v1h-1zM428.3 445.8h1v1h-1zM428.2 448.5h1v1h-1zM426.2 460.7h1v1h-1zM416.8 462.6h1v1h-1zM428.9 448.8h1v1h-1zM415.3 454.3h1v1h-1zM410.7 453.4h1v1h-1zM429.8 457.7h1v1h-1zM422.2 452.8h1v1h-1zM410.1 453.0h1v1h-1zM417.4 451.7h1v1h-1zM423.3 451.2h1v1h-1zM431.1 447.5h1v1h-1zM421.3 457.2h1v1h-1zM416.5 459.9h1v1h-1zM414.5 444.5h1v1h-1zM412.1 459.6h1v1h-1zM422.2 449.3h1v1h-1zM416.8 460.7h1v1h-1zM428.3 458.0h1v1h-1zM431.9 442.3h1v1h-1zM421.4 455.5h1v1h-1zM423.4 457.6h1v1h-1zM422.2 455.7h1v1h-1zM422.0 449.0h1v1h-1zM436.4 457.2h1v1h-1zM419.0 461.3h1v1h-1zM421.2 457.6h1v1h-1zM428.5 451.5h1v1h-1zM415.1 460.2h1v1h-1zM435.0 445.4h1v1h-1zM415.3 458.1h1v1h-1zM418.6 459.1h1v1h-1zM423.9 453.7h1v1h-1zM424.5 459.0h1v1h-1zM415.6 451.9h1v1h-1zM430.3 467.8h1v1h-1zM423.0 454.0h1v1h-1zM429.3 458.1h1v1h-1zM429.2 461.5h1v1h-1zM444.4 466.8h1v1h-1zM425.1 455.0h1v1h-1zM427.0 450.5h1v1h-1zM421.2 456.2h1v1h-1zM426.4 451.9h1v1h-1zM421.3 456.0h1v1h-1zM420.6 451.3h1v1h-1zM421.6 442.8h1v1h-1zM430.9 463.7h1v1h-1zM420.9 447.6h1v1h-1zM430.5 460.1h1v1h-1zM422.3 461.8h1v1h-1zM433.1 453.3h1v1h-1zM413.7 463.5h1v1h-1zM414.2 446.4h1v1h-1zM428.4 450.0h1v1h-1zM435.7 455.9h1v1h-1zM419.6 462.3h1v1h-1zM432.5 448.0h1v1h-1zM427.3 458.1h1v1h-1zM417.4 459.8h1v1h-1zM434.9 446.7h1v1h-1zM434.5 462.1h1v1h-1zM418.4 467.4h1v1h-1zM420.2 460.3h1v1h-1zM428.8 461.8h1v1h-1zM428.9 465.0h1v1h-1zM434.6 449.9h1v1h-1zM427.4 459.4h1v1h-1zM439.4 450.5h1v1h-1zM420.2 457.0h1v1h-1zM415.9 455.9h1v1h-1zM418.1 452.7h1v1h-1zM416.9 446.1h1v1h-1zM422.0 447.7h1v1h-1zM416.3 442.7h1v1h-1zM429.5 447.7h1v1h-1zM432.8 449.6h1v1h-1zM436.3 462.0h1v1h-1zM418.8 458.6h1v1h-1zM412.5 458.0h1v1h-1zM419.7 448.2h1v1h-1zM423.2 448.8h1v1h-1zM418.9 452.9h1v1h-1zM426.6 461.4h1v1h-1zM426.8 443.4h1v1h-1zM425.5 447.8h1v1h-1zM415.5 457.3h1v1h-1zM429.4 452.7h1v1h-1zM415.4 461.7h1v1h-1zM420.8 449.8h1v1h-1zM431.5 450.6h1v1h-1zM421.6 450.3h1v1h-1zM418.4 461.6h1v1h-1zM430.6 452.8h1v1h-1zM422.4 451.8h1v1h-1zM420.0 462.3h1v1h-1zM411.0 456.8h1v1h-1zM420.3 467.3h1v1h-1zM415.3 458.6h1v1h-1zM432.9 451.3h1v1h-1zM423.3 461.8h1v1h-1zM427.5 453.4h1v1h-1zM420.7 458.1h1v1h-1zM427.4 465.6h1v1h-1zM434.7 465.3h1v1h-1zM431.4 456.3h1v1h-1zM414.4 457.7h1v1h-1zM444.4 450.2h1v1h-1zM419.6 450.5h1v1h-1zM418.5 457.2h1v1h-1zM418.4 457.4h1v1h-1zM411.9 447.6h1v1h-1zM418.2 457.6h1v1h-1zM415.5 452.2h1v1h-1zM417.2 461.7h1v1h-1zM415.3 446.9h1v1h-1zM418.8 461.2h1v1h-1zM426.5 455.0h1v1h-1zM415.2 448.7h1v1h-1zM411.3 455.5h1v1h-1zM425.5 451.8h1v1h-1zM420.5 445.0h1v1h-1zM426.4 444.8h1v1h-1zM413.4 461.3h1v1h-1zM419.9 453.9h1v1h-1zM414.1 460.7h1v1h-1zM410.0 466.0h1v1h-1zM416.8 452.8h1v1h-1zM419.7 452.1h1v1h-1zM423.2 443.9h1v1h-1zM411.1 456.6h1v1h-1zM426.8 447.9h1v1h-1zM429.4 445.0h1v1h-1zM423.4 453.8h1v1h-1zM417.3 460.8h1v1h-1zM413.9 456.8h1v1h-1zM428.7 443.3h1v1h-1zM414.1 469.7h1v1h-1zM431.2 463.2h1v1h-1zM424.3 453.2h1v1h-1zM410.5 458.4h1v1h-1zM428.9 461.7h1v1h-1zM417.2 455.7h1v1h-1zM416.6 465.1h1v1h-1zM423.4 451.1h1v1h-1zM429.7 457.5h1v1h-1zM427.7 456.6h1v1h-1zM419.5 446.4h1v1h-1zM418.3 448.2h1v1h-1zM427.6 446.3h1v1h-1zM414.8 465.4h1v1h-1zM413.5 456.7h1v1h-1zM413.9 445.3h1v1h-1zM447.7 451.6h1v1h-1zM433.5 448.0h1v1h-1zM425.8 464.8h1v1h-1zM419.1 445.1h1v1h-1zM426.3 464.5h1v1h-1zM420.0 458.0h1v1h-1zM429.6 450.4h1v1h-1zM412.9 462.4h1v1h-1zM421.8 459.6h1v1h-1zM420.8 458.4h1v1h-1zM433.6 458.8h1v1h-1zM429.2 463.2h1v1h-1zM423.9 447.5h1v1h-1zM440.5 450.9h1v1h-1zM418.9 457.7h1v1h-1zM432.5 447.4h1v1h-1zM426.9 450.2h1v1h-1zM422.4 446.5h1v1h-1zM419.2 461.1h1v1h-1zM427.5 448.5h1v1h-1zM435.6 461.1h1v1h-1zM410.1 458.5h1v1h-1zM424.2 457.5h1v1h-1zM430.9 452.0h1v1h-1zM416.9 459.9h1v1h-1zM417.5 444.6h1v1h-1zM434.9 460.4h1v1h-1zM421.5 443.2h1v1h-1zM420.3 460.4h1v1h-1zM427.0 454.6h1v1h-1zM425.9 452.9h1v1h-1zM428.2 459.1h1v1h-1zM428.3 457.2h1v1h-1zM435.4 453.5h1v1h-1zM426.8 455.5h1v1h-1zM417.3 459.5h1v1h-1zM425.6 449.7h1v1h-1zM419.5 459.8h1v1h-1zM435.5 453.5h1v1h-1zM426.3 461.2h1v1h-1zM433.6 449.4h1v1h-1zM422.1 449.2h1v1h-1zM416.3 457.3h1v1h-1zM430.1 453.2h1v1h-1zM422.5 448.4h1v1h-1zM411.8 457.1h1v1h-1zM421.3 447.0h1v1h-1zM417.4 448.4h1v1h-1zM435.1 455.3h1v1h-1zM423.1 453.3h1v1h-1zM429.4 453.3h1v1h-1zM428.0 455.6h1v1h-1zM433.7 447.0h1v1h-1zM427.6 455.5h1v1h-1zM428.1 453.8h1v1h-1zM427.2 454.3h1v1h-1zM413.0 452.2h1v1h-1zM423.8 441.6h1v1h-1zM413.8 461.1h1v1h-1zM413.9 441.5h1v1h-1zM423.9 450.5h1v1h-1zM421.1 465.8h1v1h-1zM430.7 445.0h1v1h-1zM422.0 456.3h1v1h-1zM428.5 454.9h1v1h-1zM413.7 456.2h1v1h-1zM421.8 447.8h1v1h-1zM412.7 449.1h1v1h-1zM416.0 450.4h1v1h-1zM435.9 451.9h1v1h-1zM437.7 457.0h1v1h-1zM418.2 454.1h1v1h-1zM415.5 453.3h1v1h-1zM434.6 451.5h1v1h-1zM428.6 444.1h1v1h-1zM418.8 453.8h1v1h-1zM428.3 456.6h1v1h-1zM431.5 454.8h1v1h-1zM416.5 461.6h1v1h-1zM429.9 453.4h1v1h-1zM426.5 461.2h1v1h-1zM428.2 456.1h1v1h-1zM421.4 463.1h1v1h-1zM424.7 449.6h1v1h-1zM415.7 460.5h1v1h-1zM433.1 457.2h1v1h-1zM434.0 447.6h1v1h-1zM434.9 457.2h1v1h-1zM418.7 460.0h1v1h-1zM430.5 452.0h1v1h-1zM423.7 459.8h1v1h-1zM419.6 451.2h1v1h-1zM420.5 462.7h1v1h-1zM434.3 459.7h1v1h-1zM423.2 459.5h1v1h-1zM414.3 455.7h1v1h-1zM428.0 446.0h1v1h-1zM418.6 453.6h1v1h-1zM426.8 444.7h1v1h-1zM416.2 461.0h1v1h-1zM425.4 442.2h1v1h-1zM414.9 455.1h1v1h-1zM416.0 448.4h1v1h-1zM429.8 454.6h1v1h-1zM424.0 467.0h1v1h-1zM422.0 463.3h1v1h-1zM444.2 450.2h1v1h-1zM421.8 455.0h1v1h-1zM427.6 463.9h1v1h-1zM418.1 455.2h1v1h-1zM410.4 465.7h1v1h-1zM431.3 454.3h1v1h-1zM429.6 457.6h1v1h-1zM419.6 455.2h1v1h-1zM418.6 454.4h1v1h-1zM422.6 456.8h1v1h-1zM431.2 454.4h1v1h-1zM415.0 470.4h1v1h-1zM433.8 442.9h1v1h-1zM424.9 468.0h1v1h-1zM426.3 462.5h1v1h-1zM435.7 458.4h1v1h-1zM420.7 465.0h1v1h-1zM428.3 464.9h1v1h-1zM423.4 450.9h1v1h-1zM421.5 474.7h1v1h-1zM423.1 462.8h1v1h-1zM421.4 459.8h1v1h-1zM432.8 475.0h1v1h-1zM418.5 454.7h1v1h-1zM426.7 452.5h1v1h-1zM425.4 464.1h1v1h-1zM426.2 458.0h1v1h-1zM418.6 451.5h1v1h-1zM418.4 457.8h1v1h-1zM435.6 448.3h1v1h-1zM419.4 466.1h1v1h-1zM427.4 448.2h1v1h-1zM424.3 451.1h1v1h-1zM410.7 453.7h1v1h-1zM412.8 447.4h1v1h-1zM424.3 468.4h1v1h-1zM428.2 450.8h1v1h-1zM435.2 461.6h1v1h-1zM419.9 447.9h1v1h-1zM411.4 475.9h1v1h-1zM421.4 460.2h1v1h-1zM410.6 463.1h1v1h-1zM433.2 455.9h1v1h-1zM419.2 460.5h1v1h-1zM421.5 450.3h1v1h-1zM437.3 454.8h1v1h-1zM425.4 459.9h1v1h-1zM411.2 446.5h1v1h-1zM425.5 451.3h1v1h-1zM416.3 466.5h1v1h-1zM411.4 463.3h1v1h-1zM414.7 456.7h1v1h-1zM410.0 463.8h1v1h-1zM426.0 457.7h1v1h-1zM414.5 466.6h1v1h-1zM418.3 453.2h1v1h-1zM430.2 446.8h1v1h-1zM420.0 452.6h1v1h-1zM417.7 469.2h1v1h-1zM422.8 446.9h1v1h-1zM417.0 454.9h1v1h-1zM422.3 457.5h1v1h-1zM420.1 449.1h1v1h-1zM429.1 458.8h1v1h-1zM418.9 452.7h1v1h-1zM414.6 459.6h1v1h-1zM418.6 453.8h1v1h-1zM420.6 451.4h1v1h-1zM428.5 441.7h1v1h-1zM438.1 471.6h1v1h-1zM425.0 466.5h1v1h-1zM432.4 455.0h1v1h-1zM433.2 450.2h1v1h-1zM425.7 469.4h1v1h-1zM432.1 448.7h1v1h-1zM418.0 462.3h1v1h-1zM425.6 460.5h1v1h-1zM423.6 451.1h1v1h-1zM418.5 467.5h1v1h-1zM421.2 447.1h1v1h-1zM434.4 459.9h1v1h-1zM409.5 455.3h1v1h-1zM419.3 458.2h1v1h-1zM425.9 442.2h1v1h-1zM433.6 453.7h1v1h-1zM413.0 459.9h1v1h-1zM411.0 445.4h1v1h-1zM424.4 463.5h1v1h-1zM420.4 462.3h1v1h-1zM421.6 446.5h1v1h-1zM421.1 463.3h1v1h-1zM430.9 460.7h1v1h-1zM429.6 441.5h1v1h-1zM410.9 450.5h1v1h-1zM416.0 442.9h1v1h-1zM413.9 467.3h1v1h-1zM415.4 460.3h1v1h-1zM437.1 445.3h1v1h-1zM429.9 446.8h1v1h-1zM413.2 460.2h1v1h-1zM438.7 457.1h1v1h-1zM426.0 452.1h1v1h-1zM423.7 454.6h1v1h-1zM415.6 457.0h1v1h-1zM416.1 451.3h1v1h-1zM421.0 441.3h1v1h-1zM446.2 447.4h1v1h-1zM413.7 457.6h1v1h-1zM416.4 458.9h1v1h-1zM429.8 461.5h1v1h-1zM424.0 460.9h1v1h-1zM415.9 454.3h1v1h-1zM445.1 453.2h1v1h-1zM420.5 465.5h1v1h-1zM417.5 446.6h1v1h-1zM420.9 450.0h1v1h-1zM427.3 465.0h1v1h-1zM428.2 460.7h1v1h-1zM430.7 448.6h1v1h-1zM425.2 441.8h1v1h-1zM419.2 443.9h1v1h-1zM434.6 458.2h1v1h-1zM421.5 450.3h1v1h-1zM418.2 458.7h1v1h-1zM429.0 441.8h1v1h-1zM432.9 460.2h1v1h-1zM419.0 449.5h1v1h-1zM418.9 456.0h1v1h-1zM421.4 469.0h1v1h-1zM416.6 458.1h1v1h-1zM419.8 461.4h1v1h-1zM429.2 446.6h1v1h-1zM428.3 448.6h1v1h-1zM435.2 462.2h1v1h-1zM434.4 448.2h1v1h-1zM413.7 457.4h1v1h-1zM434.9 467.0h1v1h-1zM411.9 446.8h1v1h-1zM435.0 454.6h1v1h-1zM418.6 443.9h1v1h-1zM427.3 458.5h1v1h-1zM424.9 453.6h1v1h-1zM428.3 461.6h1v1h-1zM412.2 457.5h1v1h-1zM435.9 462.9h1v1h-1zM429.5 443.6h1v1h-1zM424.7 446.7h1v1h-1zM433.7 460.6h1v1h-1zM422.8 457.6h1v1h-1zM440.4 452.8h1v1h-1zM434.9 449.0h1v1h-1zM440.3 450.9h1v1h-1zM417.2 446.8h1v1h-1zM425.3 457.6h1v1h-1zM425.1 454.1h1v1h-1zM416.9 444.0h1v1h-1zM416.3 464.0h1v1h-1zM430.5 455.3h1v1h-1zM422.1 451.8h1v1h-1zM432.0 450.0h1v1h-1zM413.6 443.9h1v1h-1zM416.3 456.7h1v1h-1zM425.1 459.6h1v1h-1zM413.3 453.9h1v1h-1zM421.8 445.0h1v1h-1zM425.3 455.9h1v1h-1zM413.1 448.6h1v1h-1zM428.2 442.8h1v1h-1zM415.7 463.9h1v1h-1zM434.0 449.3h1v1h-1zM431.7 468.8h1v1h-1zM409.1 446.9h1v1h-1zM433.3 458.5h1v1h-1zM421.3 460.6h1v1h-1zM427.0 451.7h1v1h-1zM417.1 451.5h1v1h-1zM420.4 455.6h1v1h-1zM421.5 448.7h1v1h-1zM428.9 463.5h1v1h-1zM418.6 467.3h1v1h-1zM413.4 459.6h1v1h-1zM417.5 454.1h1v1h-1zM426.3 455.5h1v1h-1zM432.9 457.3h1v1h-1zM422.6 453.8h1v1h-1zM420.3 456.8h1v1h-1zM426.2 448.0h1v1h-1zM427.2 460.7h1v1h-1zM415.0 462.1h1v1h-1zM447.6 458.7h1v1h-1zM419.2 463.5h1v1h-1zM412.1 450.8h1v1h-1zM422.6 460.7h1v1h-1zM426.4 463.6h1v1h-1zM422.4 450.9h1v1h-1zM417.6 456.5h1v1h-1zM422.4 452.0h1v1h-1zM427.3 451.1h1v1h-1zM417.4 468.2h1v1h-1zM415.4 455.6h1v1h-1zM424.1 450.9h1v1h-1zM424.0 455.0h1v1h-1zM413.2 456.9h1v1h-1zM443.0 476.3h1v1h-1zM431.1 464.3h1v1h-1zM437.0 452.1h1v1h-1zM432.0 457.6h1v1h-1zM410.8 456.7h1v1h-1zM440.4 452.9h1v1h-1zM409.4 454.6h1v1h-1zM415.0 453.9h1v1h-1zM425.5 458.7h1v1h-1zM417.8 463.9h1v1h-1zM429.1 447.9h1v1h-1zM430.8 450.9h1v1h-1zM422.5 452.3h1v1h-1zM437.8 461.3h1v1h-1zM410.5 448.2h1v1h-1zM427.8 449.7h1v1h-1zM429.7 460.2h1v1h-1zM439.7 448.1h1v1h-1zM431.0 441.7h1v1h-1zM410.0 461.7h1v1h-1zM428.5 451.7h1v1h-1zM420.5 459.1h1v1h-1zM424.9 449.4h1v1h-1zM427.9 444.2h1v1h-1zM433.8 443.8h1v1h-1zM419.9 470.7h1v1h-1zM427.8 470.3h1v1h-1zM432.6 465.8h1v1h-1zM431.0 469.0h1v1h-1zM431.2 453.4h1v1h-1zM410.8 457.1h1v1h-1zM432.8 453.6h1v1h-1zM420.2 460.4h1v1h-1zM427.3 454.1h1v1h-1zM420.5 471.8h1v1h-1zM429.4 448.2h1v1h-1zM426.3 456.8h1v1h-1zM416.3 450.1h1v1h-1zM428.1 451.9h1v1h-1zM427.5 449.6h1v1h-1zM412.6 454.4h1v1h-1zM421.4 442.0h1v1h-1zM420.6 460.4h1v1h-1zM412.8 453.0h1v1h-1zM432.2 447.8h1v1h-1zM417.3 444.0h1v1h-1zM423.9 455.1h1v1h-1zM421.7 453.7h1v1h-1zM411.8 450.2h1v1h-1zM426.1 461.7h1v1h-1zM420.5 463.3h1v1h-1zM430.8 449.0h1v1h-1zM436.9 466.1h1v1h-1zM423.6 454.9h1v1h-1zM421.5 460.0h1v1h-1zM418.0 451.0h1v1h-1zM415.9 458.3h1v1h-1zM421.9 454.4h1v1h-1zM427.5 463.0h1v1h-1zM428.2 451.6h1v1h-1zM432.0 455.7h1v1h-1zM422.8 459.9h1v1h-1zM431.8 461.1h1v1h-1zM429.0 444.5h1v1h-1zM432.1 467.5h1v1h-1zM431.7 452.7h1v1h-1zM428.9 451.0h1v1h-1zM431.4 457.0h1v1h-1zM418.0 443.6h1v1h-1zM413.1 451.3h1v1h-1zM427.4 444.7h1v1h-1zM423.6 465.4h1v1h-1zM419.2 454.0h1v1h-1zM434.6 454.6h1v1h-1zM429.8 456.4h1v1h-1zM437.3 460.6h1v1h-1zM414.2 460.0h1v1h-1zM419.5 450.6h1v1h-1zM427.2 463.9h1v1h-1zM431.3 463.1h1v1h-1zM435.9 470.4h1v1h-1zM426.8 456.8h1v1h-1zM436.7 455.5h1v1h-1zM434.6 452.1h1v1h-1zM425.4 446.6h1v1h-1zM435.8 453.9h1v1h-1zM427.5 445.8h1v1h-1zM428.1 453.8h1v1h-1zM414.9 465.4h1v1h-1zM417.0 463.2h1v1h-1zM417.7 467.1h1v1h-1zM426.3 445.3h1v1h-1zM414.0 462.2h1v1h-1zM422.0 457.6h1v1h-1zM445.2 462.5h1v1h-1zM424.1 457.4h1v1h-1zM414.8 457.0h1v1h-1zM420.1 449.7h1v1h-1zM427.7 469.4h1v1h-1zM432.3 453.4h1v1h-1zM426.7 461.8h1v1h-1zM438.3 451.0h1v1h-1zM430.3 449.9h1v1h-1zM415.1 459.3h1v1h-1zM433.2 453.7h1v1h-1zM418.3 462.3h1v1h-1zM433.5 456.5h1v1h-1zM425.3 460.2h1v1h-1zM421.8 460.2h1v1h-1zM433.0 450.5h1v1h-1zM428.4 451.0h1v1h-1zM436.1 446.2h1v1h-1zM429.9 455.3h1v1h-1zM424.1 451.9h1v1h-1zM414.8 447.4h1v1h-1zM435.4 466.9h1v1h-1zM432.5 452.6h1v1h-1zM431.9 453.1h1v1h-1zM416.8 451.3h1v1h-1zM432.6 460.1h1v1h-1zM428.0 452.0h1v1h-1zM423.3 472.4h1v1h-1zM423.1 463.6h1v1h-1zM440.0 441.5h1v1h-1zM413.4 456.8h1v1h-1zM415.8 453.8h1v1h-1zM419.0 451.4h1v1h-1zM417.2 448.0h1v1h-1zM428.3 463.4h1v1h-1zM420.6 451.8h1v1h-1zM424.1 444.1h1v1h-1zM409.0 445.0h1v1h-1zM425.5 453.5h1v1h-1zM422.8 448.2h1v1h-1zM434.8 452.8h1v1h-1zM416.8 460.6h1v1h-1zM423.3 454.0h1v1h-1zM426.0 445.1h1v1h-1zM432.7 460.4h1v1h-1zM429.3 458.5h1v1h-1zM415.6 448.4h1v1h-1zM423.6 457.1h1v1h-1zM413.3 461.0h1v1h-1zM427.7 468.9h1v1h-1zM446.3 457.3h1v1h-1zM413.8 461.4h1v1h-1zM410.4 453.9h1v1h-1zM410.5 459.4h1v1h-1zM419.7 456.8h1v1h-1zM426.1 462.4h1v1h-1zM419.8 447.1h1v1h-1zM427.0 446.8h1v1h-1zM433.7 449.7h1v1h-1zM426.0 448.6h1v1h-1zM429.4 457.8h1v1h-1zM418.1 462.4h1v1h-1zM408.9 457.5h1v1h-1zM420.2 457.5h1v1h-1zM422.1 457.5h1v1h-1zM423.6 463.4h1v1h-1zM413.7 453.4h1v1h-1zM416.9 472.8h1v1h-1zM421.1 462.9h1v1h-1zM423.9 454.8h1v1h-1zM409.9 452.9h1v1h-1zM429.8 453.6h1v1h-1zM409.2 457.8h1v1h-1zM424.1 457.9h1v1h-1zM420.8 468.8h1v1h-1zM414.0 455.1h1v1h-1zM420.2 459.8h1v1h-1zM423.5 463.2h1v1h-1zM419.3 446.7h1v1h-1zM424.9 465.8h1v1h-1zM420.3 451.6h1v1h-1zM418.6 451.0h1v1h-1zM428.6 457.2h1v1h-1zM454.3 461.5h1v1h-1zM417.7 458.5h1v1h-1zM418.8 460.0h1v1h-1zM425.9 456.8h1v1h-1zM415.0 461.6h1v1h-1zM429.1 451.9h1v1h-1zM421.3 456.0h1v1h-1zM437.7 458.1h1v1h-1zM412.5 456.1h1v1h-1zM422.8 460.8h1v1h-1zM413.6 450.5h1v1h-1zM425.3 451.0h1v1h-1zM415.8 462.9h1v1h-1zM411.0 456.1h1v1h-1zM414.1 458.1h1v1h-1zM415.9 459.8h1v1h-1zM422.7 462.7h1v1h-1zM413.5 448.4h1v1h-1zM427.4 465.1h1v1h-1zM419.9 446.9h1v1h-1zM420.0 460.2h1v1h-1zM418.9 445.2h1v1h-1zM422.2 452.9h1v1h-1zM436.7 452.6h1v1h-1zM414.1 457.0h1v1h-1zM422.0 457.2h1v1h-1zM423.7 446.7h1v1h-1zM425.9 453.3h1v1h-1zM417.4 452.1h1v1h-1zM427.9 450.7h1v1h-1zM427.7 447.9h1v1h-1zM430.2 455.2h1v1h-1zM427.2 460.2h1v1h-1zM434.1 461.3h1v1h-1zM420.0 455.2h1v1h-1zM426.5 460.3h1v1h-1zM440.5 451.6h1v1h-1zM433.4 449.2h1v1h-1zM416.0 460.2h1v1h-1zM424.0 452.9h1v1h-1zM435.4 450.1h1v1h-1zM431.2 454.4h1v1h-1zM422.3 462.6h1v1h-1zM411.6 462.3h1v1h-1zM415.5 464.7h1v1h-1zM420.1 454.6h1v1h-1zM424.6 443.8h1v1h-1zM433.8 464.6h1v1h-1zM432.6 455.6h1v1h-1zM418.7 450.3h1v1h-1zM415.0 451.1h1v1h-1zM416.7 445.8h1v1h-1zM427.2 455.6h1v1h-1zM421.8 456.9h1v1h-1zM413.0 457.9h1v1h-1zM435.4 459.5h1v1h-1zM416.3 457.0h1v1h-1zM412.9 443.8h1v1h-1zM418.0 449.9h1v1h-1zM438.1 458.5h1v1h-1zM429.0 453.8h1v1h-1zM416.9 454.1h1v1h-1zM425.1 449.1h1v1h-1zM414.4 457.3h1v1h-1zM430.6 452.7h1v1h-1zM425.6 456.3h1v1h-1zM424.0 466.6h1v1h-1zM432.5 459.3h1v1h-1zM410.1 452.3h1v1h-1zM422.6 445.8h1v1h-1zM418.4 467.4h1v1h-1zM426.5 462.4h1v1h-1zM409.9 442.8h1v1h-1zM430.3 455.8h1v1h-1zM420.1 461.5h1v1h-1zM434.7 452.4h1v1h-1zM429.5 456.1h1v1h-1zM419.9 449.1h1v1h-1zM412.7 460.9h1v1h-1zM417.2 459.0h1v1h-1zM434.3 448.2h1v1h-1zM431.2 455.7h1v1h-1zM425.9 446.7h1v1h-1zM426.6 459.5h1v1h-1zM421.9 446.0h1v1h-1zM417.4 459.0h1v1h-1zM420.4 449.4h1v1h-1zM419.8 448.4h1v1h-1zM416.3 461.6h1v1h-1zM424.8 454.8h1v1h-1zM440.8 455.0h1v1h-1zM427.7 445.1h1v1h-1zM423.0 457.5h1v1h-1zM412.7 449.5h1v1h-1zM425.8 459.6h1v1h-1zM441.9 464.2h1v1h-1zM410.8 461.9h1v1h-1zM424.0 453.0h1v1h-1zM412.4 448.0h1v1h-1zM432.2 466.8h1v1h-1zM427.6 453.6h1v1h-1zM423.9 458.2h1v1h-1zM421.2 442.7h1v1h-1zM430.7 449.0h1v1h-1zM431.8 453.7h1v1h-1zM414.4 446.6h1v1h-1zM409.6 456.5h1v1h-1zM421.2 450.0h1v1h-1zM430.5 455.2h1v1h-1zM421.5 443.9h1v1h-1zM437.4 459.2h1v1h-1zM423.2 460.2h1v1h-1zM419.6 456.7h1v1h-1zM426.3 447.8h1v1h-1zM412.0 442.4h1v1h-1zM415.4 447.2h1v1h-1zM419.7 452.6h1v1h-1zM417.9 448.7h1v1h-1zM437.5 451.9h1v1h-1zM431.7 464.3h1v1h-1zM425.7 450.5h1v1h-1zM420.1 442.8h1v1h-1zM432.6 463.0h1v1h-1zM433.8 459.3h1v1h-1zM420.9 466.8h1v1h-1zM411.4 458.2h1v1h-1zM426.5 456.5h1v1h-1zM421.2 460.2h1v1h-1zM419.3 459.5h1v1h-1zM422.9 471.4h1v1h-1zM431.4 447.5h1v1h-1zM421.1 453.0h1v1h-1zM422.0 453.1h1v1h-1zM418.4 447.5h1v1h-1zM416.4 473.8h1v1h-1zM414.3 458.9h1v1h-1zM428.6 460.2h1v1h-1zM423.5 462.9h1v1h-1zM419.1 449.2h1v1h-1zM420.2 458.8h1v1h-1zM426.2 462.2h1v1h-1zM428.2 451.5h1v1h-1zM423.5 469.0h1v1h-1zM424.3 461.5h1v1h-1zM427.1 464.7h1v1h-1zM416.1 458.0h1v1h-1zM410.0 449.6h1v1h-1zM440.4 444.4h1v1h-1zM427.9 459.9h1v1h-1zM434.9 458.6h1v1h-1zM414.4 460.3h1v1h-1zM424.4 445.2h1v1h-1zM435.1 472.1h1v1h-1zM436.9 450.1h1v1h-1zM426.6 449.5h1v1h-1zM432.6 462.9h1v1h-1zM425.2 451.0h1v1h-1zM415.0 465.5h1v1h-1zM413.1 460.5h1v1h-1zM410.3 449.7h1v1h-1zM417.6 441.3h1v1h-1zM432.3 456.0h1v1h-1zM420.3 459.8h1v1h-1zM439.5 449.0h1v1h-1zM432.5 460.2h1v1h-1zM430.3 455.7h1v1h-1zM415.3 453.4h1v1h-1zM421.9 459.0h1v1h-1zM429.9 456.1h1v1h-1zM416.1 460.5h1v1h-1zM433.0 445.4h1v1h-1zM427.9 460.6h1v1h-1zM411.2 462.8h1v1h-1zM426.0 468.8h1v1h-1zM413.0 462.7h1v1h-1zM436.1 464.4h1v1h-1zM418.1 459.5h1v1h-1zM418.5 450.1h1v1h-1zM423.8 452.9h1v1h-1zM418.5 459.9h1v1h-1zM430.6 453.8h1v1h-1zM425.9 450.1h1v1h-1zM439.2 467.4h1v1h-1zM410.3 451.0h1v1h-1zM423.3 458.0h1v1h-1zM426.0 446.6h1v1h-1zM421.6 458.5h1v1h-1zM412.5 453.5h1v1h-1zM412.5 446.1h1v1h-1zM426.3 469.3h1v1h-1zM416.7 454.0h1v1h-1zM411.9 457.5h1v1h-1zM424.7 463.0h1v1h-1zM427.2 450.3h1v1h-1zM422.0 460.4h1v1h-1zM428.5 456.6h1v1h-1zM425.0 454.8h1v1h-1zM416.5 453.4h1v1h-1zM429.7 445.7h1v1h-1zM425.2 450.9h1v1h-1zM427.9 455.0h1v1h-1zM431.6 451.2h1v1h-1zM428.3 456.3h1v1h-1zM429.0 464.1h1v1h-1zM424.0 447.8h1v1h-1zM425.4 452.9h1v1h-1zM412.9 452.2h1v1h-1zM428.1 446.0h1v1h-1zM427.3 455.4h1v1h-1zM424.9 461.2h1v1h-1zM429.5 458.7h1v1h-1zM435.8 459.4h1v1h-1zM424.8 455.8h1v1h-1zM419.6 452.2h1v1h-1zM424.0 447.6h1v1h-1zM434.6 452.7h1v1h-1zM430.1 451.0h1v1h-1zM422.7 456.2h1v1h-1zM423.1 458.3h1v1h-1zM426.4 455.6h1v1h-1zM413.3 463.4h1v1h-1zM415.6 457.7h1v1h-1zM427.2 451.2h1v1h-1zM426.2 452.6h1v1h-1zM419.2 465.1h1v1h-1zM421.9 451.7h1v1h-1zM420.3 457.5h1v1h-1zM433.9 453.9h1v1h-1zM420.8 463.9h1v1h-1zM423.8 446.2h1v1h-1zM420.5 469.9h1v1h-1zM413.1 455.5h1v1h-1zM416.3 465.3h1v1h-1zM444.2 455.2h1v1h-1zM417.2 456.2h1v1h-1zM427.0 446.4h1v1h-1zM423.7 459.5h1v1h-1zM434.5 456.7h1v1h-1zM417.0 448.7h1v1h-1zM437.0 463.6h1v1h-1zM441.2 447.3h1v1h-1zM449.1 451.5h1v1h-1zM454.9 461.9h1v1h-1zM448.4 452.4h1v1h-1zM440.7 464.6h1v1h-1zM474.6 464.4h1v1h-1zM439.9 451.3h1v1h-1zM440.3 448.1h1v1h-1zM439.3 460.9h1v1h-1zM441.6 454.0h1v1h-1zM439.0 451.3h1v1h-1zM443.5 454.7h1v1h-1zM464.9 458.8h1v1h-1zM460.8 451.5h1v1h-1zM445.9 450.4h1v1h-1zM456.5 449.6h1v1h-1zM448.3 449.8h1v1h-1zM440.7 451.6h1v1h-1zM448.9 450.0h1v1h-1zM446.2 455.4h1v1h-1zM439.3 457.3h1v1h-1zM464.8 464.6h1v1h-1zM442.7 462.2h1v1h-1zM436.7 458.3h1v1h-1zM441.8 459.2h1v1h-1zM457.2 462.3h1v1h-1zM451.2 450.2h1v1h-1zM442.1 453.0h1v1h-1zM467.7 455.6h1v1h-1zM440.6 458.8h1v1h-1zM442.6 456.2h1v1h-1zM445.6 458.5h1v1h-1zM444.3 450.1h1v1h-1zM444.9 452.2h1v1h-1zM486.7 463.2h1v1h-1zM485.5 456.9h1v1h-1zM444.5 462.7h1v1h-1zM450.3 448.1h1v1h-1zM473.0 449.0h1v1h-1zM481.6 462.2h1v1h-1zM448.1 456.6h1v1h-1zM448.0 446.6h1v1h-1zM454.0 455.4h1v1h-1zM438.2 463.6h1v1h-1zM436.8 450.3h1v1h-1zM438.0 449.5h1v1h-1zM450.1 462.1h1v1h-1zM443.9 449.6h1v1h-1zM442.1 459.9h1v1h-1zM454.1 454.0h1v1h-1zM446.3 448.6h1v1h-1zM437.3 448.1h1v1h-1zM436.2 456.2h1v1h-1zM437.0 460.1h1v1h-1zM457.8 454.1h1v1h-1zM451.3 459.4h1v1h-1zM450.3 449.1h1v1h-1zM457.7 455.8h1v1h-1zM440.9 459.1h1v1h-1zM439.0 453.9h1v1h-1zM462.4 462.1h1v1h-1zM437.3 448.8h1v1h-1zM471.5 449.5h1v1h-1zM448.8 449.2h1v1h-1zM452.3 456.3h1v1h-1zM462.4 452.2h1v1h-1zM438.0 446.8h1v1h-1zM446.8 459.7h1v1h-1zM444.6 452.3h1v1h-1zM439.3 455.9h1v1h-1zM485.9 448.4h1v1h-1zM474.5 451.8h1v1h-1zM437.6 448.1h1v1h-1zM436.1 447.1h1v1h-1zM444.6 457.5h1v1h-1zM447.2 447.8h1v1h-1zM450.5 459.4h1v1h-1zM457.7 461.8h1v1h-1zM436.2 461.7h1v1h-1zM442.6 459.5h1v1h-1zM453.9 453.6h1v1h-1zM449.4 456.0h1v1h-1zM444.5 449.2h1v1h-1zM461.2 464.7h1v1h-1zM454.9 456.5h1v1h-1zM436.5 452.9h1v1h-1zM443.5 453.4h1v1h-1zM440.4 449.5h1v1h-1zM449.5 447.0h1v1h-1zM457.9 464.4h1v1h-1zM469.6 452.6h1v1h-1zM444.3 455.5h1v1h-1zM482.4 448.6h1v1h-1zM442.0 456.7h1v1h-1zM479.5 458.5h1v1h-1zM478.2 448.6h1v1h-1zM472.7 452.3h1v1h-1zM436.1 462.8h1v1h-1zM437.7 454.8h1v1h-1zM481.1 451.2h1v1h-1zM437.0 464.8h1v1h-1zM449.5 446.6h1v1h-1zM438.3 450.3h1v1h-1zM438.3 448.6h1v1h-1zM440.1 462.0h1v1h-1zM469.8 464.4h1v1h-1zM455.9 456.2h1v1h-1zM463.6 454.2h1v1h-1zM436.9 461.1h1v1h-1zM476.1 459.8h1v1h-1zM449.7 464.7h1v1h-1zM445.9 456.9h1v1h-1zM439.1 458.9h1v1h-1zM461.7 456.4h1v1h-1zM470.5 456.2h1v1h-1zM438.2 454.6h1v1h-1zM441.7 448.0h1v1h-1zM449.8 454.3h1v1h-1zM474.5 462.1h1v1h-1zM455.3 453.1h1v1h-1zM451.5 462.7h1v1h-1zM437.1 458.6h1v1h-1zM459.0 450.3h1v1h-1zM460.6 461.4h1v1h-1zM440.3 453.8h1v1h-1zM442.7 454.3h1v1h-1zM477.2 449.2h1v1h-1zM448.6 455.3h1v1h-1zM451.8 448.6h1v1h-1zM438.6 449.8h1v1h-1zM447.2 464.0h1v1h-1zM441.6 453.4h1v1h-1zM446.2 457.5h1v1h-1zM462.2 449.6h1v1h-1zM439.6 455.2h1v1h-1zM438.0 452.4h1v1h-1zM437.1 463.1h1v1h-1zM466.6 461.9h1v1h-1zM440.2 457.8h1v1h-1zM437.6 458.7h1v1h-1zM453.0 454.5h1v1h-1zM442.6 460.0h1v1h-1zM440.8 454.6h1v1h-1zM438.9 449.6h1v1h-1zM444.8 459.5h1v1h-1zM449.8 454.7h1v1h-1zM442.8 448.8h1v1h-1zM438.5 462.1h1v1h-1zM463.5 455.2h1v1h-1zM486.4 457.2h1v1h-1zM444.3 456.4h1v1h-1zM444.6 458.2h1v1h-1zM452.9 447.9h1v1h-1zM445.8 460.9h1v1h-1zM439.5 447.4h1v1h-1zM442.1 464.6h1v1h-1zM452.2 452.7h1v1h-1zM439.4 464.3h1v1h-1zM456.2 463.9h1v1h-1zM440.2 462.9h1v1h-1zM453.9 461.6h1v1h-1zM468.8 460.1h1v1h-1zM476.0 461.4h1v1h-1zM446.1 464.5h1v1h-1zM455.7 463.6h1v1h-1zM463.4 453.0h1v1h-1zM459.6 452.3h1v1h-1zM469.2 461.5h1v1h-1zM441.9 460.9h1v1h-1zM453.0 452.6h1v1h-1zM441.0 458.9h1v1h-1zM437.0 461.6h1v1h-1zM452.3 461.6h1v1h-1zM436.9 450.7h1v1h-1zM460.6 449.4h1v1h-1zM456.6 459.2h1v1h-1zM442.8 458.5h1v1h-1zM444.5 455.3h1v1h-1zM439.8 452.0h1v1h-1zM465.5 449.8h1v1h-1zM446.0 451.0h1v1h-1zM453.1 449.9h1v1h-1zM444.4 462.8h1v1h-1zM474.0 450.0h1v1h-1zM453.1 447.0h1v1h-1zM439.3 462.5h1v1h-1zM460.9 461.9h1v1h-1zM444.7 449.6h1v1h-1zM454.5 446.9h1v1h-1zM441.2 464.1h1v1h-1zM472.0 457.6h1v1h-1zM457.0 452.6h1v1h-1zM440.9 458.9h1v1h-1zM450.9 458.1h1v1h-1zM464.1 461.2h1v1h-1zM464.5 458.6h1v1h-1zM441.4 448.0h1v1h-1zM443.4 458.6h1v1h-1zM452.3 454.0h1v1h-1zM452.7 450.9h1v1h-1zM437.6 458.9h1v1h-1zM463.8 464.2h1v1h-1zM450.5 462.7h1v1h-1zM452.9 452.8h1v1h-1zM456.6 455.2h1v1h-1zM442.7 446.0h1v1h-1zM464.7 458.3h1v1h-1zM484.9 455.3h1v1h-1zM475.5 453.8h1v1h-1zM466.2 457.0h1v1h-1zM454.7 454.8h1v1h-1zM466.7 450.7h1v1h-1zM455.0 456.1h1v1h-1zM452.4 456.2h1v1h-1zM462.0 457.7h1v1h-1zM446.5 464.6h1v1h-1zM445.3 447.4h1v1h-1zM445.7 455.9h1v1h-1zM442.2 463.9h1v1h-1zM439.2 455.9h1v1h-1zM444.7 451.9h1v1h-1zM438.8 461.7h1v1h-1zM473.5 457.6h1v1h-1zM443.4 457.7h1v1h-1zM452.6 447.6h1v1h-1zM449.9 454.9h1v1h-1zM437.0 456.9h1v1h-1zM438.2 455.5h1v1h-1zM438.5 449.1h1v1h-1zM437.0 450.0h1v1h-1zM439.6 448.2h1v1h-1zM484.5 452.8h1v1h-1zM463.4 447.9h1v1h-1zM447.6 457.5h1v1h-1zM461.4 460.0h1v1h-1zM436.2 461.4h1v1h-1zM441.7 454.7h1v1h-1zM448.6 464.6h1v1h-1zM450.2 453.2h1v1h-1zM472.8 454.2h1v1h-1zM457.2 458.7h1v1h-1zM445.4 446.7h1v1h-1zM457.9 455.9h1v1h-1zM437.7 463.3h1v1h-1zM436.3 456.7h1v1h-1zM443.9 456.0h1v1h-1zM454.0 457.8h1v1h-1zM437.0 461.8h1v1h-1zM449.6 458.3h1v1h-1zM461.0 450.0h1v1h-1zM452.4 455.1h1v1h-1zM453.7 452.1h1v1h-1zM445.1 459.7h1v1h-1zM468.7 462.2h1v1h-1zM471.5 460.0h1v1h-1zM483.1 456.9h1v1h-1zM448.7 462.2h1v1h-1zM443.6 461.1h1v1h-1zM465.3 446.9h1v1h-1zM470.3 451.5h1v1h-1zM445.0 446.6h1v1h-1zM444.3 452.5h1v1h-1zM455.2 448.2h1v1h-1zM452.4 461.4h1v1h-1zM451.5 449.8h1v1h-1zM449.1 453.2h1v1h-1zM456.3 453.4h1v1h-1zM436.4 454.9h1v1h-1zM439.4 449.4h1v1h-1zM438.2 451.3h1v1h-1zM460.2 457.3h1v1h-1zM450.6 449.6h1v1h-1zM446.1 457.9h1v1h-1zM451.0 449.3h1v1h-1zM444.4 446.1h1v1h-1zM466.9 454.3h1v1h-1zM459.2 453.7h1v1h-1zM450.8 452.5h1v1h-1zM450.8 464.5h1v1h-1zM453.4 462.1h1v1h-1zM462.7 448.7h1v1h-1zM458.3 450.1h1v1h-1zM448.8 446.0h1v1h-1zM472.5 463.9h1v1h-1zM466.0 452.1h1v1h-1zM443.3 446.6h1v1h-1zM445.0 456.8h1v1h-1zM452.4 457.8h1v1h-1zM438.4 464.6h1v1h-1zM449.2 463.1h1v1h-1zM456.3 446.3h1v1h-1zM463.3 448.2h1v1h-1zM454.4 446.3h1v1h-1zM439.3 449.2h1v1h-1zM472.4 449.1h1v1h-1zM441.5 452.5h1v1h-1zM440.9 458.0h1v1h-1zM451.2 456.1h1v1h-1zM442.8 461.6h1v1h-1zM485.6 459.5h1v1h-1zM451.8 454.2h1v1h-1zM438.7 447.2h1v1h-1zM463.7 453.8h1v1h-1zM441.3 455.7h1v1h-1zM466.6 453.8h1v1h-1zM437.7 457.6h1v1h-1zM441.4 459.9h1v1h-1zM441.9 463.1h1v1h-1zM441.2 451.9h1v1h-1zM451.9 460.1h1v1h-1zM438.3 455.1h1v1h-1zM441.3 452.8h1v1h-1zM446.2 453.5h1v1h-1zM445.6 459.3h1v1h-1zM458.6 457.5h1v1h-1zM448.8 462.9h1v1h-1zM446.9 458.8h1v1h-1zM443.5 452.5h1v1h-1zM442.9 447.7h1v1h-1zM456.9 463.2h1v1h-1zM442.7 464.9h1v1h-1zM462.5 460.2h1v1h-1zM455.7 446.1h1v1h-1zM439.0 454.6h1v1h-1zM486.0 446.9h1v1h-1zM445.1 458.0h1v1h-1zM437.4 464.9h1v1h-1zM436.7 460.9h1v1h-1zM436.5 453.2h1v1h-1zM446.7 457.6h1v1h-1zM465.4 462.2h1v1h-1zM477.1 448.9h1v1h-1zM465.2 457.7h1v1h-1zM469.8 451.7h1v1h-1zM455.9 464.9h1v1h-1zM438.3 451.8h1v1h-1zM459.2 460.0h1v1h-1zM447.1 450.8h1v1h-1zM439.1 459.6h1v1h-1zM455.7 447.9h1v1h-1zM447.3 460.2h1v1h-1zM439.8 462.2h1v1h-1zM441.2 462.6h1v1h-1zM463.9 451.0h1v1h-1zM438.1 461.5h1v1h-1zM441.0 461.5h1v1h-1zM443.8 449.3h1v1h-1zM451.1 453.9h1v1h-1zM441.0 446.4h1v1h-1zM481.7 461.7h1v1h-1zM437.1 455.8h1v1h-1zM479.0 446.7h1v1h-1zM474.6 457.9h1v1h-1zM446.1 449.3h1v1h-1zM457.6 456.2h1v1h-1zM437.3 456.2h1v1h-1zM441.5 457.8h1v1h-1zM449.8 462.0h1v1h-1zM443.4 457.2h1v1h-1zM439.6 449.8h1v1h-1zM466.7 450.6h1v1h-1zM441.7 462.0h1v1h-1zM442.4 454.5h1v1h-1zM473.8 453.2h1v1h-1zM453.7 460.9h1v1h-1zM461.7 446.1h1v1h-1zM457.4 451.5h1v1h-1zM444.7 447.1h1v1h-1zM470.0 463.3h1v1h-1zM437.9 449.8h1v1h-1zM446.0 459.9h1v1h-1zM443.7 446.7h1v1h-1zM437.9 453.8h1v1h-1zM442.3 457.3h1v1h-1zM452.5 460.2h1v1h-1zM449.2 449.9h1v1h-1zM474.4 455.6h1v1h-1zM459.3 447.4h1v1h-1zM439.6 454.5h1v1h-1zM423.9 491.0h1v1h-1zM423.2 469.1h1v1h-1zM430.4 470.4h1v1h-1zM442.2 468.1h1v1h-1zM416.4 470.8h1v1h-1zM421.6 483.0h1v1h-1zM417.8 475.7h1v1h-1zM421.6 481.7h1v1h-1zM440.5 482.7h1v1h-1zM414.7 481.9h1v1h-1zM424.7 484.7h1v1h-1zM411.5 481.7h1v1h-1zM438.4 478.2h1v1h-1zM423.4 471.6h1v1h-1zM436.3 470.2h1v1h-1zM421.2 469.5h1v1h-1zM430.8 481.7h1v1h-1zM436.5 478.2h1v1h-1zM425.3 470.8h1v1h-1zM443.9 468.8h1v1h-1zM428.5 474.1h1v1h-1zM446.4 472.3h1v1h-1zM430.6 476.5h1v1h-1zM426.7 467.0h1v1h-1zM441.1 476.1h1v1h-1zM449.4 471.2h1v1h-1zM445.2 469.5h1v1h-1zM426.2 476.2h1v1h-1zM444.2 467.2h1v1h-1zM443.5 467.3h1v1h-1zM443.5 485.9h1v1h-1zM439.3 483.6h1v1h-1zM446.6 482.9h1v1h-1zM435.7 476.1h1v1h-1zM449.0 481.0h1v1h-1zM422.8 468.3h1v1h-1zM419.0 473.7h1v1h-1zM426.3 475.9h1v1h-1zM433.5 468.4h1v1h-1zM441.4 475.0h1v1h-1zM423.8 477.5h1v1h-1zM412.0 468.0h1v1h-1zM416.7 470.7h1v1h-1zM415.5 482.2h1v1h-1zM436.6 475.1h1v1h-1zM411.7 467.2h1v1h-1zM439.2 469.5h1v1h-1zM426.1 480.0h1v1h-1zM446.0 475.8h1v1h-1zM425.8 483.7h1v1h-1zM414.4 481.4h1v1h-1zM443.8 492.9h1v1h-1zM445.1 470.6h1v1h-1zM413.2 467.5h1v1h-1zM437.1 484.5h1v1h-1zM414.9 469.2h1v1h-1zM421.4 475.0h1v1h-1zM415.5 471.6h1v1h-1zM432.7 482.7h1v1h-1zM448.8 491.3h1v1h-1zM412.7 499.6h1v1h-1zM440.7 473.4h1v1h-1zM411.1 472.3h1v1h-1zM441.8 472.2h1v1h-1zM414.9 467.3h1v1h-1zM449.5 485.9h1v1h-1zM446.3 470.8h1v1h-1zM419.2 475.2h1v1h-1zM415.0 474.3h1v1h-1zM430.2 478.5h1v1h-1zM436.7 505.6h1v1h-1zM419.8 472.3h1v1h-1zM412.9 470.3h1v1h-1zM449.7 476.4h1v1h-1zM445.9 480.8h1v1h-1zM449.6 487.6h1v1h-1zM413.1 476.5h1v1h-1zM421.3 468.6h1v1h-1zM428.2 480.1h1v1h-1zM424.3 494.6h1v1h-1zM428.7 468.3h1v1h-1zM448.6 472.2h1v1h-1zM437.6 478.5h1v1h-1zM448.7 469.8h1v1h-1zM449.2 477.9h1v1h-1zM449.6 496.4h1v1h-1zM444.0 468.0h1v1h-1zM435.7 468.1h1v1h-1zM412.8 475.1h1v1h-1zM433.7 483.4h1v1h-1zM415.6 481.9h1v1h-1zM417.8 468.6h1v1h-1zM436.7 476.8h1v1h-1zM437.1 476.9h1v1h-1zM419.7 473.1h1v1h-1zM446.1 467.5h1v1h-1zM414.4 511.0h1v1h-1zM442.5 475.5h1v1h-1zM423.8 475.2h1v1h-1zM442.7 479.4h1v1h-1zM417.0 474.5h1v1h-1zM412.6 476.7h1v1h-1zM447.3 472.1h1v1h-1zM420.8 485.5h1v1h-1zM449.2 485.6h1v1h-1zM417.8 467.7h1v1h-1zM441.6 479.4h1v1h-1zM434.5 478.7h1v1h-1zM432.2 473.2h1v1h-1zM416.1 502.9h1v1h-1zM437.9 504.9h1v1h-1zM437.1 502.6h1v1h-1zM431.3 501.6h1v1h-1zM430.4 503.2h1v1h-1zM425.6 505.0h1v1h-1zM438.7 504.2h1v1h-1zM422.7 505.4h1v1h-1zM434.4 503.0h1v1h-1zM440.4 504.5h1v1h-1zM422.8 504.9h1v1h-1zM422.7 503.4h1v1h-1zM422.2 502.4h1v1h-1zM426.0 504.7h1v1h-1zM414.1 501.9h1v1h-1zM420.1 502.2h1v1h-1zM417.1 504.9h1v1h-1zM417.3 502.0h1v1h-1zM428.1 488.1h1v1h-1zM458.2 492.2h1v1h-1zM441.3 488.8h1v1h-1zM443.8 487.6h1v1h-1zM446.6 502.6h1v1h-1zM450.1 480.2h1v1h-1zM459.0 501.9h1v1h-1zM443.1 502.9h1v1h-1z" fill="#000"/><rect x="408.3" y="440.3" width="103.1" height="100.5" fill="none" stroke="#333" stroke-width="0.9"/><line x1="435.2" y1="440.3" x2="435.2" y2="540.8" stroke="#111" stroke-width="1.1"/><line x1="408.3" y1="515.2" x2="511.4" y2="515.2" stroke="#333" stroke-width="0.9"/><path d="M408.3 540.8v3.5 M416.06 540.8v2 M420.6 540.8v2 M423.82 540.8v2 M426.32 540.8v2 M428.36 540.8v2 M430.08 540.8v2 M431.58 540.8v2 M432.9 540.8v2 M434.07 540.8v3.5 M441.83 540.8v2 M446.37 540.8v2 M449.59 540.8v2 M452.09 540.8v2 M454.13 540.8v2 M455.86 540.8v2 M457.35 540.8v2 M458.67 540.8v2 M459.85 540.8v3.5 M467.61 540.8v2 M472.15 540.8v2 M475.37 540.8v2 M477.87 540.8v2 M479.91 540.8v2 M481.63 540.8v2 M483.13 540.8v2 M484.45 540.8v2 M485.62 540.8v3.5 M493.38 540.8v2 M497.92 540.8v2 M501.14 540.8v2 M503.64 540.8v2 M505.68 540.8v2 M507.41 540.8v2 M508.9 540.8v2 M510.22 540.8v2 M511.4 540.8v3.5 M408.3 540.8h-3.5 M408.3 533.24h-2 M408.3 528.81h-2 M408.3 525.67h-2 M408.3 523.24h-2 M408.3 521.25h-2 M408.3 519.57h-2 M408.3 518.11h-2 M408.3 516.82h-2 M408.3 515.67h-3.5 M408.3 508.11h-2 M408.3 503.69h-2 M408.3 500.55h-2 M408.3 498.11h-2 M408.3 496.12h-2 M408.3 494.44h-2 M408.3 492.98h-2 M408.3 491.7h-2 M408.3 490.55h-3.5 M408.3 482.99h-2 M408.3 478.56h-2 M408.3 475.42h-2 M408.3 472.99h-2 M408.3 471h-2 M408.3 469.32h-2 M408.3 467.86h-2 M408.3 466.57h-2 M408.3 465.43h-3.5 M408.3 457.86h-2 M408.3 453.44h-2 M408.3 450.3h-2 M408.3 447.86h-2 M408.3 445.87h-2 M408.3 444.19h-2 M408.3 442.73h-2 M408.3 441.45h-2 M408.3 440.3h-3.5" stroke="#222" stroke-width="0.6" fill="none"/><text x="402.8" y="540.8" font-size="6.5" fill="#333" text-anchor="middle" transform="rotate(-90 402.8 540.8)">10<tspan dy="-3" font-size="5">0</tspan></text><text x="402.8" y="515.67" font-size="6.5" fill="#333" text-anchor="middle" transform="rotate(-90 402.8 515.67)">10<tspan dy="-3" font-size="5">1</tspan></text><text x="402.8" y="490.55" font-size="6.5" fill="#333" text-anchor="middle" transform="rotate(-90 402.8 490.55)">10<tspan dy="-3" font-size="5">2</tspan></text><text x="402.8" y="465.43" font-size="6.5" fill="#333" text-anchor="middle" transform="rotate(-90 402.8 465.43)">10<tspan dy="-3" font-size="5">3</tspan></text><text x="402.8" y="440.3" font-size="6.5" fill="#333" text-anchor="middle" transform="rotate(-90 402.8 440.3)">10<tspan dy="-3" font-size="5">4</tspan></text><text x="404.3" y="551" font-size="6.5" fill="#333">10<tspan dy="-3" font-size="5">0</tspan></text><text x="430.07" y="551" font-size="6.5" fill="#333">10<tspan dy="-3" font-size="5">1</tspan></text><text x="455.85" y="551" font-size="6.5" fill="#333">10<tspan dy="-3" font-size="5">2</tspan></text><text x="481.62" y="551" font-size="6.5" fill="#333">10<tspan dy="-3" font-size="5">3</tspan></text><text x="507.4" y="551" font-size="6.5" fill="#333">10<tspan dy="-3" font-size="5">4</tspan></text><text x="473" y="512.5" font-size="18.8" font-weight="bold" fill="#d6141e">14%</text><text x="446.8" y="563.7" font-size="11.6" font-weight="bold" fill="#111">CD107</text><text x="394.3" y="487" font-size="11.3" font-weight="bold" fill="#111" text-anchor="middle" transform="rotate(-90 394.3 487)">CD56</text><text x="3" y="598.5" font-size="23" font-weight="bold" fill="#000">D</text><line x1="100" y1="578.2" x2="100" y2="718.6" stroke="#888" stroke-width="1.3"/><line x1="100" y1="718.6" x2="405" y2="718.6" stroke="#999" stroke-width="1.2"/><path d="M96 718.6h4 M96 695.2h4 M96 671.8h4 M96 648.4h4 M96 625h4 M96 601.6h4 M96 578.2h4 M100 718.6v4 M150.83 718.6v4 M201.66 718.6v4 M252.49 718.6v4 M303.32 718.6v4 M354.15 718.6v4 M404.98 718.6v4" stroke="#888" stroke-width="1" fill="none"/><text x="91.8" y="721.6" font-size="8.3" font-weight="bold" fill="#444" text-anchor="end" letter-spacing="0.4">0</text><text x="91.8" y="698.2" font-size="8.3" font-weight="bold" fill="#444" text-anchor="end" letter-spacing="0.4">10</text><text x="91.8" y="674.8" font-size="8.3" font-weight="bold" fill="#444" text-anchor="end" letter-spacing="0.4">20</text><text x="91.8" y="651.4" font-size="8.3" font-weight="bold" fill="#444" text-anchor="end" letter-spacing="0.4">30</text><text x="91.8" y="628" font-size="8.3" font-weight="bold" fill="#444" text-anchor="end" letter-spacing="0.4">40</text><text x="91.8" y="604.6" font-size="8.3" font-weight="bold" fill="#444" text-anchor="end" letter-spacing="0.4">50</text><text x="91.8" y="581.2" font-size="8.3" font-weight="bold" fill="#444" text-anchor="end" letter-spacing="0.4">60</text><text x="125.7" y="733.2" font-size="7.6" font-weight="bold" fill="#555" text-anchor="middle" letter-spacing="0.6">1:1</text><text x="177.1" y="733.2" font-size="7.6" font-weight="bold" fill="#555" text-anchor="middle" letter-spacing="0.6">2:1</text><text x="227.3" y="733.2" font-size="7.6" font-weight="bold" fill="#555" text-anchor="middle" letter-spacing="0.6">5:1</text><text x="278.3" y="733.2" font-size="7.6" font-weight="bold" fill="#555" text-anchor="middle" letter-spacing="0.6">10:1</text><text x="329.1" y="733.2" font-size="7.6" font-weight="bold" fill="#555" text-anchor="middle" letter-spacing="0.6">20:1</text><text x="379.8" y="733.2" font-size="7.6" font-weight="bold" fill="#555" text-anchor="middle" letter-spacing="0.6">30:1</text><text x="148.5" y="753.8" font-size="16.85" fill="#111">NK Cell: Target Cell Ratio</text><text x="68.5" y="653" font-size="17.2" fill="#111" text-anchor="middle" transform="rotate(-90 68.5 653)">% Target Cell Lysis</text><polyline points="125.4,717.2 176.8,717.2 227,717.43 278,717.43 328.8,717.2 379.5,717.2" fill="none" stroke="#e41a1a" stroke-width="2.2" stroke-linejoin="round"/><polyline points="125.4,718.6 176.8,716.49 227,718.6 278,716.49 328.8,702.22 379.5,697.54" fill="none" stroke="#e41a1a" stroke-width="2.3" stroke-linejoin="round"/><circle cx="125.4" cy="718.6" r="4.1" fill="#e41a1a"/><circle cx="176.8" cy="716.49" r="4.1" fill="#e41a1a"/><circle cx="227" cy="718.6" r="4.1" fill="#e41a1a"/><circle cx="278" cy="716.49" r="4.1" fill="#e41a1a"/><circle cx="328.8" cy="702.22" r="4.1" fill="#e41a1a"/><circle cx="379.5" cy="697.54" r="4.1" fill="#e41a1a"/><polyline points="125.4,716.26 176.8,713.69 227,709.71 278,709.71 328.8,697.54 379.5,688.18" fill="none" stroke="#1a1ad2" stroke-width="2.2" stroke-linejoin="round"/><polyline points="125.4,709.01 176.8,704.56 227,685.84 278,667.12 328.8,622.66 379.5,592.24" fill="none" stroke="#1a1ad2" stroke-width="2.8" stroke-linejoin="round"/><circle cx="125.4" cy="709.01" r="4.1" fill="#1a1ad2"/><circle cx="176.8" cy="704.56" r="4.1" fill="#1a1ad2"/><circle cx="227" cy="685.84" r="4.1" fill="#1a1ad2"/><circle cx="278" cy="667.12" r="4.1" fill="#1a1ad2"/><circle cx="328.8" cy="622.66" r="4.1" fill="#1a1ad2"/><circle cx="379.5" cy="592.24" r="4.1" fill="#1a1ad2"/><text x="388" y="599" font-size="16.7" fill="#24308c">IL2-stimulated</text><text x="388" y="614.9" font-size="16.7" fill="#24308c">Control NK cells</text><text x="389" y="659.5" font-size="16.7" fill="#24308c">Unstimulated</text><text x="388" y="674.9" font-size="16.7" fill="#24308c">Control NK Cells</text><text x="390.5" y="693" font-size="16.7" fill="#c82830">IL2-stimulated</text><text x="390.5" y="708.3" font-size="16.7" fill="#c82830">Patient NK Cells</text><text x="390" y="727.8" font-size="16.7" fill="#c82830">Unstimulated</text><text x="390.5" y="743.2" font-size="16.7" fill="#c82830">Patient NK Cells</text></svg></body></html>
